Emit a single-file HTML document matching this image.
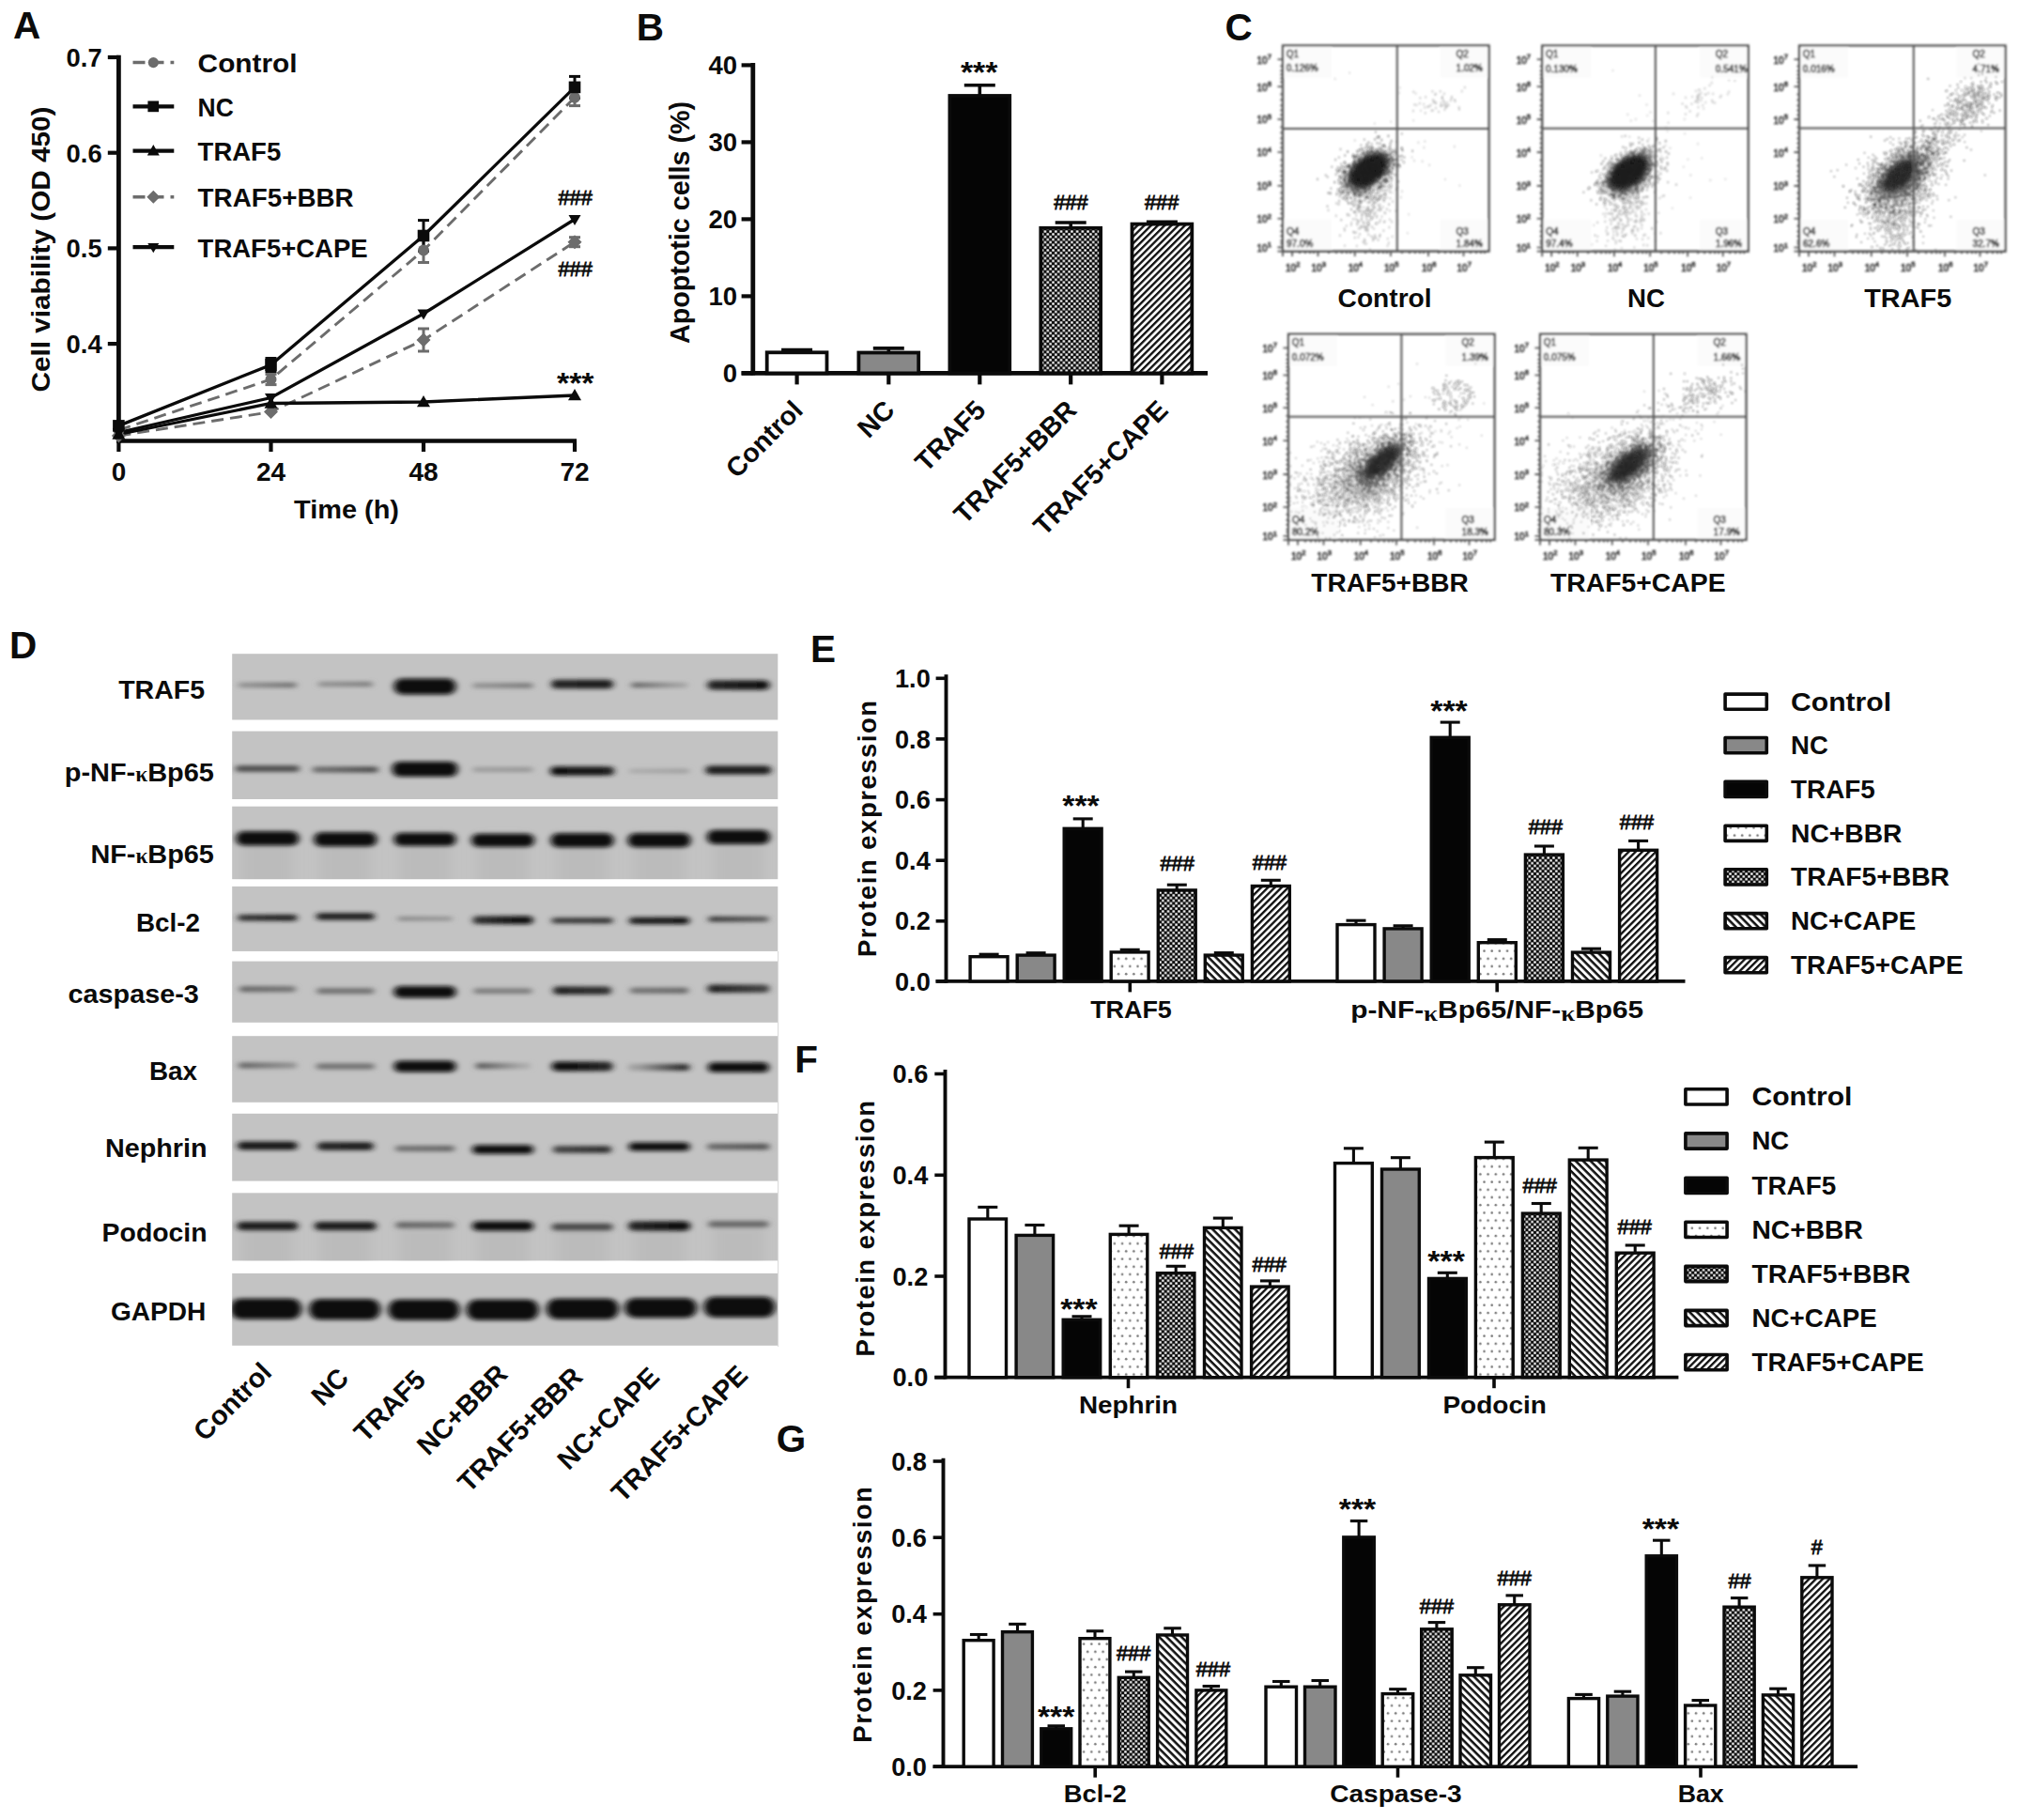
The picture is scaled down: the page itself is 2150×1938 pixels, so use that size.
<!DOCTYPE html>
<html lang="en"><head><meta charset="utf-8"><title>Figure</title>
<style>
html,body{margin:0;padding:0;background:#fff;}
body{width:2150px;height:1938px;overflow:hidden;}
svg{display:block;font-family:"Liberation Sans", sans-serif;font-weight:bold;fill:#0b0b0b;filter:blur(0.55px);}
</style></head><body>
<svg width="2150" height="1938" viewBox="0 0 2150 1938">
<defs>
<pattern id="pDots" width="8.2" height="16.4" patternUnits="userSpaceOnUse"><rect width="8.2" height="16.4" fill="#fff"/><circle cx="2" cy="4" r="1.3" fill="#808080"/><circle cx="6.1" cy="12.2" r="1.3" fill="#808080"/></pattern>
<pattern id="pChk" width="5.7" height="5.7" patternUnits="userSpaceOnUse"><rect width="5.7" height="5.7" fill="#0b0b0b"/><rect x="0.2" y="0.2" width="2.5" height="2.5" rx="0.6" fill="#fff"/><rect x="3.05" y="3.05" width="2.5" height="2.5" rx="0.6" fill="#fff"/></pattern>
<pattern id="pBs" width="5.6" height="5.6" patternUnits="userSpaceOnUse" patternTransform="rotate(45)"><rect width="5.6" height="5.6" fill="#fff"/><rect x="0" y="0" width="5.6" height="2.55" fill="#111"/></pattern>
<pattern id="pFs" width="5.1" height="5.1" patternUnits="userSpaceOnUse" patternTransform="rotate(-45)"><rect width="5.1" height="5.1" fill="#fff"/><rect x="0" y="0" width="5.1" height="2.35" fill="#111"/></pattern>
<filter id="b1" x="-20%" y="-80%" width="140%" height="260%"><feGaussianBlur stdDeviation="3.6 1.9"/></filter>
<filter id="b2" x="-20%" y="-60%" width="140%" height="220%"><feGaussianBlur stdDeviation="3 2.2"/></filter>
<filter id="b0" x="-5%" y="-5%" width="110%" height="110%"><feGaussianBlur stdDeviation="0.7"/></filter>
<filter id="bp" x="-5%" y="-5%" width="110%" height="110%"><feGaussianBlur stdDeviation="0.7"/></filter>
<filter id="bq" x="-20%" y="-10%" width="130%" height="125%"><feGaussianBlur stdDeviation="0.8"/></filter>
<filter id="b3" x="-20%" y="-30%" width="140%" height="160%"><feGaussianBlur stdDeviation="6 5"/></filter>
</defs>
<rect width="2150" height="1938" fill="#fff"/>
<text x="14.0" y="41.1" font-size="40.5">A</text>
<line x1="126.4" y1="58.8" x2="126.4" y2="471.7" stroke="#0b0b0b" stroke-width="4.8"/>
<line x1="124.4" y1="469.5" x2="614.0" y2="469.5" stroke="#0b0b0b" stroke-width="4.6"/>
<line x1="114.8" y1="61.0" x2="126.4" y2="61.0" stroke="#0b0b0b" stroke-width="4.2"/>
<text x="108.6" y="70.8" font-size="27.5" text-anchor="end" textLength="38.0" lengthAdjust="spacingAndGlyphs">0.7</text>
<line x1="114.8" y1="162.7" x2="126.4" y2="162.7" stroke="#0b0b0b" stroke-width="4.2"/>
<text x="108.6" y="172.5" font-size="27.5" text-anchor="end" textLength="38.0" lengthAdjust="spacingAndGlyphs">0.6</text>
<line x1="114.8" y1="264.4" x2="126.4" y2="264.4" stroke="#0b0b0b" stroke-width="4.2"/>
<text x="108.6" y="274.2" font-size="27.5" text-anchor="end" textLength="38.0" lengthAdjust="spacingAndGlyphs">0.5</text>
<line x1="114.8" y1="366.1" x2="126.4" y2="366.1" stroke="#0b0b0b" stroke-width="4.2"/>
<text x="108.6" y="375.9" font-size="27.5" text-anchor="end" textLength="38.0" lengthAdjust="spacingAndGlyphs">0.4</text>
<line x1="126.4" y1="469.5" x2="126.4" y2="481.0" stroke="#0b0b0b" stroke-width="4.2"/>
<text x="126.4" y="511.6" font-size="27.5" text-anchor="middle" textLength="15.5" lengthAdjust="spacingAndGlyphs">0</text>
<line x1="288.5" y1="469.5" x2="288.5" y2="481.0" stroke="#0b0b0b" stroke-width="4.2"/>
<text x="288.5" y="511.6" font-size="27.5" text-anchor="middle" textLength="31.2" lengthAdjust="spacingAndGlyphs">24</text>
<line x1="451.0" y1="469.5" x2="451.0" y2="481.0" stroke="#0b0b0b" stroke-width="4.2"/>
<text x="451.0" y="511.6" font-size="27.5" text-anchor="middle" textLength="31.2" lengthAdjust="spacingAndGlyphs">48</text>
<line x1="612.0" y1="469.5" x2="612.0" y2="481.0" stroke="#0b0b0b" stroke-width="4.2"/>
<text x="612.0" y="511.6" font-size="27.5" text-anchor="middle" textLength="31.2" lengthAdjust="spacingAndGlyphs">72</text>
<text x="369.0" y="551.5" font-size="27" text-anchor="middle" textLength="112.0" lengthAdjust="spacingAndGlyphs">Time (h)</text>
<text x="53.2" y="265.5" font-size="28" text-anchor="middle" transform="rotate(-90 53.2 265.5)" textLength="304.0" lengthAdjust="spacingAndGlyphs">Cell viability (OD 450)</text>
<polyline points="126.4,464.0 288.5,438.6 451.0,362.0 612.0,257.7" fill="none" stroke="#6c6c6c" stroke-width="2.9" stroke-dasharray="13 7"/>
<polyline points="126.4,458.0 288.5,404.0 451.0,266.5 612.0,103.8" fill="none" stroke="#6c6c6c" stroke-width="2.9" stroke-dasharray="13 7"/>
<polyline points="126.4,462.5 288.5,429.5 451.0,428.0 612.0,421.0" fill="none" stroke="#0b0b0b" stroke-width="3.3"/>
<polyline points="126.4,460.5 288.5,423.5 451.0,334.0 612.0,233.5" fill="none" stroke="#0b0b0b" stroke-width="3.3"/>
<polyline points="126.4,453.4 288.5,388.5 451.0,251.0 612.0,92.9" fill="none" stroke="#0b0b0b" stroke-width="3.3"/>
<line x1="288.5" y1="398.4" x2="288.5" y2="409.6" stroke="#6c6c6c" stroke-width="3"/>
<line x1="282.5" y1="398.4" x2="294.5" y2="398.4" stroke="#6c6c6c" stroke-width="3"/>
<line x1="282.5" y1="409.6" x2="294.5" y2="409.6" stroke="#6c6c6c" stroke-width="3"/>
<line x1="451.0" y1="253.5" x2="451.0" y2="279.5" stroke="#6c6c6c" stroke-width="3"/>
<line x1="445.0" y1="253.5" x2="457.0" y2="253.5" stroke="#6c6c6c" stroke-width="3"/>
<line x1="445.0" y1="279.5" x2="457.0" y2="279.5" stroke="#6c6c6c" stroke-width="3"/>
<line x1="612.0" y1="95.0" x2="612.0" y2="112.6" stroke="#6c6c6c" stroke-width="3"/>
<line x1="606.0" y1="95.0" x2="618.0" y2="95.0" stroke="#6c6c6c" stroke-width="3"/>
<line x1="606.0" y1="112.6" x2="618.0" y2="112.6" stroke="#6c6c6c" stroke-width="3"/>
<line x1="451.0" y1="350.0" x2="451.0" y2="374.0" stroke="#6c6c6c" stroke-width="3"/>
<line x1="445.0" y1="350.0" x2="457.0" y2="350.0" stroke="#6c6c6c" stroke-width="3"/>
<line x1="445.0" y1="374.0" x2="457.0" y2="374.0" stroke="#6c6c6c" stroke-width="3"/>
<line x1="612.0" y1="252.7" x2="612.0" y2="262.7" stroke="#6c6c6c" stroke-width="3"/>
<line x1="606.0" y1="252.7" x2="618.0" y2="252.7" stroke="#6c6c6c" stroke-width="3"/>
<line x1="606.0" y1="262.7" x2="618.0" y2="262.7" stroke="#6c6c6c" stroke-width="3"/>
<line x1="288.5" y1="381.5" x2="288.5" y2="395.5" stroke="#0b0b0b" stroke-width="3"/>
<line x1="282.5" y1="381.5" x2="294.5" y2="381.5" stroke="#0b0b0b" stroke-width="3"/>
<line x1="282.5" y1="395.5" x2="294.5" y2="395.5" stroke="#0b0b0b" stroke-width="3"/>
<line x1="451.0" y1="234.6" x2="451.0" y2="267.4" stroke="#0b0b0b" stroke-width="3"/>
<line x1="445.0" y1="234.6" x2="457.0" y2="234.6" stroke="#0b0b0b" stroke-width="3"/>
<line x1="445.0" y1="267.4" x2="457.0" y2="267.4" stroke="#0b0b0b" stroke-width="3"/>
<line x1="612.0" y1="81.4" x2="612.0" y2="104.4" stroke="#0b0b0b" stroke-width="3"/>
<line x1="606.0" y1="81.4" x2="618.0" y2="81.4" stroke="#0b0b0b" stroke-width="3"/>
<line x1="606.0" y1="104.4" x2="618.0" y2="104.4" stroke="#0b0b0b" stroke-width="3"/>
<path d="M126.4 456.5L133.9 464.0L126.4 471.5L118.9 464.0Z" fill="#6c6c6c"/>
<path d="M288.5 431.1L296.0 438.6L288.5 446.1L281.0 438.6Z" fill="#6c6c6c"/>
<path d="M451.0 354.5L458.5 362.0L451.0 369.5L443.5 362.0Z" fill="#6c6c6c"/>
<path d="M612.0 250.2L619.5 257.7L612.0 265.2L604.5 257.7Z" fill="#6c6c6c"/>
<circle cx="126.4" cy="458.0" r="6.0" fill="#6c6c6c"/>
<circle cx="288.5" cy="404.0" r="6.0" fill="#6c6c6c"/>
<circle cx="451.0" cy="266.5" r="6.0" fill="#6c6c6c"/>
<circle cx="612.0" cy="103.8" r="6.0" fill="#6c6c6c"/>
<path d="M126.4 455.5L133.4 467.8L119.4 467.8Z" fill="#0b0b0b"/>
<path d="M288.5 422.5L295.5 434.8L281.5 434.8Z" fill="#0b0b0b"/>
<path d="M451.0 421.0L458.0 433.2L444.0 433.2Z" fill="#0b0b0b"/>
<path d="M612.0 414.0L619.0 426.2L605.0 426.2Z" fill="#0b0b0b"/>
<path d="M126.4 467.0L132.9 455.9L119.9 455.9Z" fill="#0b0b0b"/>
<path d="M288.5 430.0L295.0 418.9L282.0 418.9Z" fill="#0b0b0b"/>
<path d="M451.0 340.5L457.5 329.4L444.5 329.4Z" fill="#0b0b0b"/>
<path d="M612.0 240.0L618.5 228.9L605.5 228.9Z" fill="#0b0b0b"/>
<rect x="120.1" y="447.1" width="12.6" height="12.6" fill="#0b0b0b"/>
<rect x="282.2" y="382.2" width="12.6" height="12.6" fill="#0b0b0b"/>
<rect x="444.7" y="244.7" width="12.6" height="12.6" fill="#0b0b0b"/>
<rect x="605.7" y="86.6" width="12.6" height="12.6" fill="#0b0b0b"/>
<line x1="141.5" y1="66.6" x2="185.3" y2="66.6" stroke="#6c6c6c" stroke-width="3.5" stroke-dasharray="13 7"/>
<circle cx="163.3" cy="66.6" r="5.6" fill="#6c6c6c"/>
<text x="210.6" y="76.9" font-size="28" textLength="106.0" lengthAdjust="spacingAndGlyphs">Control</text>
<line x1="141.5" y1="113.4" x2="185.3" y2="113.4" stroke="#0b0b0b" stroke-width="4.2"/>
<rect x="157.4" y="107.5" width="11.7" height="11.7" fill="#0b0b0b"/>
<text x="210.6" y="123.7" font-size="28" textLength="38.3" lengthAdjust="spacingAndGlyphs">NC</text>
<line x1="141.5" y1="160.6" x2="185.3" y2="160.6" stroke="#0b0b0b" stroke-width="4.2"/>
<path d="M163.3 154.1L169.8 165.5L156.8 165.5Z" fill="#0b0b0b"/>
<text x="210.6" y="170.9" font-size="28" textLength="88.6" lengthAdjust="spacingAndGlyphs">TRAF5</text>
<line x1="141.5" y1="209.7" x2="185.3" y2="209.7" stroke="#6c6c6c" stroke-width="3.5" stroke-dasharray="13 7"/>
<path d="M163.3 202.7L170.3 209.7L163.3 216.7L156.3 209.7Z" fill="#6c6c6c"/>
<text x="210.6" y="220.0" font-size="28" textLength="166.0" lengthAdjust="spacingAndGlyphs">TRAF5+BBR</text>
<line x1="141.5" y1="263.2" x2="185.3" y2="263.2" stroke="#0b0b0b" stroke-width="4.2"/>
<path d="M163.3 269.2L169.3 259.0L157.3 259.0Z" fill="#0b0b0b"/>
<text x="210.6" y="273.5" font-size="28" textLength="181.0" lengthAdjust="spacingAndGlyphs">TRAF5+CAPE</text>
<text x="612.6" y="217.8" font-size="21.5" text-anchor="middle" font-weight="normal" textLength="36.3" lengthAdjust="spacingAndGlyphs" stroke="#0b0b0b" stroke-width="0.8">###</text>
<text x="612.6" y="293.6" font-size="21.5" text-anchor="middle" font-weight="normal" textLength="36.3" lengthAdjust="spacingAndGlyphs" stroke="#0b0b0b" stroke-width="0.8">###</text>
<text x="612.8" y="419.0" font-size="31" text-anchor="middle" textLength="39.5" lengthAdjust="spacingAndGlyphs">***</text>
<text x="677.8" y="42.6" font-size="40.5">B</text>
<line x1="801.8" y1="67.0" x2="801.8" y2="399.6" stroke="#0b0b0b" stroke-width="4.8"/>
<line x1="789.6" y1="397.4" x2="1286.0" y2="397.4" stroke="#0b0b0b" stroke-width="4.6"/>
<line x1="789.6" y1="397.4" x2="801.8" y2="397.4" stroke="#0b0b0b" stroke-width="4.2"/>
<text x="785.0" y="407.2" font-size="27.5" text-anchor="end">0</text>
<line x1="789.6" y1="315.4" x2="801.8" y2="315.4" stroke="#0b0b0b" stroke-width="4.2"/>
<text x="785.0" y="325.2" font-size="27.5" text-anchor="end">10</text>
<line x1="789.6" y1="233.4" x2="801.8" y2="233.4" stroke="#0b0b0b" stroke-width="4.2"/>
<text x="785.0" y="243.2" font-size="27.5" text-anchor="end">20</text>
<line x1="789.6" y1="151.4" x2="801.8" y2="151.4" stroke="#0b0b0b" stroke-width="4.2"/>
<text x="785.0" y="161.2" font-size="27.5" text-anchor="end">30</text>
<line x1="789.6" y1="69.4" x2="801.8" y2="69.4" stroke="#0b0b0b" stroke-width="4.2"/>
<text x="785.0" y="79.2" font-size="27.5" text-anchor="end">40</text>
<text x="733.7" y="237.0" font-size="29" text-anchor="middle" transform="rotate(-90 733.7 237.0)" textLength="258.0" lengthAdjust="spacingAndGlyphs">Apoptotic cells (%)</text>
<line x1="848.6" y1="375.4" x2="848.6" y2="372.5" stroke="#0b0b0b" stroke-width="3.6"/>
<line x1="832.1" y1="372.5" x2="865.1" y2="372.5" stroke="#0b0b0b" stroke-width="3.6"/>
<rect x="816.7" y="375.3" width="63.8" height="22.1" fill="#fff" stroke="#0b0b0b" stroke-width="3.8"/>
<line x1="848.6" y1="397.4" x2="848.6" y2="409.4" stroke="#0b0b0b" stroke-width="4.2"/>
<text x="856.6" y="438.5" font-size="28.6" text-anchor="end" transform="rotate(-45 856.6 438.5)">Control</text>
<line x1="946.3" y1="375.6" x2="946.3" y2="370.9" stroke="#0b0b0b" stroke-width="3.6"/>
<line x1="929.8" y1="370.9" x2="962.8" y2="370.9" stroke="#0b0b0b" stroke-width="3.6"/>
<rect x="914.4" y="375.5" width="63.8" height="21.9" fill="#888" stroke="#0b0b0b" stroke-width="3.8"/>
<line x1="946.3" y1="397.4" x2="946.3" y2="409.4" stroke="#0b0b0b" stroke-width="4.2"/>
<text x="954.3" y="438.5" font-size="28.6" text-anchor="end" transform="rotate(-45 954.3 438.5)">NC</text>
<line x1="1043.3" y1="102.1" x2="1043.3" y2="90.7" stroke="#0b0b0b" stroke-width="3.6"/>
<line x1="1026.8" y1="90.7" x2="1059.8" y2="90.7" stroke="#0b0b0b" stroke-width="3.6"/>
<rect x="1011.4" y="102.0" width="63.8" height="295.4" fill="#050505" stroke="#0b0b0b" stroke-width="3.8"/>
<line x1="1043.3" y1="397.4" x2="1043.3" y2="409.4" stroke="#0b0b0b" stroke-width="4.2"/>
<text x="1051.3" y="438.5" font-size="28.6" text-anchor="end" transform="rotate(-45 1051.3 438.5)">TRAF5</text>
<line x1="1140.2" y1="242.9" x2="1140.2" y2="237.0" stroke="#0b0b0b" stroke-width="3.6"/>
<line x1="1123.7" y1="237.0" x2="1156.7" y2="237.0" stroke="#0b0b0b" stroke-width="3.6"/>
<rect x="1108.3" y="242.8" width="63.8" height="154.6" fill="url(#pChk)" stroke="#0b0b0b" stroke-width="3.8"/>
<line x1="1140.2" y1="397.4" x2="1140.2" y2="409.4" stroke="#0b0b0b" stroke-width="4.2"/>
<text x="1148.2" y="438.5" font-size="28.6" text-anchor="end" transform="rotate(-45 1148.2 438.5)">TRAF5+BBR</text>
<line x1="1237.4" y1="238.7" x2="1237.4" y2="236.2" stroke="#0b0b0b" stroke-width="3.6"/>
<line x1="1220.9" y1="236.2" x2="1253.9" y2="236.2" stroke="#0b0b0b" stroke-width="3.6"/>
<rect x="1205.5" y="238.6" width="63.8" height="158.8" fill="url(#pFs)" stroke="#0b0b0b" stroke-width="3.8"/>
<line x1="1237.4" y1="397.4" x2="1237.4" y2="409.4" stroke="#0b0b0b" stroke-width="4.2"/>
<text x="1245.4" y="438.5" font-size="28.6" text-anchor="end" transform="rotate(-45 1245.4 438.5)">TRAF5+CAPE</text>
<text x="1042.7" y="88.4" font-size="31" text-anchor="middle" textLength="39.5" lengthAdjust="spacingAndGlyphs">***</text>
<text x="1140.4" y="223.3" font-size="21.5" text-anchor="middle" font-weight="normal" textLength="36.3" lengthAdjust="spacingAndGlyphs" stroke="#0b0b0b" stroke-width="0.8">###</text>
<text x="1237.1" y="223.3" font-size="21.5" text-anchor="middle" font-weight="normal" textLength="36.3" lengthAdjust="spacingAndGlyphs" stroke="#0b0b0b" stroke-width="0.8">###</text>
<text x="1304.4" y="43.1" font-size="40.5">C</text>
<g transform="translate(1366.0 48.4)" filter="url(#bq)">
<rect x="2" y="2" width="50" height="32" fill="#fbfbfb"/>
<rect x="167.6" y="2" width="50" height="32" fill="#fbfbfb"/>
<rect x="2" y="185.2" width="50" height="32" fill="#fbfbfb"/>
<rect x="167.6" y="185.2" width="50" height="32" fill="#fbfbfb"/>
<ellipse cx="91" cy="133" rx="24" ry="14" transform="rotate(-38 91 133)" fill="#111" opacity="0.9" filter="url(#b2)"/>
<g filter="url(#bp)">
<path d="M90.4 138.6h1.7M86.4 132.8h1.7M79.1 139.6h1.7M105.0 126.3h1.7M103.2 125.7h1.7M95.8 130.8h1.7M76.6 153.1h1.7M98.7 132.0h1.7M62.7 135.9h1.7M78.2 137.5h1.7M93.6 130.1h1.7M92.9 124.2h1.7M96.0 133.0h1.7M92.2 150.2h1.7M102.9 136.2h1.7M79.8 133.4h1.7M86.1 135.3h1.7M98.8 129.2h1.7M80.6 130.4h1.7M91.1 145.7h1.7M82.9 141.6h1.7M87.4 119.3h1.7M97.9 141.3h1.7M66.6 148.2h1.7M85.1 128.4h1.7M95.7 128.3h1.7M78.7 151.2h1.7M102.8 133.6h1.7M108.3 123.0h1.7M85.0 123.3h1.7M94.1 123.6h1.7M78.9 128.4h1.7M77.0 137.8h1.7M94.1 108.3h1.7M75.7 147.2h1.7M109.5 124.4h1.7M56.4 132.5h1.7M90.6 125.0h1.7M83.3 149.2h1.7M103.5 124.6h1.7M95.5 133.8h1.7M111.3 123.4h1.7M99.1 132.2h1.7M79.9 155.1h1.7M103.8 128.3h1.7M65.4 145.8h1.7M90.3 113.6h1.7M93.8 141.4h1.7M84.5 155.1h1.7M95.8 127.2h1.7M97.5 134.6h1.7M97.8 139.6h1.7M81.0 135.9h1.7M102.1 124.2h1.7M85.7 146.9h1.7M104.3 117.4h1.7M74.6 144.0h1.7M87.3 132.3h1.7M100.6 114.0h1.7M97.8 113.6h1.7M85.1 144.0h1.7M107.4 129.0h1.7M95.1 131.0h1.7M95.2 135.5h1.7M90.0 136.4h1.7M96.8 128.1h1.7M101.9 130.2h1.7M114.4 117.8h1.7M83.8 134.2h1.7M95.2 139.3h1.7M88.8 138.5h1.7M97.3 100.0h1.7M79.4 144.3h1.7M96.1 131.2h1.7M89.2 141.1h1.7M90.9 127.1h1.7M119.2 114.4h1.7M83.9 137.1h1.7M87.7 134.5h1.7M57.9 153.3h1.7M95.5 116.5h1.7M94.8 140.0h1.7M107.7 135.6h1.7M69.9 145.3h1.7M90.0 140.1h1.7M88.5 105.6h1.7M94.9 113.9h1.7M90.2 117.1h1.7M98.7 139.5h1.7M89.9 135.6h1.7M100.0 127.1h1.7M97.5 144.0h1.7M100.5 122.0h1.7M114.8 101.7h1.7M99.2 123.3h1.7M95.6 136.6h1.7M96.3 135.4h1.7M65.8 136.1h1.7M92.2 121.2h1.7M71.5 132.0h1.7M108.4 127.1h1.7M101.8 114.0h1.7M84.5 125.4h1.7M107.3 137.0h1.7M88.8 151.1h1.7M100.5 123.3h1.7M76.1 159.4h1.7M86.3 129.8h1.7M97.1 132.3h1.7M101.7 113.3h1.7M110.8 133.2h1.7M105.6 119.3h1.7M87.6 146.2h1.7M92.4 132.8h1.7M104.8 119.0h1.7M63.1 150.2h1.7M74.3 154.5h1.7M90.8 126.2h1.7M94.8 138.7h1.7M98.3 141.2h1.7M95.3 140.5h1.7M115.4 130.9h1.7M87.7 144.7h1.7M64.1 141.9h1.7M74.4 157.1h1.7M76.8 143.5h1.7M88.2 134.5h1.7M85.2 139.7h1.7M110.5 117.9h1.7M101.6 135.1h1.7M81.7 126.3h1.7M90.0 145.0h1.7M69.2 143.2h1.7M105.8 129.6h1.7M94.8 138.3h1.7M86.2 123.7h1.7M69.9 142.2h1.7M97.7 121.3h1.7M76.5 135.6h1.7M73.0 145.4h1.7M79.4 145.6h1.7M66.2 155.5h1.7M73.3 125.5h1.7M97.1 124.9h1.7M61.3 146.4h1.7M91.3 127.4h1.7M103.0 131.3h1.7M99.6 129.4h1.7M108.7 125.9h1.7M84.6 115.2h1.7M107.2 134.0h1.7M84.8 132.4h1.7M102.7 104.5h1.7M108.4 145.2h1.7M83.9 145.6h1.7M110.7 115.9h1.7M101.4 134.2h1.7M80.0 140.2h1.7M98.0 136.0h1.7M89.1 132.0h1.7M77.4 139.4h1.7M100.9 126.0h1.7M76.7 134.7h1.7M125.9 117.7h1.7M84.0 110.1h1.7M99.9 130.9h1.7M111.3 121.3h1.7M92.5 137.1h1.7M74.5 156.7h1.7M90.4 125.5h1.7M114.6 133.7h1.7M71.5 140.6h1.7M94.7 131.7h1.7M81.0 129.9h1.7M119.3 121.7h1.7M70.3 134.3h1.7M114.5 124.9h1.7M114.8 122.7h1.7M82.2 142.3h1.7M62.8 146.6h1.7M92.6 137.0h1.7M81.8 138.4h1.7M97.5 131.6h1.7M98.6 128.9h1.7M91.1 141.1h1.7M86.7 127.0h1.7M83.6 138.4h1.7M90.1 135.0h1.7M91.4 134.2h1.7M82.4 125.7h1.7M100.7 136.4h1.7M94.3 128.0h1.7M90.4 122.7h1.7M69.9 149.7h1.7M84.1 146.0h1.7M64.8 124.7h1.7M87.3 152.5h1.7M79.1 127.1h1.7M84.8 143.1h1.7M96.9 129.9h1.7M110.6 124.9h1.7M93.4 137.2h1.7M113.8 125.2h1.7M96.1 116.9h1.7M92.7 139.2h1.7M92.8 142.7h1.7M101.8 133.9h1.7M101.5 151.9h1.7M103.1 120.9h1.7M105.1 149.6h1.7M91.3 141.8h1.7M101.4 124.6h1.7M78.6 144.3h1.7M100.4 137.5h1.7M99.3 126.4h1.7M102.7 129.3h1.7M93.1 131.6h1.7M91.4 139.7h1.7M75.6 137.9h1.7M82.9 123.2h1.7M75.2 123.3h1.7M85.9 142.7h1.7M96.5 127.8h1.7M80.5 125.5h1.7M113.4 120.7h1.7M97.9 117.7h1.7M78.9 122.4h1.7M104.0 132.5h1.7M69.3 149.0h1.7M88.2 115.8h1.7M64.8 141.6h1.7M76.2 129.0h1.7M92.2 134.4h1.7M101.2 132.2h1.7M113.2 127.8h1.7M73.4 140.9h1.7M73.2 134.9h1.7M89.6 133.7h1.7M87.6 118.1h1.7M76.7 143.5h1.7M86.7 132.6h1.7M85.8 128.5h1.7M100.1 129.3h1.7M86.0 129.3h1.7M74.3 116.3h1.7M79.9 141.7h1.7M75.0 147.3h1.7M84.9 122.5h1.7M86.1 133.1h1.7M98.8 133.1h1.7M85.6 127.6h1.7M88.6 133.8h1.7M100.1 128.6h1.7M75.4 130.2h1.7M82.5 131.3h1.7M77.6 141.8h1.7M85.6 137.9h1.7M94.1 125.7h1.7M114.5 110.8h1.7M103.3 124.3h1.7M90.4 107.5h1.7M83.5 141.1h1.7M109.4 143.5h1.7M100.8 138.8h1.7M103.9 132.7h1.7M95.3 127.6h1.7M90.5 121.4h1.7M98.2 116.0h1.7M104.3 145.1h1.7M88.1 135.1h1.7M103.5 123.2h1.7M82.9 141.7h1.7M100.6 132.7h1.7M91.1 151.4h1.7M109.0 118.8h1.7M91.2 127.8h1.7M102.4 116.1h1.7M95.4 124.0h1.7M86.6 143.8h1.7M105.2 121.4h1.7M87.3 144.3h1.7M91.6 135.5h1.7M113.2 127.5h1.7M96.7 152.8h1.7M94.6 138.2h1.7M83.1 138.3h1.7M80.5 160.1h1.7M99.2 113.1h1.7M65.4 135.1h1.7M101.1 119.8h1.7M88.2 131.4h1.7M83.5 126.8h1.7M83.2 123.2h1.7M91.3 135.7h1.7M94.4 127.4h1.7M81.4 141.9h1.7M93.3 147.7h1.7M98.4 125.6h1.7M81.6 132.4h1.7M78.3 138.7h1.7M96.4 133.9h1.7M107.8 142.2h1.7M82.8 139.2h1.7M111.6 96.4h1.7M85.6 138.6h1.7M94.3 134.4h1.7M89.8 137.5h1.7M95.1 137.7h1.7M65.0 143.4h1.7M85.1 126.1h1.7M82.3 146.2h1.7M86.7 142.9h1.7M100.3 128.6h1.7M95.6 127.9h1.7M74.8 144.9h1.7M92.7 125.5h1.7M93.3 138.9h1.7M84.2 144.9h1.7M108.1 113.2h1.7M91.3 130.7h1.7M109.1 121.8h1.7M96.8 120.6h1.7M90.3 133.1h1.7M78.4 158.0h1.7M91.3 113.5h1.7M98.0 125.7h1.7M97.4 131.6h1.7M72.9 144.5h1.7M104.0 116.3h1.7M72.1 132.7h1.7M78.8 145.8h1.7M111.4 121.3h1.7M104.9 145.8h1.7M81.2 133.0h1.7M99.2 132.1h1.7M73.2 133.9h1.7M95.0 132.1h1.7M75.0 142.9h1.7M86.9 140.8h1.7M88.8 133.4h1.7M92.1 143.1h1.7M103.9 118.6h1.7M95.9 120.6h1.7M95.2 137.4h1.7M105.2 117.4h1.7M90.7 135.0h1.7M74.1 146.0h1.7M85.0 141.3h1.7M67.7 129.5h1.7M92.3 134.4h1.7M89.1 143.7h1.7M84.3 131.3h1.7M87.6 118.4h1.7M82.9 138.7h1.7M99.0 124.6h1.7M90.5 126.0h1.7M102.5 141.5h1.7M95.3 154.8h1.7M83.5 138.7h1.7M97.8 138.4h1.7M65.9 129.6h1.7M101.3 133.1h1.7M111.1 145.2h1.7M94.1 132.9h1.7M102.7 127.5h1.7M102.4 110.4h1.7M68.3 113.2h1.7M97.5 123.5h1.7M112.0 139.5h1.7M89.1 131.3h1.7M80.6 131.7h1.7M86.9 142.7h1.7M91.3 133.1h1.7M93.4 140.6h1.7M95.2 127.8h1.7M97.0 126.3h1.7M85.4 152.7h1.7M90.6 122.6h1.7M104.2 126.0h1.7M81.7 157.3h1.7M98.8 136.1h1.7M91.9 130.3h1.7M78.5 152.9h1.7M89.3 130.8h1.7M94.8 130.5h1.7M96.0 124.7h1.7M78.9 119.0h1.7M89.4 141.2h1.7M103.3 119.0h1.7M97.4 144.7h1.7M90.7 140.7h1.7M109.2 118.8h1.7M100.3 117.7h1.7M92.4 130.7h1.7M97.7 139.6h1.7M113.4 107.9h1.7M86.8 141.3h1.7M81.5 145.4h1.7M95.4 126.2h1.7M88.3 118.0h1.7M90.8 116.1h1.7M79.9 135.3h1.7M90.6 142.2h1.7M89.3 129.6h1.7M104.8 138.9h1.7M92.5 135.4h1.7M105.6 124.1h1.7M89.4 160.7h1.7M104.5 100.7h1.7M92.3 136.1h1.7M104.7 129.2h1.7M82.0 128.3h1.7M97.0 139.0h1.7M73.1 135.5h1.7M80.1 120.2h1.7M85.3 132.3h1.7M91.8 124.4h1.7M78.7 138.0h1.7M86.5 129.0h1.7M94.6 137.9h1.7M112.5 134.2h1.7M79.7 136.9h1.7M73.0 167.1h1.7M82.3 139.0h1.7M89.2 119.4h1.7M95.5 128.8h1.7M71.9 150.7h1.7M93.9 110.2h1.7M100.5 127.4h1.7M98.0 131.9h1.7M103.7 120.3h1.7M98.0 122.7h1.7M94.3 121.3h1.7M98.4 145.5h1.7M94.6 128.1h1.7M73.7 137.6h1.7M97.6 137.6h1.7M97.9 132.8h1.7M97.1 142.4h1.7M83.3 132.7h1.7M100.6 125.8h1.7M84.4 131.5h1.7M90.9 139.4h1.7M88.1 121.8h1.7M96.1 130.5h1.7M83.5 146.8h1.7M85.7 133.2h1.7M106.2 135.0h1.7M85.2 141.9h1.7M92.9 156.1h1.7M91.3 145.3h1.7M87.6 144.0h1.7M101.7 96.9h1.7M88.3 140.1h1.7M86.0 129.3h1.7M114.7 115.0h1.7M76.8 152.9h1.7M77.5 155.5h1.7M84.9 138.9h1.7M105.0 122.9h1.7M66.3 133.6h1.7M107.4 127.8h1.7M86.0 145.8h1.7M99.4 133.1h1.7M64.0 150.4h1.7M104.3 130.2h1.7M87.4 108.9h1.7M94.9 134.8h1.7M113.7 104.6h1.7M87.1 136.1h1.7M98.0 122.4h1.7M99.0 117.8h1.7M90.7 127.2h1.7M88.6 127.0h1.7M78.6 154.1h1.7M90.9 126.6h1.7M97.9 137.9h1.7M79.1 140.7h1.7M99.2 131.9h1.7M75.8 121.8h1.7M105.9 124.5h1.7M89.2 131.0h1.7M91.2 127.9h1.7M75.3 136.9h1.7M80.7 134.0h1.7M81.0 147.2h1.7M79.5 148.7h1.7M81.2 144.1h1.7M106.7 122.5h1.7M82.7 139.6h1.7M83.1 120.1h1.7M84.6 139.3h1.7M85.7 137.6h1.7M102.6 131.8h1.7M103.6 129.1h1.7M87.2 135.4h1.7M85.9 133.2h1.7M79.5 123.0h1.7M86.7 135.7h1.7M79.6 141.2h1.7M95.3 127.5h1.7M99.8 97.6h1.7M78.7 122.6h1.7M115.2 142.3h1.7M63.6 155.4h1.7M94.6 126.5h1.7M84.8 113.2h1.7M101.8 128.1h1.7M87.7 128.9h1.7M95.0 124.2h1.7M90.3 127.7h1.7M65.5 152.2h1.7M96.7 136.3h1.7M80.7 140.3h1.7M98.1 128.7h1.7M114.6 135.6h1.7M70.4 128.0h1.7M108.0 135.9h1.7M104.9 130.5h1.7M79.9 133.6h1.7M95.5 119.2h1.7M65.3 141.9h1.7M128.1 124.4h1.7M79.1 134.0h1.7M89.1 126.0h1.7M104.5 121.2h1.7M85.4 151.1h1.7M85.2 139.5h1.7M88.7 131.0h1.7M90.5 125.6h1.7M58.6 134.1h1.7M72.6 138.8h1.7M90.5 133.6h1.7M97.3 129.0h1.7M78.0 135.1h1.7M66.2 150.1h1.7M98.6 132.4h1.7M88.2 132.9h1.7M100.9 125.0h1.7M101.7 130.5h1.7M99.7 139.9h1.7M82.3 135.5h1.7M77.4 134.6h1.7M116.9 131.4h1.7M93.7 136.6h1.7M107.7 128.3h1.7M97.2 114.2h1.7M85.8 141.5h1.7M106.9 121.3h1.7M79.2 138.0h1.7M78.7 132.9h1.7M103.8 115.9h1.7M102.0 147.3h1.7M105.3 125.0h1.7M85.9 141.0h1.7M111.7 123.2h1.7M104.9 122.8h1.7M95.1 127.2h1.7M102.0 138.0h1.7M74.4 144.9h1.7M90.2 127.1h1.7M91.2 140.9h1.7M115.9 120.0h1.7M86.0 119.8h1.7M112.2 116.9h1.7M84.3 125.8h1.7M84.1 126.1h1.7M93.7 135.5h1.7M92.3 134.6h1.7M88.6 149.9h1.7M73.8 126.5h1.7M84.4 129.5h1.7M77.5 139.3h1.7M87.5 122.6h1.7M96.4 143.7h1.7M97.2 126.1h1.7M91.3 131.1h1.7M93.8 138.3h1.7M76.9 117.7h1.7M85.6 127.2h1.7M94.5 123.3h1.7M103.5 146.3h1.7M73.1 134.5h1.7M62.4 129.1h1.7M71.7 151.6h1.7M73.7 126.0h1.7M77.4 149.9h1.7M80.0 137.2h1.7M101.2 139.2h1.7M117.3 123.2h1.7M93.0 133.0h1.7M117.9 127.0h1.7M89.5 138.7h1.7M93.9 130.9h1.7M78.0 128.4h1.7M76.5 127.3h1.7M106.8 126.0h1.7M84.5 152.7h1.7M90.3 112.5h1.7M115.1 122.6h1.7M106.8 107.0h1.7M98.6 131.3h1.7M93.6 132.4h1.7M94.3 113.9h1.7M69.5 134.4h1.7M81.2 133.8h1.7M95.9 131.6h1.7M87.3 128.2h1.7M90.6 143.2h1.7M99.5 127.1h1.7M95.1 146.2h1.7M87.3 142.5h1.7M101.8 121.3h1.7M93.8 118.4h1.7M102.7 125.6h1.7M76.5 151.2h1.7M87.4 149.3h1.7M82.1 137.7h1.7M91.9 128.3h1.7M90.5 127.1h1.7M97.9 127.2h1.7M78.4 112.7h1.7M103.5 123.2h1.7M71.3 149.0h1.7M101.3 136.1h1.7M86.7 152.7h1.7M101.3 150.4h1.7M92.4 138.8h1.7M80.6 128.7h1.7M107.3 129.6h1.7M112.0 125.5h1.7M75.5 126.8h1.7M79.8 134.1h1.7M84.6 143.9h1.7M92.7 128.4h1.7M91.6 130.5h1.7M96.8 136.2h1.7M97.5 120.1h1.7M81.3 155.5h1.7M97.5 139.4h1.7M70.6 145.0h1.7M83.3 123.1h1.7M88.6 142.3h1.7M110.7 134.4h1.7M73.6 131.1h1.7M101.2 134.8h1.7M85.8 122.6h1.7M103.3 131.6h1.7M94.1 125.0h1.7M98.0 135.7h1.7M74.7 125.5h1.7M96.6 133.4h1.7M95.3 138.8h1.7M83.6 137.5h1.7M90.1 139.5h1.7M106.8 117.6h1.7M121.2 125.5h1.7M102.3 130.1h1.7M109.1 116.5h1.7M83.7 126.8h1.7M102.8 137.9h1.7M98.6 131.2h1.7M89.2 135.9h1.7M80.3 152.3h1.7M80.2 129.1h1.7M77.9 134.0h1.7M105.5 132.7h1.7M80.4 150.9h1.7M97.3 121.5h1.7M70.2 140.8h1.7M85.3 140.8h1.7M75.9 122.5h1.7M85.0 120.7h1.7M94.2 117.1h1.7M78.4 133.3h1.7M91.3 146.4h1.7M103.0 129.7h1.7M85.9 119.9h1.7M81.9 133.8h1.7M82.4 144.8h1.7M78.6 134.6h1.7M68.2 128.2h1.7M104.0 136.8h1.7M87.3 125.0h1.7M61.6 157.5h1.7M105.5 124.5h1.7M108.5 134.9h1.7M100.6 120.3h1.7M106.2 129.1h1.7M71.4 143.5h1.7M74.2 144.5h1.7M91.3 120.9h1.7M74.6 159.4h1.7M102.4 139.6h1.7M81.4 151.5h1.7M123.9 128.6h1.7M89.6 136.6h1.7M94.0 141.0h1.7M102.4 124.6h1.7M79.4 149.7h1.7M88.6 141.3h1.7M101.9 141.6h1.7M100.7 120.2h1.7M103.6 141.8h1.7M86.8 140.5h1.7M110.2 131.2h1.7M89.3 119.7h1.7M77.9 145.5h1.7M108.1 146.7h1.7M87.0 148.0h1.7M90.3 115.2h1.7M82.3 141.2h1.7M84.2 136.2h1.7M91.5 123.5h1.7M92.3 124.7h1.7M87.3 141.3h1.7M85.7 139.9h1.7M108.3 119.4h1.7M92.7 139.2h1.7M92.1 143.4h1.7M79.6 148.2h1.7M80.7 132.1h1.7M105.6 112.1h1.7M113.3 122.3h1.7M101.4 113.9h1.7M111.4 132.4h1.7M88.5 133.1h1.7M118.5 113.0h1.7M82.5 132.4h1.7M97.1 131.4h1.7M101.5 143.0h1.7M89.4 139.0h1.7M101.3 113.7h1.7M111.5 136.3h1.7M69.8 137.3h1.7M69.4 129.6h1.7M85.8 116.7h1.7M103.6 138.4h1.7M71.0 144.8h1.7M73.4 154.8h1.7M81.0 137.6h1.7M94.0 136.2h1.7M86.8 136.1h1.7M85.1 138.5h1.7M77.9 143.5h1.7M66.6 146.4h1.7M112.0 117.0h1.7M77.9 145.6h1.7M71.1 130.3h1.7M86.2 144.3h1.7M94.2 129.0h1.7M74.6 133.8h1.7M106.7 123.0h1.7M69.0 127.1h1.7M88.3 161.4h1.7M77.4 142.4h1.7M92.0 130.1h1.7M80.2 126.2h1.7M87.7 153.4h1.7M86.6 145.2h1.7M70.4 145.8h1.7M98.8 137.7h1.7M81.2 146.7h1.7M90.9 124.7h1.7M91.1 122.9h1.7M81.6 139.7h1.7M60.0 155.7h1.7M71.8 131.8h1.7M89.8 141.8h1.7M92.7 145.0h1.7M70.8 134.2h1.7M109.7 122.3h1.7M96.6 119.3h1.7M100.7 127.8h1.7M97.8 127.6h1.7M100.4 118.3h1.7M72.1 131.4h1.7M99.4 118.1h1.7M74.1 135.7h1.7M78.9 128.3h1.7M84.0 131.3h1.7M79.4 131.3h1.7M88.5 129.6h1.7M93.1 133.7h1.7M82.8 115.4h1.7M80.4 132.3h1.7M90.8 115.8h1.7M81.1 137.2h1.7M92.0 142.5h1.7M90.7 143.3h1.7M64.8 133.5h1.7M106.2 125.4h1.7M96.5 129.6h1.7M89.5 120.7h1.7M98.2 121.3h1.7M101.8 125.1h1.7M62.0 141.4h1.7M102.2 122.4h1.7M87.4 138.0h1.7M83.0 133.0h1.7M92.4 133.1h1.7M107.5 120.2h1.7M120.7 128.9h1.7M115.0 125.3h1.7M92.7 132.8h1.7M85.1 129.3h1.7M86.4 129.3h1.7M111.4 122.4h1.7M75.5 124.0h1.7M87.7 130.7h1.7M72.6 134.7h1.7M68.7 156.2h1.7M103.3 150.9h1.7M89.4 132.3h1.7M107.1 121.5h1.7M90.4 129.1h1.7M91.7 148.3h1.7M110.5 135.9h1.7M86.8 136.2h1.7M85.8 147.1h1.7M78.1 148.8h1.7M110.0 133.0h1.7M85.8 148.4h1.7M78.7 134.1h1.7M82.0 152.1h1.7M105.6 114.8h1.7M80.3 137.3h1.7M123.4 118.1h1.7M75.1 125.7h1.7M89.3 146.7h1.7M109.7 115.1h1.7M80.2 135.5h1.7M74.4 155.3h1.7M84.1 149.5h1.7M65.0 139.2h1.7M89.7 125.4h1.7M99.2 126.3h1.7M80.8 147.3h1.7M89.8 112.9h1.7M113.2 120.6h1.7M89.2 114.0h1.7M80.7 136.9h1.7M94.7 113.9h1.7M70.1 127.0h1.7M89.7 137.4h1.7M68.8 143.6h1.7M104.4 139.2h1.7M96.2 125.2h1.7M72.6 136.9h1.7M83.9 139.7h1.7M98.7 144.6h1.7M88.1 123.3h1.7M112.5 126.0h1.7M87.8 127.3h1.7M64.5 142.3h1.7M96.4 119.8h1.7M77.0 145.7h1.7M96.4 135.0h1.7M105.1 136.8h1.7M86.4 146.8h1.7M83.2 146.2h1.7M93.7 133.1h1.7M101.1 124.5h1.7M107.4 129.3h1.7M89.0 128.0h1.7M79.4 136.0h1.7M88.1 134.6h1.7M126.7 111.6h1.7M94.5 120.6h1.7M81.0 137.0h1.7M87.2 124.4h1.7M105.3 115.3h1.7M90.2 108.1h1.7M91.9 134.9h1.7M95.8 135.4h1.7M94.4 131.7h1.7M65.9 144.5h1.7M67.9 157.4h1.7M92.9 129.0h1.7M78.4 136.2h1.7M119.9 128.7h1.7M96.6 142.1h1.7M62.9 133.7h1.7M80.6 131.3h1.7M85.3 139.1h1.7M120.4 102.5h1.7M92.5 134.4h1.7M95.0 139.5h1.7M103.6 109.4h1.7M90.9 129.8h1.7M86.4 119.7h1.7M59.0 132.6h1.7M97.3 129.8h1.7M78.9 116.5h1.7M82.4 131.2h1.7M70.1 139.1h1.7M101.0 130.6h1.7M92.9 136.6h1.7M84.2 138.7h1.7M93.8 136.4h1.7M89.0 132.6h1.7M85.6 129.8h1.7M117.8 117.2h1.7M107.2 144.7h1.7M97.8 110.5h1.7M102.6 132.6h1.7M118.2 125.6h1.7M92.8 118.5h1.7M82.3 142.3h1.7M90.7 121.8h1.7M84.2 133.6h1.7M92.9 134.7h1.7M80.9 127.2h1.7M112.6 133.0h1.7M94.7 140.8h1.7M98.9 133.6h1.7M91.8 123.7h1.7M102.1 134.8h1.7M90.9 153.9h1.7M123.1 127.2h1.7M116.3 120.8h1.7M83.6 131.9h1.7M82.1 140.8h1.7M93.6 137.8h1.7M80.3 165.9h1.7M115.5 113.2h1.7M100.4 130.4h1.7M92.4 129.2h1.7M84.8 128.5h1.7M92.3 131.3h1.7M89.6 124.5h1.7M91.2 133.0h1.7M91.6 120.7h1.7M100.3 136.0h1.7M95.2 125.4h1.7M83.8 135.7h1.7M106.7 137.1h1.7M85.4 130.1h1.7M95.7 131.1h1.7M76.6 135.9h1.7M92.9 138.4h1.7M72.0 136.5h1.7M89.6 120.5h1.7M93.5 134.4h1.7M83.9 127.1h1.7M88.1 131.3h1.7M89.8 124.5h1.7M93.8 112.4h1.7M88.6 134.6h1.7M97.9 120.6h1.7M93.6 124.5h1.7M107.7 138.3h1.7M88.4 139.4h1.7M85.4 147.5h1.7M104.0 122.8h1.7M80.1 145.5h1.7M108.9 130.4h1.7M89.9 113.7h1.7M90.4 148.4h1.7M82.9 151.1h1.7M115.3 121.9h1.7M101.1 121.1h1.7M76.4 142.9h1.7M88.1 134.4h1.7M97.4 126.0h1.7M94.8 134.2h1.7M100.1 145.4h1.7M95.8 129.8h1.7M84.9 130.6h1.7M106.1 122.4h1.7M75.7 138.5h1.7M86.7 131.2h1.7M96.4 115.9h1.7M96.7 129.7h1.7M77.8 143.5h1.7M92.1 137.2h1.7M87.1 138.9h1.7M66.5 140.1h1.7M104.6 133.2h1.7M87.2 129.1h1.7M91.5 109.7h1.7M85.2 144.4h1.7M92.3 120.5h1.7M77.3 159.0h1.7M87.5 125.7h1.7M95.8 138.6h1.7M67.7 162.8h1.7M87.8 112.7h1.7M89.7 114.4h1.7M105.2 125.8h1.7M112.2 109.5h1.7M96.0 140.0h1.7M79.8 133.8h1.7M86.0 135.7h1.7M81.1 145.6h1.7M96.9 128.8h1.7M107.5 116.2h1.7M102.1 118.1h1.7M88.7 113.5h1.7M91.8 130.1h1.7M81.8 133.2h1.7M82.9 131.2h1.7M63.2 147.9h1.7M81.7 134.2h1.7M78.1 141.2h1.7M97.8 124.6h1.7M92.2 146.3h1.7M106.1 130.8h1.7M101.5 120.8h1.7M94.9 141.6h1.7M83.8 137.0h1.7M96.6 132.2h1.7M92.6 142.0h1.7M92.3 139.4h1.7M105.8 128.2h1.7M92.5 118.9h1.7M72.8 140.2h1.7M103.6 139.0h1.7M78.6 145.6h1.7M77.2 135.5h1.7M91.1 140.0h1.7M99.0 139.1h1.7M84.3 147.5h1.7M101.1 125.4h1.7M92.8 125.1h1.7M76.4 139.7h1.7M98.5 157.9h1.7M93.8 148.2h1.7M94.4 133.3h1.7M94.6 121.4h1.7M102.6 127.6h1.7M76.9 150.1h1.7M99.0 131.3h1.7M105.8 116.6h1.7M100.1 133.6h1.7M86.8 148.8h1.7M67.7 136.8h1.7M90.6 121.2h1.7M80.6 123.0h1.7M85.3 124.8h1.7M86.3 119.8h1.7M94.1 127.3h1.7M90.9 132.0h1.7M85.0 123.0h1.7M62.4 155.3h1.7M77.8 138.0h1.7M84.8 116.0h1.7M78.9 135.5h1.7M80.5 144.3h1.7M84.7 128.7h1.7M83.9 146.9h1.7M86.3 142.6h1.7M85.5 116.4h1.7M78.6 142.4h1.7M98.4 135.3h1.7M104.8 133.0h1.7M85.3 134.8h1.7M96.8 123.5h1.7M93.8 113.2h1.7M96.8 126.2h1.7M73.9 156.5h1.7M94.0 130.5h1.7M76.2 139.2h1.7M102.8 114.4h1.7M47.7 157.2h1.7M76.6 142.5h1.7M81.4 130.3h1.7M86.7 147.3h1.7M84.8 158.5h1.7M78.8 130.4h1.7M102.1 130.0h1.7M82.9 147.0h1.7M65.4 142.7h1.7M101.6 121.6h1.7M78.8 147.7h1.7M100.5 124.9h1.7M68.8 146.3h1.7M99.1 134.5h1.7M109.6 115.3h1.7M85.0 136.9h1.7M98.9 116.3h1.7M90.5 103.3h1.7M95.8 121.6h1.7M99.2 133.7h1.7M77.0 142.6h1.7M96.2 134.9h1.7M75.1 134.4h1.7M82.6 166.6h1.7M87.2 133.2h1.7M78.9 152.1h1.7M92.1 147.2h1.7M100.0 125.8h1.7M92.7 119.3h1.7M83.9 131.9h1.7M76.6 144.1h1.7M96.4 143.9h1.7M50.0 157.4h1.7M77.9 137.8h1.7M97.3 132.1h1.7M88.3 129.6h1.7M97.8 131.1h1.7M68.8 147.1h1.7M69.2 136.9h1.7M92.4 132.1h1.7M87.2 126.2h1.7M83.5 128.6h1.7M98.3 134.3h1.7M116.5 126.4h1.7M79.2 136.9h1.7M81.7 143.1h1.7M116.1 120.7h1.7M59.7 143.5h1.7M78.9 147.6h1.7M92.1 135.0h1.7M105.8 112.1h1.7M91.4 153.5h1.7M90.2 124.8h1.7M60.1 140.3h1.7M63.9 154.5h1.7M96.2 139.3h1.7M85.3 129.6h1.7M92.3 152.1h1.7M71.9 149.4h1.7M94.0 136.9h1.7M88.6 139.8h1.7M98.7 125.0h1.7M84.5 135.7h1.7M78.8 139.9h1.7M88.3 137.0h1.7M112.1 130.2h1.7M88.7 140.9h1.7M97.7 135.6h1.7M92.1 134.6h1.7M81.2 131.8h1.7M106.9 134.2h1.7M100.1 130.2h1.7M91.1 127.7h1.7M74.3 152.8h1.7M89.8 127.6h1.7M86.5 149.9h1.7M79.8 160.4h1.7M110.0 143.4h1.7M82.5 139.0h1.7M85.7 138.4h1.7M84.3 129.8h1.7M98.3 118.5h1.7M87.8 141.1h1.7M82.3 134.7h1.7M92.5 127.5h1.7M76.2 143.1h1.7M97.0 146.3h1.7M83.5 148.9h1.7M80.0 137.4h1.7M88.3 137.6h1.7M109.2 137.3h1.7M90.4 147.4h1.7M105.7 129.9h1.7M86.8 145.6h1.7M91.2 136.3h1.7M91.0 139.8h1.7M108.7 131.0h1.7M93.4 141.4h1.7M101.6 114.2h1.7M99.8 111.4h1.7M99.6 132.3h1.7M108.3 122.1h1.7M81.0 131.8h1.7M80.7 148.9h1.7M84.1 130.2h1.7M92.4 123.3h1.7M83.3 133.7h1.7M116.4 128.5h1.7M80.5 123.8h1.7M93.9 131.1h1.7M97.3 133.8h1.7M91.8 142.0h1.7M100.8 127.2h1.7M83.5 133.3h1.7M92.4 119.7h1.7M84.8 129.4h1.7M78.3 149.1h1.7M90.4 133.5h1.7M92.3 115.5h1.7M91.3 135.5h1.7M94.0 118.6h1.7M99.5 128.3h1.7M111.4 128.9h1.7M107.8 142.7h1.7M88.3 130.2h1.7M81.8 129.6h1.7M80.4 120.7h1.7M91.8 136.6h1.7M99.6 122.1h1.7M102.4 116.7h1.7M79.2 121.6h1.7M78.0 134.3h1.7M109.3 123.9h1.7M81.3 145.8h1.7M94.5 127.4h1.7M89.2 130.8h1.7M75.6 126.0h1.7M96.1 142.2h1.7M104.5 119.1h1.7M81.4 137.9h1.7M102.0 127.7h1.7M86.1 140.3h1.7M90.9 138.1h1.7M78.6 126.8h1.7M95.0 137.5h1.7M78.0 141.6h1.7M98.0 123.2h1.7M93.9 151.7h1.7M104.7 132.7h1.7M88.7 151.6h1.7M70.1 143.5h1.7M105.2 135.5h1.7M77.1 136.5h1.7M82.8 118.8h1.7M100.2 131.3h1.7M88.4 140.3h1.7M100.4 128.5h1.7M103.8 138.5h1.7M86.2 138.0h1.7M90.2 144.1h1.7M88.5 139.5h1.7M92.3 132.3h1.7M108.4 118.1h1.7M109.8 126.5h1.7M103.8 120.9h1.7M104.2 130.2h1.7M85.3 139.9h1.7M88.9 133.8h1.7M100.7 117.5h1.7M63.8 135.7h1.7M82.4 132.6h1.7M93.5 136.5h1.7M110.8 120.3h1.7M91.7 124.4h1.7M103.5 137.0h1.7M94.9 109.2h1.7M108.0 135.8h1.7M91.8 116.5h1.7M90.2 139.3h1.7M90.8 124.3h1.7M85.9 146.6h1.7M83.5 153.3h1.7M92.2 134.8h1.7M73.3 140.2h1.7M90.4 117.8h1.7M105.4 106.8h1.7M77.7 143.4h1.7M99.3 133.7h1.7M85.5 134.7h1.7M85.1 131.3h1.7M68.0 160.6h1.7M94.0 131.9h1.7M85.1 139.8h1.7M90.0 132.6h1.7M93.6 112.8h1.7M87.8 124.1h1.7M94.7 145.3h1.7M78.5 141.3h1.7M89.0 144.0h1.7M71.7 130.3h1.7M94.2 126.5h1.7M92.5 142.6h1.7M79.2 137.9h1.7M94.1 134.4h1.7M90.2 143.9h1.7M112.2 111.8h1.7M99.7 104.0h1.7M103.7 119.1h1.7M90.2 129.7h1.7M77.3 130.0h1.7M92.8 144.6h1.7M100.8 121.3h1.7M81.4 132.9h1.7M86.9 154.5h1.7M98.1 128.3h1.7M80.2 130.5h1.7M108.4 127.1h1.7M85.4 147.2h1.7M82.0 146.3h1.7M78.2 138.3h1.7M97.9 131.7h1.7M97.0 119.2h1.7M114.0 128.6h1.7M92.7 136.1h1.7M81.5 138.5h1.7M77.0 144.5h1.7M99.4 140.0h1.7M104.6 130.4h1.7M85.5 134.5h1.7M88.0 137.2h1.7M73.9 153.9h1.7M71.3 142.7h1.7M88.2 129.5h1.7M107.6 118.6h1.7M113.0 127.5h1.7M87.3 139.7h1.7M102.6 120.1h1.7M88.6 128.7h1.7M89.3 130.2h1.7M96.4 138.8h1.7M105.9 122.3h1.7M96.9 136.8h1.7M82.1 128.6h1.7M97.6 117.8h1.7M95.5 119.1h1.7M104.6 111.1h1.7M107.0 135.6h1.7M87.8 150.5h1.7M72.9 128.5h1.7M101.7 131.5h1.7M75.7 118.4h1.7M88.4 131.5h1.7M85.0 134.3h1.7M68.7 144.2h1.7M117.3 128.1h1.7M83.1 131.4h1.7M100.0 136.5h1.7M92.3 119.5h1.7M92.9 132.6h1.7M111.7 128.8h1.7M102.2 136.5h1.7M94.0 146.2h1.7M88.0 139.1h1.7M95.6 119.5h1.7M74.2 127.5h1.7M92.0 131.3h1.7M89.5 138.9h1.7M68.0 150.4h1.7M90.1 130.6h1.7M107.7 137.7h1.7M81.1 130.6h1.7M84.6 138.6h1.7M92.4 122.6h1.7M95.9 118.1h1.7M101.4 128.9h1.7M106.2 143.0h1.7M86.9 134.1h1.7M99.9 134.6h1.7M77.7 145.8h1.7M85.8 143.2h1.7M105.3 122.0h1.7M90.3 135.1h1.7M63.1 162.4h1.7M97.3 129.4h1.7M82.6 131.6h1.7M94.7 142.3h1.7M96.2 142.5h1.7M61.0 151.3h1.7M93.3 130.6h1.7M69.6 142.5h1.7M97.2 114.4h1.7M74.5 134.1h1.7M87.9 141.7h1.7M86.6 115.0h1.7M103.0 117.1h1.7M92.6 148.6h1.7M83.4 125.7h1.7M80.1 133.6h1.7M78.1 139.2h1.7M101.6 128.0h1.7M89.9 162.3h1.7M80.6 141.9h1.7M94.7 137.6h1.7M89.3 138.7h1.7M113.3 116.2h1.7M80.7 144.1h1.7M80.1 137.3h1.7M94.2 133.6h1.7M91.7 140.8h1.7M81.9 126.2h1.7M98.0 123.4h1.7M100.1 118.8h1.7M98.1 130.3h1.7M54.4 145.7h1.7M85.7 151.3h1.7M75.1 154.5h1.7M104.6 127.1h1.7M95.2 124.2h1.7M91.5 134.5h1.7M98.5 134.1h1.7M84.8 130.2h1.7M86.6 140.3h1.7M66.6 138.7h1.7M83.4 132.9h1.7M74.3 118.1h1.7M85.6 134.2h1.7M88.8 113.8h1.7M89.6 138.6h1.7M101.7 136.6h1.7M96.4 117.5h1.7M95.6 125.6h1.7M89.7 149.5h1.7M79.5 132.7h1.7M81.9 130.9h1.7M103.1 127.1h1.7M107.4 124.0h1.7M89.2 144.8h1.7M81.2 135.4h1.7M88.9 134.6h1.7M100.1 119.2h1.7M94.1 129.9h1.7M71.6 136.4h1.7M90.2 137.4h1.7M96.3 133.4h1.7M88.8 129.7h1.7M90.0 123.0h1.7M74.6 142.0h1.7M72.7 141.5h1.7M79.8 135.6h1.7M86.0 128.2h1.7M77.4 125.5h1.7M87.6 126.1h1.7M80.5 111.4h1.7M83.2 141.2h1.7M62.7 151.0h1.7M92.0 132.9h1.7M75.7 146.9h1.7M87.2 125.5h1.7M98.2 126.5h1.7M88.4 129.9h1.7M96.8 129.1h1.7M104.9 126.5h1.7M82.8 136.7h1.7M98.4 123.0h1.7M97.2 133.2h1.7M76.8 119.4h1.7M93.0 133.3h1.7M88.1 127.0h1.7M102.7 122.1h1.7M80.2 133.5h1.7M88.8 122.9h1.7M89.9 154.3h1.7M109.8 128.9h1.7M108.1 125.5h1.7M78.6 154.8h1.7M106.2 125.8h1.7M75.9 157.4h1.7M102.6 118.4h1.7M95.8 137.0h1.7M95.2 140.8h1.7M94.9 136.8h1.7M83.9 122.7h1.7M95.9 161.9h1.7M100.1 139.2h1.7M111.4 134.6h1.7M93.4 124.5h1.7M81.0 120.4h1.7M93.1 140.5h1.7M68.4 152.3h1.7M106.1 134.7h1.7M77.3 136.5h1.7M65.3 142.1h1.7M106.7 142.0h1.7M85.2 151.5h1.7M92.6 126.2h1.7M101.2 98.2h1.7M90.9 135.0h1.7M122.5 126.9h1.7M115.4 114.9h1.7M107.9 133.7h1.7M97.8 131.1h1.7M86.5 131.9h1.7M87.2 156.0h1.7M75.1 123.2h1.7M93.2 130.6h1.7M101.6 143.3h1.7M88.0 132.2h1.7M82.4 139.1h1.7M86.8 138.0h1.7M126.0 109.4h1.7M91.1 152.8h1.7M103.9 131.1h1.7M102.3 132.3h1.7M104.9 136.5h1.7M108.2 133.3h1.7M85.1 137.2h1.7M87.5 145.4h1.7M97.1 123.0h1.7M110.1 145.2h1.7M98.1 115.3h1.7M92.7 137.9h1.7M92.1 135.8h1.7M104.8 125.2h1.7M82.4 146.9h1.7M90.0 134.6h1.7M77.4 128.7h1.7M75.3 141.2h1.7M65.2 124.3h1.7M96.9 115.8h1.7M85.4 142.6h1.7M71.4 162.0h1.7M85.6 143.8h1.7M86.9 139.0h1.7M91.6 132.1h1.7M63.4 138.7h1.7M97.2 142.5h1.7" stroke="#1a1a1a" stroke-width="1.7" opacity="0.6" fill="none"/>
<path d="M85.1 148.6h1.6M95.5 141.9h1.6M95.6 112.9h1.6M93.0 133.6h1.6M79.9 131.4h1.6M71.5 133.6h1.6M89.2 175.2h1.6M115.9 123.2h1.6M95.1 120.8h1.6M36.2 142.4h1.6M101.3 152.6h1.6M83.0 127.4h1.6M80.0 129.2h1.6M67.3 147.7h1.6M78.8 132.6h1.6M70.7 135.6h1.6M102.4 151.2h1.6M101.0 164.4h1.6M67.2 155.2h1.6M71.4 146.4h1.6M95.1 143.2h1.6M103.6 122.0h1.6M69.9 146.8h1.6M90.0 127.8h1.6M114.2 148.6h1.6M70.7 154.5h1.6M93.3 108.0h1.6M91.7 133.7h1.6M76.7 164.9h1.6M90.3 130.8h1.6M100.8 141.2h1.6M105.4 137.6h1.6M88.8 121.5h1.6M84.4 143.1h1.6M61.5 185.7h1.6M77.6 129.8h1.6M63.9 156.7h1.6M86.8 131.3h1.6M78.0 131.9h1.6M78.0 143.5h1.6M84.5 151.1h1.6M88.7 140.7h1.6M104.2 148.4h1.6M100.6 135.2h1.6M82.4 130.6h1.6M89.1 148.5h1.6M91.0 131.8h1.6M60.1 132.9h1.6M101.4 146.4h1.6M87.0 119.7h1.6M88.2 142.3h1.6M78.2 149.9h1.6M81.7 130.6h1.6M76.3 157.8h1.6M89.8 125.1h1.6M80.2 156.7h1.6M97.1 129.4h1.6M112.4 120.9h1.6M80.9 159.2h1.6M89.3 143.4h1.6M84.2 126.7h1.6M70.7 146.3h1.6M105.0 114.7h1.6M112.0 128.5h1.6M74.8 150.7h1.6M92.9 123.2h1.6M59.9 160.6h1.6M75.9 152.6h1.6M60.1 153.2h1.6M68.4 128.9h1.6M87.4 142.0h1.6M74.1 129.9h1.6M82.2 117.0h1.6M101.2 138.7h1.6M121.0 133.0h1.6M97.0 137.8h1.6M82.0 123.2h1.6M115.5 131.0h1.6M78.4 128.0h1.6M115.9 130.8h1.6M76.3 155.7h1.6M118.6 121.2h1.6M93.4 130.0h1.6M87.3 155.2h1.6M137.4 112.4h1.6M93.1 147.8h1.6M90.0 148.6h1.6M96.1 119.6h1.6M73.3 146.6h1.6M104.4 133.8h1.6M100.1 112.1h1.6M93.5 126.9h1.6M93.5 140.6h1.6M73.9 144.0h1.6M74.1 151.1h1.6M74.0 140.0h1.6M89.2 129.0h1.6M103.4 121.0h1.6M104.6 133.7h1.6M73.0 144.6h1.6M75.1 141.4h1.6M97.4 160.2h1.6M93.6 158.8h1.6M88.5 119.8h1.6M59.3 165.6h1.6M64.4 163.2h1.6M108.0 133.3h1.6M85.3 137.1h1.6M92.0 132.4h1.6M79.6 138.6h1.6M103.8 121.0h1.6M88.5 122.1h1.6M70.6 129.2h1.6M91.3 147.2h1.6M91.5 130.0h1.6M97.0 128.9h1.6M97.3 137.7h1.6M82.6 106.3h1.6M75.2 157.8h1.6M102.5 163.4h1.6M83.0 134.0h1.6M116.0 131.0h1.6M121.8 127.0h1.6M91.5 147.7h1.6M75.3 140.0h1.6M80.2 140.4h1.6M98.7 126.0h1.6M91.7 129.8h1.6M86.0 100.3h1.6M87.9 141.6h1.6M80.1 158.4h1.6M101.3 150.1h1.6M108.5 136.6h1.6M80.9 127.5h1.6M83.8 134.9h1.6M90.8 130.8h1.6M126.0 94.0h1.6M104.7 122.7h1.6M92.2 150.2h1.6M82.4 124.8h1.6M95.0 132.3h1.6M60.2 158.0h1.6M69.4 139.1h1.6M99.1 137.1h1.6M99.3 164.1h1.6M92.5 127.7h1.6M92.8 134.6h1.6M46.9 140.0h1.6M82.0 172.5h1.6M85.5 136.6h1.6M87.7 153.6h1.6M101.1 156.3h1.6M112.2 149.0h1.6M90.6 143.1h1.6M82.4 139.9h1.6M60.3 146.7h1.6M71.6 139.2h1.6M109.9 130.3h1.6M113.8 136.7h1.6M110.1 140.9h1.6M85.9 152.0h1.6M81.8 135.0h1.6M121.5 151.1h1.6M86.2 165.3h1.6M97.2 121.6h1.6M96.4 139.7h1.6M93.4 130.9h1.6M70.9 149.5h1.6M107.9 139.0h1.6M106.8 144.2h1.6M74.8 146.1h1.6M101.4 145.9h1.6M95.6 142.3h1.6M105.1 159.6h1.6M57.1 156.7h1.6M128.7 119.1h1.6M63.3 155.3h1.6M64.2 143.1h1.6M104.1 154.6h1.6M101.1 141.2h1.6M106.5 131.3h1.6M76.5 144.4h1.6M93.3 132.1h1.6M77.7 139.9h1.6M61.0 139.9h1.6M86.4 134.9h1.6M99.3 152.9h1.6M94.3 135.1h1.6M65.6 136.5h1.6M90.2 125.3h1.6M89.7 122.6h1.6M91.6 136.0h1.6M102.5 125.1h1.6M86.0 143.9h1.6M101.4 155.8h1.6M82.8 134.4h1.6M88.2 145.9h1.6M97.8 143.5h1.6M84.7 176.8h1.6M117.4 121.7h1.6M72.8 150.1h1.6M82.3 110.2h1.6M81.0 121.9h1.6M105.5 149.0h1.6M96.1 112.7h1.6M116.4 135.9h1.6M87.7 146.6h1.6M110.7 121.3h1.6M86.3 132.1h1.6M93.9 104.7h1.6M105.2 115.2h1.6M93.7 112.4h1.6M72.2 139.6h1.6M92.3 113.3h1.6M95.1 125.9h1.6M106.7 123.9h1.6M96.2 131.9h1.6M114.6 118.6h1.6M102.0 159.7h1.6M95.5 144.8h1.6M80.2 146.5h1.6M56.6 158.8h1.6M70.9 127.3h1.6M75.9 162.6h1.6M86.9 117.9h1.6M112.9 114.8h1.6M86.0 143.9h1.6M62.8 130.3h1.6M86.2 157.3h1.6M94.4 112.6h1.6M108.3 127.9h1.6M97.8 134.2h1.6M89.9 123.6h1.6M72.0 138.3h1.6M88.3 147.9h1.6M81.7 165.8h1.6M76.8 137.1h1.6M103.3 136.6h1.6M78.2 129.3h1.6M65.0 129.3h1.6M113.9 139.8h1.6M121.1 127.2h1.6M99.7 143.3h1.6M102.7 127.0h1.6M108.8 158.3h1.6M55.8 137.4h1.6M80.3 154.5h1.6M105.7 124.0h1.6M99.8 131.7h1.6M91.1 129.5h1.6M89.6 138.2h1.6M120.9 152.4h1.6M66.1 159.5h1.6M96.0 148.5h1.6M110.8 137.3h1.6M96.2 120.7h1.6M74.9 170.9h1.6M102.2 117.2h1.6M113.5 134.0h1.6M58.8 169.0h1.6M82.5 159.2h1.6M75.1 135.8h1.6M65.4 149.0h1.6M101.1 121.9h1.6M75.5 177.4h1.6M122.0 129.5h1.6M74.3 129.5h1.6M68.9 158.3h1.6M102.9 115.2h1.6M88.3 135.0h1.6M89.3 145.7h1.6M117.4 112.9h1.6M109.6 142.4h1.6M84.8 138.9h1.6M76.6 161.3h1.6M77.9 135.5h1.6M85.6 128.1h1.6M72.5 143.8h1.6M111.1 122.9h1.6M88.7 117.5h1.6M72.1 174.6h1.6M74.4 124.8h1.6M92.2 145.5h1.6M58.5 143.4h1.6M88.1 125.7h1.6M108.0 141.5h1.6M94.0 129.5h1.6M85.3 131.5h1.6M90.0 142.6h1.6M91.6 151.2h1.6M125.6 109.5h1.6M100.3 144.0h1.6M98.2 129.8h1.6M89.1 153.1h1.6M102.6 138.1h1.6M81.9 151.8h1.6M100.8 129.1h1.6M113.4 156.0h1.6M65.6 160.9h1.6M63.8 133.3h1.6M89.9 146.0h1.6M83.5 124.9h1.6M64.8 144.5h1.6M85.0 128.8h1.6M78.4 170.2h1.6M76.4 143.6h1.6M78.1 136.4h1.6M88.7 134.4h1.6M91.9 119.7h1.6M79.8 172.2h1.6M93.7 147.0h1.6M111.3 133.8h1.6M80.8 120.7h1.6M72.0 162.6h1.6M103.8 138.3h1.6M51.5 129.2h1.6M66.6 134.3h1.6M86.0 125.5h1.6M110.0 117.4h1.6M87.0 152.3h1.6M89.3 125.3h1.6M114.5 151.8h1.6M69.9 146.0h1.6M61.5 126.2h1.6M103.9 140.2h1.6M107.4 134.2h1.6M59.4 155.3h1.6M72.5 131.0h1.6M78.1 156.0h1.6M97.9 162.1h1.6M85.1 113.0h1.6M111.4 143.8h1.6M82.8 124.5h1.6M108.5 108.2h1.6M76.7 117.9h1.6M60.2 130.4h1.6M114.0 141.4h1.6M75.3 126.7h1.6M91.5 142.7h1.6M59.5 138.7h1.6M92.9 146.6h1.6M94.0 142.3h1.6M55.3 121.6h1.6M88.9 125.2h1.6M85.7 134.9h1.6M92.4 125.3h1.6M112.2 125.7h1.6M102.0 140.3h1.6M108.3 133.3h1.6M59.4 146.5h1.6M121.3 126.8h1.6M101.5 138.2h1.6M75.9 136.2h1.6M87.5 156.4h1.6M106.9 154.4h1.6M109.6 154.4h1.6M89.5 120.9h1.6M118.7 126.4h1.6M109.6 129.9h1.6M86.1 142.8h1.6M65.3 134.7h1.6M73.1 140.0h1.6M68.6 148.8h1.6M107.6 157.7h1.6M117.8 121.2h1.6M102.1 127.8h1.6M95.8 134.2h1.6M82.2 143.6h1.6M70.2 155.9h1.6M78.7 128.6h1.6M88.0 147.3h1.6M82.6 149.3h1.6M108.7 150.2h1.6M72.6 146.4h1.6M107.4 150.1h1.6M98.8 144.0h1.6M63.8 144.5h1.6M113.7 120.1h1.6M118.5 110.8h1.6M75.5 122.8h1.6M101.5 135.3h1.6M122.1 121.9h1.6M77.1 124.6h1.6M94.8 149.2h1.6M109.3 145.1h1.6M103.0 129.8h1.6M100.4 134.5h1.6M80.5 168.9h1.6M89.0 123.0h1.6M97.8 137.8h1.6M114.6 145.2h1.6M46.7 171.2h1.6M107.5 113.8h1.6M63.2 157.6h1.6M97.4 138.9h1.6M69.9 142.7h1.6M97.8 144.6h1.6M125.7 121.8h1.6M65.5 117.1h1.6M105.7 127.0h1.6M81.9 128.0h1.6M89.8 111.5h1.6M92.5 138.4h1.6M103.0 149.9h1.6M89.1 139.9h1.6M93.2 113.1h1.6M85.9 141.4h1.6M99.6 120.5h1.6M104.9 135.1h1.6M57.5 134.8h1.6M68.7 152.4h1.6M97.9 144.2h1.6M99.1 124.5h1.6M111.8 137.6h1.6M100.4 139.1h1.6M72.4 153.5h1.6M66.3 133.9h1.6M85.5 142.7h1.6M87.0 134.8h1.6M75.7 149.0h1.6M69.4 128.9h1.6M100.8 153.4h1.6M76.9 129.7h1.6M122.5 144.8h1.6M84.1 138.3h1.6M112.4 169.2h1.6M98.5 147.9h1.6M85.1 113.6h1.6M64.9 134.1h1.6M97.4 135.3h1.6M116.0 118.9h1.6M95.3 136.1h1.6M107.2 162.7h1.6M103.9 151.9h1.6M106.2 119.6h1.6M98.2 127.6h1.6M92.7 138.8h1.6M87.3 132.5h1.6M112.5 121.1h1.6M111.8 150.5h1.6M106.4 143.9h1.6M118.6 137.8h1.6M107.5 106.6h1.6M120.6 120.7h1.6M58.7 146.5h1.6M68.2 150.3h1.6M60.3 140.1h1.6M95.6 137.1h1.6M76.1 142.5h1.6M88.9 139.7h1.6M88.5 135.6h1.6M93.2 112.1h1.6M83.2 143.9h1.6M80.2 135.4h1.6M84.6 144.3h1.6M108.2 124.7h1.6M88.1 144.4h1.6M73.7 118.4h1.6M91.7 131.3h1.6M85.2 150.2h1.6M87.0 131.3h1.6M44.9 138.2h1.6M89.5 136.6h1.6M98.3 136.6h1.6M74.3 128.1h1.6M72.0 146.3h1.6M77.0 156.8h1.6M57.7 129.8h1.6M75.4 119.8h1.6M108.9 112.2h1.6M87.6 135.7h1.6M65.7 125.5h1.6M66.6 164.5h1.6M120.0 153.2h1.6M70.9 157.5h1.6M95.3 147.6h1.6M86.7 150.7h1.6M107.9 136.8h1.6M111.4 123.0h1.6M109.5 116.2h1.6M98.1 92.1h1.6M85.0 128.9h1.6M96.7 149.6h1.6M101.8 132.6h1.6M106.9 106.1h1.6M87.1 162.3h1.6M81.6 111.7h1.6M87.6 121.6h1.6M120.5 137.6h1.6M89.9 157.5h1.6M83.0 155.9h1.6M98.2 131.4h1.6M66.0 147.6h1.6M50.6 152.3h1.6M69.1 168.3h1.6M59.1 119.3h1.6M101.5 136.9h1.6M95.9 166.4h1.6M102.5 131.8h1.6M60.7 110.5h1.6" stroke="#1a1a1a" stroke-width="1.6" opacity="0.5" fill="none"/>
<path d="M94.2 193.1h1.6M80.3 140.9h1.6M87.5 135.2h1.6M88.1 189.0h1.6M107.6 177.8h1.6M90.6 188.5h1.6M106.2 165.0h1.6M72.0 154.6h1.6M71.6 152.4h1.6M86.4 179.5h1.6M90.0 173.5h1.6M83.4 181.3h1.6M99.5 188.7h1.6M107.5 165.6h1.6M84.7 209.3h1.6M90.6 181.1h1.6M83.6 193.3h1.6M82.8 149.8h1.6M87.2 162.3h1.6M98.8 163.7h1.6M89.6 167.2h1.6M92.4 158.1h1.6M102.4 140.7h1.6M83.0 156.4h1.6M96.4 172.9h1.6M94.3 164.7h1.6M78.7 147.4h1.6M83.7 160.2h1.6M91.6 179.8h1.6M100.7 169.7h1.6M78.3 148.7h1.6M88.8 179.9h1.6M113.3 176.0h1.6M110.8 213.2h1.6M74.4 198.6h1.6M102.8 201.6h1.6M87.9 193.0h1.6M81.7 170.5h1.6M88.2 211.2h1.6M85.2 193.0h1.6M88.9 156.4h1.6M91.2 186.5h1.6M78.7 186.0h1.6M78.7 152.7h1.6M90.9 166.8h1.6M75.2 136.2h1.6M88.3 177.3h1.6M82.0 176.1h1.6M68.1 180.6h1.6M93.4 178.1h1.6M80.0 173.7h1.6M89.7 195.5h1.6M91.6 177.6h1.6M78.6 191.0h1.6M103.2 161.1h1.6M96.3 178.8h1.6M87.4 143.7h1.6M110.8 131.0h1.6M91.9 163.7h1.6M102.9 162.7h1.6M88.5 185.4h1.6M93.9 160.6h1.6M96.8 180.6h1.6M100.8 160.8h1.6M87.4 163.4h1.6M77.1 177.6h1.6M93.3 203.2h1.6M83.8 180.5h1.6M102.8 169.5h1.6M88.8 174.9h1.6M79.0 150.3h1.6M102.5 175.8h1.6M87.0 144.7h1.6M89.5 197.7h1.6M73.1 152.4h1.6M102.4 203.4h1.6M108.1 159.9h1.6M95.8 155.5h1.6M94.7 164.0h1.6M90.5 201.4h1.6M92.4 166.7h1.6M88.7 177.8h1.6M81.4 176.5h1.6M95.8 206.1h1.6M61.3 146.0h1.6M72.0 191.2h1.6M119.6 176.2h1.6M89.6 196.9h1.6M56.4 168.1h1.6M47.7 175.4h1.6M81.4 161.4h1.6M92.4 159.2h1.6M102.4 171.9h1.6M82.2 192.2h1.6M77.3 199.3h1.6M100.5 175.1h1.6M100.8 207.1h1.6M105.8 172.0h1.6M87.3 196.2h1.6M69.0 158.8h1.6M94.3 184.4h1.6M112.0 210.4h1.6M92.2 181.6h1.6M71.0 168.0h1.6M91.4 167.1h1.6M88.8 185.3h1.6M75.7 159.6h1.6M65.1 196.9h1.6M74.4 134.9h1.6M97.9 167.3h1.6M100.4 164.0h1.6M115.3 187.6h1.6M89.9 174.5h1.6M85.4 189.6h1.6M113.7 162.8h1.6M74.0 185.0h1.6M101.7 139.5h1.6M79.1 150.3h1.6M95.2 183.0h1.6M78.6 147.5h1.6M96.8 127.3h1.6M96.3 168.6h1.6M112.6 193.6h1.6M80.6 166.0h1.6M84.4 156.2h1.6M89.0 192.9h1.6M68.7 167.1h1.6M107.1 188.1h1.6M77.6 154.5h1.6M77.0 137.2h1.6M102.7 173.5h1.6M79.1 140.9h1.6M83.1 160.9h1.6M110.0 162.0h1.6M89.5 195.2h1.6M96.5 168.1h1.6M60.1 202.4h1.6M95.7 162.6h1.6M86.9 151.3h1.6M76.5 139.9h1.6M94.4 183.2h1.6M90.2 188.9h1.6M94.9 174.6h1.6M76.7 184.8h1.6M103.2 185.7h1.6M103.9 161.8h1.6M75.5 199.1h1.6M80.5 177.3h1.6M85.6 172.5h1.6M84.5 160.4h1.6M65.2 213.2h1.6M90.6 130.4h1.6M76.4 147.7h1.6M78.5 117.0h1.6M95.3 207.4h1.6M84.9 188.1h1.6M95.7 145.1h1.6M103.5 135.6h1.6M80.7 164.3h1.6M104.0 174.6h1.6M86.4 154.7h1.6M89.1 172.9h1.6M97.3 202.1h1.6M97.4 172.4h1.6M86.1 206.5h1.6M90.6 171.7h1.6M110.9 205.8h1.6M95.2 169.7h1.6M79.9 195.0h1.6M82.2 192.7h1.6M78.0 174.3h1.6M93.1 175.1h1.6M91.0 180.2h1.6M73.7 148.1h1.6M86.1 210.8h1.6M86.4 152.1h1.6M79.6 172.7h1.6M103.0 159.8h1.6M95.1 176.0h1.6M83.5 151.7h1.6M86.1 156.5h1.6M94.8 134.1h1.6M102.3 188.3h1.6M95.4 204.2h1.6M95.7 135.3h1.6M88.7 181.7h1.6M79.3 147.7h1.6M93.5 183.0h1.6M82.6 166.8h1.6M81.6 159.8h1.6M87.3 195.1h1.6M67.6 164.7h1.6M108.5 178.8h1.6M90.0 189.9h1.6M75.3 146.0h1.6M67.0 140.7h1.6M91.2 190.2h1.6M82.7 157.4h1.6M93.1 185.2h1.6M91.3 131.2h1.6M81.1 117.7h1.6M91.1 153.8h1.6M79.7 204.2h1.6M104.7 182.3h1.6M91.5 175.7h1.6M80.6 170.9h1.6M112.2 153.2h1.6M79.6 175.5h1.6M99.3 189.9h1.6M75.8 169.2h1.6M84.6 145.6h1.6M89.0 161.7h1.6M99.6 181.3h1.6M78.1 173.7h1.6M83.5 158.4h1.6M81.8 194.8h1.6M82.8 135.3h1.6M78.2 189.3h1.6M115.2 149.5h1.6M83.5 165.0h1.6M70.2 180.6h1.6M87.4 178.0h1.6M116.3 166.3h1.6M98.0 189.8h1.6M80.0 159.3h1.6M107.7 187.3h1.6M89.8 148.6h1.6M99.2 183.3h1.6M115.8 203.5h1.6M98.2 177.7h1.6M88.8 160.2h1.6M91.9 177.2h1.6M96.2 195.2h1.6M91.9 160.4h1.6M98.2 205.2h1.6M77.5 181.0h1.6M94.9 183.5h1.6M94.4 170.1h1.6M86.7 208.1h1.6M109.9 142.0h1.6M55.9 181.4h1.6M79.5 161.0h1.6M67.9 179.6h1.6M87.3 160.5h1.6M106.6 197.1h1.6M82.8 186.1h1.6M87.5 196.7h1.6M95.4 171.3h1.6M95.0 156.7h1.6M98.0 204.2h1.6M83.4 183.9h1.6M67.0 192.0h1.6M99.1 150.2h1.6M110.0 174.4h1.6M66.2 142.7h1.6M99.0 166.2h1.6M101.9 138.9h1.6M86.8 192.9h1.6M79.4 186.5h1.6M83.5 179.4h1.6M92.1 217.2h1.6M72.4 188.7h1.6M104.6 148.0h1.6M101.3 108.6h1.6M85.0 135.5h1.6M91.8 156.5h1.6M80.9 154.1h1.6M91.7 162.0h1.6M76.6 167.2h1.6M93.1 153.7h1.6M102.0 136.5h1.6M93.2 163.7h1.6M107.9 158.3h1.6M79.6 143.3h1.6M113.1 185.2h1.6M74.3 164.8h1.6M75.9 204.6h1.6M93.3 128.5h1.6M90.7 191.6h1.6M88.0 182.1h1.6M86.6 176.5h1.6M90.7 156.9h1.6M92.4 175.5h1.6M87.5 157.4h1.6M75.2 177.3h1.6M98.4 120.3h1.6M81.2 200.9h1.6M99.6 156.8h1.6M105.1 150.9h1.6M78.0 213.5h1.6M82.5 167.4h1.6M67.2 150.4h1.6M73.1 169.1h1.6M64.8 194.7h1.6M83.5 159.0h1.6M80.0 187.9h1.6M107.4 163.3h1.6" stroke="#1a1a1a" stroke-width="1.6" opacity="0.36" fill="none"/>
<path d="M186.8 65.9h1.7M182.7 59.4h1.7M150.3 66.0h1.7M162.4 61.7h1.7M145.0 61.6h1.7M169.0 54.7h1.7M171.6 68.4h1.7M169.2 56.0h1.7M193.0 44.7h1.7M156.7 63.7h1.7M158.5 48.8h1.7M170.6 64.0h1.7M158.9 69.1h1.7M173.7 65.5h1.7M149.3 62.5h1.7M187.0 68.1h1.7M182.2 57.9h1.7M168.7 56.4h1.7M179.2 54.5h1.7M166.9 48.8h1.7M150.9 71.9h1.7M167.8 61.0h1.7M141.6 63.4h1.7M189.9 48.7h1.7M139.3 63.0h1.7M160.7 59.7h1.7M151.4 54.8h1.7M153.2 65.4h1.7M167.1 64.4h1.7M154.9 64.9h1.7M161.9 61.2h1.7M177.9 58.7h1.7M161.7 51.7h1.7M168.3 64.1h1.7M159.6 60.7h1.7M145.5 55.8h1.7M172.7 66.2h1.7M162.1 51.6h1.7M161.4 52.3h1.7M165.2 70.7h1.7M170.4 58.7h1.7M178.8 56.3h1.7M171.0 60.5h1.7M171.1 51.4h1.7M175.9 63.5h1.7M138.4 49.3h1.7M157.7 69.4h1.7M167.8 63.6h1.7M174.1 63.8h1.7M159.1 57.9h1.7M171.8 62.6h1.7M174.0 60.9h1.7M162.2 66.7h1.7M173.3 64.9h1.7M138.1 69.6h1.7" stroke="#1a1a1a" stroke-width="1.7" opacity="0.3" fill="none"/>
<path d="M66.8 153.2h1.6M110.4 123.9h1.6M106.7 106.4h1.6M136.7 119.0h1.6M54.8 35.5h1.6M115.7 140.0h1.6M111.9 137.1h1.6M97.0 83.3h1.6M187.6 149.3h1.6M121.4 109.8h1.6M123.4 50.5h1.6M125.0 161.6h1.6M138.4 79.8h1.6M112.0 133.5h1.6M79.0 113.8h1.6M70.4 29.2h1.6M155.3 127.4h1.6M124.0 45.0h1.6M75.9 101.1h1.6M132.1 199.8h1.6M93.7 113.8h1.6M139.3 122.6h1.6M140.8 51.1h1.6M150.6 102.1h1.6M97.8 132.6h1.6M121.0 186.5h1.6M126.2 155.4h1.6M146.2 69.4h1.6M104.5 127.9h1.6M115.8 156.5h1.6M114.4 81.2h1.6M121.7 145.1h1.6M121.2 189.7h1.6M100.9 115.0h1.6M133.4 179.7h1.6M172.1 142.5h1.6M143.6 103.4h1.6M182.0 107.6h1.6M147.8 123.4h1.6M149.6 108.6h1.6" stroke="#1a1a1a" stroke-width="1.6" opacity="0.25" fill="none"/>
</g>
<rect x="0" y="0" width="219.6" height="219.2" fill="none" stroke="#555" stroke-width="2.3"/>
<path d="M121.8 0V219.2M0 88.6H219.6" stroke="#555" stroke-width="2" fill="none"/>
<path d="M-5.5 14.8H0M-5.5 43.8H0M-5.5 78.6H0M-5.5 113.6H0M-5.5 149.4H0M-5.5 184.3H0M-5.5 215H0M-2.5 22H0M-2.5 27H0M-2.5 31H0M-2.5 35H0M-2.5 39H0M-2.5 52H0M-2.5 58H0M-2.5 64H0M-2.5 69H0M-2.5 74H0M-2.5 87H0M-2.5 93H0M-2.5 99H0M-2.5 104H0M-2.5 109H0M-2.5 122H0M-2.5 128H0M-2.5 134H0M-2.5 139H0M-2.5 144H0M-2.5 157H0M-2.5 163H0M-2.5 169H0M-2.5 174H0M-2.5 179H0M-2.5 192H0M-2.5 198H0M-2.5 203H0M-2.5 208H0M-2.5 211H0M10 219.2V224.7M37.5 219.2V224.7M76.7 219.2V224.7M115 219.2V224.7M155 219.2V224.7M192.5 219.2V224.7M18 219.2V221.7M24 219.2V221.7M29 219.2V221.7M33 219.2V221.7M49 219.2V221.7M57 219.2V221.7M63 219.2V221.7M68 219.2V221.7M72 219.2V221.7M88 219.2V221.7M96 219.2V221.7M102 219.2V221.7M107 219.2V221.7M111 219.2V221.7M127 219.2V221.7M135 219.2V221.7M141 219.2V221.7M146 219.2V221.7M150 219.2V221.7M166 219.2V221.7M173 219.2V221.7M179 219.2V221.7M184 219.2V221.7M188 219.2V221.7M200 219.2V221.7M206 219.2V221.7M211 219.2V221.7M215 219.2V221.7" stroke="#444" stroke-width="1.6" fill="none"/>
<path d="M-5.5 219.2H219.6M0 0V224.7" stroke="#555" stroke-width="1.8" fill="none"/>
<g font-size="10" font-weight="normal" fill="#222" stroke="#222" stroke-width="0.55"><text x="-27.5" y="19.3">10<tspan dy="-4.5" font-size="7.5">7</tspan></text><text x="-27.5" y="48.3">10<tspan dy="-4.5" font-size="7.5">6</tspan></text><text x="-27.5" y="83.1">10<tspan dy="-4.5" font-size="7.5">5</tspan></text><text x="-27.5" y="118.1">10<tspan dy="-4.5" font-size="7.5">4</tspan></text><text x="-27.5" y="153.9">10<tspan dy="-4.5" font-size="7.5">3</tspan></text><text x="-27.5" y="188.8">10<tspan dy="-4.5" font-size="7.5">2</tspan></text><text x="-27.5" y="219.5">10<tspan dy="-4.5" font-size="7.5">1</tspan></text><text x="3" y="240.2">10<tspan dy="-4.5" font-size="7.5">2</tspan></text><text x="30.5" y="240.2">10<tspan dy="-4.5" font-size="7.5">3</tspan></text><text x="69.7" y="240.2">10<tspan dy="-4.5" font-size="7.5">4</tspan></text><text x="108" y="240.2">10<tspan dy="-4.5" font-size="7.5">5</tspan></text><text x="148" y="240.2">10<tspan dy="-4.5" font-size="7.5">6</tspan></text><text x="185.5" y="240.2">10<tspan dy="-4.5" font-size="7.5">7</tspan></text><text x="3.8" y="12.3">Q1</text><text x="3.8" y="28">0.126%</text><text x="184.6" y="12.3">Q2</text><text x="184.6" y="28">1.02%</text><text x="4" y="201.6">Q4</text><text x="4" y="214.6">97.0%</text><text x="184.6" y="201.6">Q3</text><text x="184.6" y="214.6">1.84%</text></g>
</g>
<text x="1474.6" y="327.0" font-size="27" text-anchor="middle" textLength="100.0" lengthAdjust="spacingAndGlyphs">Control</text>
<g transform="translate(1642.2 48.5)" filter="url(#bq)">
<rect x="2" y="2" width="50" height="32" fill="#fbfbfb"/>
<rect x="167.6" y="2" width="50" height="32" fill="#fbfbfb"/>
<rect x="2" y="185.2" width="50" height="32" fill="#fbfbfb"/>
<rect x="167.6" y="185.2" width="50" height="32" fill="#fbfbfb"/>
<ellipse cx="92" cy="135" rx="24" ry="14" transform="rotate(-38 92 135)" fill="#111" opacity="0.9" filter="url(#b2)"/>
<g filter="url(#bp)">
<path d="M81.2 125.8h1.7M107.1 108.7h1.7M63.9 148.7h1.7M118.9 126.5h1.7M86.1 141.9h1.7M80.7 122.0h1.7M89.1 139.8h1.7M97.9 116.9h1.7M58.3 143.9h1.7M95.4 132.7h1.7M93.7 134.7h1.7M80.1 129.0h1.7M98.3 133.7h1.7M104.2 138.4h1.7M65.4 130.0h1.7M82.8 164.6h1.7M83.3 145.5h1.7M94.9 140.0h1.7M124.0 103.9h1.7M86.3 132.5h1.7M96.7 136.4h1.7M87.5 152.2h1.7M106.3 128.1h1.7M88.8 134.4h1.7M76.6 153.6h1.7M77.9 140.0h1.7M97.5 120.3h1.7M90.0 145.2h1.7M108.2 114.4h1.7M100.1 121.1h1.7M98.1 134.9h1.7M84.1 151.7h1.7M111.4 119.8h1.7M88.1 124.8h1.7M111.4 120.0h1.7M81.2 151.1h1.7M71.6 143.0h1.7M75.0 162.6h1.7M112.4 111.7h1.7M81.1 136.8h1.7M88.0 143.6h1.7M102.1 115.7h1.7M86.7 119.1h1.7M107.6 121.3h1.7M91.6 151.3h1.7M97.3 145.1h1.7M111.8 136.8h1.7M82.8 142.3h1.7M94.3 130.5h1.7M104.4 117.1h1.7M109.5 135.5h1.7M64.7 145.3h1.7M78.5 139.1h1.7M94.7 130.5h1.7M89.8 131.2h1.7M92.9 139.0h1.7M95.4 123.3h1.7M86.1 130.9h1.7M81.8 126.9h1.7M105.3 131.3h1.7M86.4 131.5h1.7M82.8 134.5h1.7M82.8 159.2h1.7M121.2 98.4h1.7M81.5 148.9h1.7M89.7 119.2h1.7M72.9 155.2h1.7M76.8 161.7h1.7M86.3 139.8h1.7M88.3 131.3h1.7M88.2 134.2h1.7M104.5 123.7h1.7M88.2 131.7h1.7M80.4 135.5h1.7M101.0 147.2h1.7M104.8 127.0h1.7M115.0 127.4h1.7M92.7 132.1h1.7M80.5 146.1h1.7M79.5 127.1h1.7M87.3 159.0h1.7M96.3 136.5h1.7M91.1 130.2h1.7M102.1 138.3h1.7M90.6 141.1h1.7M100.1 122.9h1.7M89.3 128.6h1.7M96.0 127.3h1.7M99.9 120.0h1.7M108.3 118.4h1.7M77.3 136.2h1.7M94.1 123.6h1.7M117.9 128.0h1.7M89.6 121.0h1.7M87.2 130.3h1.7M73.5 153.5h1.7M112.8 112.4h1.7M106.9 136.6h1.7M78.9 141.0h1.7M96.7 135.8h1.7M79.8 146.3h1.7M95.1 142.3h1.7M70.7 145.0h1.7M84.1 137.2h1.7M96.0 124.6h1.7M117.8 106.7h1.7M105.9 134.6h1.7M100.9 125.3h1.7M80.8 140.4h1.7M99.3 130.1h1.7M100.7 133.8h1.7M76.7 136.4h1.7M104.7 119.3h1.7M83.6 161.1h1.7M77.2 135.9h1.7M96.0 119.1h1.7M87.2 149.5h1.7M95.4 158.9h1.7M106.4 152.1h1.7M93.0 134.3h1.7M83.1 139.0h1.7M85.7 139.2h1.7M93.2 119.8h1.7M70.2 128.9h1.7M107.5 121.5h1.7M90.8 134.7h1.7M104.1 128.5h1.7M99.8 126.6h1.7M89.7 135.7h1.7M76.5 158.4h1.7M68.7 141.9h1.7M99.0 129.6h1.7M109.2 139.4h1.7M119.1 128.2h1.7M99.5 150.7h1.7M81.1 142.0h1.7M101.2 125.0h1.7M88.1 133.7h1.7M93.4 106.7h1.7M110.9 131.1h1.7M93.4 139.4h1.7M86.4 150.8h1.7M120.3 102.5h1.7M106.4 122.6h1.7M85.0 134.7h1.7M82.7 128.3h1.7M85.0 157.8h1.7M94.0 138.9h1.7M97.2 135.5h1.7M69.5 141.8h1.7M103.5 136.2h1.7M75.6 141.0h1.7M82.9 148.6h1.7M95.3 132.3h1.7M85.9 142.9h1.7M87.8 129.7h1.7M91.5 127.7h1.7M105.1 131.0h1.7M86.8 144.9h1.7M88.3 129.7h1.7M72.5 131.7h1.7M80.6 147.1h1.7M101.3 120.4h1.7M94.9 135.9h1.7M102.2 131.2h1.7M108.8 129.6h1.7M85.0 144.2h1.7M64.5 154.0h1.7M94.6 138.7h1.7M92.3 143.2h1.7M101.5 118.0h1.7M86.7 141.4h1.7M97.5 131.7h1.7M94.3 119.9h1.7M106.0 136.1h1.7M105.8 128.3h1.7M90.8 139.7h1.7M82.2 125.0h1.7M84.4 139.9h1.7M80.7 133.2h1.7M86.8 134.5h1.7M91.8 134.1h1.7M98.4 140.2h1.7M94.9 136.5h1.7M62.4 125.8h1.7M90.4 143.0h1.7M84.3 133.7h1.7M82.3 151.7h1.7M86.8 141.2h1.7M106.6 128.8h1.7M115.4 114.8h1.7M105.5 131.4h1.7M84.3 141.0h1.7M79.7 133.0h1.7M90.6 127.2h1.7M106.0 115.6h1.7M85.8 140.3h1.7M85.9 139.8h1.7M77.2 130.7h1.7M57.9 147.2h1.7M110.4 124.9h1.7M90.6 130.6h1.7M91.3 138.3h1.7M71.8 141.6h1.7M88.1 151.1h1.7M85.8 152.0h1.7M100.4 157.3h1.7M90.6 135.9h1.7M110.8 129.2h1.7M96.1 119.7h1.7M112.6 136.5h1.7M87.6 132.6h1.7M84.6 151.2h1.7M94.6 132.5h1.7M86.2 156.5h1.7M100.9 127.3h1.7M102.6 115.9h1.7M95.8 120.7h1.7M105.4 121.0h1.7M102.6 121.7h1.7M101.7 139.2h1.7M81.9 143.4h1.7M86.5 147.9h1.7M82.7 137.7h1.7M95.2 144.5h1.7M79.7 143.8h1.7M84.8 134.2h1.7M81.8 140.7h1.7M85.4 122.9h1.7M87.7 125.1h1.7M103.4 150.1h1.7M80.3 142.9h1.7M93.6 143.8h1.7M76.7 127.1h1.7M74.5 150.1h1.7M99.7 140.0h1.7M88.9 144.1h1.7M86.3 152.8h1.7M87.0 131.1h1.7M102.4 145.1h1.7M75.5 134.0h1.7M74.1 136.0h1.7M92.6 137.8h1.7M90.5 137.7h1.7M102.9 122.9h1.7M65.5 130.5h1.7M90.4 128.4h1.7M90.7 139.9h1.7M88.2 120.5h1.7M81.1 143.7h1.7M95.7 143.9h1.7M75.0 125.5h1.7M95.7 114.0h1.7M82.6 146.0h1.7M92.6 160.8h1.7M96.7 136.5h1.7M98.1 153.6h1.7M93.5 125.5h1.7M96.3 112.9h1.7M86.3 142.0h1.7M87.8 127.4h1.7M116.4 131.2h1.7M82.9 145.6h1.7M82.0 137.6h1.7M102.8 127.3h1.7M90.6 136.6h1.7M84.8 153.3h1.7M89.9 150.2h1.7M83.9 135.9h1.7M108.7 123.5h1.7M81.4 136.9h1.7M107.8 142.3h1.7M96.0 127.1h1.7M75.4 140.2h1.7M91.3 137.7h1.7M90.8 149.2h1.7M77.0 138.5h1.7M99.3 133.9h1.7M92.0 144.8h1.7M84.3 158.1h1.7M125.6 129.2h1.7M102.9 147.2h1.7M98.8 143.4h1.7M90.1 138.0h1.7M87.9 118.8h1.7M98.0 148.3h1.7M61.1 162.8h1.7M103.2 129.3h1.7M100.7 142.6h1.7M85.1 119.4h1.7M79.3 141.2h1.7M90.6 130.8h1.7M98.9 147.1h1.7M65.0 168.0h1.7M104.8 131.0h1.7M91.8 135.3h1.7M96.6 133.5h1.7M87.4 146.5h1.7M82.0 141.8h1.7M81.3 130.4h1.7M97.6 129.3h1.7M78.1 144.5h1.7M83.6 156.5h1.7M107.4 143.8h1.7M88.7 144.6h1.7M76.2 137.6h1.7M92.5 138.5h1.7M100.1 125.3h1.7M108.5 132.0h1.7M80.7 141.3h1.7M90.1 154.3h1.7M89.9 145.6h1.7M100.0 125.4h1.7M87.7 141.5h1.7M76.2 133.2h1.7M82.4 145.6h1.7M102.6 145.1h1.7M73.8 154.1h1.7M84.6 152.6h1.7M99.6 129.9h1.7M105.6 119.9h1.7M80.0 132.5h1.7M84.7 141.4h1.7M105.4 137.8h1.7M84.6 132.4h1.7M85.4 135.0h1.7M84.1 136.3h1.7M81.5 142.1h1.7M84.8 138.3h1.7M76.9 147.8h1.7M100.9 134.4h1.7M79.4 132.1h1.7M70.9 138.3h1.7M82.6 138.4h1.7M75.3 154.6h1.7M70.9 143.6h1.7M87.7 146.7h1.7M109.6 116.9h1.7M86.3 134.7h1.7M88.2 135.6h1.7M112.7 106.7h1.7M86.0 130.7h1.7M92.5 128.5h1.7M92.0 122.9h1.7M115.5 118.4h1.7M75.6 154.7h1.7M80.2 131.4h1.7M93.4 127.8h1.7M96.5 125.1h1.7M101.9 128.3h1.7M96.0 133.0h1.7M85.5 135.7h1.7M99.9 135.8h1.7M98.4 153.3h1.7M103.8 113.0h1.7M102.8 125.3h1.7M89.8 127.8h1.7M105.1 115.5h1.7M86.7 130.9h1.7M118.9 126.8h1.7M74.6 143.3h1.7M93.1 129.1h1.7M81.9 130.9h1.7M88.4 125.7h1.7M112.7 143.7h1.7M96.2 148.6h1.7M91.9 127.4h1.7M82.6 131.6h1.7M96.2 138.6h1.7M100.0 125.3h1.7M77.9 144.7h1.7M111.0 122.6h1.7M79.9 121.9h1.7M89.4 142.3h1.7M88.0 151.9h1.7M80.7 134.1h1.7M84.5 139.3h1.7M99.3 122.8h1.7M71.5 149.6h1.7M104.9 140.7h1.7M86.7 154.3h1.7M101.0 132.3h1.7M78.4 135.7h1.7M85.7 149.3h1.7M99.2 140.2h1.7M111.2 119.7h1.7M100.6 148.0h1.7M74.8 143.1h1.7M85.4 135.7h1.7M88.6 128.3h1.7M96.9 116.2h1.7M73.8 130.8h1.7M79.1 150.8h1.7M97.1 128.4h1.7M103.7 131.9h1.7M84.9 139.7h1.7M105.6 145.1h1.7M88.4 141.2h1.7M103.5 138.4h1.7M101.4 138.5h1.7M78.4 142.3h1.7M70.1 151.1h1.7M117.9 116.9h1.7M93.7 136.0h1.7M86.1 125.1h1.7M82.9 139.8h1.7M88.7 127.9h1.7M86.4 131.1h1.7M73.7 141.9h1.7M86.9 147.3h1.7M108.8 127.5h1.7M86.2 133.2h1.7M71.6 144.9h1.7M114.2 129.3h1.7M92.5 131.5h1.7M93.5 137.8h1.7M93.4 137.9h1.7M83.2 141.9h1.7M93.0 145.1h1.7M84.5 154.0h1.7M87.8 132.5h1.7M92.2 135.7h1.7M91.0 139.8h1.7M76.4 128.9h1.7M98.8 129.0h1.7M111.4 123.5h1.7M76.0 160.1h1.7M86.7 144.4h1.7M121.0 123.4h1.7M79.0 143.7h1.7M77.3 153.0h1.7M92.2 123.6h1.7M101.0 137.3h1.7M96.7 123.8h1.7M78.1 133.6h1.7M78.9 148.0h1.7M98.4 143.2h1.7M92.7 130.6h1.7M83.8 157.2h1.7M93.0 133.5h1.7M75.1 136.7h1.7M93.2 123.3h1.7M100.9 134.2h1.7M78.9 127.7h1.7M103.0 140.7h1.7M76.0 133.8h1.7M103.9 126.8h1.7M90.8 148.3h1.7M90.6 140.3h1.7M83.2 133.6h1.7M89.4 127.6h1.7M69.4 146.6h1.7M110.3 131.8h1.7M119.9 123.1h1.7M110.1 123.0h1.7M89.0 141.8h1.7M84.8 147.9h1.7M87.8 140.5h1.7M81.4 141.4h1.7M100.9 125.4h1.7M85.5 142.6h1.7M99.9 126.4h1.7M70.8 134.8h1.7M82.3 153.3h1.7M92.8 138.9h1.7M104.4 127.8h1.7M94.0 127.7h1.7M77.1 152.8h1.7M93.2 139.6h1.7M79.1 143.2h1.7M108.9 112.6h1.7M99.1 142.7h1.7M89.5 137.8h1.7M72.2 158.1h1.7M93.1 147.1h1.7M88.5 133.4h1.7M94.9 129.8h1.7M93.6 149.4h1.7M102.5 127.5h1.7M104.3 133.6h1.7M97.9 130.5h1.7M94.2 137.1h1.7M99.3 132.6h1.7M85.0 139.2h1.7M91.4 124.9h1.7M95.1 140.0h1.7M91.8 131.8h1.7M88.7 132.2h1.7M100.1 124.4h1.7M67.3 141.4h1.7M95.7 133.9h1.7M79.7 130.6h1.7M85.5 130.9h1.7M84.3 140.6h1.7M84.7 143.6h1.7M81.1 138.3h1.7M96.3 146.4h1.7M113.1 127.9h1.7M83.4 141.3h1.7M105.3 132.6h1.7M73.5 148.5h1.7M87.2 146.2h1.7M95.6 126.3h1.7M113.1 115.2h1.7M116.9 113.4h1.7M100.0 148.0h1.7M83.3 136.5h1.7M107.1 122.4h1.7M90.2 123.0h1.7M115.6 126.3h1.7M98.8 136.6h1.7M83.6 136.3h1.7M76.3 150.7h1.7M109.0 130.1h1.7M104.9 131.9h1.7M74.9 134.5h1.7M99.1 130.8h1.7M100.7 125.0h1.7M84.1 145.4h1.7M77.2 129.3h1.7M80.4 134.6h1.7M76.6 141.0h1.7M113.4 142.1h1.7M108.0 117.9h1.7M103.4 125.0h1.7M92.4 127.4h1.7M82.2 125.0h1.7M106.9 115.1h1.7M94.8 126.4h1.7M88.4 125.3h1.7M91.9 144.1h1.7M88.1 117.7h1.7M94.0 119.6h1.7M97.1 136.0h1.7M82.9 138.5h1.7M90.7 139.7h1.7M108.0 136.1h1.7M104.8 145.1h1.7M90.0 154.4h1.7M92.4 142.2h1.7M90.4 136.7h1.7M83.4 145.3h1.7M114.0 119.0h1.7M91.2 135.3h1.7M98.1 127.8h1.7M92.4 136.5h1.7M110.2 130.2h1.7M76.9 140.0h1.7M95.8 140.3h1.7M100.8 125.6h1.7M113.5 116.1h1.7M113.7 132.3h1.7M109.6 122.9h1.7M90.0 120.5h1.7M69.1 146.2h1.7M104.4 135.8h1.7M95.4 142.6h1.7M105.2 139.9h1.7M70.1 143.3h1.7M75.9 136.5h1.7M104.6 115.3h1.7M80.5 139.6h1.7M98.6 124.7h1.7M102.1 132.4h1.7M72.7 125.5h1.7M75.3 134.9h1.7M105.5 116.7h1.7M81.7 146.5h1.7M87.3 128.7h1.7M107.8 131.7h1.7M90.6 127.9h1.7M71.8 129.4h1.7M97.5 134.4h1.7M81.6 143.0h1.7M121.2 100.2h1.7M76.0 153.4h1.7M84.3 135.6h1.7M97.5 129.0h1.7M104.7 130.0h1.7M104.5 126.1h1.7M74.8 162.0h1.7M78.2 156.1h1.7M87.2 124.1h1.7M96.5 140.1h1.7M80.5 144.0h1.7M78.4 134.9h1.7M91.0 148.4h1.7M98.6 129.1h1.7M91.1 136.6h1.7M95.4 133.8h1.7M77.4 155.5h1.7M69.2 125.7h1.7M93.0 121.5h1.7M89.4 135.7h1.7M87.6 143.5h1.7M87.0 135.6h1.7M79.6 141.4h1.7M80.4 144.1h1.7M110.7 130.3h1.7M89.2 122.8h1.7M107.1 132.3h1.7M102.5 103.3h1.7M89.9 132.8h1.7M97.7 118.9h1.7M98.8 153.1h1.7M92.2 113.9h1.7M98.4 143.6h1.7M87.6 144.1h1.7M85.2 124.9h1.7M90.2 147.6h1.7M101.2 121.2h1.7M100.0 121.0h1.7M93.9 132.8h1.7M79.4 147.7h1.7M73.5 120.8h1.7M78.1 136.7h1.7M77.4 135.9h1.7M71.7 125.2h1.7M101.4 128.0h1.7M92.8 131.2h1.7M90.7 132.8h1.7M71.9 134.6h1.7M97.2 140.9h1.7M101.9 143.4h1.7M75.2 144.9h1.7M90.8 148.2h1.7M107.1 117.3h1.7M98.1 127.3h1.7M79.9 142.8h1.7M87.8 153.8h1.7M103.7 137.6h1.7M83.1 116.5h1.7M100.5 128.8h1.7M66.0 155.9h1.7M110.9 137.4h1.7M84.2 148.8h1.7M94.1 131.1h1.7M90.9 140.8h1.7M100.9 134.4h1.7M80.3 130.1h1.7M112.1 132.2h1.7M85.0 139.6h1.7M91.3 116.9h1.7M108.8 146.3h1.7M90.7 128.2h1.7M113.5 117.8h1.7M91.5 130.5h1.7M84.3 122.0h1.7M70.0 136.4h1.7M100.6 126.8h1.7M93.6 112.2h1.7M92.1 149.4h1.7M73.4 129.8h1.7M81.5 139.1h1.7M97.7 143.5h1.7M113.5 133.7h1.7M95.1 126.9h1.7M78.5 129.7h1.7M111.4 132.3h1.7M87.8 128.5h1.7M101.1 132.4h1.7M87.2 126.2h1.7M91.1 129.3h1.7M102.3 132.6h1.7M93.9 128.5h1.7M111.7 127.1h1.7M109.3 129.7h1.7M100.5 131.9h1.7M70.6 132.4h1.7M84.2 146.9h1.7M102.1 128.5h1.7M101.5 146.0h1.7M78.1 126.9h1.7M72.9 146.0h1.7M102.6 133.8h1.7M93.0 142.1h1.7M87.2 130.8h1.7M91.0 143.1h1.7M96.0 119.7h1.7M81.2 144.2h1.7M108.5 109.5h1.7M79.8 148.3h1.7M93.8 126.8h1.7M93.5 138.3h1.7M72.3 149.6h1.7M102.4 135.9h1.7M103.6 124.7h1.7M82.4 155.8h1.7M96.5 124.4h1.7M107.7 132.9h1.7M78.0 121.0h1.7M82.4 134.1h1.7M81.8 141.6h1.7M81.6 146.6h1.7M105.8 111.4h1.7M99.9 122.8h1.7M96.5 129.6h1.7M101.6 119.6h1.7M95.3 123.8h1.7M93.7 133.0h1.7M95.2 115.7h1.7M83.7 155.3h1.7M104.0 142.6h1.7M81.2 145.1h1.7M106.7 141.3h1.7M88.5 132.6h1.7M98.5 128.3h1.7M87.0 146.2h1.7M65.6 144.6h1.7M103.5 120.3h1.7M89.7 140.1h1.7M106.1 128.9h1.7M78.0 139.5h1.7M102.0 125.4h1.7M88.9 145.9h1.7M114.5 139.3h1.7M76.2 139.5h1.7M85.6 143.1h1.7M91.8 146.2h1.7M67.1 163.8h1.7M83.0 138.7h1.7M98.4 131.5h1.7M87.9 153.2h1.7M95.1 127.0h1.7M88.0 126.1h1.7M76.6 143.4h1.7M95.7 132.6h1.7M76.0 132.6h1.7M81.2 159.4h1.7M91.3 126.8h1.7M106.8 128.5h1.7M83.8 134.5h1.7M105.2 127.5h1.7M110.7 123.6h1.7M82.0 136.1h1.7M85.0 142.5h1.7M97.1 136.8h1.7M90.9 124.5h1.7M84.4 130.7h1.7M89.9 122.5h1.7M80.7 134.4h1.7M83.4 138.5h1.7M106.3 120.7h1.7M74.4 145.1h1.7M102.1 132.3h1.7M103.9 145.8h1.7M103.7 126.3h1.7M97.6 116.2h1.7M85.1 130.9h1.7M101.3 143.9h1.7M94.0 149.4h1.7M87.5 152.7h1.7M68.9 143.8h1.7M101.6 126.0h1.7M92.8 133.7h1.7M92.3 132.3h1.7M79.3 141.3h1.7M88.0 128.3h1.7M105.2 142.4h1.7M71.0 145.3h1.7M88.4 137.5h1.7M88.7 129.5h1.7M91.0 135.3h1.7M98.1 145.6h1.7M85.3 124.4h1.7M77.5 151.9h1.7M84.5 133.9h1.7M75.2 144.4h1.7M86.9 131.4h1.7M92.0 143.6h1.7M102.5 131.9h1.7M82.6 127.7h1.7M107.1 138.1h1.7M110.8 131.8h1.7M96.2 135.1h1.7M97.5 143.2h1.7M99.2 151.0h1.7M98.0 126.4h1.7M83.2 124.7h1.7M81.9 139.2h1.7M113.5 109.3h1.7M101.5 127.8h1.7M91.3 141.5h1.7M74.7 157.8h1.7M113.5 120.7h1.7M91.4 136.5h1.7M95.9 126.3h1.7M95.1 137.2h1.7M89.5 140.4h1.7M98.5 136.8h1.7M78.0 139.8h1.7M92.7 146.3h1.7M85.7 122.3h1.7M87.4 158.2h1.7M88.4 123.8h1.7M82.3 143.5h1.7M114.7 133.5h1.7M85.9 136.1h1.7M106.9 112.6h1.7M109.8 124.1h1.7M98.8 142.5h1.7M92.3 125.6h1.7M75.1 147.9h1.7M103.7 139.5h1.7M70.1 165.5h1.7M105.6 139.6h1.7M100.9 129.7h1.7M97.9 133.9h1.7M84.0 139.5h1.7M90.4 131.0h1.7M68.4 138.0h1.7M99.3 134.1h1.7M86.6 126.6h1.7M98.5 125.4h1.7M76.9 162.4h1.7M86.6 162.0h1.7M94.8 127.7h1.7M62.6 150.2h1.7M114.0 131.4h1.7M85.5 121.8h1.7M85.8 136.4h1.7M95.6 130.3h1.7M86.8 121.6h1.7M91.7 149.7h1.7M80.4 153.1h1.7M119.3 119.9h1.7M82.7 154.6h1.7M73.1 152.7h1.7M93.2 146.4h1.7M104.9 126.4h1.7M115.4 126.3h1.7M81.2 132.7h1.7M115.6 111.8h1.7M95.1 130.8h1.7M78.2 128.6h1.7M89.2 135.5h1.7M99.2 123.5h1.7M69.1 141.2h1.7M92.1 136.9h1.7M97.1 126.5h1.7M97.8 131.4h1.7M109.1 120.5h1.7M95.7 137.4h1.7M99.7 118.9h1.7M84.8 137.2h1.7M75.0 161.2h1.7M102.9 126.2h1.7M133.8 115.0h1.7M120.9 128.2h1.7M93.9 118.3h1.7M109.8 124.9h1.7M78.8 145.4h1.7M104.3 135.0h1.7M90.5 130.2h1.7M95.7 123.7h1.7M94.3 140.6h1.7M77.8 149.5h1.7M65.6 145.4h1.7M77.7 144.7h1.7M98.7 128.7h1.7M101.6 128.0h1.7M91.6 139.9h1.7M89.4 137.9h1.7M99.6 122.6h1.7M98.1 118.2h1.7M80.2 125.6h1.7M93.6 149.7h1.7M101.5 140.2h1.7M70.4 140.8h1.7M100.5 136.4h1.7M91.8 117.2h1.7M96.4 130.3h1.7M95.0 137.1h1.7M79.8 126.4h1.7M72.5 134.6h1.7M76.5 145.2h1.7M101.7 119.4h1.7M77.3 134.0h1.7M73.1 149.9h1.7M84.9 137.5h1.7M83.4 146.2h1.7M81.2 148.6h1.7M88.2 145.6h1.7M84.0 145.3h1.7M95.6 130.8h1.7M109.7 122.4h1.7M85.3 146.9h1.7M79.7 138.4h1.7M92.4 136.1h1.7M100.8 109.4h1.7M94.2 144.5h1.7M91.2 138.4h1.7M101.5 114.2h1.7M95.8 139.8h1.7M76.2 128.6h1.7M81.6 144.6h1.7M102.7 145.3h1.7M97.7 113.8h1.7M107.1 132.2h1.7M107.9 120.4h1.7M86.1 140.6h1.7M111.1 126.0h1.7M113.5 125.8h1.7M79.9 133.4h1.7M103.5 109.7h1.7M85.9 135.9h1.7M78.6 139.0h1.7M103.4 150.3h1.7M88.0 132.2h1.7M97.4 140.0h1.7M80.5 139.2h1.7M76.1 154.2h1.7M106.2 139.0h1.7M89.4 159.1h1.7M99.3 125.9h1.7M85.5 136.3h1.7M82.2 150.2h1.7M81.1 135.4h1.7M97.4 131.4h1.7M83.8 138.4h1.7M92.8 147.9h1.7M98.4 121.9h1.7M97.8 144.2h1.7M97.2 149.0h1.7M99.5 135.6h1.7M73.3 158.0h1.7M97.9 135.9h1.7M99.1 134.4h1.7M90.4 145.1h1.7M86.7 127.7h1.7M81.2 144.6h1.7M83.7 117.9h1.7M74.4 159.2h1.7M105.6 153.6h1.7M73.6 146.3h1.7M87.7 143.7h1.7M114.6 133.6h1.7M86.7 151.5h1.7M79.8 147.2h1.7M96.3 137.6h1.7M89.5 150.4h1.7M90.5 135.4h1.7M83.0 130.3h1.7M100.8 131.1h1.7M105.7 143.3h1.7M80.5 140.5h1.7M95.7 140.5h1.7M94.1 142.6h1.7M87.3 119.7h1.7M73.6 127.5h1.7M86.1 134.7h1.7M98.5 131.1h1.7M97.0 143.7h1.7M91.5 122.0h1.7M85.5 142.9h1.7M108.6 119.4h1.7M90.8 138.2h1.7M99.3 127.8h1.7M92.3 129.8h1.7M81.3 134.5h1.7M95.6 125.8h1.7M99.3 133.0h1.7M88.2 109.4h1.7M74.7 135.2h1.7M93.6 141.6h1.7M126.4 123.7h1.7M107.9 126.1h1.7M89.9 141.7h1.7M72.6 159.4h1.7M94.5 138.9h1.7M74.6 136.5h1.7M84.2 140.1h1.7M93.3 129.8h1.7M98.5 136.5h1.7M78.3 144.1h1.7M71.7 144.5h1.7M97.4 122.7h1.7M113.9 122.6h1.7M101.4 128.2h1.7M106.2 134.8h1.7M89.8 130.7h1.7M95.2 152.2h1.7M87.0 133.6h1.7M75.1 130.0h1.7M87.6 141.3h1.7M82.2 134.2h1.7M98.1 134.5h1.7M88.2 140.7h1.7M85.2 148.8h1.7M79.0 141.1h1.7M90.6 131.1h1.7M89.6 158.3h1.7M98.8 110.9h1.7M86.2 125.7h1.7M88.0 123.9h1.7M100.3 133.6h1.7M115.9 128.5h1.7M91.2 145.0h1.7M85.8 138.1h1.7M76.9 127.7h1.7M87.5 116.7h1.7M91.4 140.4h1.7M84.5 123.8h1.7M87.8 144.9h1.7M111.3 136.1h1.7M74.1 153.3h1.7M90.0 144.0h1.7M72.4 148.3h1.7M95.6 124.8h1.7M82.4 131.7h1.7M96.6 117.0h1.7M79.8 140.5h1.7M98.7 151.4h1.7M90.0 127.3h1.7M99.3 132.3h1.7M94.0 132.2h1.7M90.3 123.5h1.7M76.2 142.3h1.7M83.0 148.9h1.7M118.5 126.7h1.7M97.8 133.4h1.7M77.3 132.3h1.7M89.7 120.7h1.7M93.8 131.5h1.7M99.7 129.0h1.7M89.5 130.3h1.7M71.0 147.3h1.7M104.1 136.0h1.7M101.1 116.9h1.7M84.8 147.5h1.7M99.5 155.6h1.7M87.0 122.4h1.7M93.3 149.9h1.7M72.4 151.4h1.7M84.5 157.1h1.7M81.2 132.0h1.7M69.3 144.7h1.7M61.3 153.4h1.7M115.3 117.3h1.7M82.5 129.7h1.7M92.6 129.0h1.7M89.2 151.2h1.7M91.5 125.5h1.7M107.0 122.2h1.7M97.5 131.7h1.7M107.2 129.1h1.7M91.2 142.6h1.7M87.8 139.2h1.7M103.6 114.2h1.7M78.1 141.1h1.7M92.6 147.7h1.7M85.8 163.4h1.7M106.1 118.7h1.7M91.5 131.1h1.7M101.9 133.7h1.7M103.3 133.7h1.7M111.3 117.6h1.7M97.9 127.9h1.7M92.8 136.1h1.7M92.5 137.7h1.7M81.3 141.2h1.7M78.8 132.5h1.7M81.1 137.7h1.7M81.7 126.1h1.7M82.8 129.8h1.7M83.4 143.1h1.7M104.7 127.5h1.7M83.8 136.3h1.7M97.5 113.1h1.7M95.9 115.6h1.7M84.7 140.6h1.7M97.4 147.7h1.7M96.4 130.5h1.7M101.8 127.2h1.7M88.3 149.1h1.7M114.0 130.7h1.7M88.4 157.4h1.7M90.7 143.5h1.7M116.3 140.5h1.7M68.6 142.0h1.7M106.6 128.3h1.7M73.0 118.5h1.7M95.1 130.1h1.7M76.8 174.5h1.7M61.4 152.4h1.7M92.4 136.6h1.7M98.1 126.9h1.7M79.8 140.2h1.7M62.9 145.4h1.7M109.1 113.8h1.7M100.1 148.1h1.7M103.3 126.9h1.7M97.9 127.0h1.7M86.6 149.2h1.7M100.9 144.3h1.7M86.6 134.8h1.7M94.1 130.8h1.7M83.4 131.8h1.7M95.7 135.0h1.7M110.9 119.4h1.7M74.7 152.9h1.7M113.8 112.8h1.7M81.8 140.7h1.7M58.7 157.0h1.7M81.5 126.7h1.7M93.1 124.4h1.7M67.6 145.9h1.7M108.0 142.2h1.7M105.8 125.7h1.7M84.4 137.6h1.7M99.1 123.4h1.7M100.8 137.8h1.7M78.5 138.8h1.7M96.2 131.3h1.7M87.2 132.6h1.7M100.1 147.7h1.7M97.7 112.9h1.7M92.3 135.2h1.7M84.6 125.6h1.7M90.7 137.1h1.7M85.5 142.8h1.7M57.2 145.7h1.7M94.4 136.7h1.7M87.2 133.4h1.7M98.9 140.5h1.7M100.6 126.9h1.7M91.7 145.9h1.7M101.7 136.2h1.7M83.9 131.7h1.7M90.1 129.3h1.7M108.1 130.9h1.7M71.1 157.8h1.7M111.0 130.5h1.7M81.8 133.4h1.7M107.0 133.4h1.7M86.0 126.9h1.7M76.1 149.7h1.7M78.9 137.5h1.7M101.5 138.1h1.7M65.5 148.1h1.7M105.1 123.7h1.7M90.9 142.1h1.7M72.7 136.6h1.7M99.5 145.1h1.7M102.3 126.4h1.7M100.2 123.7h1.7M70.0 134.0h1.7M98.8 138.6h1.7M95.1 131.6h1.7M92.5 145.5h1.7M83.4 125.9h1.7M102.8 119.1h1.7M95.6 131.7h1.7M104.0 127.7h1.7M105.7 126.0h1.7M83.7 135.6h1.7M94.1 124.1h1.7M100.1 125.6h1.7M76.8 137.1h1.7M98.8 147.8h1.7M99.8 128.6h1.7M91.3 155.2h1.7M88.3 137.3h1.7M93.6 147.3h1.7M90.9 130.5h1.7M88.2 126.9h1.7M79.1 142.9h1.7M66.1 167.1h1.7M107.1 110.9h1.7M81.7 125.8h1.7M94.3 134.9h1.7M92.5 120.0h1.7M81.5 135.8h1.7M100.4 152.1h1.7M88.9 136.4h1.7M89.9 144.5h1.7M125.0 120.9h1.7M102.4 115.0h1.7M102.9 126.2h1.7M110.3 131.4h1.7M89.8 118.4h1.7M90.2 130.6h1.7M96.3 131.5h1.7M94.4 115.6h1.7M82.9 140.8h1.7M92.7 129.6h1.7M91.3 135.6h1.7M102.1 125.4h1.7M84.6 121.0h1.7M55.4 147.6h1.7M83.3 116.8h1.7M95.3 130.9h1.7M87.6 130.2h1.7M91.0 144.0h1.7M95.0 131.8h1.7M87.1 140.5h1.7M104.1 124.8h1.7M81.3 130.4h1.7M87.7 128.1h1.7M80.2 152.9h1.7M74.1 126.9h1.7M93.0 153.2h1.7M83.3 127.2h1.7M83.0 149.1h1.7M96.8 133.0h1.7M91.7 139.8h1.7M110.5 125.2h1.7M82.3 127.2h1.7M104.2 141.5h1.7M91.9 121.2h1.7M100.0 142.0h1.7M87.0 143.6h1.7M112.8 135.5h1.7M65.0 137.0h1.7M99.0 136.5h1.7M87.3 137.9h1.7M93.0 146.4h1.7M68.6 155.5h1.7M73.9 141.4h1.7M70.0 142.0h1.7M91.2 135.4h1.7M109.6 118.4h1.7M96.9 134.4h1.7M101.7 142.5h1.7M93.6 134.8h1.7M90.1 136.0h1.7M95.8 142.0h1.7M91.9 135.3h1.7M94.7 140.4h1.7M91.0 145.2h1.7M88.7 144.4h1.7M113.4 120.2h1.7M84.3 128.0h1.7M99.4 128.8h1.7M97.8 122.9h1.7M106.3 142.5h1.7M94.0 129.4h1.7M77.1 146.0h1.7M101.6 133.4h1.7M73.8 137.7h1.7M75.4 136.6h1.7M89.7 139.1h1.7M113.2 119.9h1.7M98.6 111.7h1.7M112.2 127.2h1.7M100.4 136.7h1.7M107.9 142.4h1.7M91.1 116.7h1.7M80.6 160.5h1.7M97.2 144.4h1.7M84.2 133.6h1.7M89.2 140.0h1.7M90.1 129.3h1.7M100.3 134.5h1.7M75.6 135.5h1.7M68.4 149.7h1.7M87.8 130.3h1.7M84.0 139.2h1.7M94.6 138.5h1.7M102.6 130.8h1.7M98.5 119.1h1.7M99.8 132.3h1.7M76.4 139.4h1.7M96.5 131.7h1.7M74.8 142.0h1.7M112.3 127.6h1.7M99.2 143.2h1.7M80.5 141.6h1.7M100.0 124.6h1.7M82.1 148.4h1.7M95.6 104.6h1.7M86.5 125.4h1.7M80.7 128.2h1.7M116.1 108.3h1.7M88.1 130.0h1.7M78.2 140.4h1.7M102.6 144.8h1.7M102.5 142.9h1.7M80.1 144.5h1.7M78.4 128.4h1.7M130.7 101.6h1.7M90.1 127.9h1.7M79.7 133.1h1.7M100.4 123.6h1.7M90.7 137.4h1.7M79.1 147.0h1.7M91.7 139.4h1.7M87.3 138.5h1.7M101.9 137.0h1.7M88.8 147.3h1.7M79.6 142.1h1.7M93.5 134.9h1.7M59.0 149.8h1.7M94.1 142.7h1.7M91.4 151.0h1.7M72.0 150.9h1.7M97.3 130.5h1.7M99.0 138.9h1.7M85.6 145.8h1.7M101.7 124.4h1.7M59.9 146.8h1.7M76.5 135.3h1.7M91.8 126.0h1.7M121.3 117.7h1.7M75.6 144.2h1.7M111.5 126.5h1.7M85.5 150.5h1.7M97.6 153.7h1.7M88.4 143.6h1.7M95.2 127.3h1.7M95.6 144.0h1.7M96.4 130.4h1.7M105.2 142.8h1.7M103.9 130.2h1.7M86.8 121.8h1.7M90.3 130.6h1.7M96.1 124.7h1.7M90.8 124.2h1.7M97.3 122.6h1.7M94.0 139.1h1.7M87.8 137.8h1.7M112.0 137.7h1.7M67.0 144.4h1.7M103.5 135.5h1.7M86.6 139.7h1.7M101.0 151.7h1.7M83.0 128.8h1.7M67.8 139.8h1.7M103.5 121.3h1.7M115.9 122.6h1.7M98.8 136.0h1.7M104.7 134.4h1.7M77.8 139.6h1.7M85.9 140.4h1.7M82.2 129.0h1.7M93.0 152.7h1.7M110.0 111.3h1.7M95.3 131.5h1.7M85.8 146.9h1.7M99.2 146.6h1.7M94.7 129.0h1.7M61.9 156.9h1.7M96.9 123.1h1.7M104.5 132.0h1.7M71.0 148.7h1.7M98.7 137.3h1.7M92.9 133.6h1.7M86.0 136.0h1.7M85.8 127.9h1.7M96.6 127.4h1.7M94.4 127.2h1.7M96.4 132.3h1.7M103.4 130.5h1.7M100.6 126.0h1.7M89.3 133.7h1.7M77.0 144.9h1.7M107.1 130.8h1.7M83.6 144.2h1.7M92.5 119.6h1.7M96.8 134.2h1.7M100.8 130.3h1.7M61.9 136.5h1.7M110.9 115.5h1.7M111.7 132.5h1.7M86.4 126.7h1.7M106.0 123.1h1.7M99.4 133.7h1.7M106.9 133.6h1.7M68.5 137.8h1.7M92.9 133.9h1.7M99.1 127.5h1.7M99.8 149.9h1.7M112.3 131.0h1.7M98.5 121.0h1.7M90.0 135.3h1.7M74.9 138.6h1.7M86.8 125.6h1.7M99.6 133.5h1.7M87.0 134.8h1.7M100.3 133.0h1.7M89.0 123.8h1.7M84.2 162.3h1.7M82.3 138.1h1.7M67.3 145.3h1.7M87.4 146.5h1.7M55.3 148.3h1.7M84.3 135.3h1.7M80.6 138.7h1.7M75.5 150.2h1.7M105.1 125.8h1.7M92.0 147.9h1.7M91.3 124.1h1.7M81.9 135.9h1.7M97.1 143.4h1.7M82.9 140.0h1.7M86.4 126.2h1.7M89.3 143.1h1.7M94.0 113.0h1.7M97.5 127.1h1.7M108.6 128.1h1.7M114.4 120.3h1.7M82.7 132.9h1.7M78.6 150.8h1.7M101.1 136.0h1.7M87.4 122.2h1.7M85.6 136.9h1.7M97.0 138.7h1.7M108.2 124.8h1.7M63.6 145.9h1.7M64.1 148.2h1.7M79.5 146.8h1.7M94.6 144.2h1.7M100.7 122.8h1.7M101.7 127.0h1.7M103.2 140.0h1.7M78.4 144.3h1.7M104.2 116.9h1.7M94.3 134.0h1.7M80.1 129.9h1.7M78.8 134.4h1.7M104.4 127.4h1.7M92.9 121.2h1.7M97.5 131.7h1.7M99.0 121.3h1.7M107.2 137.1h1.7M106.2 113.5h1.7M71.5 134.9h1.7M104.8 130.7h1.7M90.6 126.4h1.7M113.2 134.9h1.7M90.3 134.5h1.7M106.9 128.2h1.7M103.9 120.9h1.7M93.3 129.9h1.7M83.6 137.9h1.7M90.8 140.7h1.7M88.4 138.0h1.7M76.2 133.8h1.7M101.8 116.4h1.7M115.9 125.7h1.7M63.1 150.3h1.7M86.9 138.7h1.7M86.3 132.6h1.7M104.3 123.5h1.7M98.3 122.3h1.7M90.6 149.6h1.7M82.6 130.2h1.7M94.9 143.3h1.7M85.9 131.7h1.7M103.3 136.0h1.7M87.4 134.7h1.7M101.2 155.8h1.7M98.2 148.0h1.7M91.8 138.9h1.7M70.0 153.5h1.7M90.3 132.5h1.7M79.9 129.5h1.7M75.9 148.8h1.7M83.9 139.8h1.7M86.8 133.2h1.7M92.9 153.4h1.7M76.7 141.0h1.7M82.2 129.9h1.7M85.3 148.8h1.7M102.1 127.9h1.7M130.9 112.8h1.7M100.6 119.2h1.7M111.7 136.8h1.7M96.5 150.1h1.7M76.7 134.4h1.7M86.7 130.1h1.7M92.6 122.3h1.7M82.2 121.5h1.7M96.4 142.1h1.7M90.1 139.3h1.7M97.6 118.5h1.7M77.9 146.3h1.7M93.0 130.9h1.7M87.0 151.2h1.7M77.3 143.2h1.7M94.6 140.1h1.7M82.3 133.4h1.7M108.9 112.3h1.7M99.2 127.2h1.7M85.9 138.7h1.7M90.1 139.2h1.7M63.5 156.5h1.7M87.2 128.0h1.7M99.1 153.6h1.7M114.7 123.5h1.7M92.3 131.0h1.7M104.2 120.2h1.7M85.9 146.5h1.7M76.8 138.0h1.7M98.9 112.1h1.7M91.2 136.3h1.7M86.7 123.3h1.7M87.2 134.7h1.7M117.4 125.2h1.7M87.6 147.1h1.7" stroke="#1a1a1a" stroke-width="1.7" opacity="0.6" fill="none"/>
<path d="M100.4 132.9h1.6M85.6 139.1h1.6M63.3 146.8h1.6M114.6 147.5h1.6M117.2 119.4h1.6M85.3 108.1h1.6M78.9 128.5h1.6M93.2 114.4h1.6M68.0 137.1h1.6M102.5 145.7h1.6M88.4 168.0h1.6M88.3 129.4h1.6M96.4 136.7h1.6M106.1 136.4h1.6M132.2 133.4h1.6M86.2 154.3h1.6M96.4 122.2h1.6M74.4 137.8h1.6M57.1 168.9h1.6M95.6 155.4h1.6M83.0 145.8h1.6M108.4 144.2h1.6M89.4 125.7h1.6M130.5 129.9h1.6M122.3 145.6h1.6M115.3 132.1h1.6M102.4 142.7h1.6M73.1 162.2h1.6M78.8 153.2h1.6M80.1 156.8h1.6M99.4 171.6h1.6M97.3 143.8h1.6M75.3 144.8h1.6M88.4 137.3h1.6M78.9 134.2h1.6M100.4 129.0h1.6M80.9 151.2h1.6M77.5 145.2h1.6M77.4 134.3h1.6M82.4 132.9h1.6M74.1 154.9h1.6M77.3 126.5h1.6M86.2 145.5h1.6M100.1 140.3h1.6M98.8 144.2h1.6M78.5 135.6h1.6M97.9 130.0h1.6M95.4 147.0h1.6M113.3 145.0h1.6M78.2 142.0h1.6M90.6 119.3h1.6M75.6 157.8h1.6M75.9 135.3h1.6M106.8 138.7h1.6M103.1 128.2h1.6M84.5 138.8h1.6M82.8 115.1h1.6M85.0 153.8h1.6M78.7 146.1h1.6M96.3 144.5h1.6M76.7 131.7h1.6M124.9 110.0h1.6M106.3 105.5h1.6M91.6 136.8h1.6M133.1 145.5h1.6M99.7 120.2h1.6M74.1 138.8h1.6M84.9 147.4h1.6M77.5 144.2h1.6M122.8 142.7h1.6M56.6 146.0h1.6M93.6 157.4h1.6M98.1 163.8h1.6M105.8 152.4h1.6M76.0 144.1h1.6M110.4 137.2h1.6M60.8 153.4h1.6M97.9 145.2h1.6M92.4 164.6h1.6M102.6 154.4h1.6M97.9 137.3h1.6M78.9 130.0h1.6M109.2 140.6h1.6M103.1 127.6h1.6M73.4 144.7h1.6M86.3 142.6h1.6M100.5 121.3h1.6M88.1 151.8h1.6M119.0 156.1h1.6M93.9 126.0h1.6M70.3 140.5h1.6M93.9 142.1h1.6M86.3 133.8h1.6M87.9 140.7h1.6M100.8 135.6h1.6M71.4 134.3h1.6M113.3 125.9h1.6M88.3 141.2h1.6M106.5 126.5h1.6M92.4 135.8h1.6M93.7 123.8h1.6M100.8 149.3h1.6M113.2 136.2h1.6M105.6 154.5h1.6M110.8 148.9h1.6M65.9 138.5h1.6M101.8 129.9h1.6M78.6 133.4h1.6M106.4 113.8h1.6M84.0 123.8h1.6M102.7 165.9h1.6M125.3 113.0h1.6M86.0 166.6h1.6M66.9 128.0h1.6M89.7 125.1h1.6M76.1 165.0h1.6M73.4 134.7h1.6M92.6 136.4h1.6M109.0 131.0h1.6M122.7 138.3h1.6M125.5 136.4h1.6M95.8 145.2h1.6M81.8 122.7h1.6M77.9 158.3h1.6M49.9 151.7h1.6M71.2 150.5h1.6M77.0 151.8h1.6M85.3 136.5h1.6M64.3 123.1h1.6M84.2 125.2h1.6M89.1 146.5h1.6M111.7 138.3h1.6M104.9 111.4h1.6M111.4 151.0h1.6M90.3 124.3h1.6M94.1 130.7h1.6M88.1 157.2h1.6M81.5 129.3h1.6M93.3 167.2h1.6M82.6 154.7h1.6M101.3 151.0h1.6M81.1 132.1h1.6M75.0 134.3h1.6M132.0 119.2h1.6M94.3 156.4h1.6M100.1 132.1h1.6M102.5 137.4h1.6M118.8 148.0h1.6M86.3 142.3h1.6M96.2 154.8h1.6M102.0 145.0h1.6M101.0 125.1h1.6M101.9 153.8h1.6M110.5 140.6h1.6M84.7 138.4h1.6M76.5 144.5h1.6M81.3 124.8h1.6M104.2 121.3h1.6M98.9 144.2h1.6M71.5 125.0h1.6M108.5 135.8h1.6M94.6 154.4h1.6M98.9 121.6h1.6M79.0 121.4h1.6M96.1 157.6h1.6M83.7 156.2h1.6M66.5 149.9h1.6M116.4 150.3h1.6M102.9 144.1h1.6M102.1 98.2h1.6M77.2 175.5h1.6M132.6 124.7h1.6M93.9 142.1h1.6M87.9 132.9h1.6M90.3 138.6h1.6M105.7 141.4h1.6M109.9 137.7h1.6M85.3 163.6h1.6M51.4 164.6h1.6M93.0 131.2h1.6M112.9 111.6h1.6M70.3 144.6h1.6M102.6 144.9h1.6M97.1 146.2h1.6M76.8 139.5h1.6M84.8 124.1h1.6M91.7 133.9h1.6M95.3 122.9h1.6M79.7 138.3h1.6M79.5 132.2h1.6M78.8 127.4h1.6M103.6 142.5h1.6M89.9 138.0h1.6M71.8 137.2h1.6M82.3 132.0h1.6M74.5 152.0h1.6M88.4 135.6h1.6M78.6 146.4h1.6M78.1 141.3h1.6M98.6 146.1h1.6M98.9 126.7h1.6M102.3 116.7h1.6M96.9 155.6h1.6M128.0 120.5h1.6M83.5 139.0h1.6M72.0 148.9h1.6M80.1 135.4h1.6M104.5 121.0h1.6M122.2 134.2h1.6M97.3 127.9h1.6M71.1 122.6h1.6M93.7 134.6h1.6M92.9 129.2h1.6M89.2 119.4h1.6M61.2 164.1h1.6M87.7 96.3h1.6M108.5 124.9h1.6M79.2 124.6h1.6M80.6 156.3h1.6M79.9 145.9h1.6M101.4 162.9h1.6M96.4 117.8h1.6M76.8 131.6h1.6M66.0 144.6h1.6M108.2 130.8h1.6M100.6 132.6h1.6M85.4 144.5h1.6M102.2 161.5h1.6M120.7 128.3h1.6M87.8 113.0h1.6M104.4 167.0h1.6M84.3 155.7h1.6M107.1 124.9h1.6M85.0 136.9h1.6M103.4 133.2h1.6M121.3 139.7h1.6M107.4 168.3h1.6M82.8 135.9h1.6M82.2 132.4h1.6M84.5 142.8h1.6M94.7 114.9h1.6M65.3 143.7h1.6M89.5 147.5h1.6M88.9 163.2h1.6M81.9 142.1h1.6M99.4 152.2h1.6M95.9 137.6h1.6M84.1 146.5h1.6M95.1 132.6h1.6M79.3 120.0h1.6M90.7 157.4h1.6M112.1 126.8h1.6M70.3 178.7h1.6M104.8 169.4h1.6M91.3 154.4h1.6M90.6 160.2h1.6M101.9 118.2h1.6M128.7 159.8h1.6M80.2 128.6h1.6M92.8 133.1h1.6M62.1 141.5h1.6M85.3 121.2h1.6M110.3 135.4h1.6M97.3 156.7h1.6M81.6 155.4h1.6M68.8 148.1h1.6M97.4 128.5h1.6M93.6 148.0h1.6M122.3 140.9h1.6M96.4 133.1h1.6M80.3 171.2h1.6M105.8 100.1h1.6M104.0 131.9h1.6M103.8 137.2h1.6M88.2 141.5h1.6M98.0 153.0h1.6M83.8 136.2h1.6M105.1 141.3h1.6M99.5 139.2h1.6M120.3 139.3h1.6M93.0 135.8h1.6M89.3 113.8h1.6M78.9 136.7h1.6M91.3 134.2h1.6M132.8 126.6h1.6M111.4 161.0h1.6M89.1 136.4h1.6M114.9 138.3h1.6M112.7 145.1h1.6M81.5 135.8h1.6M81.0 147.3h1.6M99.6 119.7h1.6M74.7 129.9h1.6M126.2 131.4h1.6M86.8 124.7h1.6M71.6 141.8h1.6M83.6 125.7h1.6M95.5 155.2h1.6M92.0 140.9h1.6M58.0 155.1h1.6M84.6 133.6h1.6M70.0 151.1h1.6M72.4 142.8h1.6M66.7 152.7h1.6M99.5 122.8h1.6M86.4 120.5h1.6M103.3 140.9h1.6M90.9 153.0h1.6M78.3 148.0h1.6M116.2 125.1h1.6M81.6 162.3h1.6M97.4 132.2h1.6M52.0 135.0h1.6M77.8 169.3h1.6M90.1 128.1h1.6M117.7 146.0h1.6M81.6 152.5h1.6M68.9 158.3h1.6M109.4 108.7h1.6M88.0 132.5h1.6M90.3 141.7h1.6M101.0 147.3h1.6M105.5 147.0h1.6M113.3 143.2h1.6M83.6 150.2h1.6M80.2 133.9h1.6M122.3 126.2h1.6M78.5 116.4h1.6M92.6 150.4h1.6M84.7 135.7h1.6M111.2 123.8h1.6M85.5 141.7h1.6M94.3 153.5h1.6M99.2 134.2h1.6M84.3 140.6h1.6M114.5 122.0h1.6M90.9 117.0h1.6M100.3 144.7h1.6M112.2 132.4h1.6M101.8 138.5h1.6M120.1 153.2h1.6M89.0 129.2h1.6M99.3 133.6h1.6M105.6 142.9h1.6M90.6 133.8h1.6M87.8 123.6h1.6M89.6 127.8h1.6M98.6 137.4h1.6M80.3 128.6h1.6M87.6 132.0h1.6M93.4 148.8h1.6M97.2 117.6h1.6M113.8 146.8h1.6M109.7 133.3h1.6M100.9 159.8h1.6M76.7 125.9h1.6M94.3 142.3h1.6M68.0 135.5h1.6M121.4 124.1h1.6M99.1 126.8h1.6M67.4 151.0h1.6M106.9 121.0h1.6M63.4 153.4h1.6M87.1 142.5h1.6M73.6 145.5h1.6M88.6 154.3h1.6M99.0 148.2h1.6M76.9 116.9h1.6M65.4 162.6h1.6M109.8 142.0h1.6M78.7 120.9h1.6M86.4 148.6h1.6M109.5 124.3h1.6M77.9 136.2h1.6M111.9 140.7h1.6M71.6 169.0h1.6M68.1 131.7h1.6M62.8 145.6h1.6M141.9 148.0h1.6M68.4 143.2h1.6M96.2 143.1h1.6M74.0 126.6h1.6M80.7 136.0h1.6M65.4 156.9h1.6M58.3 133.4h1.6M119.8 137.2h1.6M113.5 128.7h1.6M84.5 142.5h1.6M75.5 159.8h1.6M93.3 134.2h1.6M62.6 154.8h1.6M124.6 141.8h1.6M102.0 128.5h1.6M96.8 144.8h1.6M100.7 149.7h1.6M66.5 120.1h1.6M49.2 150.8h1.6M74.8 159.1h1.6M107.2 130.6h1.6M99.7 136.1h1.6M90.8 133.2h1.6M92.7 156.5h1.6M86.9 141.8h1.6M115.3 140.4h1.6M86.9 146.1h1.6M76.9 150.1h1.6M95.9 137.2h1.6M95.9 142.5h1.6M48.2 152.6h1.6M89.2 133.8h1.6M75.3 145.6h1.6M113.7 123.5h1.6M78.4 140.2h1.6M76.5 155.5h1.6M82.3 158.4h1.6M108.4 138.4h1.6M106.1 130.0h1.6M64.5 154.3h1.6M90.9 117.4h1.6M79.9 162.5h1.6M106.3 150.9h1.6M101.6 134.9h1.6M103.0 145.5h1.6M89.4 137.8h1.6M93.9 133.7h1.6M122.3 110.7h1.6M60.3 138.8h1.6M104.3 126.4h1.6M92.2 136.2h1.6M86.1 121.5h1.6M88.8 132.8h1.6M111.4 137.4h1.6M66.2 140.1h1.6M107.3 148.1h1.6M101.7 131.6h1.6M92.9 104.3h1.6M77.0 133.8h1.6M79.3 155.0h1.6M97.2 140.6h1.6M93.2 147.9h1.6M99.3 126.8h1.6M99.3 121.6h1.6M109.3 110.3h1.6M80.0 130.4h1.6M100.2 154.0h1.6M91.2 166.0h1.6M114.8 131.9h1.6M88.1 154.9h1.6M43.4 156.3h1.6M105.4 131.1h1.6M124.2 110.9h1.6M69.8 149.1h1.6M110.8 153.7h1.6M65.7 156.9h1.6M105.9 121.5h1.6M76.6 130.5h1.6M108.0 142.4h1.6M101.7 137.5h1.6M105.4 129.9h1.6M107.2 142.7h1.6M114.1 134.2h1.6M97.0 147.0h1.6M56.6 133.9h1.6M116.5 127.3h1.6M71.6 142.6h1.6M89.4 142.0h1.6M86.0 157.5h1.6M83.4 185.7h1.6M85.4 167.7h1.6M90.6 115.5h1.6M73.1 151.2h1.6M92.6 132.8h1.6M92.4 141.6h1.6M74.3 150.5h1.6M121.5 112.9h1.6M80.1 156.1h1.6M118.3 139.6h1.6M81.1 144.6h1.6M92.9 135.8h1.6M104.2 148.4h1.6M99.4 135.0h1.6M99.6 161.5h1.6M85.3 172.9h1.6M103.0 134.4h1.6M91.6 166.7h1.6M115.5 139.3h1.6M111.5 101.7h1.6M90.8 135.6h1.6M80.6 147.1h1.6M102.7 141.0h1.6M80.6 126.4h1.6M103.6 141.7h1.6M129.5 131.6h1.6M84.1 127.0h1.6M128.5 108.4h1.6M99.0 146.5h1.6M107.4 150.2h1.6M71.0 141.4h1.6M86.0 124.7h1.6M90.7 160.7h1.6" stroke="#1a1a1a" stroke-width="1.6" opacity="0.5" fill="none"/>
<path d="M92.9 172.8h1.6M81.9 176.0h1.6M88.8 151.6h1.6M99.2 147.2h1.6M105.6 167.7h1.6M60.0 141.3h1.6M92.9 156.1h1.6M112.3 205.0h1.6M116.1 194.4h1.6M106.5 161.8h1.6M105.9 165.5h1.6M88.5 145.4h1.6M89.9 183.8h1.6M88.4 150.9h1.6M100.8 194.9h1.6M88.0 192.1h1.6M101.9 153.6h1.6M88.7 134.5h1.6M75.9 184.3h1.6M77.9 183.6h1.6M93.8 130.0h1.6M82.9 208.1h1.6M89.4 177.7h1.6M80.1 140.0h1.6M86.8 156.0h1.6M90.6 132.7h1.6M107.2 212.4h1.6M79.5 182.1h1.6M77.5 193.7h1.6M78.3 171.9h1.6M106.1 186.5h1.6M84.9 141.8h1.6M68.6 201.3h1.6M95.8 176.3h1.6M105.4 178.2h1.6M79.8 172.7h1.6M87.9 174.7h1.6M121.4 187.7h1.6M92.7 169.5h1.6M80.4 153.3h1.6M64.8 164.9h1.6M69.5 134.4h1.6M77.0 130.6h1.6M107.0 202.3h1.6M76.6 217.2h1.6M97.7 119.6h1.6M89.4 153.1h1.6M66.5 169.3h1.6M104.1 184.8h1.6M70.2 160.5h1.6M79.3 200.1h1.6M87.9 153.5h1.6M77.3 131.7h1.6M78.2 194.7h1.6M64.3 179.2h1.6M87.7 192.9h1.6M74.3 195.0h1.6M68.0 174.3h1.6M86.4 177.7h1.6M76.3 193.9h1.6M119.7 208.1h1.6M76.7 162.3h1.6M98.6 178.0h1.6M79.2 202.2h1.6M95.9 197.5h1.6M86.8 203.1h1.6M83.0 150.4h1.6M89.0 144.3h1.6M105.4 191.1h1.6M67.2 178.8h1.6M100.2 167.1h1.6M94.5 162.1h1.6M88.2 173.1h1.6M95.4 153.7h1.6M74.4 182.3h1.6M82.5 186.4h1.6M82.5 146.1h1.6M98.7 180.9h1.6M98.6 167.5h1.6M84.4 202.8h1.6M67.0 213.3h1.6M95.8 173.7h1.6M90.2 188.3h1.6M79.0 181.1h1.6M76.6 134.3h1.6M91.7 177.2h1.6M97.5 187.3h1.6M98.2 192.4h1.6M75.3 201.8h1.6M124.1 162.5h1.6M72.6 190.1h1.6M101.0 197.3h1.6M109.1 144.4h1.6M94.0 185.2h1.6M105.4 155.3h1.6M89.4 166.8h1.6M86.9 171.8h1.6M87.1 136.0h1.6M88.6 176.5h1.6M84.0 96.7h1.6M80.0 160.6h1.6M77.7 210.4h1.6M101.2 170.9h1.6M76.4 185.5h1.6M81.2 207.8h1.6M103.5 172.3h1.6M97.1 157.4h1.6M68.3 193.6h1.6M110.4 168.3h1.6M82.2 135.4h1.6M117.1 148.5h1.6M76.4 170.7h1.6M104.9 176.2h1.6M88.8 175.5h1.6M100.1 174.2h1.6M91.1 173.4h1.6M74.5 204.7h1.6M80.0 145.9h1.6M83.3 175.7h1.6M99.8 142.5h1.6M72.5 178.9h1.6M94.0 150.8h1.6M74.2 178.9h1.6M87.2 139.3h1.6M77.6 207.8h1.6M75.2 198.2h1.6M69.0 207.8h1.6M110.0 161.0h1.6M80.1 188.9h1.6M72.8 187.2h1.6M105.0 180.8h1.6M93.3 171.5h1.6M102.1 156.9h1.6M109.8 174.5h1.6M84.8 138.9h1.6M83.3 180.2h1.6M105.3 139.3h1.6M87.4 159.8h1.6M73.4 175.1h1.6M79.1 194.2h1.6M53.8 191.3h1.6M64.2 131.9h1.6M95.8 167.5h1.6M90.7 153.6h1.6M75.3 158.7h1.6M88.3 156.4h1.6M83.5 156.0h1.6M92.1 149.9h1.6M61.8 117.0h1.6M88.8 177.1h1.6M101.6 158.6h1.6M74.1 142.1h1.6M98.9 161.2h1.6M101.9 173.3h1.6M85.4 133.9h1.6M80.2 192.4h1.6M81.0 190.0h1.6M67.5 197.4h1.6M125.4 199.6h1.6M93.2 147.7h1.6M82.1 160.5h1.6M91.4 130.4h1.6M77.7 192.5h1.6M90.9 191.4h1.6M100.1 149.7h1.6M71.4 185.3h1.6M89.4 176.7h1.6M78.4 197.5h1.6M95.5 200.2h1.6M84.4 190.3h1.6M88.2 154.2h1.6M88.0 138.4h1.6M86.7 178.9h1.6M98.1 151.7h1.6M71.7 158.9h1.6M62.0 160.6h1.6M123.1 178.2h1.6M79.1 160.0h1.6M112.1 149.3h1.6M87.5 173.3h1.6M79.4 159.1h1.6M67.1 156.5h1.6M106.0 206.3h1.6M85.3 190.5h1.6M95.0 177.4h1.6M87.2 201.8h1.6M96.4 170.0h1.6M86.0 195.6h1.6M81.3 159.2h1.6M85.4 164.0h1.6M105.5 182.9h1.6M87.9 163.4h1.6M107.5 184.7h1.6M116.2 195.1h1.6M86.2 162.9h1.6M85.3 179.0h1.6M99.3 185.7h1.6M109.5 141.4h1.6M89.4 143.7h1.6M75.6 161.7h1.6M80.5 153.6h1.6M69.2 200.1h1.6M84.8 196.3h1.6M74.6 123.8h1.6M81.2 194.4h1.6M81.7 183.7h1.6M75.0 205.7h1.6M94.6 198.2h1.6M85.4 203.2h1.6M89.9 164.2h1.6M80.7 176.2h1.6M77.2 148.7h1.6M90.7 190.7h1.6M85.2 193.5h1.6M109.7 147.0h1.6M92.3 153.7h1.6M80.6 178.9h1.6M58.1 188.4h1.6M99.9 187.0h1.6M97.4 215.0h1.6M84.2 199.1h1.6M107.9 185.8h1.6M65.7 171.5h1.6M85.2 139.3h1.6M88.2 191.7h1.6M85.6 171.0h1.6M108.1 161.4h1.6M76.7 175.9h1.6M103.6 188.1h1.6M89.9 164.1h1.6M105.1 194.5h1.6M66.4 182.3h1.6M57.6 208.0h1.6M97.0 161.1h1.6M72.2 168.3h1.6M66.2 187.4h1.6M82.3 136.0h1.6M88.7 201.1h1.6M72.4 167.1h1.6M112.7 179.1h1.6M81.8 179.2h1.6M99.2 152.8h1.6M87.7 139.0h1.6M68.3 141.0h1.6M100.0 181.8h1.6M98.5 201.8h1.6M89.6 180.2h1.6M94.3 185.3h1.6M75.1 168.9h1.6M87.0 175.8h1.6M79.2 172.0h1.6M92.7 179.1h1.6M96.7 193.1h1.6M96.2 196.3h1.6M99.9 205.7h1.6M97.2 161.3h1.6M119.3 199.9h1.6M105.3 191.1h1.6M89.6 149.8h1.6M94.7 167.1h1.6M83.8 127.9h1.6M109.2 149.2h1.6M74.7 185.2h1.6M96.4 157.5h1.6M88.9 180.6h1.6M91.0 186.6h1.6M99.1 166.9h1.6M84.0 153.1h1.6M98.8 187.9h1.6M58.3 203.2h1.6M88.5 181.8h1.6M93.1 169.9h1.6M93.1 146.2h1.6M83.8 215.8h1.6M55.4 202.1h1.6M59.9 156.2h1.6M100.4 166.0h1.6M81.4 141.9h1.6M87.4 171.1h1.6M80.6 140.5h1.6M91.0 184.2h1.6M103.9 186.3h1.6M108.8 201.4h1.6M52.2 211.7h1.6M87.6 151.9h1.6M94.6 196.2h1.6M68.8 147.7h1.6M98.0 162.8h1.6M108.0 179.8h1.6M81.8 145.7h1.6M96.8 137.0h1.6M72.0 146.0h1.6M111.2 212.6h1.6M86.1 166.5h1.6M98.1 202.5h1.6" stroke="#1a1a1a" stroke-width="1.6" opacity="0.36" fill="none"/>
<path d="M164.0 74.8h1.7M170.1 63.7h1.7M133.3 71.7h1.7M165.1 72.7h1.7M162.9 48.4h1.7M198.1 36.6h1.7M166.2 47.1h1.7M181.0 51.3h1.7M164.3 54.5h1.7M159.0 54.5h1.7M151.8 72.8h1.7M179.7 39.7h1.7M153.2 66.0h1.7M204.4 37.4h1.7M164.4 55.7h1.7M173.3 52.1h1.7M189.7 53.4h1.7M183.2 61.0h1.7M164.8 53.2h1.7M210.3 21.2h1.7M138.9 51.3h1.7M172.3 45.6h1.7M180.2 34.0h1.7M166.7 53.5h1.7M156.6 69.9h1.7M165.1 60.7h1.7M162.3 59.8h1.7M163.3 58.7h1.7M166.4 51.4h1.7M176.2 50.7h1.7M151.9 55.3h1.7M180.8 60.3h1.7M148.5 61.8h1.7M180.0 58.4h1.7M177.5 42.3h1.7M173.2 60.5h1.7M173.0 51.8h1.7M152.2 64.6h1.7M169.1 55.7h1.7M196.8 51.7h1.7M158.4 62.2h1.7M165.5 57.9h1.7M198.0 49.0h1.7M168.7 50.5h1.7M168.5 58.5h1.7M165.5 65.6h1.7M166.8 47.3h1.7M193.0 21.8h1.7M165.5 56.2h1.7M188.6 55.0h1.7" stroke="#1a1a1a" stroke-width="1.7" opacity="0.3" fill="none"/>
<path d="M194.3 142.3h1.6M135.5 109.1h1.6M151.0 93.7h1.6M82.9 113.2h1.6M154.5 121.2h1.6M120.1 168.3h1.6M102.9 53.1h1.6M157.4 137.9h1.6M132.6 91.2h1.6M126.6 161.0h1.6M130.7 106.4h1.6M93.8 80.1h1.6M69.1 126.3h1.6M169.2 119.8h1.6M137.8 173.3h1.6M98.8 78.4h1.6M178.3 143.4h1.6M90.3 73.4h1.6M74.5 26.5h1.6M157.0 162.2h1.6M117.4 80.4h1.6M133.6 82.1h1.6M150.8 78.4h1.6M171.1 67.1h1.6M111.1 74.5h1.6M98.5 141.2h1.6M114.6 70.9h1.6M131.3 87.2h1.6M109.1 115.8h1.6M149.8 129.3h1.6M164.9 104.6h1.6M92.3 97.1h1.6M110.6 62.9h1.6M112.8 99.2h1.6M126.0 117.8h1.6" stroke="#1a1a1a" stroke-width="1.6" opacity="0.25" fill="none"/>
</g>
<rect x="0" y="0" width="219.6" height="219.2" fill="none" stroke="#555" stroke-width="2.3"/>
<path d="M120.7 0V219.2M0 88.3H219.6" stroke="#555" stroke-width="2" fill="none"/>
<path d="M-5.5 14.8H0M-5.5 43.8H0M-5.5 78.6H0M-5.5 113.6H0M-5.5 149.4H0M-5.5 184.3H0M-5.5 215H0M-2.5 22H0M-2.5 27H0M-2.5 31H0M-2.5 35H0M-2.5 39H0M-2.5 52H0M-2.5 58H0M-2.5 64H0M-2.5 69H0M-2.5 74H0M-2.5 87H0M-2.5 93H0M-2.5 99H0M-2.5 104H0M-2.5 109H0M-2.5 122H0M-2.5 128H0M-2.5 134H0M-2.5 139H0M-2.5 144H0M-2.5 157H0M-2.5 163H0M-2.5 169H0M-2.5 174H0M-2.5 179H0M-2.5 192H0M-2.5 198H0M-2.5 203H0M-2.5 208H0M-2.5 211H0M10 219.2V224.7M37.5 219.2V224.7M76.7 219.2V224.7M115 219.2V224.7M155 219.2V224.7M192.5 219.2V224.7M18 219.2V221.7M24 219.2V221.7M29 219.2V221.7M33 219.2V221.7M49 219.2V221.7M57 219.2V221.7M63 219.2V221.7M68 219.2V221.7M72 219.2V221.7M88 219.2V221.7M96 219.2V221.7M102 219.2V221.7M107 219.2V221.7M111 219.2V221.7M127 219.2V221.7M135 219.2V221.7M141 219.2V221.7M146 219.2V221.7M150 219.2V221.7M166 219.2V221.7M173 219.2V221.7M179 219.2V221.7M184 219.2V221.7M188 219.2V221.7M200 219.2V221.7M206 219.2V221.7M211 219.2V221.7M215 219.2V221.7" stroke="#444" stroke-width="1.6" fill="none"/>
<path d="M-5.5 219.2H219.6M0 0V224.7" stroke="#555" stroke-width="1.8" fill="none"/>
<g font-size="10" font-weight="normal" fill="#222" stroke="#222" stroke-width="0.55"><text x="-27.5" y="19.3">10<tspan dy="-4.5" font-size="7.5">7</tspan></text><text x="-27.5" y="48.3">10<tspan dy="-4.5" font-size="7.5">6</tspan></text><text x="-27.5" y="83.1">10<tspan dy="-4.5" font-size="7.5">5</tspan></text><text x="-27.5" y="118.1">10<tspan dy="-4.5" font-size="7.5">4</tspan></text><text x="-27.5" y="153.9">10<tspan dy="-4.5" font-size="7.5">3</tspan></text><text x="-27.5" y="188.8">10<tspan dy="-4.5" font-size="7.5">2</tspan></text><text x="-27.5" y="219.5">10<tspan dy="-4.5" font-size="7.5">1</tspan></text><text x="3" y="240.2">10<tspan dy="-4.5" font-size="7.5">2</tspan></text><text x="30.5" y="240.2">10<tspan dy="-4.5" font-size="7.5">3</tspan></text><text x="69.7" y="240.2">10<tspan dy="-4.5" font-size="7.5">4</tspan></text><text x="108" y="240.2">10<tspan dy="-4.5" font-size="7.5">5</tspan></text><text x="148" y="240.2">10<tspan dy="-4.5" font-size="7.5">6</tspan></text><text x="185.5" y="240.2">10<tspan dy="-4.5" font-size="7.5">7</tspan></text><text x="3.8" y="12.3">Q1</text><text x="3.8" y="28">0.130%</text><text x="184.6" y="12.3">Q2</text><text x="184.6" y="28">0.541%</text><text x="4" y="201.6">Q4</text><text x="4" y="214.6">97.4%</text><text x="184.6" y="201.6">Q3</text><text x="184.6" y="214.6">1.96%</text></g>
</g>
<text x="1753.0" y="327.0" font-size="27" text-anchor="middle" textLength="40.0" lengthAdjust="spacingAndGlyphs">NC</text>
<g transform="translate(1916.0 48.5)" filter="url(#bq)">
<rect x="2" y="2" width="50" height="32" fill="#fbfbfb"/>
<rect x="167.6" y="2" width="50" height="32" fill="#fbfbfb"/>
<rect x="2" y="185.2" width="50" height="32" fill="#fbfbfb"/>
<rect x="167.6" y="185.2" width="50" height="32" fill="#fbfbfb"/>
<ellipse cx="107" cy="138" rx="22" ry="11" transform="rotate(-40 107 138)" fill="#111" opacity="0.72" filter="url(#b2)"/>
<g filter="url(#bp)">
<path d="M132.0 138.5h1.7M125.7 135.5h1.7M98.9 158.4h1.7M116.2 112.5h1.7M138.3 104.3h1.7M85.4 179.2h1.7M102.7 131.1h1.7M106.0 152.9h1.7M108.1 132.1h1.7M116.9 117.4h1.7M91.6 143.5h1.7M101.1 152.0h1.7M97.0 132.6h1.7M87.8 128.1h1.7M109.9 136.8h1.7M113.9 129.1h1.7M106.5 126.2h1.7M108.3 138.9h1.7M94.0 156.6h1.7M109.3 136.7h1.7M113.3 158.9h1.7M102.1 132.1h1.7M99.0 152.4h1.7M99.0 134.4h1.7M103.0 153.6h1.7M115.0 145.1h1.7M99.2 129.1h1.7M121.0 130.4h1.7M96.0 143.2h1.7M98.9 155.6h1.7M104.3 146.5h1.7M108.9 133.0h1.7M110.5 131.8h1.7M88.0 148.5h1.7M95.6 157.5h1.7M112.2 126.0h1.7M117.1 132.7h1.7M114.4 119.5h1.7M101.0 130.1h1.7M106.4 156.4h1.7M73.4 154.3h1.7M118.7 138.3h1.7M83.1 131.5h1.7M85.6 160.7h1.7M128.0 132.2h1.7M105.6 156.8h1.7M108.4 144.9h1.7M114.6 152.4h1.7M86.1 127.5h1.7M103.9 143.1h1.7M106.2 129.3h1.7M96.5 132.0h1.7M104.3 141.4h1.7M120.9 147.8h1.7M82.7 165.1h1.7M105.5 124.1h1.7M107.9 137.1h1.7M97.8 155.1h1.7M137.6 121.1h1.7M124.5 137.2h1.7M111.5 146.9h1.7M97.0 148.7h1.7M125.1 139.9h1.7M101.2 139.1h1.7M112.9 132.0h1.7M114.0 142.6h1.7M102.1 153.5h1.7M110.5 131.6h1.7M85.7 147.6h1.7M112.4 145.7h1.7M84.5 166.2h1.7M102.4 127.1h1.7M121.3 131.1h1.7M106.7 125.5h1.7M97.6 157.7h1.7M128.6 124.6h1.7M101.5 136.8h1.7M89.7 165.3h1.7M113.6 148.5h1.7M103.8 154.3h1.7M100.9 150.7h1.7M121.4 116.8h1.7M119.4 127.5h1.7M95.4 150.3h1.7M111.3 125.1h1.7M99.7 136.7h1.7M95.1 145.3h1.7M115.1 124.8h1.7M121.6 120.8h1.7M104.4 154.1h1.7M122.1 116.9h1.7M107.6 122.4h1.7M99.0 139.8h1.7M108.7 120.3h1.7M95.6 138.6h1.7M100.5 127.5h1.7M106.7 174.8h1.7M100.3 124.1h1.7M110.0 118.5h1.7M91.9 172.3h1.7M118.7 117.3h1.7M95.1 154.1h1.7M138.6 119.3h1.7M108.5 121.4h1.7M85.1 161.3h1.7M121.7 127.4h1.7M115.7 148.5h1.7M102.5 155.9h1.7M114.4 123.8h1.7M109.4 137.4h1.7M108.7 123.9h1.7M104.4 141.3h1.7M107.5 137.8h1.7M109.2 133.7h1.7M106.7 151.5h1.7M96.2 142.9h1.7M87.7 139.4h1.7M112.8 132.6h1.7M108.0 143.0h1.7M109.0 145.1h1.7M133.8 120.0h1.7M113.9 153.5h1.7M106.0 117.4h1.7M126.4 124.4h1.7M111.3 119.6h1.7M91.4 142.8h1.7M107.4 123.2h1.7M103.4 153.3h1.7M99.0 146.2h1.7M84.0 135.4h1.7M105.1 138.0h1.7M93.7 161.7h1.7M123.7 135.3h1.7M92.8 135.2h1.7M106.8 140.3h1.7M100.9 135.6h1.7M88.8 143.8h1.7M102.8 135.3h1.7M127.8 117.0h1.7M110.2 129.3h1.7M98.3 132.8h1.7M91.0 132.2h1.7M87.3 171.7h1.7M95.4 153.3h1.7M101.7 135.2h1.7M113.3 125.6h1.7M110.5 130.3h1.7M126.2 134.2h1.7M114.8 145.5h1.7M123.6 144.0h1.7M95.6 127.8h1.7M111.3 137.4h1.7M100.8 140.6h1.7M95.4 131.7h1.7M125.3 112.7h1.7M82.5 138.3h1.7M95.3 147.3h1.7M130.7 125.8h1.7M89.3 136.9h1.7M91.3 150.1h1.7M115.7 124.6h1.7M140.8 134.4h1.7M95.5 120.0h1.7M121.1 124.9h1.7M122.2 137.8h1.7M93.8 149.9h1.7M104.6 130.4h1.7M115.5 129.2h1.7M113.3 156.7h1.7M119.5 148.4h1.7M111.4 147.5h1.7M97.7 147.6h1.7M107.9 109.5h1.7M112.5 129.9h1.7M122.8 127.0h1.7M97.9 129.3h1.7M142.0 99.2h1.7M98.0 136.3h1.7M104.2 143.1h1.7M95.6 161.1h1.7M107.2 145.5h1.7M75.2 158.0h1.7M100.5 138.5h1.7M99.9 147.9h1.7M106.3 126.1h1.7M85.1 165.7h1.7M109.3 149.7h1.7M118.0 127.4h1.7M85.4 151.5h1.7M104.9 155.6h1.7M89.8 164.1h1.7M82.6 151.2h1.7M83.5 148.8h1.7M103.3 145.8h1.7M103.3 149.9h1.7M131.5 119.5h1.7M90.3 149.7h1.7M103.3 136.5h1.7M129.7 133.7h1.7M137.2 119.3h1.7M70.2 167.2h1.7M110.8 124.4h1.7M104.5 151.7h1.7M101.8 128.0h1.7M79.7 121.5h1.7M99.2 128.9h1.7M98.7 129.7h1.7M91.2 144.7h1.7M136.9 97.7h1.7M87.5 147.4h1.7M126.2 132.1h1.7M114.2 127.8h1.7M103.8 130.8h1.7M99.4 134.1h1.7M81.1 147.0h1.7M135.3 119.3h1.7M96.1 145.7h1.7M108.5 152.3h1.7M102.5 133.6h1.7M118.0 132.8h1.7M92.8 140.0h1.7M98.5 124.2h1.7M100.9 156.0h1.7M125.5 136.7h1.7M97.1 138.6h1.7M100.2 137.5h1.7M122.7 122.0h1.7M120.6 117.5h1.7M122.1 146.0h1.7M92.8 141.6h1.7M88.6 132.7h1.7M98.8 136.6h1.7M133.5 109.6h1.7M84.1 169.3h1.7M119.4 127.1h1.7M115.2 140.2h1.7M99.5 144.7h1.7M119.2 148.9h1.7M126.9 123.4h1.7M94.4 159.8h1.7M113.5 147.5h1.7M108.7 138.9h1.7M111.0 125.2h1.7M112.4 162.7h1.7M101.1 154.9h1.7M121.1 136.5h1.7M116.8 112.6h1.7M106.7 111.9h1.7M109.6 140.0h1.7M127.5 134.6h1.7M92.6 146.6h1.7M100.3 134.7h1.7M91.7 142.4h1.7M130.8 135.4h1.7M127.5 142.3h1.7M101.2 128.9h1.7M99.3 147.0h1.7M128.3 135.6h1.7M100.8 155.4h1.7M103.4 148.6h1.7M128.5 138.9h1.7M101.3 145.9h1.7M109.9 130.2h1.7M111.8 141.6h1.7M80.7 151.8h1.7M140.6 115.5h1.7M87.8 130.6h1.7M97.2 152.8h1.7M118.7 133.8h1.7M111.0 126.9h1.7M121.1 111.7h1.7M112.0 130.4h1.7M89.6 164.1h1.7M107.6 146.6h1.7M124.9 125.0h1.7M96.6 144.0h1.7M115.0 149.8h1.7M128.3 140.4h1.7M112.2 123.9h1.7M125.4 135.0h1.7M108.1 143.0h1.7M94.6 132.3h1.7M110.4 144.9h1.7M87.8 125.4h1.7M102.9 155.3h1.7M116.9 144.1h1.7M94.0 143.5h1.7M88.5 143.6h1.7M114.5 133.4h1.7M102.2 145.8h1.7M86.8 149.9h1.7M77.3 143.7h1.7M81.6 145.2h1.7M136.6 130.7h1.7M120.0 119.6h1.7M108.0 122.6h1.7M101.0 146.1h1.7M86.6 157.6h1.7M101.9 115.7h1.7M72.2 163.6h1.7M106.0 140.6h1.7M95.2 155.2h1.7M103.8 131.3h1.7M130.4 121.6h1.7M128.4 143.8h1.7M98.8 142.1h1.7M82.0 156.0h1.7M128.5 152.1h1.7M115.6 133.4h1.7M84.4 146.0h1.7M73.2 148.6h1.7M110.2 139.2h1.7M93.1 146.8h1.7M99.9 151.9h1.7M111.8 126.8h1.7M92.9 134.1h1.7M114.4 159.9h1.7M112.0 144.8h1.7M123.9 142.8h1.7M96.7 135.0h1.7M126.5 133.4h1.7M104.8 153.9h1.7M106.3 138.0h1.7M134.8 121.5h1.7M109.0 132.2h1.7M116.1 143.9h1.7M108.1 127.3h1.7M112.0 132.2h1.7M109.7 133.2h1.7M67.2 150.6h1.7M87.6 125.8h1.7M99.4 170.5h1.7M113.2 126.9h1.7M96.9 117.5h1.7M116.3 142.8h1.7M101.0 126.1h1.7M116.4 123.2h1.7M100.3 146.1h1.7M115.7 157.0h1.7M118.6 156.0h1.7M105.0 123.7h1.7M107.1 138.6h1.7M134.2 131.7h1.7M136.9 104.3h1.7M115.7 160.8h1.7M97.0 151.0h1.7M122.0 112.3h1.7M97.3 136.5h1.7M116.4 135.3h1.7M110.4 143.6h1.7M93.8 144.2h1.7M125.9 148.2h1.7M106.6 139.1h1.7M124.9 123.9h1.7M125.8 125.3h1.7M123.5 126.5h1.7M88.9 142.1h1.7M124.6 147.6h1.7M129.9 114.7h1.7M133.4 101.4h1.7M101.3 154.9h1.7M92.1 162.4h1.7M115.9 138.7h1.7M93.0 154.7h1.7M119.1 127.2h1.7M120.8 126.7h1.7M109.4 131.9h1.7M87.5 152.3h1.7M108.7 126.8h1.7M70.5 148.5h1.7M123.1 121.6h1.7M104.4 156.3h1.7M94.8 128.7h1.7M95.2 136.4h1.7M98.4 133.3h1.7M110.6 140.9h1.7M97.8 143.1h1.7M110.0 146.3h1.7M101.9 152.1h1.7M122.4 122.6h1.7M91.7 146.8h1.7M79.4 154.1h1.7M89.5 150.4h1.7M105.1 146.3h1.7M111.1 140.1h1.7M108.0 140.9h1.7M95.7 156.1h1.7M131.5 131.9h1.7M91.3 156.6h1.7M89.6 162.4h1.7M101.1 137.0h1.7M95.2 144.8h1.7M100.5 130.9h1.7M109.2 139.5h1.7M113.6 131.9h1.7M121.6 155.9h1.7M122.5 129.2h1.7M92.0 158.7h1.7M97.5 111.3h1.7M107.0 143.0h1.7M107.9 138.5h1.7M113.6 150.5h1.7M110.2 131.7h1.7M117.1 156.7h1.7M91.7 144.0h1.7M112.2 135.6h1.7M119.6 145.1h1.7M124.9 128.4h1.7M107.0 137.2h1.7M110.1 148.5h1.7M83.0 144.6h1.7M94.4 136.0h1.7M104.5 155.7h1.7M80.0 168.2h1.7M87.5 151.2h1.7M92.7 137.1h1.7M87.1 155.6h1.7M53.0 155.7h1.7M108.6 151.0h1.7M130.1 114.8h1.7M94.1 145.1h1.7M119.2 140.0h1.7M96.9 152.7h1.7M113.8 147.3h1.7M99.9 141.2h1.7M86.7 137.7h1.7M115.1 140.5h1.7M123.9 127.4h1.7M94.7 136.4h1.7M86.4 145.8h1.7M112.0 135.0h1.7M75.0 163.5h1.7M96.2 133.4h1.7M110.0 142.4h1.7M84.1 139.6h1.7M104.1 143.8h1.7M113.3 152.9h1.7M102.4 128.8h1.7M113.2 124.3h1.7M116.9 131.0h1.7M117.2 116.4h1.7M119.4 133.1h1.7M99.1 153.9h1.7M140.0 114.9h1.7M95.4 145.7h1.7M126.2 125.2h1.7M122.8 116.2h1.7M114.6 111.1h1.7M102.7 137.8h1.7M108.1 153.1h1.7M100.9 147.7h1.7M137.5 123.2h1.7M96.5 137.3h1.7M81.9 164.0h1.7M126.1 136.4h1.7M124.0 151.9h1.7M102.6 111.5h1.7M100.0 154.3h1.7M106.8 149.1h1.7M137.0 102.9h1.7M136.6 112.1h1.7M87.4 155.7h1.7M115.5 123.3h1.7M122.9 113.3h1.7M110.2 147.4h1.7M100.4 136.3h1.7M110.9 143.3h1.7M139.3 128.6h1.7M132.4 116.3h1.7M83.9 156.8h1.7M94.9 135.2h1.7M99.4 143.5h1.7M113.5 144.5h1.7M101.8 157.4h1.7M112.3 143.2h1.7M116.0 114.3h1.7M124.2 114.2h1.7M119.4 141.8h1.7M109.5 115.5h1.7M116.5 144.9h1.7M104.7 138.9h1.7M118.5 149.8h1.7M93.4 137.1h1.7M88.4 146.7h1.7M105.9 143.4h1.7M94.8 125.8h1.7M89.7 161.4h1.7M108.2 119.3h1.7M104.2 108.6h1.7M142.7 115.8h1.7M87.4 161.1h1.7M103.6 135.0h1.7M100.5 140.6h1.7M99.8 132.3h1.7M102.7 148.9h1.7M105.7 121.7h1.7M110.3 155.7h1.7M127.4 142.4h1.7M81.7 145.7h1.7M64.6 148.2h1.7M95.0 134.3h1.7M87.5 145.3h1.7M109.8 146.6h1.7M103.4 118.1h1.7M125.4 118.3h1.7M93.0 149.4h1.7M92.5 132.0h1.7M124.7 115.6h1.7M102.2 149.1h1.7M133.2 122.4h1.7M97.4 151.8h1.7M124.7 128.1h1.7M112.8 126.8h1.7M95.2 125.9h1.7M89.8 137.6h1.7M116.7 149.4h1.7M67.5 153.9h1.7M93.6 148.1h1.7M118.0 118.6h1.7M104.0 156.4h1.7M115.5 137.8h1.7M113.7 122.7h1.7M105.8 130.4h1.7M97.9 147.4h1.7M104.8 123.2h1.7M100.3 151.6h1.7M113.6 141.2h1.7M97.5 135.5h1.7M121.7 133.6h1.7M73.3 177.6h1.7M100.8 152.0h1.7M126.9 117.7h1.7M95.2 151.2h1.7M111.9 141.3h1.7M89.2 156.2h1.7M123.9 133.0h1.7M123.4 139.9h1.7M103.5 157.0h1.7M103.5 128.0h1.7M104.6 143.6h1.7M120.3 144.5h1.7M106.3 131.9h1.7M135.1 110.1h1.7M101.6 154.7h1.7M96.2 136.8h1.7M99.9 159.5h1.7M93.0 151.1h1.7M99.4 141.8h1.7M96.7 148.7h1.7M122.2 139.1h1.7M94.5 133.2h1.7M86.5 155.3h1.7M81.2 177.1h1.7M108.2 138.6h1.7M83.5 149.3h1.7M101.1 151.8h1.7M105.3 147.5h1.7M101.7 117.3h1.7M111.9 150.4h1.7M100.8 145.0h1.7M97.4 130.1h1.7M136.4 111.7h1.7M113.0 127.2h1.7M133.8 130.6h1.7M129.5 131.6h1.7M125.7 140.5h1.7M113.5 134.4h1.7M112.5 121.8h1.7M77.1 173.7h1.7M104.6 130.9h1.7M97.2 133.8h1.7M96.6 149.3h1.7M114.1 143.0h1.7M109.8 144.0h1.7M112.0 124.7h1.7M79.3 152.4h1.7M100.1 136.9h1.7M133.2 107.2h1.7M108.7 126.7h1.7M108.5 120.4h1.7M121.4 128.4h1.7M93.8 133.6h1.7M126.4 114.3h1.7M111.5 102.9h1.7M102.1 165.9h1.7M131.9 117.5h1.7M124.8 131.1h1.7M102.9 143.2h1.7M82.6 141.1h1.7M113.5 142.2h1.7M101.4 126.8h1.7M119.4 128.9h1.7M115.6 127.1h1.7M110.1 149.2h1.7M118.3 112.9h1.7M98.0 158.4h1.7M112.4 134.3h1.7M100.0 157.2h1.7M111.1 137.6h1.7M109.1 129.6h1.7M113.4 134.5h1.7M119.5 132.6h1.7M84.8 147.6h1.7M110.8 150.1h1.7M105.4 154.3h1.7M127.6 132.3h1.7M138.2 111.8h1.7M119.3 143.7h1.7M119.1 141.0h1.7M114.4 150.4h1.7M99.7 119.4h1.7M120.9 124.0h1.7M93.0 146.1h1.7M110.5 150.1h1.7M111.2 133.7h1.7M101.1 131.4h1.7M95.2 142.0h1.7M96.5 131.8h1.7M108.0 150.4h1.7M113.3 132.8h1.7M110.3 132.2h1.7M96.3 158.6h1.7M141.4 115.9h1.7M132.4 148.9h1.7M93.7 156.2h1.7M100.6 140.0h1.7M83.7 156.7h1.7M102.4 121.3h1.7M100.9 136.9h1.7M97.3 154.6h1.7M132.5 122.2h1.7M126.2 132.0h1.7M109.9 143.3h1.7M122.7 119.5h1.7M96.2 129.3h1.7M76.1 153.5h1.7M121.8 130.5h1.7M119.1 145.1h1.7M91.5 169.1h1.7M113.2 143.1h1.7M121.0 115.9h1.7M97.6 151.3h1.7M102.6 134.3h1.7M100.7 134.1h1.7M106.5 133.6h1.7M124.0 110.4h1.7M115.6 131.9h1.7M122.8 112.4h1.7M111.7 156.7h1.7M95.6 142.9h1.7M95.4 135.2h1.7M133.7 135.5h1.7M100.2 134.1h1.7M92.6 158.9h1.7M103.2 148.4h1.7M71.0 162.9h1.7M118.4 134.0h1.7M69.3 173.6h1.7M108.7 136.5h1.7M99.5 138.7h1.7M112.3 140.3h1.7M63.2 174.8h1.7M118.6 125.6h1.7M118.1 116.8h1.7M139.7 123.2h1.7M119.0 163.7h1.7M137.1 133.4h1.7M89.8 151.1h1.7M120.3 140.6h1.7M99.9 127.4h1.7M122.9 122.6h1.7M111.1 130.6h1.7M96.8 129.0h1.7M112.3 125.6h1.7M85.1 161.8h1.7M112.7 145.8h1.7M110.7 119.4h1.7M104.6 140.1h1.7M101.6 129.1h1.7M114.4 144.7h1.7M133.5 134.7h1.7M101.5 110.2h1.7M99.9 137.1h1.7M76.7 183.5h1.7M119.7 127.5h1.7M115.2 137.6h1.7M112.8 151.0h1.7M137.6 123.1h1.7M101.0 146.5h1.7M125.2 132.2h1.7M103.7 153.3h1.7M120.8 134.1h1.7M101.1 142.7h1.7M80.5 160.0h1.7M99.1 141.0h1.7M101.1 138.9h1.7M108.9 137.8h1.7M97.8 144.2h1.7M109.0 142.9h1.7M110.9 130.2h1.7M85.2 135.2h1.7M92.3 155.7h1.7M104.6 160.9h1.7M102.4 137.0h1.7M101.4 135.8h1.7M98.8 145.9h1.7M87.9 155.9h1.7M100.1 132.3h1.7M123.6 128.9h1.7M117.8 120.4h1.7M82.4 143.5h1.7M73.3 142.0h1.7M125.7 116.3h1.7M106.4 131.8h1.7M115.1 151.7h1.7M76.8 150.8h1.7M103.2 129.6h1.7M124.9 139.8h1.7M124.2 133.4h1.7M111.2 147.5h1.7M88.4 138.4h1.7M101.9 139.2h1.7M117.7 116.4h1.7M118.0 118.9h1.7M78.8 139.9h1.7M97.4 127.5h1.7M110.3 135.9h1.7M89.3 128.1h1.7M102.7 147.5h1.7M86.8 164.0h1.7M103.9 133.7h1.7M114.0 140.6h1.7M101.8 132.4h1.7M113.6 123.8h1.7M118.2 141.2h1.7M135.3 134.9h1.7M122.1 127.3h1.7M105.5 141.8h1.7M133.3 154.6h1.7M110.9 124.2h1.7M118.0 108.4h1.7M112.8 116.7h1.7M88.8 146.9h1.7M94.5 131.1h1.7M114.9 130.0h1.7M119.2 114.8h1.7M86.4 164.3h1.7M110.1 148.0h1.7M66.8 155.7h1.7M120.7 151.8h1.7M77.9 137.9h1.7M109.7 154.0h1.7M120.3 109.4h1.7M86.9 131.2h1.7M89.3 140.5h1.7M120.2 141.7h1.7M137.7 107.7h1.7M119.8 130.2h1.7M121.1 151.2h1.7M126.7 141.7h1.7M116.7 141.1h1.7M113.5 131.4h1.7M94.8 143.1h1.7M104.8 135.0h1.7M97.8 136.6h1.7M117.4 126.2h1.7M104.0 137.7h1.7M121.8 118.7h1.7M121.1 115.1h1.7M132.1 124.9h1.7M103.2 147.2h1.7M116.7 117.6h1.7M105.9 143.0h1.7M102.3 138.2h1.7M109.3 140.2h1.7M127.2 140.2h1.7M121.3 164.0h1.7M113.8 155.3h1.7M96.1 128.5h1.7M98.9 140.4h1.7M109.0 110.3h1.7M97.5 144.4h1.7M118.6 133.4h1.7M117.9 126.9h1.7M111.5 149.9h1.7M133.2 121.0h1.7M103.8 129.7h1.7M138.6 116.7h1.7M105.4 118.7h1.7M130.9 149.4h1.7M103.5 138.4h1.7M127.0 118.8h1.7M131.0 143.0h1.7M85.7 145.2h1.7M117.2 131.0h1.7M106.6 136.3h1.7M111.1 139.2h1.7M98.7 141.4h1.7M103.4 127.1h1.7M99.2 116.2h1.7M115.1 129.7h1.7M99.5 161.8h1.7M104.1 167.2h1.7M104.8 155.6h1.7M116.5 151.0h1.7M110.6 148.4h1.7M90.7 127.5h1.7M115.5 137.1h1.7M123.2 146.0h1.7M87.9 135.6h1.7M106.2 129.8h1.7M105.6 139.2h1.7M102.8 155.7h1.7M116.8 152.9h1.7M117.2 143.1h1.7M98.9 136.3h1.7M94.2 137.4h1.7M114.1 133.9h1.7M82.5 138.8h1.7M83.7 134.0h1.7M85.3 136.7h1.7M109.4 121.1h1.7M98.2 143.8h1.7M110.2 140.8h1.7M121.7 134.1h1.7M110.3 151.4h1.7M107.7 128.3h1.7M120.1 111.8h1.7M121.6 142.1h1.7M110.9 139.3h1.7M113.0 141.6h1.7M110.2 135.5h1.7M104.7 115.5h1.7M108.6 132.8h1.7M135.8 117.6h1.7M102.2 150.5h1.7M94.3 133.4h1.7M106.5 145.0h1.7M130.0 132.3h1.7M109.2 134.1h1.7M117.5 144.9h1.7M112.8 148.2h1.7M96.2 147.0h1.7M122.1 134.4h1.7M106.6 131.8h1.7M79.8 155.2h1.7M93.0 144.6h1.7M123.8 114.0h1.7M118.5 128.1h1.7M92.7 151.4h1.7M109.8 120.4h1.7M88.8 148.4h1.7M113.2 125.1h1.7M115.8 136.6h1.7M110.1 141.2h1.7M123.2 122.0h1.7M104.7 126.2h1.7M96.6 145.5h1.7M113.9 123.6h1.7M94.1 160.9h1.7M123.0 91.4h1.7M93.4 151.0h1.7M107.7 125.2h1.7M118.6 142.5h1.7M108.0 146.6h1.7M102.9 129.5h1.7M94.9 140.3h1.7M132.5 131.6h1.7M100.4 123.4h1.7M97.9 140.5h1.7M80.8 159.8h1.7M102.5 124.7h1.7M98.4 139.4h1.7M136.3 122.0h1.7M118.0 129.9h1.7M95.6 159.5h1.7M85.7 131.1h1.7M114.7 127.1h1.7M110.3 141.9h1.7M106.5 143.7h1.7M122.5 120.9h1.7M102.4 142.1h1.7M113.3 127.6h1.7M103.8 131.9h1.7M109.5 142.9h1.7M94.8 145.9h1.7M82.9 149.2h1.7M111.5 141.1h1.7M92.5 148.9h1.7M96.5 150.9h1.7M113.4 138.4h1.7M95.2 129.6h1.7M91.0 134.2h1.7M97.6 145.2h1.7M117.5 120.9h1.7M97.9 148.2h1.7M91.9 176.4h1.7M92.8 163.1h1.7M126.4 134.2h1.7M110.3 144.7h1.7M108.5 149.1h1.7M93.1 139.2h1.7M109.3 130.3h1.7M110.6 123.9h1.7M104.4 127.5h1.7M119.3 155.3h1.7M84.8 140.8h1.7M84.1 154.3h1.7M126.0 116.3h1.7M118.4 126.1h1.7M111.3 160.3h1.7M109.9 111.9h1.7M96.5 152.1h1.7M114.4 129.0h1.7M114.7 138.5h1.7M108.7 149.4h1.7M100.4 153.2h1.7M120.6 129.2h1.7M102.3 141.7h1.7M78.9 164.9h1.7M75.2 138.8h1.7M111.5 122.5h1.7M112.1 134.3h1.7M77.8 151.0h1.7M106.4 144.6h1.7M100.0 127.7h1.7M100.6 144.7h1.7M87.2 148.9h1.7M86.3 128.1h1.7M135.7 125.2h1.7M106.8 150.4h1.7M102.8 161.2h1.7M102.9 143.2h1.7M99.9 145.2h1.7M111.6 134.5h1.7M100.8 153.0h1.7M114.5 131.7h1.7M116.4 120.6h1.7M123.1 122.5h1.7M124.5 117.7h1.7M105.0 142.4h1.7M130.8 136.6h1.7M96.3 137.6h1.7M125.1 138.8h1.7M114.3 127.6h1.7M123.9 123.5h1.7M113.2 140.8h1.7M85.1 127.3h1.7M114.5 140.9h1.7M116.3 137.2h1.7M115.8 144.0h1.7M118.0 148.0h1.7M112.7 143.4h1.7M101.6 146.4h1.7M113.6 134.3h1.7M127.9 121.0h1.7M124.2 128.1h1.7M115.9 119.0h1.7M108.3 149.3h1.7M98.6 150.1h1.7M115.8 133.1h1.7M116.3 137.2h1.7M106.5 143.7h1.7M97.3 140.4h1.7M85.2 155.0h1.7M84.5 157.2h1.7M102.9 127.4h1.7M109.8 139.4h1.7M96.6 135.0h1.7M108.1 142.3h1.7M131.6 142.2h1.7M82.9 162.7h1.7M108.8 128.3h1.7M124.6 150.2h1.7M117.2 147.0h1.7M118.4 122.7h1.7M83.5 172.7h1.7M116.4 107.5h1.7M100.0 134.9h1.7M110.2 136.2h1.7M118.5 120.7h1.7M121.9 103.5h1.7M126.9 155.8h1.7M109.7 143.8h1.7M121.7 168.2h1.7M116.7 125.3h1.7M82.8 161.0h1.7M103.9 114.4h1.7M104.1 147.7h1.7M73.7 163.5h1.7M77.3 145.6h1.7M119.7 142.0h1.7M118.4 120.0h1.7M102.6 118.9h1.7M90.7 158.7h1.7M95.2 134.7h1.7M80.6 157.2h1.7M124.0 97.7h1.7M100.2 158.2h1.7M77.5 154.8h1.7M115.1 145.8h1.7M117.6 152.6h1.7M105.9 137.5h1.7M115.2 135.7h1.7M81.0 147.6h1.7M106.1 143.2h1.7M86.1 146.3h1.7M99.2 148.9h1.7M105.1 147.4h1.7M106.4 126.7h1.7M95.1 131.9h1.7M113.6 142.9h1.7M82.6 135.7h1.7M112.1 130.0h1.7M109.6 141.8h1.7M118.0 140.8h1.7M86.9 126.4h1.7M98.5 141.1h1.7M104.0 145.6h1.7M111.9 150.6h1.7M98.5 145.1h1.7M115.7 158.1h1.7M87.9 141.1h1.7M106.8 148.1h1.7M106.1 136.5h1.7M74.2 138.7h1.7M102.6 138.6h1.7M133.0 121.0h1.7M118.9 140.6h1.7M87.2 138.7h1.7M111.5 153.4h1.7M116.5 122.4h1.7M96.3 159.1h1.7M114.7 117.3h1.7M123.6 114.0h1.7M115.8 128.0h1.7M98.7 137.0h1.7M120.3 134.9h1.7M116.1 126.8h1.7M109.3 163.9h1.7M128.8 117.2h1.7M101.1 162.3h1.7M109.2 136.9h1.7M120.7 131.0h1.7M121.2 151.9h1.7M85.7 164.2h1.7M94.2 149.7h1.7M106.4 141.9h1.7M78.9 170.6h1.7M135.8 108.5h1.7M123.2 132.6h1.7M107.8 130.8h1.7M117.3 132.9h1.7M131.9 127.9h1.7M78.7 123.8h1.7M130.5 124.6h1.7M105.5 131.4h1.7M149.4 119.8h1.7M106.0 134.1h1.7M123.5 141.8h1.7M120.1 139.3h1.7M112.8 137.7h1.7M90.6 153.3h1.7M107.2 136.9h1.7M105.7 143.1h1.7M97.9 143.1h1.7M104.1 170.5h1.7M87.2 139.0h1.7M97.1 140.9h1.7M76.8 131.6h1.7M135.8 127.1h1.7M105.4 146.6h1.7M81.5 138.3h1.7M115.2 138.6h1.7M97.6 145.8h1.7M64.3 172.1h1.7M122.5 127.2h1.7M113.2 140.3h1.7M70.3 152.0h1.7M91.2 154.4h1.7M86.4 130.8h1.7M117.9 126.4h1.7M133.4 141.9h1.7M76.3 147.2h1.7M130.7 136.4h1.7M114.7 136.2h1.7M120.7 135.1h1.7M94.4 158.3h1.7M117.9 123.6h1.7M91.4 144.8h1.7M102.4 148.8h1.7M117.8 129.3h1.7M91.5 128.0h1.7M94.8 135.3h1.7M101.6 147.0h1.7M131.7 162.9h1.7M91.6 144.0h1.7M89.7 149.2h1.7M109.5 148.9h1.7M86.1 167.4h1.7M112.5 126.6h1.7M98.9 147.4h1.7M113.1 130.8h1.7M105.0 139.9h1.7M93.9 152.5h1.7M115.2 131.8h1.7M91.4 151.1h1.7M107.5 141.7h1.7M106.6 149.1h1.7M127.1 131.8h1.7M118.0 144.6h1.7M105.4 137.2h1.7M87.5 154.6h1.7M117.5 116.8h1.7M109.6 119.4h1.7M122.7 148.4h1.7M100.2 128.7h1.7M110.0 133.6h1.7M114.5 125.0h1.7M80.2 154.3h1.7M121.6 139.0h1.7M110.9 135.1h1.7M115.1 128.7h1.7M102.2 145.0h1.7M118.8 121.7h1.7M109.7 127.5h1.7M98.0 147.8h1.7M83.3 146.9h1.7M86.8 147.2h1.7M109.2 166.1h1.7M115.7 131.6h1.7M73.6 135.5h1.7M109.0 128.3h1.7M118.8 123.1h1.7M85.0 148.3h1.7M77.1 145.0h1.7M113.3 125.9h1.7M112.8 126.0h1.7M100.3 136.6h1.7M95.3 139.4h1.7M127.1 120.5h1.7M90.9 173.2h1.7M131.2 132.1h1.7M104.5 138.1h1.7M101.2 144.5h1.7M113.3 132.7h1.7M89.6 140.3h1.7M140.3 131.6h1.7M85.9 147.6h1.7M110.0 143.0h1.7M106.8 141.2h1.7M119.0 142.5h1.7M95.9 161.3h1.7M116.3 137.1h1.7M84.8 153.8h1.7M107.3 145.9h1.7M120.6 135.4h1.7M97.0 162.4h1.7M113.6 144.3h1.7M102.3 133.0h1.7M147.0 112.9h1.7M114.5 125.9h1.7M110.8 149.0h1.7M123.9 146.0h1.7M116.6 116.3h1.7M93.0 164.5h1.7M113.5 129.3h1.7M99.4 137.4h1.7M130.5 116.3h1.7M93.6 160.8h1.7M107.9 141.8h1.7M101.3 142.3h1.7M84.4 163.8h1.7M95.1 143.2h1.7M119.1 144.0h1.7M76.4 162.0h1.7M120.7 139.4h1.7M96.3 151.1h1.7M118.1 140.5h1.7M97.1 144.0h1.7M106.9 152.5h1.7M119.0 122.4h1.7M106.3 141.4h1.7M93.8 147.8h1.7M123.5 134.0h1.7M93.5 141.3h1.7M96.1 128.7h1.7M111.8 135.5h1.7M87.0 151.9h1.7M96.1 143.9h1.7M103.2 158.4h1.7M98.3 155.0h1.7M118.6 146.5h1.7M106.0 138.9h1.7M96.1 123.6h1.7M138.6 109.0h1.7M95.5 133.6h1.7M114.9 151.7h1.7M99.1 150.2h1.7M126.8 133.3h1.7M90.5 130.1h1.7M115.9 137.7h1.7M99.7 138.9h1.7M121.2 106.5h1.7M96.0 139.8h1.7M81.1 151.2h1.7M103.5 156.6h1.7M74.4 148.4h1.7M100.9 123.9h1.7M75.4 156.9h1.7M84.2 145.1h1.7M107.4 143.4h1.7M96.2 143.7h1.7M115.7 128.9h1.7M113.3 125.5h1.7M121.4 141.9h1.7M106.1 176.1h1.7M100.3 139.6h1.7M107.4 143.5h1.7M90.4 152.5h1.7M107.5 155.4h1.7M87.0 163.0h1.7M97.9 136.5h1.7M107.2 135.0h1.7M108.8 139.6h1.7M120.9 121.5h1.7M113.3 99.4h1.7M139.3 126.1h1.7M129.5 121.7h1.7M104.5 127.7h1.7M118.2 114.5h1.7M95.9 147.5h1.7M112.1 138.1h1.7M88.7 149.2h1.7M120.8 141.3h1.7M119.9 132.5h1.7M99.9 137.4h1.7M99.2 143.5h1.7M111.0 128.6h1.7M129.0 107.3h1.7M116.8 127.4h1.7M102.6 137.2h1.7M126.1 118.5h1.7M115.1 132.8h1.7M120.7 133.9h1.7M125.1 114.0h1.7M105.8 160.1h1.7M124.8 124.2h1.7M104.4 143.5h1.7M120.1 117.7h1.7M126.5 121.2h1.7M99.5 139.6h1.7M80.0 164.8h1.7M85.4 149.5h1.7M95.9 150.4h1.7M117.0 130.3h1.7M111.9 139.1h1.7M132.4 124.0h1.7M128.0 119.8h1.7M107.7 129.6h1.7M109.8 125.3h1.7M109.5 128.3h1.7M109.4 151.2h1.7M113.7 142.4h1.7M92.2 127.6h1.7M126.0 120.0h1.7M103.7 152.6h1.7M86.7 146.0h1.7M118.4 120.1h1.7M120.5 123.1h1.7M104.4 141.3h1.7M106.5 151.8h1.7M122.3 126.2h1.7M118.5 135.2h1.7M120.4 107.5h1.7M126.5 133.1h1.7M102.6 142.0h1.7M109.6 151.3h1.7M94.8 155.9h1.7M128.0 127.7h1.7M97.5 140.5h1.7M71.5 155.3h1.7M116.2 118.9h1.7M82.9 155.4h1.7M89.2 158.8h1.7M100.6 155.3h1.7M96.7 129.5h1.7M92.3 142.5h1.7M102.7 157.0h1.7M95.3 152.5h1.7M102.4 149.3h1.7M77.7 143.5h1.7M122.5 142.8h1.7M86.0 152.0h1.7M94.2 137.4h1.7M120.5 127.5h1.7M86.5 152.7h1.7M120.9 117.8h1.7M94.8 138.3h1.7M105.7 132.4h1.7M114.1 122.1h1.7M89.6 158.4h1.7M57.5 168.1h1.7M112.2 136.9h1.7M96.2 141.8h1.7M136.6 159.2h1.7M94.7 146.3h1.7M103.9 147.6h1.7M110.4 142.2h1.7M127.7 117.5h1.7M105.2 144.4h1.7M133.6 111.5h1.7M137.3 127.4h1.7M63.2 162.7h1.7M95.8 152.5h1.7M125.5 123.4h1.7M122.2 152.1h1.7M124.8 149.7h1.7M104.6 160.5h1.7M85.2 126.7h1.7M92.6 144.5h1.7M110.9 144.3h1.7M119.5 134.1h1.7M107.4 159.8h1.7M123.6 124.7h1.7M98.7 144.6h1.7M99.6 135.8h1.7M102.7 133.6h1.7M111.8 126.2h1.7M115.6 135.0h1.7M112.4 140.2h1.7M108.4 168.8h1.7M101.8 151.6h1.7M104.6 134.9h1.7M137.5 126.2h1.7M106.5 145.5h1.7M125.9 141.8h1.7M119.9 125.4h1.7M96.4 132.8h1.7M115.8 141.5h1.7M105.6 147.6h1.7M105.9 133.4h1.7M96.9 160.4h1.7M145.1 112.9h1.7M85.8 143.3h1.7M114.3 140.1h1.7M113.2 103.2h1.7M133.4 118.1h1.7M111.2 139.5h1.7M100.3 140.3h1.7M110.9 113.5h1.7M108.8 143.6h1.7M83.3 156.1h1.7M130.3 123.3h1.7M121.0 135.2h1.7M112.2 138.3h1.7M94.5 146.1h1.7M124.9 108.0h1.7M96.9 131.0h1.7M94.9 138.8h1.7M91.5 154.2h1.7M97.2 153.0h1.7M116.3 98.8h1.7M91.9 124.9h1.7M107.5 142.4h1.7M117.2 144.6h1.7M98.7 123.9h1.7M121.9 113.9h1.7M107.7 141.6h1.7M95.4 149.1h1.7M117.3 108.7h1.7M81.3 154.2h1.7M96.9 130.8h1.7M80.8 171.5h1.7M104.3 124.0h1.7M114.5 131.1h1.7M101.0 126.6h1.7M106.9 144.2h1.7M76.4 150.8h1.7M132.5 141.5h1.7M115.7 130.0h1.7M89.6 147.8h1.7M106.2 144.3h1.7M118.6 159.2h1.7M111.8 106.8h1.7M90.9 151.7h1.7M123.0 129.7h1.7M58.9 158.0h1.7M129.2 126.9h1.7M147.2 114.3h1.7M122.8 144.0h1.7M97.5 139.3h1.7M94.6 151.7h1.7M118.8 139.9h1.7M130.8 125.9h1.7M122.5 122.1h1.7M98.2 154.7h1.7M129.2 136.2h1.7M101.9 136.6h1.7M104.2 145.0h1.7M105.2 137.3h1.7M108.8 133.1h1.7M108.0 129.8h1.7M83.8 153.8h1.7M128.2 110.3h1.7M127.9 137.4h1.7M101.1 146.3h1.7M79.0 168.8h1.7M129.4 121.6h1.7M76.0 156.9h1.7M97.4 147.6h1.7M108.4 131.8h1.7M97.7 135.7h1.7M116.2 132.9h1.7M108.7 130.4h1.7M112.0 130.2h1.7M110.2 133.5h1.7M91.1 137.7h1.7M72.9 149.7h1.7M133.5 156.7h1.7M79.3 151.1h1.7M128.9 164.4h1.7M97.0 131.9h1.7M125.7 148.6h1.7M61.2 161.9h1.7M117.0 115.2h1.7M101.7 134.7h1.7M108.6 118.5h1.7M112.7 136.1h1.7M117.5 134.7h1.7M98.2 123.2h1.7M96.7 134.9h1.7M112.9 130.2h1.7M115.9 144.4h1.7M116.0 151.7h1.7M109.4 117.4h1.7M106.5 153.8h1.7M107.5 152.7h1.7M98.5 143.7h1.7M111.5 114.5h1.7M105.3 133.8h1.7M120.0 148.7h1.7M105.4 122.4h1.7M117.5 123.6h1.7M116.5 144.7h1.7M108.7 148.7h1.7M103.9 129.3h1.7M94.3 131.6h1.7M124.4 125.5h1.7M113.5 118.6h1.7M111.3 119.4h1.7M110.8 134.7h1.7M100.8 147.1h1.7M102.1 131.2h1.7M88.7 137.0h1.7M126.9 123.3h1.7M106.3 147.4h1.7M87.9 139.4h1.7M121.8 145.6h1.7M112.1 135.7h1.7M121.5 106.4h1.7M142.4 94.4h1.7M97.7 128.9h1.7M88.8 150.3h1.7M134.9 102.7h1.7M100.2 147.2h1.7M91.4 147.9h1.7M104.8 112.4h1.7M101.0 139.3h1.7M99.2 143.1h1.7M79.5 155.6h1.7M93.4 136.4h1.7M136.9 138.2h1.7M112.7 122.3h1.7M129.7 125.3h1.7M99.5 152.0h1.7M102.6 148.9h1.7M126.9 135.9h1.7M91.7 149.3h1.7M99.4 128.9h1.7M117.0 138.3h1.7M84.5 149.9h1.7M83.8 141.4h1.7M100.8 160.5h1.7M95.4 142.8h1.7M127.0 134.2h1.7M113.5 106.3h1.7M106.5 116.2h1.7M95.7 142.3h1.7M111.4 159.2h1.7M112.0 148.7h1.7M104.1 139.6h1.7M116.8 135.4h1.7M103.1 119.3h1.7M116.0 134.5h1.7M114.9 130.7h1.7M104.5 123.6h1.7M115.1 115.9h1.7M132.7 129.3h1.7M104.3 136.5h1.7" stroke="#1a1a1a" stroke-width="1.7" opacity="0.55" fill="none"/>
<path d="M121.4 126.1h1.6M85.5 166.4h1.6M77.4 157.4h1.6M154.4 123.7h1.6M97.7 149.6h1.6M94.1 153.6h1.6M84.1 176.0h1.6M102.1 134.8h1.6M121.6 187.5h1.6M93.7 144.2h1.6M90.6 146.3h1.6M142.7 130.1h1.6M120.6 140.8h1.6M59.3 130.5h1.6M147.4 127.2h1.6M115.5 143.0h1.6M112.5 139.9h1.6M79.8 118.3h1.6M120.6 134.2h1.6M131.9 130.8h1.6M108.1 155.6h1.6M107.5 134.1h1.6M95.7 143.7h1.6M97.1 142.2h1.6M158.6 164.7h1.6M117.0 159.5h1.6M33.1 133.7h1.6M96.3 148.8h1.6M78.4 137.6h1.6M84.7 150.5h1.6M107.9 136.1h1.6M78.7 158.1h1.6M131.2 106.4h1.6M119.6 155.1h1.6M85.1 149.0h1.6M182.2 111.0h1.6M98.4 153.8h1.6M111.6 143.2h1.6M114.8 131.4h1.6M51.0 167.3h1.6M97.3 122.7h1.6M116.4 167.9h1.6M106.4 130.5h1.6M121.6 154.4h1.6M58.8 155.2h1.6M89.4 148.3h1.6M100.2 136.9h1.6M111.2 142.4h1.6M76.8 154.2h1.6M84.6 167.3h1.6M120.2 147.2h1.6M84.0 150.6h1.6M60.9 180.0h1.6M77.1 174.4h1.6M135.5 130.9h1.6M123.7 135.5h1.6M125.4 149.1h1.6M155.4 148.3h1.6M110.8 158.3h1.6M130.8 134.2h1.6M100.8 122.1h1.6M122.2 113.4h1.6M85.4 142.7h1.6M110.0 121.1h1.6M123.4 142.7h1.6M106.7 136.9h1.6M134.0 150.2h1.6M87.5 137.0h1.6M86.3 141.6h1.6M101.4 144.9h1.6M73.9 200.2h1.6M86.4 150.9h1.6M46.4 149.9h1.6M88.8 162.8h1.6M107.7 105.4h1.6M128.1 159.0h1.6M111.3 159.6h1.6M105.2 125.8h1.6M122.9 118.6h1.6M111.4 131.9h1.6M104.9 148.6h1.6M119.0 99.2h1.6M85.3 162.8h1.6M126.8 124.4h1.6M109.4 153.0h1.6M132.3 105.1h1.6M71.2 165.8h1.6M110.9 113.2h1.6M141.4 136.5h1.6M116.2 118.9h1.6M87.2 173.0h1.6M120.5 147.6h1.6M49.4 127.0h1.6M141.9 137.4h1.6M102.0 147.5h1.6M125.2 145.2h1.6M98.8 139.5h1.6M97.7 172.5h1.6M75.5 97.1h1.6M109.5 129.9h1.6M75.8 157.5h1.6M76.3 158.4h1.6M101.6 158.7h1.6M68.0 136.2h1.6M81.2 135.2h1.6M121.6 128.0h1.6M63.6 159.4h1.6M107.0 142.9h1.6M67.6 171.9h1.6M124.3 150.9h1.6M130.0 123.2h1.6M76.6 159.7h1.6M112.4 120.3h1.6M125.0 109.7h1.6M92.5 172.4h1.6M109.1 148.8h1.6M101.8 148.4h1.6M114.8 177.3h1.6M120.6 130.5h1.6M126.5 146.0h1.6M98.6 154.0h1.6M106.6 132.3h1.6M89.5 153.2h1.6M97.5 142.7h1.6M67.5 176.2h1.6M122.6 133.1h1.6M153.1 125.8h1.6M93.6 140.2h1.6M114.8 129.9h1.6M74.9 171.4h1.6M99.4 145.0h1.6M122.9 135.4h1.6M143.4 99.9h1.6M109.0 148.6h1.6M93.4 143.6h1.6M130.4 95.2h1.6M97.6 114.5h1.6M95.7 112.5h1.6M94.7 177.1h1.6M142.0 119.1h1.6M60.6 201.2h1.6M102.0 124.6h1.6M87.1 131.8h1.6M105.1 143.4h1.6M118.6 151.2h1.6M72.0 125.1h1.6M70.5 146.1h1.6M95.7 143.4h1.6M120.9 161.4h1.6M97.6 128.6h1.6M92.6 136.7h1.6M108.7 154.5h1.6M91.1 170.8h1.6M161.2 133.1h1.6M143.3 117.2h1.6M99.6 191.3h1.6M109.2 146.8h1.6M90.9 136.8h1.6M107.0 114.7h1.6M84.4 172.9h1.6M91.6 138.4h1.6M132.8 153.1h1.6M100.6 146.0h1.6M129.3 145.8h1.6M136.7 134.6h1.6M99.3 160.9h1.6M91.0 121.0h1.6M139.9 129.9h1.6M136.4 119.5h1.6M122.7 130.0h1.6M120.6 152.0h1.6M115.4 149.9h1.6M119.6 159.4h1.6M105.1 110.9h1.6M147.6 121.2h1.6M90.9 143.4h1.6M151.0 111.2h1.6M124.8 142.2h1.6M112.9 175.4h1.6M144.7 98.2h1.6M115.6 103.2h1.6M101.5 149.4h1.6M114.8 149.5h1.6M120.3 141.1h1.6M108.2 149.1h1.6M116.0 177.5h1.6M121.8 157.9h1.6M108.7 139.3h1.6M91.2 129.4h1.6M156.1 114.0h1.6M106.1 134.9h1.6M131.8 117.6h1.6M92.9 143.6h1.6M143.8 121.5h1.6M98.5 137.2h1.6M138.1 125.5h1.6M110.0 159.9h1.6M116.6 115.7h1.6M143.3 138.0h1.6M89.6 129.9h1.6M127.7 120.5h1.6M100.9 142.6h1.6M110.7 158.2h1.6M90.3 167.8h1.6M143.1 137.4h1.6M126.0 134.5h1.6M102.8 144.7h1.6M106.4 178.8h1.6M95.5 132.0h1.6M140.8 148.6h1.6M110.8 134.3h1.6M91.1 169.5h1.6M96.4 138.5h1.6M107.9 116.5h1.6M99.3 99.7h1.6M80.9 134.8h1.6M111.0 157.1h1.6M94.4 181.7h1.6M89.0 147.9h1.6M121.7 117.3h1.6M136.7 116.4h1.6M96.6 132.2h1.6M131.7 123.2h1.6M88.6 138.7h1.6M93.9 152.1h1.6M101.1 164.8h1.6M101.3 135.6h1.6M132.1 153.5h1.6M68.2 181.5h1.6M132.2 126.9h1.6M110.2 109.8h1.6M102.6 168.0h1.6M106.9 145.1h1.6M125.0 137.3h1.6M112.7 129.2h1.6M115.0 164.4h1.6M83.7 132.5h1.6M109.8 159.9h1.6M147.2 115.5h1.6M101.4 160.7h1.6M126.4 152.9h1.6M126.6 143.9h1.6M123.1 139.8h1.6M87.7 155.6h1.6M154.9 133.6h1.6M132.4 132.1h1.6M109.5 149.0h1.6M112.3 161.9h1.6M94.3 138.2h1.6M90.3 188.7h1.6M84.2 144.1h1.6M134.6 159.0h1.6M119.0 127.7h1.6M112.0 123.0h1.6M103.5 147.2h1.6M116.5 152.4h1.6M138.4 157.9h1.6M123.0 125.6h1.6M105.4 127.7h1.6M92.4 148.3h1.6M122.7 117.5h1.6M66.1 155.1h1.6M81.8 159.8h1.6M90.7 132.7h1.6M88.0 150.2h1.6M122.8 144.0h1.6M133.4 117.9h1.6M122.4 133.3h1.6M79.7 152.2h1.6M152.3 105.2h1.6M150.9 126.4h1.6M141.2 113.3h1.6M125.0 123.6h1.6M74.2 145.6h1.6M101.9 115.0h1.6M107.7 125.6h1.6M102.5 119.4h1.6M124.0 125.9h1.6M62.9 148.9h1.6M93.9 120.7h1.6M120.4 143.3h1.6M109.0 170.7h1.6M141.7 123.1h1.6M122.9 141.1h1.6M116.4 163.3h1.6M72.9 119.2h1.6M113.6 147.7h1.6M114.9 115.2h1.6M129.4 109.6h1.6M129.0 141.5h1.6M123.7 153.9h1.6M118.9 176.3h1.6M114.8 129.2h1.6M162.4 100.4h1.6M89.5 186.4h1.6M135.0 110.2h1.6M99.6 172.6h1.6M100.6 129.3h1.6M99.6 151.0h1.6M144.6 146.4h1.6M111.3 171.8h1.6M84.8 175.7h1.6M110.3 150.1h1.6M92.9 140.4h1.6M125.9 152.1h1.6M63.8 178.6h1.6M90.0 135.3h1.6M86.3 170.5h1.6M126.7 141.6h1.6M52.9 155.0h1.6M92.0 146.7h1.6M141.4 109.1h1.6M121.4 152.9h1.6M147.0 120.2h1.6M135.1 161.4h1.6M82.8 126.1h1.6M90.3 150.4h1.6M139.0 125.3h1.6M134.7 124.3h1.6M104.1 134.3h1.6M88.6 168.6h1.6M122.0 143.8h1.6M93.8 145.6h1.6M122.7 144.0h1.6M141.3 99.2h1.6M138.0 137.7h1.6M104.9 148.3h1.6M122.9 162.6h1.6M164.5 105.5h1.6M113.1 158.5h1.6M117.3 132.0h1.6M133.1 141.3h1.6M109.2 159.5h1.6M50.1 162.1h1.6M104.1 149.3h1.6M93.6 184.5h1.6M102.6 150.3h1.6M115.5 152.6h1.6M104.4 161.1h1.6M77.2 136.9h1.6M121.1 136.1h1.6M107.8 103.5h1.6M104.8 132.4h1.6M101.2 140.3h1.6M94.6 139.9h1.6M112.9 104.1h1.6M77.9 173.6h1.6M142.8 100.3h1.6M78.7 142.0h1.6M100.3 174.6h1.6M131.9 142.8h1.6M118.4 139.7h1.6M87.3 139.4h1.6M146.3 163.8h1.6M113.9 164.4h1.6M94.8 154.1h1.6M143.1 114.1h1.6M116.4 125.0h1.6M135.4 96.5h1.6M118.1 130.3h1.6M116.6 143.8h1.6M144.7 132.3h1.6M134.3 130.0h1.6M100.3 176.5h1.6M145.4 123.7h1.6M123.0 126.6h1.6M89.1 178.0h1.6M113.0 178.3h1.6M122.9 131.0h1.6M97.3 153.6h1.6M84.4 153.8h1.6M138.9 112.9h1.6M145.8 111.5h1.6M108.3 123.9h1.6M98.3 141.5h1.6M99.5 189.3h1.6M120.2 131.8h1.6M86.7 160.4h1.6M77.6 146.9h1.6M126.5 172.9h1.6M78.6 177.5h1.6M68.7 114.2h1.6M78.4 163.4h1.6M102.6 131.8h1.6M150.8 120.6h1.6M79.5 131.6h1.6M105.8 131.0h1.6M119.5 112.6h1.6M128.9 117.3h1.6M110.2 135.8h1.6M133.1 147.0h1.6M88.6 139.6h1.6M157.4 124.1h1.6M157.7 123.8h1.6M127.8 161.1h1.6M90.7 147.7h1.6M107.4 157.6h1.6M89.5 153.9h1.6M89.0 153.1h1.6M143.0 138.5h1.6M129.6 178.5h1.6M98.8 159.6h1.6M76.8 121.9h1.6M96.7 177.4h1.6M103.8 206.5h1.6M108.9 147.9h1.6M134.9 122.6h1.6M89.5 144.9h1.6M94.8 164.7h1.6M104.1 156.6h1.6M73.4 161.2h1.6M154.9 113.9h1.6M118.4 159.3h1.6M129.7 157.6h1.6M92.4 171.1h1.6M93.6 168.3h1.6M174.8 122.4h1.6M95.2 161.7h1.6M111.0 125.9h1.6M103.1 124.9h1.6M137.8 138.6h1.6M112.2 153.9h1.6M156.4 102.0h1.6M73.4 177.0h1.6M91.5 139.8h1.6M137.3 140.8h1.6M137.3 153.8h1.6M91.4 147.4h1.6M90.3 101.1h1.6M55.6 191.1h1.6M104.8 146.7h1.6M91.0 161.0h1.6M124.2 117.4h1.6M118.8 131.4h1.6M106.5 146.6h1.6M145.0 124.9h1.6M124.3 133.4h1.6M73.6 189.4h1.6M109.2 144.1h1.6M82.7 131.0h1.6M157.8 142.0h1.6M122.7 93.6h1.6M108.2 118.6h1.6M99.6 139.0h1.6M88.0 142.8h1.6M106.3 160.4h1.6M151.2 128.4h1.6M106.8 141.0h1.6M103.2 146.3h1.6M93.9 150.4h1.6M123.8 126.0h1.6M90.4 154.3h1.6M109.5 140.3h1.6M110.1 155.9h1.6M97.4 130.5h1.6M113.1 124.3h1.6M132.7 140.6h1.6M121.6 138.8h1.6M78.5 162.0h1.6M117.4 148.8h1.6M83.6 158.9h1.6M78.3 169.9h1.6M111.3 143.0h1.6M150.2 125.3h1.6M98.6 138.4h1.6M107.0 160.0h1.6M122.4 121.4h1.6M101.7 139.0h1.6M124.6 134.0h1.6M84.6 143.1h1.6M121.5 103.6h1.6M39.9 132.8h1.6M145.3 102.8h1.6M131.8 136.0h1.6M137.3 143.6h1.6M98.5 150.1h1.6M134.5 133.8h1.6M85.1 145.4h1.6M80.9 169.6h1.6M81.7 131.5h1.6M100.0 156.0h1.6M110.0 136.9h1.6M118.3 148.4h1.6M75.2 151.8h1.6M136.1 136.3h1.6M71.9 156.3h1.6M146.2 128.7h1.6M115.6 158.2h1.6M151.2 138.5h1.6M66.4 148.9h1.6M97.3 150.4h1.6M103.5 151.6h1.6M150.4 132.6h1.6M129.1 126.5h1.6M147.5 121.6h1.6M113.3 138.5h1.6M91.5 200.3h1.6M116.9 154.6h1.6M153.9 103.2h1.6M94.3 174.8h1.6M104.0 126.7h1.6M128.7 127.1h1.6M63.3 125.8h1.6M91.4 163.9h1.6M96.4 172.1h1.6M157.8 110.8h1.6M112.4 138.0h1.6M126.8 129.0h1.6M144.4 143.9h1.6M116.7 116.4h1.6M119.8 128.4h1.6M124.7 150.0h1.6M96.6 156.2h1.6M130.9 108.0h1.6M111.7 155.2h1.6M113.8 159.6h1.6M72.3 140.1h1.6M115.0 134.8h1.6M124.6 149.9h1.6M127.0 121.1h1.6M81.0 124.3h1.6M90.4 161.9h1.6M98.2 120.2h1.6M124.5 129.3h1.6M128.0 120.2h1.6M117.7 112.8h1.6M61.5 162.9h1.6M127.2 136.5h1.6M70.2 175.6h1.6M139.2 153.1h1.6M129.9 136.4h1.6M78.9 173.5h1.6M64.1 171.3h1.6M91.0 136.4h1.6M85.7 157.6h1.6M114.2 125.0h1.6M121.8 146.8h1.6M127.0 167.5h1.6M94.6 138.6h1.6M79.1 187.6h1.6M120.8 129.2h1.6M113.7 136.0h1.6M126.6 128.3h1.6M112.4 138.0h1.6M67.7 129.1h1.6M107.5 118.0h1.6M123.1 144.3h1.6M140.6 102.3h1.6M121.0 152.4h1.6M88.5 146.3h1.6M138.3 161.6h1.6M140.6 137.2h1.6M94.7 167.0h1.6M119.8 108.0h1.6M106.7 140.1h1.6M104.7 110.0h1.6M123.2 131.2h1.6M81.8 120.3h1.6M59.4 169.9h1.6M126.3 137.5h1.6M107.3 108.9h1.6M126.0 156.5h1.6M82.2 176.5h1.6M98.5 161.7h1.6M94.4 120.5h1.6M98.9 176.2h1.6M118.4 160.3h1.6M124.3 148.5h1.6M102.2 152.1h1.6M109.5 160.4h1.6M107.2 166.3h1.6M129.4 101.5h1.6M110.2 152.4h1.6M157.1 128.2h1.6M93.0 119.4h1.6M120.2 121.5h1.6M116.4 144.7h1.6M89.2 179.5h1.6M133.4 135.0h1.6M124.4 137.5h1.6M73.9 159.3h1.6M122.2 125.2h1.6M112.5 147.1h1.6M112.7 144.6h1.6M118.6 134.8h1.6M82.5 157.5h1.6M121.8 118.5h1.6M121.3 138.9h1.6M61.9 121.6h1.6M100.3 133.3h1.6M104.4 164.9h1.6M95.6 159.8h1.6M112.8 143.4h1.6M130.7 85.1h1.6M127.2 125.1h1.6M95.9 138.9h1.6M109.6 142.7h1.6M105.3 178.6h1.6M91.4 153.3h1.6M83.2 165.5h1.6M126.5 150.6h1.6M124.0 120.4h1.6M141.0 115.1h1.6M157.9 139.0h1.6M89.3 135.8h1.6M133.9 152.1h1.6M127.5 150.1h1.6M129.6 144.3h1.6M133.2 117.3h1.6M77.4 164.5h1.6M80.0 140.7h1.6M111.8 154.6h1.6M54.6 153.9h1.6M116.3 118.5h1.6M113.5 166.3h1.6M135.4 128.9h1.6M92.8 99.6h1.6M123.7 138.5h1.6M80.9 167.9h1.6M116.8 133.8h1.6M133.6 141.0h1.6M106.9 138.8h1.6M94.8 176.5h1.6M99.4 156.2h1.6M148.1 127.4h1.6M80.8 162.6h1.6M77.1 133.7h1.6M97.2 163.3h1.6M113.4 134.6h1.6M100.5 125.2h1.6M90.6 153.3h1.6M121.8 125.7h1.6M108.1 149.7h1.6M126.7 102.8h1.6M121.3 136.4h1.6M109.2 147.1h1.6M67.0 175.7h1.6M91.1 131.1h1.6M124.8 127.5h1.6M108.6 158.0h1.6M81.9 148.8h1.6M134.2 140.3h1.6M146.1 104.0h1.6M63.2 147.9h1.6M84.2 163.7h1.6M96.6 138.2h1.6M80.2 150.6h1.6M112.3 163.8h1.6M134.9 149.8h1.6M132.9 139.0h1.6M137.4 129.3h1.6M151.7 131.9h1.6M148.5 115.8h1.6M116.8 187.2h1.6M107.5 154.0h1.6M93.5 140.3h1.6M106.4 121.6h1.6M118.8 163.2h1.6M118.9 151.2h1.6M125.4 137.2h1.6M116.5 148.8h1.6M93.7 166.1h1.6M78.3 150.9h1.6M82.7 135.6h1.6M70.7 179.9h1.6M125.3 142.9h1.6M156.3 108.9h1.6M116.5 121.2h1.6M111.8 116.9h1.6M140.1 98.4h1.6M107.0 159.0h1.6M75.3 195.8h1.6M90.2 161.0h1.6M130.3 128.8h1.6M122.8 121.2h1.6M99.2 105.7h1.6M133.4 109.7h1.6M90.2 157.3h1.6M136.9 106.2h1.6M104.1 138.7h1.6M75.7 141.7h1.6M127.5 142.1h1.6M94.6 158.1h1.6M121.3 140.3h1.6M105.1 146.2h1.6M103.5 125.0h1.6M112.9 155.3h1.6M109.3 168.6h1.6M92.3 133.0h1.6M88.6 130.7h1.6M105.2 112.9h1.6M106.1 139.7h1.6M105.9 153.2h1.6M108.7 131.2h1.6M120.9 123.8h1.6M140.2 145.1h1.6M125.1 148.4h1.6M85.6 172.0h1.6M75.1 165.2h1.6M96.3 97.7h1.6M84.1 146.0h1.6M88.6 158.6h1.6M110.1 117.9h1.6M76.8 129.7h1.6M72.7 128.1h1.6M81.1 173.5h1.6M118.5 118.3h1.6M107.8 127.4h1.6M147.7 147.5h1.6M47.9 172.4h1.6M89.9 147.5h1.6M156.3 137.2h1.6M114.1 151.2h1.6M71.8 165.3h1.6M100.6 145.8h1.6M98.9 118.4h1.6M107.2 187.0h1.6M72.3 172.1h1.6M128.2 137.2h1.6M93.4 121.7h1.6M82.9 131.0h1.6M152.8 115.3h1.6M125.3 133.6h1.6M111.5 164.3h1.6M132.8 136.5h1.6M127.6 142.7h1.6M106.4 153.0h1.6M107.3 138.5h1.6M142.7 159.3h1.6M79.6 194.4h1.6M110.8 165.3h1.6M84.8 157.4h1.6M128.8 125.3h1.6M103.5 122.0h1.6M100.4 182.8h1.6M110.5 139.3h1.6M68.8 152.6h1.6M85.9 159.3h1.6M99.6 137.2h1.6M95.1 155.4h1.6M118.7 106.1h1.6M89.4 180.5h1.6M74.1 161.2h1.6M128.4 164.0h1.6M36.6 139.8h1.6M116.9 157.9h1.6M103.1 130.5h1.6M91.7 113.9h1.6M139.9 148.2h1.6M111.8 156.7h1.6M100.5 178.9h1.6M86.6 143.5h1.6M74.6 133.2h1.6M141.9 157.2h1.6M76.1 163.9h1.6M111.9 128.5h1.6M78.5 172.8h1.6M130.1 127.9h1.6M82.6 156.7h1.6M66.9 173.9h1.6M144.6 137.0h1.6M110.5 149.9h1.6M98.4 153.2h1.6M97.1 154.8h1.6M99.1 154.0h1.6M122.4 131.4h1.6M85.8 170.5h1.6M98.0 140.8h1.6M111.6 123.2h1.6M133.1 134.8h1.6M86.6 145.5h1.6M96.5 133.5h1.6M105.6 99.0h1.6M107.7 136.2h1.6M91.3 168.9h1.6M102.4 156.7h1.6M96.1 146.6h1.6M128.4 146.5h1.6M128.7 126.4h1.6M135.7 114.4h1.6M61.0 141.7h1.6M69.2 155.7h1.6M73.9 176.3h1.6M108.4 142.0h1.6M111.9 137.7h1.6M99.6 143.1h1.6M97.7 128.1h1.6M150.0 141.6h1.6M131.2 171.2h1.6M96.6 170.3h1.6M80.1 177.1h1.6M102.4 167.9h1.6M119.8 153.2h1.6M125.9 139.7h1.6M118.1 167.6h1.6M120.3 143.3h1.6M135.5 116.3h1.6M155.3 128.2h1.6M95.4 123.3h1.6M130.5 119.1h1.6M111.3 142.9h1.6M134.3 135.4h1.6M63.4 164.4h1.6M117.1 139.4h1.6M130.3 137.2h1.6M135.0 107.2h1.6M139.2 126.5h1.6M121.2 146.7h1.6M108.1 157.5h1.6M110.9 155.5h1.6M103.8 170.2h1.6M69.8 159.5h1.6M109.5 146.8h1.6M87.5 150.9h1.6M123.8 152.1h1.6M130.5 115.8h1.6M103.6 140.1h1.6M71.8 162.2h1.6M118.4 107.4h1.6M177.6 108.6h1.6M146.1 117.0h1.6M64.3 186.1h1.6M135.7 109.7h1.6M142.1 131.8h1.6M131.9 139.6h1.6M126.8 141.6h1.6M137.3 128.8h1.6M125.6 138.1h1.6M102.5 129.6h1.6M60.6 159.4h1.6M67.6 144.4h1.6M119.3 127.5h1.6M165.6 161.8h1.6M119.7 124.4h1.6M114.1 134.1h1.6M134.8 164.7h1.6M154.2 133.0h1.6M131.8 160.8h1.6M134.3 140.7h1.6M77.7 154.2h1.6M109.6 137.4h1.6M77.5 126.1h1.6M91.5 153.7h1.6M104.0 124.3h1.6M123.4 168.1h1.6M92.0 115.4h1.6M104.4 146.0h1.6M136.6 124.7h1.6M140.2 124.7h1.6M146.1 141.0h1.6M142.3 120.3h1.6M160.6 182.2h1.6M84.7 165.4h1.6M111.2 126.2h1.6M123.9 127.3h1.6M126.7 132.4h1.6M99.2 171.4h1.6M159.4 121.9h1.6M97.0 116.4h1.6M114.7 137.2h1.6M72.7 131.5h1.6M127.3 148.0h1.6M145.8 160.3h1.6M72.1 178.3h1.6M121.8 161.5h1.6M98.0 131.1h1.6M111.4 149.4h1.6M85.1 144.9h1.6M122.5 149.7h1.6M108.3 152.9h1.6M94.4 146.8h1.6M121.9 152.1h1.6M140.2 115.4h1.6M137.2 160.6h1.6M122.1 124.7h1.6M102.7 118.1h1.6M57.0 167.3h1.6M80.0 137.5h1.6M125.2 120.4h1.6M110.8 142.4h1.6M92.4 131.3h1.6M128.9 86.1h1.6M114.5 152.3h1.6M103.1 144.9h1.6M117.2 140.9h1.6M112.1 162.1h1.6M133.9 153.8h1.6M90.5 116.0h1.6M68.8 163.2h1.6M101.6 114.6h1.6M109.0 167.9h1.6M108.2 128.3h1.6M107.2 146.1h1.6M96.5 145.7h1.6M97.4 156.0h1.6M155.8 135.7h1.6M105.6 192.6h1.6M92.0 126.9h1.6M78.9 168.9h1.6M106.8 130.9h1.6M89.6 153.1h1.6M120.5 147.2h1.6M96.3 103.4h1.6M98.6 155.8h1.6M124.1 147.0h1.6M93.1 186.9h1.6M81.6 159.6h1.6M94.0 144.3h1.6M100.4 165.8h1.6M128.2 134.6h1.6M75.8 155.4h1.6M111.2 148.8h1.6M94.3 148.3h1.6M163.4 101.1h1.6M77.7 116.3h1.6M109.1 175.8h1.6M114.1 113.9h1.6M126.4 132.2h1.6M99.9 165.8h1.6M92.8 148.8h1.6M111.0 145.2h1.6M102.3 153.7h1.6M110.4 145.2h1.6M110.1 128.4h1.6M79.4 164.0h1.6M137.2 127.1h1.6M105.7 129.7h1.6M72.4 145.4h1.6M85.8 152.8h1.6M75.4 166.2h1.6M82.5 176.5h1.6M90.4 120.8h1.6M99.4 154.6h1.6M124.0 146.5h1.6M99.7 146.6h1.6M109.0 153.5h1.6M92.6 151.9h1.6M108.0 136.0h1.6M99.7 177.5h1.6M109.6 123.1h1.6M141.4 101.4h1.6M86.8 152.2h1.6M134.4 153.2h1.6M142.2 127.8h1.6M116.5 150.2h1.6M85.3 146.5h1.6M121.4 136.8h1.6M103.2 126.0h1.6M99.2 120.5h1.6M127.7 128.0h1.6M90.5 147.2h1.6M196.9 138.0h1.6M107.7 171.5h1.6M59.9 203.9h1.6M111.4 145.7h1.6M75.7 141.5h1.6M108.9 133.3h1.6M129.4 148.2h1.6M111.4 151.5h1.6M114.4 143.0h1.6M100.2 154.2h1.6M118.2 136.8h1.6M84.6 131.5h1.6M102.1 179.9h1.6M132.3 130.3h1.6M113.0 136.2h1.6M132.1 144.1h1.6M106.4 150.7h1.6M112.4 107.3h1.6M83.5 150.6h1.6M80.2 155.9h1.6M87.2 151.3h1.6M106.6 120.1h1.6M124.3 158.8h1.6M100.2 124.1h1.6M107.7 167.4h1.6M96.9 139.0h1.6M117.5 121.1h1.6M91.7 168.5h1.6M102.4 134.2h1.6M129.1 149.4h1.6M131.7 126.7h1.6M122.8 141.8h1.6M94.6 187.8h1.6M89.4 146.3h1.6M82.0 143.7h1.6M131.0 125.3h1.6M78.4 128.7h1.6M111.4 139.5h1.6M86.4 158.1h1.6M77.5 180.3h1.6M88.5 168.7h1.6M89.4 114.1h1.6M79.0 152.4h1.6M130.7 137.7h1.6M138.1 154.0h1.6M97.6 140.9h1.6M59.8 159.7h1.6M111.7 123.0h1.6M100.1 168.9h1.6" stroke="#1a1a1a" stroke-width="1.6" opacity="0.47" fill="none"/>
<path d="M65.3 209.4h1.6M123.2 142.6h1.6M110.6 180.0h1.6M117.3 173.1h1.6M101.5 209.7h1.6M94.2 189.0h1.6M113.0 177.8h1.6M116.8 191.1h1.6M116.1 144.5h1.6M87.4 186.4h1.6M121.3 210.2h1.6M103.5 164.6h1.6M86.5 139.4h1.6M95.6 192.3h1.6M102.2 149.3h1.6M101.8 181.3h1.6M91.8 210.7h1.6M110.1 203.3h1.6M104.9 159.8h1.6M120.0 203.4h1.6M94.3 152.3h1.6M115.9 168.4h1.6M85.5 178.5h1.6M111.8 164.5h1.6M103.9 201.1h1.6M114.8 147.6h1.6M114.3 217.2h1.6M117.5 178.4h1.6M109.0 147.2h1.6M94.3 169.3h1.6M135.2 180.3h1.6M88.4 215.7h1.6M122.2 145.6h1.6M100.3 144.8h1.6M119.3 132.5h1.6M131.8 158.1h1.6M111.6 187.6h1.6M116.5 159.5h1.6M116.8 174.4h1.6M111.3 185.1h1.6M124.6 153.2h1.6M82.0 193.9h1.6M139.6 191.7h1.6M100.8 194.3h1.6M84.8 182.1h1.6M77.6 182.7h1.6M114.4 215.9h1.6M95.6 199.8h1.6M123.9 158.3h1.6M99.1 141.3h1.6M89.9 189.4h1.6M72.3 174.0h1.6M114.4 210.4h1.6M65.0 188.3h1.6M93.9 131.9h1.6M87.8 192.7h1.6M103.0 195.0h1.6M98.7 194.1h1.6M88.4 159.7h1.6M100.9 143.5h1.6M122.3 175.0h1.6M88.3 162.1h1.6M88.5 182.8h1.6M97.7 198.4h1.6M85.7 178.7h1.6M80.2 170.4h1.6M124.1 177.7h1.6M116.9 178.9h1.6M86.6 161.7h1.6M86.1 187.4h1.6M128.8 198.1h1.6M88.4 182.6h1.6M92.3 204.9h1.6M82.7 196.3h1.6M84.6 170.4h1.6M105.9 183.1h1.6M102.4 178.9h1.6M90.1 177.9h1.6M102.2 160.5h1.6M112.0 183.9h1.6M91.7 207.7h1.6M94.5 140.1h1.6M122.6 172.3h1.6M125.7 189.4h1.6M89.7 203.8h1.6M110.3 199.7h1.6M103.9 213.1h1.6M117.5 173.1h1.6M80.3 179.3h1.6M104.3 159.4h1.6M100.3 211.9h1.6M96.0 204.0h1.6M89.0 159.7h1.6M117.6 176.6h1.6M106.6 201.9h1.6M128.2 154.0h1.6M112.2 185.0h1.6M105.5 217.2h1.6M99.6 167.6h1.6M111.0 137.4h1.6M108.9 161.3h1.6M108.2 164.5h1.6M111.0 175.0h1.6M92.3 191.6h1.6M114.7 146.2h1.6M83.5 174.6h1.6M97.4 208.2h1.6M127.5 190.3h1.6M120.0 173.3h1.6M82.3 186.6h1.6M76.3 214.7h1.6M107.1 204.8h1.6M93.4 146.0h1.6M100.1 190.5h1.6M99.9 169.4h1.6M104.4 176.1h1.6M124.5 152.5h1.6M69.4 178.2h1.6M107.3 147.7h1.6M102.6 189.5h1.6M108.3 186.6h1.6M91.7 149.5h1.6M117.8 172.7h1.6M82.2 213.1h1.6M114.5 120.7h1.6M142.7 183.3h1.6M78.5 200.4h1.6M108.2 206.5h1.6M103.4 144.9h1.6M100.7 171.1h1.6M107.6 176.2h1.6M111.8 154.3h1.6M94.8 169.2h1.6M109.5 143.9h1.6M75.6 202.1h1.6M104.7 201.1h1.6M104.0 185.6h1.6M108.8 189.9h1.6M84.7 177.3h1.6M131.1 210.2h1.6M90.2 160.1h1.6M100.5 202.6h1.6M117.2 167.7h1.6M66.8 179.1h1.6M77.7 205.5h1.6M125.9 194.3h1.6M112.3 192.1h1.6M131.4 203.2h1.6M125.3 155.7h1.6M95.2 180.1h1.6M69.0 174.0h1.6M102.8 178.7h1.6M141.9 175.8h1.6M100.1 177.6h1.6M97.9 150.0h1.6M120.3 180.6h1.6M108.7 180.9h1.6M91.2 146.2h1.6M98.8 191.4h1.6M101.3 195.7h1.6M91.0 173.9h1.6M105.4 178.0h1.6M105.8 210.5h1.6M96.7 183.0h1.6M93.1 191.6h1.6M106.6 164.5h1.6M87.7 154.7h1.6M98.8 183.3h1.6M95.5 177.7h1.6M105.2 184.7h1.6M133.0 188.2h1.6M113.1 169.4h1.6M94.8 196.6h1.6M93.9 166.1h1.6M80.2 186.3h1.6M101.7 191.7h1.6M89.8 153.7h1.6M120.0 180.6h1.6M115.2 155.7h1.6M83.2 126.4h1.6M107.7 201.1h1.6M123.5 217.2h1.6M75.1 156.9h1.6M95.0 163.3h1.6M99.8 163.1h1.6M80.5 179.2h1.6M105.0 163.7h1.6M103.5 152.5h1.6M98.0 172.9h1.6M96.0 178.4h1.6M83.6 151.6h1.6M90.3 195.7h1.6M88.5 160.2h1.6M133.5 174.6h1.6M97.2 161.3h1.6M125.6 191.2h1.6M107.1 213.9h1.6M84.7 144.3h1.6M120.1 189.2h1.6M95.1 197.0h1.6M83.6 187.7h1.6M118.1 198.9h1.6M97.5 171.6h1.6M96.3 194.7h1.6M96.8 177.1h1.6M118.8 177.7h1.6M106.8 177.4h1.6M103.2 132.8h1.6M88.6 187.9h1.6M93.2 166.9h1.6M91.3 159.7h1.6M75.4 189.8h1.6M102.1 162.2h1.6M96.7 200.9h1.6M118.7 187.8h1.6M120.8 201.5h1.6M95.9 197.0h1.6M105.4 196.4h1.6M83.7 187.7h1.6M95.0 172.2h1.6M102.7 179.1h1.6M129.3 178.9h1.6M106.8 202.7h1.6M126.2 159.6h1.6M107.7 151.7h1.6M110.6 210.2h1.6M94.9 174.0h1.6M121.3 189.4h1.6M115.4 170.3h1.6M98.1 172.1h1.6M127.1 148.2h1.6M95.0 213.3h1.6M101.9 156.7h1.6M106.6 175.4h1.6M101.1 190.7h1.6M115.1 148.1h1.6M106.1 212.0h1.6M82.3 178.0h1.6M85.1 194.2h1.6M90.0 172.9h1.6M96.6 189.7h1.6M82.8 150.1h1.6M105.9 209.1h1.6M95.2 188.9h1.6M107.1 182.3h1.6M102.7 168.2h1.6M99.2 205.8h1.6M109.8 207.4h1.6M91.8 182.5h1.6M93.1 151.7h1.6M116.8 174.0h1.6M106.7 149.7h1.6M99.1 177.4h1.6M97.0 201.8h1.6M110.0 182.9h1.6M106.5 170.5h1.6M92.0 174.0h1.6M87.3 176.4h1.6M101.2 204.2h1.6M94.9 182.8h1.6M102.5 166.8h1.6M102.0 142.0h1.6M120.1 167.6h1.6M102.5 141.0h1.6M111.7 152.5h1.6M123.8 157.6h1.6M91.7 194.2h1.6M122.6 137.5h1.6M77.0 214.7h1.6M109.7 147.3h1.6M96.2 195.0h1.6M96.9 212.4h1.6M91.9 183.6h1.6M120.7 211.9h1.6M106.6 192.5h1.6M97.7 178.6h1.6M94.1 188.4h1.6M115.9 158.3h1.6M85.0 181.0h1.6M133.6 184.9h1.6M104.9 179.0h1.6M77.2 164.7h1.6M126.1 134.7h1.6M130.5 154.1h1.6M125.9 177.0h1.6M112.0 168.1h1.6M96.0 184.4h1.6M54.6 192.1h1.6M98.1 156.5h1.6M98.6 193.9h1.6M91.1 187.7h1.6M82.2 182.0h1.6M85.2 196.5h1.6M86.9 193.3h1.6M72.3 183.8h1.6M119.7 162.1h1.6M103.7 161.4h1.6M110.2 196.3h1.6M120.5 208.7h1.6M122.8 164.2h1.6M104.7 191.4h1.6M105.8 151.5h1.6M103.8 123.6h1.6M130.9 176.0h1.6M137.6 157.3h1.6M110.9 197.1h1.6M80.8 172.7h1.6M110.4 194.3h1.6M108.8 123.2h1.6M66.3 187.9h1.6M127.3 146.6h1.6M108.9 200.1h1.6M87.9 145.5h1.6M107.0 170.3h1.6M101.4 175.5h1.6M101.1 186.7h1.6M94.7 179.2h1.6M94.2 161.0h1.6M108.2 161.9h1.6M111.0 179.3h1.6M119.4 192.7h1.6M72.1 179.3h1.6M113.0 182.3h1.6M103.5 203.5h1.6M113.2 150.7h1.6M104.3 201.7h1.6M105.2 152.1h1.6M114.8 193.0h1.6M120.4 183.7h1.6M104.6 198.5h1.6M86.0 217.2h1.6M109.0 184.8h1.6M114.5 197.1h1.6M69.1 200.2h1.6M101.2 162.8h1.6M116.7 200.4h1.6M108.7 166.4h1.6M104.4 159.2h1.6M141.5 165.5h1.6M116.3 215.4h1.6M89.7 168.2h1.6M68.5 174.6h1.6M82.5 183.3h1.6M99.4 180.2h1.6M103.4 169.7h1.6M104.6 178.4h1.6M91.8 173.0h1.6M94.1 151.7h1.6M102.4 139.3h1.6M110.9 179.2h1.6M105.3 205.1h1.6M117.5 170.3h1.6M108.1 205.9h1.6M100.4 188.2h1.6M109.2 157.3h1.6M107.1 171.4h1.6M98.8 189.4h1.6M112.8 160.3h1.6M98.9 175.6h1.6M88.2 188.0h1.6M99.7 164.5h1.6M117.2 178.1h1.6M85.0 177.9h1.6M100.0 186.3h1.6M137.4 191.9h1.6M124.9 176.1h1.6M110.0 190.7h1.6M101.2 185.2h1.6M95.9 195.0h1.6M88.9 217.2h1.6M45.8 149.7h1.6M100.9 187.9h1.6M105.0 144.6h1.6M109.3 160.6h1.6M105.9 170.7h1.6M98.6 146.7h1.6M82.8 167.8h1.6M86.5 185.2h1.6M81.4 184.7h1.6M111.2 163.6h1.6M88.1 172.3h1.6M114.9 210.2h1.6M135.8 181.8h1.6M112.3 184.1h1.6M102.5 156.5h1.6M97.4 204.3h1.6M123.9 166.7h1.6M103.3 189.8h1.6M100.1 140.6h1.6M107.6 158.8h1.6M98.4 166.3h1.6M125.9 137.3h1.6M79.1 168.9h1.6M92.6 196.9h1.6M126.7 164.0h1.6M111.5 175.3h1.6M72.4 205.5h1.6M129.5 162.0h1.6M112.4 168.7h1.6M101.3 169.9h1.6M100.6 180.9h1.6M93.4 185.9h1.6M82.9 197.7h1.6M88.1 139.4h1.6M115.5 172.4h1.6M94.6 199.8h1.6M109.3 148.7h1.6M95.1 165.3h1.6M98.3 216.6h1.6M144.4 217.2h1.6M109.7 191.9h1.6M105.3 131.7h1.6M94.8 179.3h1.6M91.9 175.4h1.6M89.5 155.2h1.6M121.3 137.4h1.6M118.6 154.9h1.6M98.9 136.0h1.6M112.8 158.0h1.6M141.0 159.6h1.6M106.6 194.3h1.6M87.9 161.8h1.6M86.4 192.1h1.6M107.3 202.1h1.6M80.7 159.6h1.6M101.0 170.1h1.6M107.6 204.5h1.6M104.8 162.5h1.6M102.1 164.2h1.6M113.2 217.2h1.6M99.5 178.4h1.6M83.4 185.1h1.6M113.9 195.0h1.6M85.0 182.3h1.6M116.9 169.7h1.6M113.6 168.9h1.6M102.7 167.2h1.6M80.1 161.7h1.6M105.4 173.7h1.6M102.7 167.3h1.6M116.3 176.0h1.6M108.8 169.5h1.6M122.8 177.7h1.6M109.4 145.8h1.6M92.6 187.0h1.6M82.6 147.7h1.6M101.0 145.5h1.6M119.5 189.4h1.6M98.0 206.3h1.6M92.4 154.0h1.6M116.7 180.3h1.6M99.3 202.5h1.6M100.7 194.0h1.6M106.2 205.2h1.6M111.3 169.6h1.6M125.9 172.1h1.6M129.4 152.2h1.6M103.7 131.1h1.6M110.8 209.2h1.6M96.8 190.2h1.6M99.4 211.3h1.6M108.0 187.7h1.6M119.7 146.7h1.6M113.5 182.8h1.6M122.7 180.6h1.6M112.1 178.7h1.6M87.8 168.9h1.6M100.1 150.9h1.6M102.2 169.6h1.6M130.8 174.6h1.6M104.8 182.0h1.6M113.5 144.8h1.6M76.1 214.5h1.6M90.1 160.5h1.6M120.8 186.5h1.6M90.6 196.2h1.6M85.5 215.4h1.6M98.1 187.3h1.6M88.2 177.8h1.6M135.7 135.5h1.6M95.4 186.0h1.6M99.6 189.7h1.6M120.7 155.2h1.6M92.9 208.7h1.6M132.8 121.7h1.6M111.2 201.6h1.6M92.6 161.0h1.6M85.6 175.6h1.6M85.4 195.4h1.6M92.4 191.3h1.6M78.9 199.3h1.6M113.2 200.6h1.6M117.8 181.0h1.6M127.6 172.2h1.6M105.3 215.7h1.6M95.9 179.9h1.6M106.8 184.0h1.6M99.4 202.0h1.6M136.0 171.6h1.6M80.4 169.8h1.6M81.8 152.3h1.6M87.1 203.1h1.6M105.3 195.5h1.6M101.3 202.3h1.6M96.8 208.4h1.6M116.5 184.8h1.6M80.5 156.0h1.6M107.0 157.3h1.6M100.4 176.5h1.6M124.1 165.1h1.6M105.0 169.9h1.6M91.4 189.6h1.6M117.8 148.9h1.6M105.4 191.3h1.6M87.1 171.2h1.6M107.7 178.1h1.6M124.1 160.8h1.6M99.2 191.5h1.6M101.9 174.7h1.6M101.2 188.8h1.6M114.4 157.1h1.6M89.2 155.4h1.6M109.7 139.6h1.6M140.6 168.1h1.6M103.0 190.8h1.6M100.1 174.4h1.6M134.5 137.2h1.6M107.0 163.9h1.6M97.8 178.7h1.6M74.9 193.5h1.6M106.1 192.2h1.6M93.9 196.2h1.6M95.9 196.8h1.6M123.7 193.6h1.6M81.0 181.6h1.6M106.1 152.3h1.6M79.7 208.8h1.6M87.7 189.0h1.6M98.0 176.9h1.6M96.3 180.2h1.6M127.7 161.0h1.6M111.0 190.5h1.6M92.8 156.3h1.6M89.4 192.6h1.6M105.5 202.3h1.6M108.6 182.6h1.6M103.3 185.1h1.6M103.8 194.6h1.6M89.9 203.3h1.6M127.9 178.1h1.6M111.7 154.5h1.6M104.6 149.0h1.6M118.3 181.1h1.6M119.6 204.5h1.6M91.8 197.7h1.6M101.5 191.9h1.6M93.3 193.9h1.6M112.3 211.5h1.6M100.8 181.4h1.6M110.7 176.5h1.6M134.8 132.1h1.6M76.9 169.2h1.6M113.7 180.5h1.6M109.5 147.3h1.6M112.2 191.9h1.6M128.2 197.9h1.6M93.6 164.2h1.6M85.7 169.6h1.6M101.6 207.2h1.6M128.4 181.7h1.6M112.3 176.5h1.6M83.3 191.6h1.6M91.9 145.3h1.6M90.3 212.3h1.6" stroke="#1a1a1a" stroke-width="1.6" opacity="0.42" fill="none"/>
<path d="M170.7 80.1h1.7M161.6 68.8h1.7M187.9 53.0h1.7M167.8 66.7h1.7M209.6 54.4h1.7M187.5 63.7h1.7M205.1 63.6h1.7M174.5 54.0h1.7M167.9 67.3h1.7M177.7 62.1h1.7M183.3 86.4h1.7M177.7 77.5h1.7M166.2 58.9h1.7M160.3 58.4h1.7M154.5 63.9h1.7M181.4 67.8h1.7M157.6 76.2h1.7M180.4 60.8h1.7M152.2 79.2h1.7M196.8 65.6h1.7M183.0 73.0h1.7M179.4 51.4h1.7M193.9 65.1h1.7M185.5 58.1h1.7M181.2 67.7h1.7M156.6 75.2h1.7M160.9 64.3h1.7M190.3 69.6h1.7M178.1 51.9h1.7M141.6 77.9h1.7M168.7 59.7h1.7M206.6 71.6h1.7M178.1 47.4h1.7M195.4 54.8h1.7M176.9 64.7h1.7M165.7 69.8h1.7M192.3 68.1h1.7M209.3 40.6h1.7M184.5 50.4h1.7M188.7 69.4h1.7M190.5 52.9h1.7M212.5 55.5h1.7M200.7 52.2h1.7M201.4 49.4h1.7M195.3 54.3h1.7M175.7 46.3h1.7M199.1 58.3h1.7M173.1 64.9h1.7M193.7 61.5h1.7M157.4 87.6h1.7M174.7 84.0h1.7M199.8 53.3h1.7M186.4 61.1h1.7M182.3 76.3h1.7M169.9 60.0h1.7M172.1 47.6h1.7M192.7 42.3h1.7M208.7 57.9h1.7M209.9 40.7h1.7M175.8 58.1h1.7M190.3 46.5h1.7M167.7 41.7h1.7M183.7 61.6h1.7M208.5 38.7h1.7M199.0 58.3h1.7M190.8 44.0h1.7M127.9 80.1h1.7M197.4 54.8h1.7M212.8 69.1h1.7M170.0 61.3h1.7M198.2 34.4h1.7M145.6 80.0h1.7M193.4 71.2h1.7M193.0 54.5h1.7M166.0 47.6h1.7M187.5 50.9h1.7M177.7 65.6h1.7M151.0 73.6h1.7M181.1 82.2h1.7M185.1 70.9h1.7M160.6 52.8h1.7M194.1 50.7h1.7M166.4 79.1h1.7M182.6 41.0h1.7M187.0 79.5h1.7M178.2 47.1h1.7M175.3 78.4h1.7M207.9 55.6h1.7M162.8 78.1h1.7M167.6 61.3h1.7M179.1 73.2h1.7M192.3 61.6h1.7M173.3 58.5h1.7M196.0 46.9h1.7M180.2 67.0h1.7M183.6 70.2h1.7M193.4 61.8h1.7M215.1 38.7h1.7M208.6 33.5h1.7M159.7 43.0h1.7M168.6 57.5h1.7M198.3 66.4h1.7M215.3 38.7h1.7M197.7 50.7h1.7M136.4 35.3h1.7M168.5 44.9h1.7M191.5 45.3h1.7M189.3 49.3h1.7M185.5 47.9h1.7M196.0 73.7h1.7M182.1 44.9h1.7M170.8 66.8h1.7M189.3 43.0h1.7M161.4 51.7h1.7M210.3 50.1h1.7M185.3 53.7h1.7M214.0 51.6h1.7M185.8 71.8h1.7M190.0 53.2h1.7M176.6 62.6h1.7M197.3 37.2h1.7M159.7 78.0h1.7M204.5 65.7h1.7M184.6 42.1h1.7M195.4 55.7h1.7M159.9 52.5h1.7M158.9 71.6h1.7M163.9 72.4h1.7M182.5 67.0h1.7M191.6 45.4h1.7M179.6 69.4h1.7M176.7 73.9h1.7M195.1 64.0h1.7M176.4 71.4h1.7M179.8 63.5h1.7M189.4 50.3h1.7M171.3 38.4h1.7M174.2 70.6h1.7M156.5 48.2h1.7M159.0 67.4h1.7M194.7 60.1h1.7M162.2 73.8h1.7M168.1 78.7h1.7M185.4 51.3h1.7M174.7 62.6h1.7M178.3 74.8h1.7M184.3 52.6h1.7M183.1 44.1h1.7M183.1 55.8h1.7M173.2 63.5h1.7M179.3 44.9h1.7M200.4 84.6h1.7M191.6 48.8h1.7M194.7 72.7h1.7M172.9 82.8h1.7M184.9 79.9h1.7M174.1 75.4h1.7M178.9 75.5h1.7M197.1 56.8h1.7M174.0 75.5h1.7M183.1 47.3h1.7M189.8 54.5h1.7M176.1 51.7h1.7M189.0 66.4h1.7M172.9 73.3h1.7M155.2 73.7h1.7M182.0 49.2h1.7M178.8 46.7h1.7M211.9 50.5h1.7M194.4 43.7h1.7M147.9 74.9h1.7M201.5 49.1h1.7M201.2 55.5h1.7M191.6 67.4h1.7M171.5 60.3h1.7M200.5 56.5h1.7M169.4 53.7h1.7M190.3 19.7h1.7M195.1 52.2h1.7M164.5 72.7h1.7M199.0 77.7h1.7M175.6 34.7h1.7M171.6 73.4h1.7M174.6 62.8h1.7M187.0 73.8h1.7M186.3 56.2h1.7M176.9 73.7h1.7M173.6 68.6h1.7M191.5 64.0h1.7M194.9 57.1h1.7M214.6 53.6h1.7M167.1 56.7h1.7M177.5 77.0h1.7M172.7 82.0h1.7M185.8 51.6h1.7M167.0 65.9h1.7M192.9 54.1h1.7M193.4 56.6h1.7M199.9 46.2h1.7M175.3 50.4h1.7M173.1 52.9h1.7M159.0 68.2h1.7M182.4 34.6h1.7M157.4 55.7h1.7M189.9 62.6h1.7M186.0 56.0h1.7M171.7 66.9h1.7M168.4 63.7h1.7M186.8 54.9h1.7M190.2 31.7h1.7M163.2 80.0h1.7M171.8 59.5h1.7M173.8 63.1h1.7M181.4 64.3h1.7M203.5 70.8h1.7M150.7 73.3h1.7M170.1 67.9h1.7M167.7 67.4h1.7M185.9 57.7h1.7M188.3 64.4h1.7M166.5 66.7h1.7M201.3 61.4h1.7M192.7 45.6h1.7M176.7 73.5h1.7M183.4 62.6h1.7M180.9 70.7h1.7M180.3 49.6h1.7M185.9 54.2h1.7M180.7 66.9h1.7M181.7 53.7h1.7M163.2 63.7h1.7M175.0 49.9h1.7M183.1 85.6h1.7M173.1 64.8h1.7M162.8 65.3h1.7M186.3 59.8h1.7M157.7 71.7h1.7M172.6 76.6h1.7M187.4 75.2h1.7M182.3 46.8h1.7M193.7 49.1h1.7M180.9 61.6h1.7M168.3 79.5h1.7M179.8 49.4h1.7M164.2 73.5h1.7M201.4 55.5h1.7M184.8 54.0h1.7M200.3 57.6h1.7M167.8 59.7h1.7M155.7 85.2h1.7M191.6 64.0h1.7M188.1 81.1h1.7M163.8 59.1h1.7M209.4 57.5h1.7M192.5 53.9h1.7M182.0 61.6h1.7M185.7 51.5h1.7M204.6 69.0h1.7M170.3 54.8h1.7M194.4 81.8h1.7M173.9 78.9h1.7M169.1 57.6h1.7M197.0 51.1h1.7M184.5 66.8h1.7M199.5 54.5h1.7M201.7 43.3h1.7M177.4 69.8h1.7M184.1 39.7h1.7M180.5 68.4h1.7M187.5 77.6h1.7M160.0 72.6h1.7M163.0 51.1h1.7M178.4 61.0h1.7M173.3 57.1h1.7M190.0 44.7h1.7M167.1 51.4h1.7M192.7 38.7h1.7M203.1 40.0h1.7M188.3 75.3h1.7M172.3 79.3h1.7M161.2 64.6h1.7M191.6 59.4h1.7M188.2 60.7h1.7M198.0 34.7h1.7M175.8 72.7h1.7M157.8 63.7h1.7M189.8 57.4h1.7M175.9 53.1h1.7M165.2 57.0h1.7M164.2 69.9h1.7M184.2 48.6h1.7M178.4 47.0h1.7M186.1 54.6h1.7M181.9 62.4h1.7M201.9 53.2h1.7M173.3 66.0h1.7M190.1 62.3h1.7M193.9 45.5h1.7M167.4 73.9h1.7M167.6 71.9h1.7M157.3 62.5h1.7M186.6 54.9h1.7M193.3 57.6h1.7M189.3 63.0h1.7M164.2 81.2h1.7M157.7 61.7h1.7M147.0 76.5h1.7M186.4 54.0h1.7M155.4 48.3h1.7M185.3 45.8h1.7M177.8 64.8h1.7M182.9 64.3h1.7M209.3 55.4h1.7M167.2 66.6h1.7M175.1 53.8h1.7M190.0 52.2h1.7M188.3 64.4h1.7M210.1 40.3h1.7M201.9 75.0h1.7M206.7 52.1h1.7M172.1 66.6h1.7M171.2 60.6h1.7M155.7 69.3h1.7M157.1 82.9h1.7M188.0 52.9h1.7M183.2 61.0h1.7M179.7 64.6h1.7M181.5 65.5h1.7M170.6 66.3h1.7M203.3 41.3h1.7M174.4 74.3h1.7M187.5 59.4h1.7M183.1 55.2h1.7M176.6 68.5h1.7M187.5 64.9h1.7M198.3 77.6h1.7M189.5 72.5h1.7M194.1 79.8h1.7M193.4 46.6h1.7M203.0 44.2h1.7M193.8 46.4h1.7M188.2 59.2h1.7M194.0 30.7h1.7M158.2 82.4h1.7M191.1 50.4h1.7M176.2 43.6h1.7M173.9 56.8h1.7M196.3 56.5h1.7M184.9 72.0h1.7M176.0 71.7h1.7M180.8 66.1h1.7M183.9 75.2h1.7M184.5 81.8h1.7M190.4 47.2h1.7M181.5 75.6h1.7M198.7 39.1h1.7" stroke="#1a1a1a" stroke-width="1.7" opacity="0.48" fill="none"/>
<path d="M152.2 101.8h1.6M194.6 66.9h1.6M147.0 109.8h1.6M141.9 92.9h1.6M143.3 99.3h1.6M141.9 104.2h1.6M147.7 89.0h1.6M149.1 78.4h1.6M161.0 92.9h1.6M144.8 83.0h1.6M137.2 109.6h1.6M158.7 98.0h1.6M116.5 124.8h1.6M159.3 74.8h1.6M119.6 116.4h1.6M138.8 102.7h1.6M171.0 82.2h1.6M113.8 136.2h1.6M152.3 104.6h1.6M153.1 110.3h1.6M145.4 94.5h1.6M128.1 125.9h1.6M132.7 90.3h1.6M169.2 95.8h1.6M109.1 137.6h1.6M168.1 101.8h1.6M164.5 75.5h1.6M158.6 98.1h1.6M125.9 133.9h1.6M159.9 98.2h1.6M133.5 120.2h1.6M142.9 98.9h1.6M148.3 102.1h1.6M116.7 124.6h1.6M143.1 83.2h1.6M193.0 91.0h1.6M158.4 89.5h1.6M119.3 109.2h1.6M127.3 126.1h1.6M130.0 115.6h1.6M142.4 113.6h1.6M175.3 86.3h1.6M164.5 97.2h1.6M173.1 67.0h1.6M146.9 91.6h1.6M145.2 98.1h1.6M152.0 103.4h1.6M105.6 103.1h1.6M157.0 103.4h1.6M146.7 116.9h1.6M189.1 64.7h1.6M144.6 107.4h1.6M151.5 77.7h1.6M143.2 78.1h1.6M126.5 119.1h1.6M144.6 87.1h1.6M154.0 108.6h1.6M117.5 130.7h1.6M162.0 70.7h1.6M171.0 84.4h1.6M139.8 105.5h1.6M145.1 101.3h1.6M137.4 98.6h1.6M172.9 97.7h1.6M150.2 113.4h1.6M123.4 103.9h1.6M159.2 91.9h1.6M148.7 86.5h1.6M144.0 113.9h1.6M177.6 76.7h1.6M137.5 75.9h1.6M140.9 119.9h1.6M177.2 64.1h1.6M100.2 144.6h1.6M118.3 118.4h1.6M131.9 107.5h1.6M131.0 120.5h1.6M143.6 86.5h1.6M127.6 140.3h1.6M157.7 92.9h1.6M125.9 142.7h1.6M126.5 118.0h1.6M147.6 90.1h1.6M145.3 95.3h1.6M98.1 123.8h1.6M130.5 106.8h1.6M163.5 105.2h1.6M153.7 119.6h1.6M137.9 108.3h1.6M131.3 92.4h1.6M142.9 100.3h1.6M134.0 119.1h1.6M151.3 92.0h1.6M130.5 116.8h1.6M125.1 107.5h1.6M141.5 115.2h1.6M139.0 104.1h1.6M142.5 110.2h1.6M147.2 109.1h1.6M147.4 109.1h1.6M135.3 100.3h1.6M152.0 92.7h1.6M145.1 118.1h1.6M131.3 103.3h1.6M147.3 116.2h1.6M126.7 130.3h1.6M152.7 89.8h1.6M134.6 101.2h1.6M101.3 126.7h1.6M109.2 112.0h1.6M140.3 112.1h1.6M125.4 113.6h1.6M129.3 111.8h1.6M159.8 103.2h1.6M158.7 94.0h1.6M175.5 84.1h1.6M157.6 97.3h1.6M154.5 80.8h1.6M128.7 115.9h1.6M109.6 127.5h1.6M140.5 108.7h1.6M165.7 99.3h1.6M101.3 140.4h1.6M159.8 105.9h1.6M135.5 114.1h1.6M136.5 97.1h1.6M155.1 104.1h1.6M138.6 107.6h1.6M164.5 82.6h1.6M140.5 108.4h1.6M155.6 97.1h1.6M170.8 84.8h1.6M112.5 109.1h1.6M152.8 114.6h1.6M142.9 97.7h1.6M153.0 100.7h1.6M160.8 72.6h1.6M160.3 90.5h1.6M166.6 95.9h1.6M107.9 143.3h1.6M149.5 88.0h1.6M148.5 110.8h1.6M121.3 131.5h1.6M170.0 101.1h1.6M125.0 110.5h1.6M162.0 83.6h1.6M137.0 76.7h1.6M179.0 50.4h1.6M116.3 131.2h1.6M149.3 87.9h1.6M105.9 140.5h1.6M143.5 91.4h1.6M143.6 95.4h1.6M129.3 122.7h1.6M144.8 101.8h1.6M116.9 116.3h1.6M135.7 101.7h1.6M151.2 96.3h1.6M139.3 103.9h1.6M158.2 102.2h1.6M129.6 125.4h1.6M166.2 92.8h1.6M135.2 111.9h1.6M176.6 58.7h1.6M158.8 86.4h1.6M176.8 76.1h1.6M156.9 83.7h1.6M144.5 120.8h1.6M117.3 118.1h1.6M132.3 96.8h1.6M149.1 83.0h1.6M143.9 99.2h1.6M103.6 137.7h1.6M115.3 126.4h1.6M97.1 134.9h1.6M161.6 90.5h1.6M175.3 95.1h1.6M157.2 88.5h1.6M145.9 107.9h1.6M114.7 114.0h1.6M154.5 114.0h1.6M124.7 121.1h1.6M135.2 117.9h1.6M150.9 95.8h1.6M160.1 85.3h1.6M125.2 142.9h1.6M144.1 105.5h1.6M154.5 83.4h1.6M131.1 103.7h1.6M157.7 95.2h1.6M140.5 89.3h1.6M120.3 104.5h1.6M114.1 118.1h1.6M152.9 100.4h1.6M114.0 134.7h1.6M160.6 107.1h1.6M151.8 77.4h1.6M155.0 95.5h1.6M146.2 91.2h1.6M172.2 79.4h1.6M122.7 98.1h1.6M131.4 96.0h1.6M126.1 136.5h1.6M148.9 109.5h1.6M169.8 89.1h1.6M129.3 100.1h1.6M142.0 105.1h1.6M139.8 101.8h1.6M138.5 89.2h1.6M157.5 76.4h1.6M141.5 93.4h1.6M166.8 76.0h1.6M124.6 113.7h1.6M153.8 78.8h1.6M116.5 118.6h1.6M141.3 68.7h1.6M175.4 102.8h1.6M146.6 111.0h1.6M130.9 90.4h1.6M139.8 112.8h1.6M121.4 117.3h1.6M134.1 114.9h1.6M192.1 62.5h1.6M129.5 134.1h1.6M136.3 103.3h1.6M158.4 99.0h1.6M150.6 100.5h1.6M140.6 90.1h1.6M164.5 95.2h1.6M119.0 101.6h1.6M134.0 112.5h1.6M172.7 80.5h1.6M78.4 149.3h1.6M147.0 102.2h1.6M113.2 123.3h1.6M151.2 104.2h1.6M169.8 100.2h1.6M128.7 109.4h1.6M138.7 112.2h1.6M183.8 70.7h1.6" stroke="#1a1a1a" stroke-width="1.6" opacity="0.42" fill="none"/>
</g>
<rect x="0" y="0" width="219.6" height="219.2" fill="none" stroke="#555" stroke-width="2.3"/>
<path d="M121.8 0V219.2M0 88.0H219.6" stroke="#555" stroke-width="2" fill="none"/>
<path d="M-5.5 14.8H0M-5.5 43.8H0M-5.5 78.6H0M-5.5 113.6H0M-5.5 149.4H0M-5.5 184.3H0M-5.5 215H0M-2.5 22H0M-2.5 27H0M-2.5 31H0M-2.5 35H0M-2.5 39H0M-2.5 52H0M-2.5 58H0M-2.5 64H0M-2.5 69H0M-2.5 74H0M-2.5 87H0M-2.5 93H0M-2.5 99H0M-2.5 104H0M-2.5 109H0M-2.5 122H0M-2.5 128H0M-2.5 134H0M-2.5 139H0M-2.5 144H0M-2.5 157H0M-2.5 163H0M-2.5 169H0M-2.5 174H0M-2.5 179H0M-2.5 192H0M-2.5 198H0M-2.5 203H0M-2.5 208H0M-2.5 211H0M10 219.2V224.7M37.5 219.2V224.7M76.7 219.2V224.7M115 219.2V224.7M155 219.2V224.7M192.5 219.2V224.7M18 219.2V221.7M24 219.2V221.7M29 219.2V221.7M33 219.2V221.7M49 219.2V221.7M57 219.2V221.7M63 219.2V221.7M68 219.2V221.7M72 219.2V221.7M88 219.2V221.7M96 219.2V221.7M102 219.2V221.7M107 219.2V221.7M111 219.2V221.7M127 219.2V221.7M135 219.2V221.7M141 219.2V221.7M146 219.2V221.7M150 219.2V221.7M166 219.2V221.7M173 219.2V221.7M179 219.2V221.7M184 219.2V221.7M188 219.2V221.7M200 219.2V221.7M206 219.2V221.7M211 219.2V221.7M215 219.2V221.7" stroke="#444" stroke-width="1.6" fill="none"/>
<path d="M-5.5 219.2H219.6M0 0V224.7" stroke="#555" stroke-width="1.8" fill="none"/>
<g font-size="10" font-weight="normal" fill="#222" stroke="#222" stroke-width="0.55"><text x="-27.5" y="19.3">10<tspan dy="-4.5" font-size="7.5">7</tspan></text><text x="-27.5" y="48.3">10<tspan dy="-4.5" font-size="7.5">6</tspan></text><text x="-27.5" y="83.1">10<tspan dy="-4.5" font-size="7.5">5</tspan></text><text x="-27.5" y="118.1">10<tspan dy="-4.5" font-size="7.5">4</tspan></text><text x="-27.5" y="153.9">10<tspan dy="-4.5" font-size="7.5">3</tspan></text><text x="-27.5" y="188.8">10<tspan dy="-4.5" font-size="7.5">2</tspan></text><text x="-27.5" y="219.5">10<tspan dy="-4.5" font-size="7.5">1</tspan></text><text x="3" y="240.2">10<tspan dy="-4.5" font-size="7.5">2</tspan></text><text x="30.5" y="240.2">10<tspan dy="-4.5" font-size="7.5">3</tspan></text><text x="69.7" y="240.2">10<tspan dy="-4.5" font-size="7.5">4</tspan></text><text x="108" y="240.2">10<tspan dy="-4.5" font-size="7.5">5</tspan></text><text x="148" y="240.2">10<tspan dy="-4.5" font-size="7.5">6</tspan></text><text x="185.5" y="240.2">10<tspan dy="-4.5" font-size="7.5">7</tspan></text><text x="3.8" y="12.3">Q1</text><text x="3.8" y="28">0.016%</text><text x="184.6" y="12.3">Q2</text><text x="184.6" y="28">4.71%</text><text x="4" y="201.6">Q4</text><text x="4" y="214.6">62.6%</text><text x="184.6" y="201.6">Q3</text><text x="184.6" y="214.6">32.7%</text></g>
</g>
<text x="2031.7" y="327.0" font-size="27" text-anchor="middle" textLength="93.0" lengthAdjust="spacingAndGlyphs">TRAF5</text>
<g transform="translate(1372.0 355.7)" filter="url(#bq)">
<rect x="2" y="2" width="50" height="32" fill="#fbfbfb"/>
<rect x="167.6" y="2" width="50" height="32" fill="#fbfbfb"/>
<rect x="2" y="185.2" width="50" height="32" fill="#fbfbfb"/>
<rect x="167.6" y="185.2" width="50" height="32" fill="#fbfbfb"/>
<ellipse cx="99.5" cy="136" rx="23" ry="9.5" transform="rotate(-42.6 99.5 136)" fill="#111" opacity="0.72" filter="url(#b2)"/>
<g filter="url(#bp)">
<path d="M96.5 130.5h1.7M94.4 158.9h1.7M105.3 145.4h1.7M105.6 126.3h1.7M97.5 129.7h1.7M105.3 130.0h1.7M113.8 135.9h1.7M97.0 147.0h1.7M101.4 129.9h1.7M108.3 140.9h1.7M105.8 140.6h1.7M109.2 140.3h1.7M96.3 136.5h1.7M94.8 118.5h1.7M101.4 150.2h1.7M100.5 154.1h1.7M114.1 118.5h1.7M93.2 146.4h1.7M117.6 137.4h1.7M112.2 118.2h1.7M106.1 125.7h1.7M113.1 128.8h1.7M114.3 122.3h1.7M102.0 122.0h1.7M91.5 149.1h1.7M104.8 140.6h1.7M120.9 110.9h1.7M81.5 142.8h1.7M98.5 149.2h1.7M102.0 131.5h1.7M105.8 129.3h1.7M102.1 134.2h1.7M88.9 154.5h1.7M112.3 147.0h1.7M97.5 132.6h1.7M97.7 131.2h1.7M97.2 135.2h1.7M98.5 128.6h1.7M96.2 135.6h1.7M88.6 146.0h1.7M110.5 133.8h1.7M102.2 133.1h1.7M108.3 125.9h1.7M98.1 120.8h1.7M83.0 144.7h1.7M110.3 124.1h1.7M99.0 126.3h1.7M97.1 166.6h1.7M125.9 129.9h1.7M96.3 133.1h1.7M101.0 132.8h1.7M82.2 128.0h1.7M91.0 122.6h1.7M86.4 133.5h1.7M114.6 110.0h1.7M97.1 142.6h1.7M97.3 141.1h1.7M106.3 124.0h1.7M104.4 130.8h1.7M86.7 151.2h1.7M93.0 152.8h1.7M100.4 137.5h1.7M106.1 122.2h1.7M98.0 152.2h1.7M109.4 131.8h1.7M78.1 156.5h1.7M86.3 142.7h1.7M73.7 144.0h1.7M96.7 143.0h1.7M93.1 140.6h1.7M107.0 143.0h1.7M93.9 143.0h1.7M129.2 108.9h1.7M102.5 121.9h1.7M85.8 144.7h1.7M129.8 102.5h1.7M112.4 119.7h1.7M76.6 138.9h1.7M106.5 140.6h1.7M88.9 142.3h1.7M83.8 143.7h1.7M108.0 123.3h1.7M91.1 150.3h1.7M102.2 133.6h1.7M123.5 117.4h1.7M106.1 118.1h1.7M105.1 144.0h1.7M112.3 133.8h1.7M82.0 149.8h1.7M125.2 127.4h1.7M56.3 157.4h1.7M118.6 126.9h1.7M100.3 107.8h1.7M104.5 139.8h1.7M108.3 118.7h1.7M115.2 129.9h1.7M101.7 150.2h1.7M118.1 128.2h1.7M95.9 142.6h1.7M107.6 145.6h1.7M122.6 106.7h1.7M124.1 118.3h1.7M88.5 139.4h1.7M118.3 122.3h1.7M91.3 142.1h1.7M94.7 139.6h1.7M116.4 114.1h1.7M81.0 123.2h1.7M109.9 136.2h1.7M119.6 111.8h1.7M94.3 137.2h1.7M85.7 149.1h1.7M89.8 143.1h1.7M105.1 138.8h1.7M112.2 148.7h1.7M106.0 135.7h1.7M105.0 130.4h1.7M111.3 127.1h1.7M81.9 147.3h1.7M108.3 112.3h1.7M120.0 118.7h1.7M108.8 140.3h1.7M99.9 131.3h1.7M72.0 155.5h1.7M89.9 152.2h1.7M96.1 130.1h1.7M117.3 128.8h1.7M126.1 114.6h1.7M86.3 149.6h1.7M112.6 133.1h1.7M87.1 152.5h1.7M109.2 131.4h1.7M79.0 150.6h1.7M97.2 136.2h1.7M108.1 124.6h1.7M68.3 143.9h1.7M101.1 126.9h1.7M104.7 142.6h1.7M93.6 141.4h1.7M77.3 144.7h1.7M112.1 136.3h1.7M91.3 142.0h1.7M101.2 130.4h1.7M98.5 133.3h1.7M103.9 127.1h1.7M87.5 133.8h1.7M83.5 136.2h1.7M103.0 143.0h1.7M80.8 145.0h1.7M93.2 146.6h1.7M94.6 137.6h1.7M87.5 144.6h1.7M91.7 135.5h1.7M118.0 124.0h1.7M99.3 139.4h1.7M128.6 115.5h1.7M93.4 141.5h1.7M114.9 126.6h1.7M97.0 139.5h1.7M85.3 146.0h1.7M93.8 139.1h1.7M115.2 122.1h1.7M112.7 124.0h1.7M88.6 158.3h1.7M92.9 141.1h1.7M119.0 132.1h1.7M107.6 141.2h1.7M97.2 144.7h1.7M94.1 150.8h1.7M96.4 145.4h1.7M93.1 156.3h1.7M116.8 117.7h1.7M95.6 130.3h1.7M90.3 130.4h1.7M107.4 128.2h1.7M112.8 123.9h1.7M92.9 134.0h1.7M106.2 128.8h1.7M78.8 140.6h1.7M109.9 125.5h1.7M96.1 133.9h1.7M93.5 141.5h1.7M96.0 127.6h1.7M132.1 115.1h1.7M78.3 156.3h1.7M109.2 120.9h1.7M86.7 153.1h1.7M92.5 142.5h1.7M118.3 118.8h1.7M110.9 118.0h1.7M77.0 153.0h1.7M98.5 143.7h1.7M94.9 120.9h1.7M84.8 145.4h1.7M88.2 140.2h1.7M96.6 140.3h1.7M78.0 146.8h1.7M95.1 151.9h1.7M90.4 130.0h1.7M109.6 135.9h1.7M75.4 146.4h1.7M104.9 131.6h1.7M114.3 138.2h1.7M111.9 134.4h1.7M100.9 148.5h1.7M93.3 145.1h1.7M74.7 154.9h1.7M104.0 123.0h1.7M83.7 129.5h1.7M89.2 132.7h1.7M97.9 132.9h1.7M90.1 141.4h1.7M94.8 140.3h1.7M102.1 144.8h1.7M99.3 111.7h1.7M113.7 120.9h1.7M99.1 127.5h1.7M109.2 132.7h1.7M87.7 135.9h1.7M107.5 133.0h1.7M78.9 134.1h1.7M88.9 149.7h1.7M109.1 117.6h1.7M87.9 136.2h1.7M99.7 128.1h1.7M121.4 121.6h1.7M95.4 135.9h1.7M109.0 123.4h1.7M95.7 140.5h1.7M118.3 132.5h1.7M89.7 133.1h1.7M88.5 144.5h1.7M94.1 115.5h1.7M108.8 131.3h1.7M94.7 126.0h1.7M98.2 132.2h1.7M91.9 148.8h1.7M114.5 124.0h1.7M110.9 135.1h1.7M98.0 133.3h1.7M113.4 117.2h1.7M97.9 140.7h1.7M90.4 135.1h1.7M111.8 124.4h1.7M89.1 139.9h1.7M110.2 134.0h1.7M107.5 139.7h1.7M107.2 144.2h1.7M104.3 120.4h1.7M100.2 138.4h1.7M94.8 130.7h1.7M104.7 130.5h1.7M77.0 144.3h1.7M99.9 144.5h1.7M100.2 137.0h1.7M109.2 124.8h1.7M99.6 135.1h1.7M106.7 123.0h1.7M100.6 127.9h1.7M106.0 140.5h1.7M93.4 146.2h1.7M101.7 136.0h1.7M106.0 130.7h1.7M114.0 140.0h1.7M87.0 137.0h1.7M109.9 130.1h1.7M118.8 112.2h1.7M105.2 125.4h1.7M91.7 137.4h1.7M86.4 138.9h1.7M95.6 138.0h1.7M104.4 139.2h1.7M89.6 144.2h1.7M94.3 148.7h1.7M88.2 142.9h1.7M96.4 149.0h1.7M81.2 141.8h1.7M93.9 137.6h1.7M95.2 150.7h1.7M83.9 130.2h1.7M91.4 130.7h1.7M90.4 139.6h1.7M88.1 142.4h1.7M98.5 142.7h1.7M124.0 106.7h1.7M100.3 146.0h1.7M122.1 122.7h1.7M106.3 148.2h1.7M106.5 140.9h1.7M88.1 134.6h1.7M110.2 117.6h1.7M89.2 146.7h1.7M93.0 148.3h1.7M99.7 133.7h1.7M100.8 148.7h1.7M120.2 127.7h1.7M93.5 157.2h1.7M109.2 143.4h1.7M102.4 126.8h1.7M78.7 148.6h1.7M110.8 121.2h1.7M111.6 112.5h1.7M106.3 128.6h1.7M86.6 151.4h1.7M94.2 138.1h1.7M72.5 151.1h1.7M92.0 141.4h1.7M100.6 154.4h1.7M96.4 140.7h1.7M102.4 145.4h1.7M110.8 135.1h1.7M84.0 151.7h1.7M101.3 140.4h1.7M93.3 143.0h1.7M87.5 143.6h1.7M101.2 129.5h1.7M90.0 143.3h1.7M105.3 134.6h1.7M85.0 145.2h1.7M82.4 142.0h1.7M131.3 118.3h1.7M106.0 127.2h1.7M116.4 135.2h1.7M116.6 127.2h1.7M100.5 158.0h1.7M112.1 132.6h1.7M105.3 134.2h1.7M87.3 130.9h1.7M131.4 131.5h1.7M108.1 134.5h1.7M103.2 139.9h1.7M97.7 136.8h1.7M98.3 120.7h1.7M113.0 119.8h1.7M108.5 133.5h1.7M125.0 128.7h1.7M81.1 143.7h1.7M93.6 125.6h1.7M105.8 129.0h1.7M95.2 148.0h1.7M85.9 141.3h1.7M103.6 140.5h1.7M95.8 136.0h1.7M99.9 132.0h1.7M83.9 159.2h1.7M110.1 136.8h1.7M103.1 137.2h1.7M74.9 145.5h1.7M84.3 161.3h1.7M98.3 149.9h1.7M102.0 129.3h1.7M94.6 132.9h1.7M96.2 142.2h1.7M104.4 126.7h1.7M87.7 157.7h1.7M90.8 150.8h1.7M78.5 146.5h1.7M80.9 159.4h1.7M119.0 147.9h1.7M120.3 118.1h1.7M76.0 155.4h1.7M103.8 135.5h1.7M96.1 129.4h1.7M105.0 149.1h1.7M91.5 139.6h1.7M83.3 144.9h1.7M114.0 126.1h1.7M91.9 139.4h1.7M105.3 125.1h1.7M89.0 142.6h1.7M76.8 167.8h1.7M94.0 148.3h1.7M103.9 141.7h1.7M105.2 154.4h1.7M104.1 129.7h1.7M92.6 122.4h1.7M77.0 137.0h1.7M106.6 150.3h1.7M95.8 125.3h1.7M84.1 153.8h1.7M105.0 128.9h1.7M116.1 123.0h1.7M125.2 120.4h1.7M109.0 101.8h1.7M111.1 132.8h1.7M118.2 124.5h1.7M105.0 134.0h1.7M104.0 137.2h1.7M108.9 111.8h1.7M87.3 133.2h1.7M94.0 143.7h1.7M103.0 136.5h1.7M109.2 131.3h1.7M94.9 139.0h1.7M85.4 144.7h1.7M99.8 139.3h1.7M87.1 158.0h1.7M90.8 129.0h1.7M100.1 141.0h1.7M98.1 133.3h1.7M90.4 146.5h1.7M102.2 136.4h1.7M100.7 146.6h1.7M79.2 154.6h1.7M71.9 142.7h1.7M104.9 139.0h1.7M97.9 141.7h1.7M102.5 144.2h1.7M95.0 145.2h1.7M95.0 125.0h1.7M108.9 121.7h1.7M83.4 144.5h1.7M106.3 125.8h1.7M102.9 123.8h1.7M93.5 125.0h1.7M101.9 146.1h1.7M94.0 142.7h1.7M87.1 163.3h1.7M98.6 141.1h1.7M89.7 135.1h1.7M93.5 138.4h1.7M86.8 146.1h1.7M85.9 143.8h1.7M63.4 159.8h1.7M103.3 134.6h1.7M98.2 141.1h1.7M119.1 121.3h1.7M99.7 135.0h1.7M105.5 136.6h1.7M84.7 169.6h1.7M111.4 129.5h1.7M91.7 142.1h1.7M96.8 151.1h1.7M83.7 135.1h1.7M92.3 134.5h1.7M101.5 135.5h1.7M82.3 137.2h1.7M88.9 133.4h1.7M97.4 139.5h1.7M95.1 141.5h1.7M102.0 149.2h1.7M74.3 148.8h1.7M105.0 119.3h1.7M104.3 129.5h1.7M91.9 129.5h1.7M93.4 140.1h1.7M75.6 158.1h1.7M83.1 129.7h1.7M98.5 133.4h1.7M87.6 157.7h1.7M91.8 132.3h1.7M90.2 147.2h1.7M95.8 146.0h1.7M86.1 150.6h1.7M105.7 135.1h1.7M85.2 140.1h1.7M86.5 148.7h1.7M89.2 171.7h1.7M101.0 145.8h1.7M101.1 146.8h1.7M100.2 144.7h1.7M110.4 128.6h1.7M86.8 151.5h1.7M98.5 133.9h1.7M99.1 142.8h1.7M78.7 160.2h1.7M112.3 117.7h1.7M109.2 122.6h1.7M93.4 138.2h1.7M94.4 133.3h1.7M90.8 141.7h1.7M88.1 145.8h1.7M105.2 122.7h1.7M96.8 131.2h1.7M85.8 148.3h1.7M99.8 144.9h1.7M106.1 130.6h1.7M97.6 150.3h1.7M80.6 146.0h1.7M107.8 132.0h1.7M103.8 129.8h1.7M111.3 135.9h1.7M80.1 158.5h1.7M103.7 122.3h1.7M89.7 148.2h1.7M104.7 130.9h1.7M81.7 154.1h1.7M95.3 136.1h1.7M99.1 116.2h1.7M96.4 133.0h1.7M102.8 129.8h1.7M117.3 121.1h1.7M84.9 134.0h1.7M95.0 139.4h1.7M116.6 123.5h1.7M95.8 130.6h1.7M95.9 130.1h1.7M85.2 153.0h1.7M87.2 134.6h1.7M115.9 132.0h1.7M95.3 124.3h1.7M84.7 140.3h1.7M116.6 151.7h1.7M107.3 127.6h1.7M82.7 138.2h1.7M91.2 145.0h1.7M97.9 141.9h1.7M98.4 126.1h1.7M107.1 129.0h1.7M114.6 120.6h1.7M93.8 139.8h1.7M113.6 127.6h1.7M115.4 130.7h1.7M112.5 145.4h1.7M96.2 136.6h1.7M104.7 120.2h1.7M106.2 138.8h1.7M80.0 136.0h1.7M88.4 156.4h1.7M120.6 108.0h1.7M78.5 143.3h1.7M118.4 125.4h1.7M102.1 126.6h1.7M101.9 126.6h1.7M100.8 127.4h1.7M82.8 146.9h1.7M104.2 134.4h1.7M96.8 146.7h1.7M72.2 142.5h1.7M104.0 130.1h1.7M95.8 134.8h1.7M105.0 132.7h1.7M108.7 118.4h1.7M84.3 148.4h1.7M94.3 137.7h1.7M77.1 159.6h1.7M118.0 122.0h1.7M114.3 127.6h1.7M103.1 136.1h1.7M112.2 128.2h1.7M105.1 129.9h1.7M92.2 145.7h1.7M96.9 143.4h1.7M82.9 167.3h1.7M119.7 131.3h1.7M97.8 127.4h1.7M88.9 134.5h1.7M103.0 132.6h1.7M91.7 125.5h1.7M72.4 140.1h1.7M116.0 125.1h1.7M97.6 134.1h1.7M77.7 152.2h1.7M90.3 136.3h1.7M100.0 116.3h1.7M104.2 138.8h1.7M100.4 120.8h1.7M75.1 171.0h1.7M113.3 121.5h1.7M97.4 140.7h1.7M110.9 126.3h1.7M96.1 140.8h1.7M112.4 142.9h1.7M94.8 131.4h1.7M126.4 124.9h1.7M110.4 116.8h1.7M86.1 135.2h1.7M103.7 144.2h1.7M109.3 127.1h1.7M103.7 136.3h1.7M92.6 132.2h1.7M99.2 151.5h1.7M83.5 139.7h1.7M103.6 128.8h1.7M96.0 140.3h1.7M89.9 129.1h1.7M110.3 127.8h1.7M121.6 123.3h1.7M90.8 139.6h1.7M81.1 132.0h1.7M103.9 125.3h1.7M110.6 127.1h1.7M105.4 145.4h1.7M97.1 154.3h1.7M105.1 150.6h1.7M109.4 121.8h1.7M120.3 120.5h1.7M101.2 130.5h1.7M96.8 134.4h1.7M99.3 143.4h1.7M113.9 134.1h1.7M112.0 123.5h1.7M106.3 127.1h1.7M108.5 133.3h1.7M99.8 128.1h1.7M94.5 156.4h1.7M87.9 140.7h1.7M101.8 130.0h1.7M110.4 138.5h1.7M83.1 151.7h1.7M99.4 122.8h1.7M114.3 136.0h1.7M102.1 137.9h1.7M100.8 143.8h1.7M93.9 141.0h1.7M88.8 138.9h1.7M111.7 124.0h1.7M101.8 118.8h1.7M82.3 143.1h1.7M125.6 122.7h1.7M121.7 111.3h1.7M107.8 131.6h1.7M99.5 141.4h1.7M101.5 138.5h1.7M75.3 148.3h1.7M96.5 154.3h1.7M104.6 122.1h1.7M102.3 127.9h1.7M83.0 142.4h1.7M132.3 106.5h1.7M104.3 143.0h1.7M97.4 127.4h1.7M133.2 125.5h1.7M104.2 123.5h1.7M99.4 137.0h1.7M99.8 160.2h1.7M97.1 132.9h1.7M95.1 136.8h1.7M72.8 161.7h1.7M113.3 125.2h1.7M104.0 131.0h1.7M83.3 156.2h1.7M102.2 123.7h1.7M84.6 144.1h1.7M73.6 136.4h1.7M92.4 136.8h1.7M106.4 140.6h1.7M82.5 137.0h1.7M101.5 140.3h1.7M119.6 126.2h1.7M101.2 134.7h1.7M84.0 156.5h1.7M107.7 127.6h1.7M98.2 140.9h1.7M106.7 134.0h1.7M97.0 123.9h1.7M85.8 133.0h1.7M120.1 140.9h1.7M90.3 143.0h1.7M99.0 129.7h1.7M118.9 119.9h1.7M133.5 125.8h1.7M101.3 127.1h1.7M112.6 121.3h1.7M89.8 142.8h1.7M108.0 120.5h1.7M101.1 142.5h1.7M100.6 143.1h1.7M110.5 121.1h1.7M81.2 141.6h1.7M115.8 125.9h1.7M98.5 133.1h1.7M108.8 122.8h1.7M130.5 110.3h1.7M87.0 157.2h1.7M102.2 133.2h1.7M103.0 143.7h1.7M101.4 148.6h1.7M95.4 148.0h1.7M87.6 155.7h1.7M87.8 144.4h1.7M104.0 124.4h1.7M105.2 130.5h1.7M117.8 127.3h1.7M101.2 132.4h1.7M96.2 151.9h1.7M91.0 131.9h1.7M82.0 134.4h1.7M87.8 142.3h1.7M106.3 138.0h1.7M99.9 118.5h1.7M96.9 143.7h1.7M102.9 132.4h1.7M94.0 147.3h1.7M97.2 135.5h1.7M97.0 135.9h1.7M107.6 138.4h1.7M97.1 132.0h1.7M97.3 136.3h1.7M108.1 134.8h1.7M121.2 124.0h1.7M77.0 148.6h1.7M86.9 150.0h1.7M126.8 114.8h1.7M99.5 148.5h1.7M102.2 125.6h1.7M95.6 152.9h1.7M97.8 117.9h1.7M93.7 146.3h1.7M84.5 149.4h1.7M81.9 136.3h1.7M91.1 138.5h1.7M94.3 124.6h1.7M100.3 131.6h1.7M87.4 158.0h1.7M96.2 142.6h1.7M118.0 122.5h1.7M110.3 127.7h1.7M93.7 142.8h1.7M84.2 154.2h1.7M110.1 129.9h1.7M86.2 136.7h1.7M89.7 142.0h1.7M92.4 160.0h1.7M90.9 144.8h1.7M94.5 141.4h1.7M70.9 152.5h1.7M98.6 136.2h1.7M100.9 129.4h1.7M109.0 128.9h1.7M98.6 136.7h1.7M110.5 125.3h1.7M116.6 121.1h1.7M101.7 133.7h1.7M104.4 135.4h1.7M95.9 146.3h1.7M129.6 113.0h1.7M96.6 130.9h1.7M86.9 139.7h1.7M98.7 130.0h1.7M114.6 117.9h1.7M85.1 140.5h1.7M97.3 136.4h1.7M105.9 123.2h1.7M107.1 137.5h1.7M87.9 130.3h1.7M106.3 138.9h1.7M103.4 132.2h1.7M85.3 163.7h1.7M91.5 132.1h1.7M96.1 140.3h1.7M95.3 131.2h1.7M131.0 118.2h1.7M112.9 129.3h1.7M89.2 134.3h1.7M90.0 154.3h1.7M107.4 143.5h1.7M80.4 165.5h1.7M101.6 128.7h1.7M105.6 123.9h1.7M98.4 141.6h1.7M102.0 136.0h1.7M106.1 139.2h1.7M80.4 134.6h1.7M77.8 133.3h1.7M117.2 113.3h1.7M100.1 138.2h1.7M88.2 141.5h1.7M101.8 133.6h1.7M106.7 126.8h1.7M84.9 135.6h1.7M81.7 154.5h1.7M100.5 131.0h1.7M99.8 110.4h1.7M100.5 123.7h1.7M94.2 138.4h1.7M89.4 142.3h1.7M113.1 145.4h1.7M102.3 139.8h1.7M103.6 123.1h1.7M102.3 129.3h1.7M106.0 124.3h1.7M106.6 120.9h1.7M97.7 145.2h1.7M114.1 130.3h1.7M125.5 121.2h1.7M103.2 140.9h1.7M93.6 148.6h1.7M102.6 131.4h1.7M95.9 148.8h1.7M76.2 155.5h1.7M81.9 148.7h1.7M90.3 136.5h1.7M93.6 143.8h1.7M128.6 125.1h1.7M94.9 136.0h1.7M101.8 125.8h1.7M87.1 156.1h1.7M101.5 148.0h1.7M95.9 125.5h1.7M104.4 135.7h1.7M93.3 128.7h1.7M91.0 160.7h1.7M63.8 159.6h1.7M116.1 137.1h1.7M105.9 129.5h1.7M108.4 138.1h1.7M99.0 147.9h1.7M102.6 134.7h1.7M105.2 133.3h1.7M96.0 153.3h1.7M92.4 139.8h1.7M65.5 151.7h1.7M104.7 130.0h1.7M96.1 135.3h1.7M102.7 126.7h1.7M75.2 142.9h1.7M91.6 145.9h1.7M117.3 124.5h1.7M85.3 136.4h1.7M110.3 130.4h1.7M101.2 139.9h1.7M107.8 132.8h1.7M106.4 115.0h1.7M89.3 140.1h1.7M97.2 156.1h1.7M104.8 134.7h1.7M106.6 127.0h1.7M107.2 126.7h1.7M109.8 131.4h1.7M106.2 115.4h1.7M85.3 141.6h1.7M91.7 146.4h1.7M107.9 124.7h1.7M114.8 129.8h1.7M95.6 145.4h1.7M112.5 119.3h1.7M77.5 161.1h1.7M105.0 136.4h1.7M104.4 130.7h1.7M95.1 132.2h1.7M127.6 124.3h1.7M93.5 133.2h1.7M111.2 139.9h1.7M95.7 131.5h1.7M110.6 127.9h1.7M89.3 143.0h1.7M95.7 128.9h1.7M108.1 139.7h1.7M116.4 131.8h1.7M106.9 128.1h1.7M111.6 136.1h1.7M102.0 138.3h1.7M92.4 142.4h1.7M88.9 135.6h1.7M113.8 143.3h1.7M78.4 150.7h1.7M97.9 130.4h1.7M104.9 138.7h1.7M80.9 151.9h1.7M108.3 133.1h1.7M120.1 118.8h1.7M110.2 120.8h1.7M86.9 142.4h1.7M98.6 145.0h1.7M107.6 128.6h1.7M90.2 145.8h1.7M93.0 138.4h1.7M87.6 161.4h1.7M119.5 145.3h1.7M128.8 109.4h1.7M121.6 111.7h1.7M129.5 107.8h1.7M79.2 154.5h1.7M116.1 136.7h1.7M118.2 135.2h1.7M94.3 126.5h1.7M97.0 130.0h1.7M98.6 116.8h1.7M83.2 140.0h1.7M105.4 140.2h1.7M90.0 132.5h1.7M93.1 140.4h1.7M112.6 125.0h1.7M101.2 107.7h1.7M129.2 129.4h1.7M106.4 155.1h1.7M86.8 156.4h1.7M82.3 146.0h1.7M105.9 132.1h1.7M101.7 132.1h1.7M71.5 146.4h1.7M85.4 139.5h1.7M86.3 132.0h1.7M100.4 139.7h1.7M100.2 147.9h1.7M106.0 138.7h1.7M90.6 146.1h1.7M74.9 140.7h1.7M78.2 151.7h1.7M112.0 144.5h1.7M101.1 131.0h1.7M111.4 126.0h1.7M100.1 136.6h1.7M117.6 134.4h1.7M84.2 150.9h1.7M94.3 140.9h1.7M124.3 110.9h1.7M76.4 165.3h1.7M89.8 136.1h1.7M133.2 123.9h1.7M111.8 127.0h1.7M98.3 150.9h1.7M97.8 139.7h1.7M98.2 138.6h1.7M71.8 149.9h1.7M75.0 137.8h1.7M84.2 145.3h1.7M96.9 137.5h1.7M99.5 145.8h1.7M74.0 154.3h1.7M92.6 134.0h1.7M114.0 121.5h1.7M114.1 127.7h1.7M101.0 143.9h1.7M77.5 144.6h1.7M83.6 127.8h1.7M93.7 139.4h1.7M75.2 148.4h1.7M96.1 161.5h1.7M116.0 126.4h1.7M108.0 140.7h1.7M106.3 141.3h1.7M119.1 138.0h1.7M108.4 122.4h1.7M111.4 135.6h1.7M117.1 140.6h1.7M100.6 130.9h1.7M114.5 132.9h1.7M101.7 138.8h1.7M102.1 136.0h1.7M101.5 130.3h1.7M109.2 130.4h1.7M119.9 120.0h1.7M94.9 128.6h1.7M123.2 111.9h1.7M92.5 139.8h1.7M99.0 135.4h1.7M115.8 116.3h1.7M94.7 136.0h1.7M98.4 121.4h1.7M108.7 124.0h1.7M90.6 158.0h1.7M88.1 153.0h1.7M96.4 132.4h1.7M77.7 149.2h1.7M107.4 127.9h1.7M97.6 146.8h1.7M100.1 136.0h1.7M83.3 137.7h1.7M95.6 142.2h1.7M96.2 141.8h1.7M95.4 137.3h1.7M100.5 138.2h1.7M74.6 158.6h1.7M95.0 135.7h1.7M115.5 132.0h1.7M115.4 128.0h1.7M104.9 132.0h1.7M104.5 124.9h1.7M99.3 138.9h1.7M91.8 131.1h1.7M96.3 134.7h1.7M95.1 145.6h1.7M111.5 125.5h1.7M85.8 146.7h1.7M92.2 132.5h1.7M93.2 142.9h1.7M94.8 144.2h1.7M87.9 152.6h1.7M92.1 143.7h1.7M97.0 133.1h1.7M102.4 116.3h1.7M104.4 137.2h1.7M96.2 138.1h1.7M86.3 147.3h1.7M98.2 131.2h1.7M97.6 133.9h1.7M87.5 145.9h1.7M94.6 148.4h1.7M97.0 151.1h1.7M98.8 136.0h1.7M93.0 145.6h1.7M80.5 138.5h1.7M94.1 121.0h1.7M109.2 121.7h1.7M117.6 121.1h1.7M110.4 111.8h1.7M95.4 141.8h1.7M93.2 142.0h1.7M100.4 140.9h1.7M104.8 110.4h1.7M100.6 123.7h1.7M110.3 111.8h1.7M92.2 147.1h1.7M100.3 141.2h1.7M99.6 128.2h1.7M86.3 158.5h1.7M96.1 137.6h1.7M94.4 137.8h1.7M91.2 143.6h1.7M96.0 127.1h1.7M84.1 154.9h1.7M106.2 124.3h1.7M94.9 135.1h1.7M103.2 131.5h1.7M89.3 137.7h1.7M105.7 133.3h1.7M96.1 142.4h1.7M62.5 165.4h1.7M91.5 123.9h1.7M93.6 143.1h1.7M114.9 125.0h1.7M89.4 153.1h1.7M99.8 143.0h1.7M75.9 142.0h1.7M84.0 155.3h1.7M113.4 125.0h1.7M100.5 133.6h1.7M96.5 128.7h1.7M116.5 127.3h1.7M109.4 125.6h1.7M113.0 132.2h1.7M132.1 115.6h1.7M87.0 139.6h1.7M111.1 129.5h1.7M105.5 130.5h1.7M90.7 145.0h1.7M84.1 152.3h1.7M127.9 116.2h1.7M85.5 140.3h1.7M129.0 114.4h1.7M96.0 144.1h1.7M90.5 133.9h1.7M103.0 137.0h1.7M107.8 116.2h1.7M114.5 119.5h1.7M81.4 161.4h1.7M112.7 128.3h1.7M104.2 122.8h1.7M97.3 122.3h1.7M103.4 155.4h1.7M119.5 120.8h1.7M105.1 131.2h1.7M107.1 130.4h1.7M87.0 143.7h1.7M73.6 151.3h1.7M99.0 139.5h1.7M116.7 104.6h1.7M120.8 111.9h1.7M93.9 139.9h1.7M118.8 107.8h1.7M97.4 142.5h1.7M111.7 128.0h1.7M105.0 139.6h1.7M95.4 153.9h1.7M95.4 142.9h1.7M85.9 142.3h1.7M113.0 128.4h1.7M100.8 141.8h1.7M124.2 90.1h1.7M76.9 158.1h1.7M84.6 158.7h1.7M89.8 144.4h1.7M99.3 154.9h1.7M108.6 111.5h1.7M105.2 127.4h1.7M117.3 122.3h1.7M88.8 141.4h1.7M107.6 143.9h1.7M97.8 132.2h1.7M98.6 144.2h1.7M103.8 147.9h1.7M109.9 127.4h1.7M98.9 133.1h1.7M77.9 166.3h1.7M115.4 119.1h1.7M96.1 126.1h1.7M97.8 138.8h1.7M98.6 136.9h1.7M113.8 129.1h1.7M105.5 124.7h1.7M93.5 141.2h1.7M74.5 145.2h1.7M103.0 132.4h1.7M105.7 141.0h1.7M76.9 160.1h1.7M90.5 131.7h1.7M113.3 136.0h1.7M82.7 151.4h1.7M110.4 126.0h1.7M98.7 145.4h1.7M79.7 153.5h1.7M91.6 142.2h1.7M85.8 149.8h1.7M115.3 125.2h1.7M82.3 146.7h1.7M83.8 136.3h1.7M109.9 130.7h1.7M104.1 145.1h1.7M104.7 125.4h1.7M99.1 134.7h1.7M105.3 142.6h1.7M109.1 117.8h1.7M114.1 107.4h1.7M107.5 150.9h1.7M112.5 134.6h1.7M103.2 137.0h1.7M98.7 150.1h1.7M94.6 135.3h1.7M92.6 162.4h1.7M77.7 146.2h1.7M105.0 130.9h1.7M121.8 121.0h1.7M99.5 128.4h1.7M98.9 123.0h1.7M97.2 150.7h1.7M97.1 127.2h1.7M91.5 141.8h1.7M103.8 133.6h1.7M94.8 112.4h1.7M98.9 118.9h1.7M94.8 141.2h1.7M108.4 121.8h1.7M80.5 145.5h1.7M113.4 145.3h1.7M83.0 146.1h1.7M96.6 148.9h1.7M105.0 129.2h1.7M110.2 140.6h1.7M91.0 133.1h1.7M94.0 129.4h1.7M106.0 137.9h1.7M99.6 144.3h1.7M121.6 132.6h1.7M98.1 142.5h1.7M112.4 131.5h1.7M112.5 128.4h1.7M111.6 133.2h1.7M107.7 133.7h1.7M102.4 132.5h1.7M78.6 154.4h1.7M97.4 132.7h1.7M100.3 146.8h1.7M86.1 127.2h1.7M93.0 140.7h1.7M114.9 124.5h1.7M102.9 127.7h1.7M85.8 133.7h1.7M106.8 129.4h1.7M91.8 143.5h1.7M116.4 129.0h1.7M113.9 133.4h1.7M102.3 133.3h1.7M101.8 138.3h1.7M81.7 154.9h1.7M95.9 131.0h1.7M98.6 147.5h1.7M94.7 139.4h1.7M111.9 115.6h1.7M97.2 134.2h1.7M92.9 140.3h1.7M104.5 128.8h1.7M113.6 129.8h1.7M87.8 147.2h1.7M91.6 131.2h1.7M84.2 159.3h1.7M108.5 138.9h1.7M120.7 123.5h1.7M109.6 138.4h1.7M96.3 135.2h1.7M113.6 129.0h1.7M91.9 139.1h1.7M95.0 159.4h1.7M93.1 137.2h1.7M90.5 139.4h1.7M101.1 134.8h1.7M96.9 115.2h1.7M108.8 142.8h1.7M97.4 132.4h1.7M119.5 112.7h1.7M108.3 130.0h1.7M93.3 132.3h1.7M102.3 135.2h1.7M112.9 109.5h1.7M84.8 154.5h1.7M69.7 137.1h1.7M101.1 145.0h1.7M72.2 147.1h1.7M112.1 116.2h1.7M88.8 144.1h1.7M116.6 118.4h1.7M107.5 127.0h1.7M88.7 148.2h1.7M84.0 159.6h1.7M82.1 153.1h1.7M75.0 157.4h1.7M100.6 128.0h1.7M121.2 115.9h1.7M97.6 124.0h1.7M94.9 142.2h1.7M110.5 131.1h1.7M77.0 142.8h1.7M92.1 153.0h1.7M74.1 147.7h1.7M100.5 134.4h1.7M94.8 132.4h1.7M102.7 131.8h1.7M98.3 139.0h1.7M95.9 137.3h1.7M115.2 127.9h1.7M100.9 135.8h1.7M108.4 115.2h1.7M78.0 155.8h1.7M75.3 148.2h1.7M102.8 134.6h1.7M92.0 135.7h1.7M79.7 147.4h1.7M90.0 144.2h1.7M108.3 124.9h1.7M88.7 149.6h1.7M114.3 125.1h1.7M92.5 138.6h1.7M90.9 134.0h1.7M108.1 125.0h1.7M126.3 122.2h1.7M105.7 153.8h1.7M90.4 136.9h1.7M79.6 154.1h1.7M102.0 130.1h1.7M100.2 139.4h1.7M90.3 143.7h1.7M103.3 146.2h1.7M106.3 128.6h1.7M87.2 145.7h1.7M88.8 142.3h1.7M106.9 136.4h1.7M107.9 122.7h1.7M101.2 133.9h1.7M118.7 138.3h1.7M114.7 130.1h1.7M104.4 136.0h1.7M78.8 157.9h1.7M97.5 137.3h1.7M121.7 144.2h1.7M96.8 127.2h1.7M98.9 144.0h1.7M108.0 129.7h1.7M101.8 126.4h1.7M106.6 110.4h1.7M92.1 135.7h1.7M95.3 141.7h1.7M105.1 139.6h1.7M122.8 119.1h1.7M89.2 145.5h1.7M87.2 139.9h1.7M99.2 144.8h1.7M92.1 145.7h1.7M95.1 147.9h1.7M105.6 117.1h1.7M103.6 124.1h1.7M102.7 132.1h1.7M103.0 121.1h1.7M122.0 118.3h1.7M98.1 148.8h1.7M116.8 124.7h1.7M90.2 137.1h1.7M96.9 153.0h1.7M100.0 135.2h1.7M101.0 145.7h1.7M99.4 143.8h1.7M76.2 150.2h1.7M98.8 127.8h1.7M111.3 106.3h1.7M106.2 134.7h1.7M104.1 131.1h1.7M114.4 154.6h1.7M99.6 130.1h1.7M78.1 172.6h1.7M107.4 145.1h1.7M104.3 141.6h1.7M111.9 119.3h1.7M79.4 165.2h1.7M113.9 109.0h1.7M93.5 140.7h1.7M99.4 141.6h1.7M100.9 140.1h1.7M83.3 136.4h1.7M120.8 118.8h1.7M98.6 126.2h1.7M104.3 131.1h1.7M105.4 131.6h1.7M117.4 132.3h1.7M93.9 137.7h1.7M100.9 121.4h1.7M90.0 141.3h1.7M85.1 166.8h1.7M95.6 137.6h1.7M88.9 150.6h1.7M89.0 134.7h1.7" stroke="#1a1a1a" stroke-width="1.7" opacity="0.58" fill="none"/>
<path d="M108.7 165.0h1.6M47.9 171.1h1.6M139.4 110.5h1.6M82.7 182.8h1.6M100.4 158.0h1.6M133.8 131.3h1.6M112.0 171.1h1.6M37.4 155.1h1.6M74.7 142.4h1.6M64.4 122.9h1.6M51.5 184.1h1.6M84.9 157.2h1.6M76.0 153.8h1.6M63.8 198.0h1.6M100.3 111.6h1.6M77.8 160.4h1.6M74.8 153.9h1.6M74.3 117.4h1.6M109.4 143.1h1.6M59.6 160.7h1.6M81.2 145.5h1.6M73.1 124.7h1.6M91.4 153.1h1.6M100.0 148.4h1.6M72.9 159.0h1.6M111.2 133.8h1.6M92.2 145.4h1.6M87.7 120.6h1.6M92.4 161.4h1.6M68.4 170.6h1.6M70.4 149.0h1.6M49.2 152.4h1.6M102.4 107.9h1.6M77.0 125.6h1.6M143.8 126.3h1.6M55.3 143.8h1.6M82.1 157.4h1.6M141.7 143.1h1.6M63.3 167.1h1.6M102.9 122.8h1.6M82.5 169.2h1.6M51.2 170.5h1.6M81.5 144.9h1.6M71.5 123.6h1.6M102.7 128.2h1.6M154.1 146.2h1.6M92.2 184.0h1.6M114.5 113.6h1.6M90.6 169.9h1.6M64.3 154.4h1.6M9.1 167.0h1.6M49.7 156.0h1.6M69.9 163.4h1.6M89.1 138.5h1.6M53.6 173.2h1.6M101.1 137.5h1.6M116.7 119.5h1.6M109.9 138.7h1.6M134.5 151.1h1.6M39.7 139.7h1.6M115.1 136.4h1.6M90.7 136.0h1.6M78.1 177.7h1.6M93.0 132.6h1.6M89.9 151.6h1.6M47.0 159.4h1.6M100.2 142.1h1.6M53.9 174.5h1.6M142.2 125.6h1.6M48.3 162.1h1.6M63.1 146.3h1.6M59.7 152.5h1.6M72.3 131.1h1.6M112.4 138.2h1.6M143.2 129.5h1.6M115.1 140.5h1.6M73.4 133.9h1.6M103.9 138.9h1.6M73.3 164.4h1.6M88.4 133.3h1.6M118.3 118.0h1.6M99.1 161.8h1.6M70.0 151.7h1.6M94.6 136.0h1.6M63.0 139.4h1.6M88.4 138.8h1.6M116.4 149.9h1.6M92.7 159.8h1.6M83.1 182.9h1.6M70.9 155.0h1.6M72.2 146.7h1.6M106.3 135.5h1.6M70.8 173.5h1.6M92.4 156.0h1.6M87.3 138.0h1.6M37.8 172.2h1.6M74.9 180.0h1.6M94.2 173.3h1.6M155.0 128.9h1.6M138.0 96.8h1.6M64.0 140.7h1.6M40.5 150.4h1.6M101.4 122.4h1.6M83.2 161.8h1.6M90.1 177.4h1.6M122.9 139.9h1.6M133.3 129.6h1.6M101.1 161.4h1.6M100.2 111.8h1.6M123.6 145.7h1.6M48.0 213.8h1.6M103.3 166.3h1.6M58.6 169.8h1.6M61.1 146.8h1.6M80.0 122.7h1.6M92.1 158.7h1.6M57.4 144.0h1.6M108.9 152.8h1.6M104.5 125.9h1.6M88.7 174.7h1.6M111.5 139.2h1.6M90.7 142.2h1.6M108.2 148.9h1.6M90.0 151.5h1.6M50.1 168.1h1.6M128.5 126.4h1.6M47.7 163.1h1.6M101.9 168.0h1.6M140.0 114.0h1.6M83.8 152.6h1.6M70.6 185.0h1.6M62.9 177.8h1.6M65.4 140.3h1.6M110.0 167.6h1.6M57.9 170.5h1.6M78.8 174.9h1.6M37.7 152.8h1.6M64.9 135.4h1.6M97.5 111.1h1.6M83.4 140.1h1.6M106.4 125.0h1.6M97.0 176.1h1.6M114.2 156.6h1.6M126.7 133.3h1.6M78.9 118.9h1.6M39.2 169.5h1.6M103.9 160.1h1.6M64.0 155.7h1.6M128.6 99.3h1.6M80.7 149.7h1.6M82.5 181.2h1.6M43.6 169.2h1.6M37.7 164.5h1.6M107.2 94.6h1.6M44.3 174.9h1.6M88.7 132.0h1.6M95.6 138.6h1.6M77.4 155.9h1.6M106.5 111.9h1.6M110.6 139.0h1.6M74.4 141.0h1.6M102.2 154.8h1.6M69.5 173.9h1.6M94.8 160.0h1.6M91.3 141.3h1.6M97.6 154.5h1.6M49.9 171.4h1.6M27.1 189.6h1.6M74.5 156.3h1.6M119.9 146.3h1.6M130.9 139.6h1.6M73.7 140.1h1.6M145.2 97.8h1.6M81.2 160.3h1.6M67.1 163.5h1.6M86.7 137.3h1.6M60.5 165.1h1.6M88.1 127.2h1.6M90.7 147.8h1.6M67.8 168.5h1.6M60.2 183.2h1.6M77.8 174.5h1.6M89.4 147.6h1.6M59.5 180.5h1.6M78.9 198.3h1.6M99.1 144.5h1.6M93.3 158.0h1.6M101.5 147.0h1.6M106.9 132.4h1.6M113.2 100.8h1.6M50.1 182.8h1.6M71.9 126.6h1.6M49.4 156.9h1.6M124.2 137.9h1.6M32.3 154.8h1.6M78.5 128.2h1.6M65.5 149.5h1.6M92.9 156.1h1.6M63.8 151.8h1.6M108.0 167.9h1.6M93.4 136.6h1.6M108.7 131.7h1.6M57.8 179.6h1.6M117.4 106.2h1.6M94.4 118.4h1.6M83.1 148.0h1.6M76.5 152.2h1.6M98.8 130.3h1.6M77.8 147.5h1.6M87.3 134.6h1.6M108.9 140.4h1.6M59.7 138.9h1.6M88.9 167.4h1.6M102.5 138.4h1.6M151.6 139.2h1.6M112.2 160.5h1.6M76.7 147.0h1.6M74.8 117.1h1.6M82.5 140.5h1.6M125.6 135.3h1.6M121.5 117.1h1.6M125.0 127.2h1.6M103.4 145.9h1.6M62.8 181.6h1.6M80.8 164.8h1.6M76.2 134.6h1.6M81.2 157.4h1.6M94.4 177.8h1.6M117.8 130.5h1.6M90.5 175.1h1.6M98.0 164.7h1.6M33.8 140.4h1.6M114.1 149.6h1.6M80.8 148.3h1.6M102.8 148.6h1.6M84.7 149.7h1.6M102.2 160.3h1.6M80.7 99.0h1.6M92.6 138.1h1.6M120.2 141.8h1.6M72.3 155.2h1.6M26.5 183.1h1.6M59.9 167.2h1.6M79.6 177.6h1.6M115.7 122.6h1.6M76.0 181.2h1.6M49.2 164.3h1.6M79.0 157.8h1.6M79.3 133.9h1.6M111.9 139.9h1.6M109.1 166.2h1.6M136.2 122.3h1.6M73.6 150.6h1.6M73.6 134.2h1.6M63.9 151.7h1.6M106.4 150.8h1.6M9.5 163.4h1.6M60.9 142.1h1.6M69.5 122.8h1.6M82.3 154.8h1.6M92.3 135.6h1.6M103.9 152.6h1.6M67.9 138.2h1.6M76.1 160.6h1.6M77.8 118.9h1.6M33.7 148.1h1.6M135.8 125.9h1.6M79.9 127.9h1.6M51.5 211.4h1.6M79.2 102.2h1.6M130.5 128.4h1.6M87.5 152.7h1.6M90.7 104.7h1.6M81.6 124.9h1.6M74.0 151.5h1.6M68.7 143.9h1.6M86.9 139.5h1.6M99.9 155.0h1.6M62.8 158.8h1.6M72.1 173.7h1.6M114.1 151.7h1.6M114.2 133.2h1.6M54.1 152.7h1.6M118.0 130.9h1.6M101.2 127.0h1.6M98.2 180.0h1.6M96.5 109.3h1.6M70.0 161.1h1.6M121.7 145.8h1.6M119.1 152.7h1.6M111.7 149.6h1.6M53.0 144.2h1.6M85.0 174.8h1.6M110.5 110.9h1.6M79.9 153.7h1.6M103.9 143.9h1.6M126.2 128.5h1.6M78.5 147.9h1.6M111.4 127.2h1.6M95.8 133.7h1.6M37.1 135.1h1.6M71.5 141.0h1.6M103.3 129.8h1.6M69.4 173.5h1.6M94.7 185.4h1.6M75.5 156.4h1.6M80.7 182.8h1.6M91.4 140.2h1.6M64.7 119.1h1.6M118.0 128.4h1.6M107.9 117.5h1.6M116.7 115.7h1.6M105.6 177.2h1.6M73.8 156.4h1.6M83.2 152.3h1.6M88.6 143.5h1.6M93.2 134.8h1.6M126.1 137.2h1.6M52.6 158.3h1.6M86.7 167.2h1.6M47.5 195.0h1.6M31.0 169.9h1.6M61.4 156.6h1.6M114.6 149.3h1.6M81.6 146.8h1.6M72.3 180.8h1.6M98.8 195.6h1.6M40.5 163.1h1.6M120.4 164.1h1.6M82.3 159.5h1.6M72.6 161.1h1.6M38.7 191.0h1.6M76.6 162.9h1.6M74.0 136.0h1.6M37.9 158.1h1.6M91.7 159.5h1.6M123.4 144.7h1.6M147.3 130.3h1.6M138.9 131.5h1.6M78.5 117.8h1.6M109.4 130.8h1.6M64.2 134.7h1.6M118.0 128.1h1.6M68.1 143.4h1.6M88.0 156.1h1.6M102.4 140.3h1.6M92.2 145.7h1.6M86.1 171.7h1.6M77.4 141.9h1.6M121.0 107.2h1.6M75.8 157.1h1.6M81.0 149.7h1.6M119.7 147.8h1.6M69.6 196.8h1.6M46.9 151.7h1.6M94.1 122.6h1.6M63.4 179.4h1.6M102.4 145.8h1.6M131.2 141.2h1.6M70.2 148.6h1.6M92.9 135.4h1.6M100.8 156.9h1.6M79.9 123.4h1.6M127.2 121.2h1.6M80.0 118.6h1.6M73.4 129.9h1.6M121.9 116.1h1.6M50.1 168.2h1.6M63.3 163.7h1.6M46.6 137.8h1.6M78.5 146.8h1.6M72.1 170.8h1.6M106.6 133.5h1.6M87.3 154.8h1.6M111.0 136.3h1.6M63.6 175.3h1.6M152.1 120.0h1.6M89.2 134.9h1.6M52.1 179.9h1.6M104.8 145.6h1.6M101.8 164.5h1.6M66.2 122.3h1.6M84.1 152.9h1.6M111.0 144.2h1.6M108.0 143.9h1.6M83.0 126.4h1.6M87.3 168.1h1.6M103.2 83.4h1.6M78.4 144.1h1.6M89.8 105.9h1.6M73.6 159.8h1.6M49.9 135.6h1.6M130.9 115.1h1.6M93.3 156.2h1.6M127.6 107.8h1.6M79.1 145.7h1.6M118.7 146.9h1.6M122.1 116.8h1.6M49.6 158.1h1.6M41.0 183.4h1.6M37.9 186.9h1.6M63.3 171.1h1.6M122.4 123.1h1.6M82.9 151.0h1.6M73.2 163.2h1.6M81.0 154.6h1.6M70.2 168.9h1.6M86.5 130.3h1.6M71.4 128.9h1.6M39.9 154.4h1.6M92.5 136.1h1.6M87.2 153.0h1.6M77.1 150.1h1.6M91.4 189.0h1.6M70.7 170.2h1.6M96.2 178.7h1.6M56.0 165.0h1.6M91.3 135.0h1.6M142.1 118.4h1.6M80.8 117.4h1.6M85.4 124.1h1.6M103.3 144.9h1.6M77.5 142.1h1.6M59.4 151.8h1.6M117.6 112.1h1.6M81.8 159.2h1.6M47.5 163.7h1.6M116.8 134.0h1.6M106.5 150.0h1.6M63.3 114.3h1.6M110.1 144.6h1.6M23.7 182.8h1.6M111.0 108.9h1.6M122.9 154.6h1.6M80.3 146.1h1.6M66.0 173.7h1.6M96.9 152.7h1.6M84.6 149.9h1.6M80.3 173.6h1.6M93.5 168.9h1.6M101.6 123.4h1.6M66.8 181.2h1.6M92.5 136.8h1.6M93.6 102.3h1.6M97.0 134.1h1.6M99.0 128.3h1.6M79.9 165.8h1.6M82.0 121.4h1.6M105.5 150.3h1.6M35.3 160.4h1.6M47.9 152.0h1.6M85.5 187.0h1.6M51.6 150.4h1.6M91.3 171.7h1.6M84.1 168.7h1.6M108.0 126.0h1.6M104.8 156.6h1.6M106.2 168.4h1.6M110.0 165.4h1.6M62.5 167.6h1.6M12.0 165.5h1.6M67.9 151.3h1.6M84.7 159.5h1.6M33.3 146.3h1.6M107.5 140.9h1.6M117.2 145.6h1.6M88.9 135.8h1.6M89.7 126.8h1.6M49.4 164.2h1.6M133.2 99.0h1.6M117.8 124.6h1.6M124.6 113.9h1.6M49.8 157.6h1.6M85.7 159.7h1.6M69.2 162.8h1.6M145.4 111.5h1.6M126.3 176.4h1.6M66.3 160.2h1.6M79.5 157.7h1.6M62.5 156.6h1.6M104.0 137.0h1.6M47.1 195.6h1.6M112.5 170.6h1.6M67.5 166.9h1.6M69.6 174.3h1.6M82.8 176.3h1.6M68.2 114.9h1.6M62.8 176.2h1.6M113.6 151.4h1.6M94.0 133.7h1.6M89.2 147.2h1.6M95.0 163.0h1.6M59.0 158.7h1.6M117.5 125.7h1.6M94.5 131.9h1.6M98.7 166.5h1.6M126.3 123.7h1.6M83.0 180.4h1.6M35.7 175.7h1.6M125.2 171.6h1.6M110.7 129.9h1.6M83.3 148.7h1.6M57.6 157.5h1.6M77.9 118.6h1.6M37.8 117.8h1.6M110.1 135.3h1.6M29.8 152.9h1.6M82.5 183.6h1.6M87.3 124.5h1.6M57.5 132.5h1.6M45.2 138.4h1.6M137.3 130.2h1.6M122.3 134.6h1.6M75.3 174.7h1.6M90.9 130.4h1.6M43.1 174.0h1.6M51.7 163.5h1.6M16.6 153.9h1.6M114.6 141.2h1.6M86.3 142.3h1.6M81.3 131.3h1.6M119.4 159.4h1.6M55.6 135.3h1.6M69.7 122.9h1.6M134.5 115.5h1.6M97.5 144.4h1.6M65.4 145.5h1.6M76.0 194.8h1.6M97.0 163.1h1.6M120.6 120.2h1.6M68.4 150.7h1.6M85.4 127.9h1.6M107.2 129.5h1.6M72.1 170.9h1.6M113.3 112.5h1.6M78.8 148.8h1.6M105.8 151.6h1.6M73.5 136.6h1.6M77.8 170.9h1.6M133.9 121.6h1.6M87.4 198.8h1.6M107.7 119.2h1.6M44.3 154.9h1.6M172.3 119.6h1.6M52.5 152.8h1.6M63.7 135.1h1.6M90.0 122.8h1.6M84.4 160.8h1.6M87.8 166.9h1.6M82.5 174.1h1.6M62.6 150.2h1.6M50.7 176.7h1.6M102.7 137.5h1.6M127.7 134.9h1.6M78.7 118.2h1.6M83.8 156.4h1.6M68.1 189.2h1.6M107.3 165.3h1.6M70.0 194.8h1.6M121.6 128.4h1.6M91.2 178.0h1.6M57.9 160.8h1.6M113.2 129.0h1.6M53.5 144.1h1.6M84.2 175.0h1.6M146.3 89.7h1.6M59.6 177.1h1.6M76.6 144.8h1.6M93.7 170.6h1.6M97.9 124.6h1.6M86.7 121.8h1.6M95.0 99.8h1.6M82.4 168.8h1.6M133.9 128.4h1.6M32.5 177.0h1.6M115.0 142.9h1.6M89.7 133.6h1.6M31.0 172.1h1.6M82.8 135.8h1.6M66.6 167.8h1.6M78.2 156.3h1.6M105.9 120.3h1.6M100.0 115.4h1.6M111.5 140.2h1.6M104.7 151.1h1.6M74.4 118.8h1.6M130.5 124.4h1.6M91.0 145.7h1.6M93.0 138.5h1.6M39.5 152.2h1.6M136.6 128.9h1.6M72.5 189.7h1.6M82.0 127.0h1.6M58.9 150.8h1.6M121.6 141.1h1.6M76.4 148.7h1.6M67.9 161.3h1.6M66.7 178.2h1.6M91.5 164.0h1.6M128.4 127.5h1.6M79.1 88.2h1.6M63.5 166.9h1.6M72.7 178.5h1.6M75.0 150.8h1.6M37.1 192.4h1.6M84.3 175.9h1.6M97.9 139.1h1.6M105.2 130.1h1.6M63.6 160.7h1.6M89.4 168.3h1.6M57.3 143.2h1.6M128.5 139.8h1.6M77.0 155.9h1.6M59.1 199.3h1.6M51.0 124.3h1.6M86.7 157.9h1.6M104.5 141.2h1.6M90.0 141.7h1.6M81.0 145.9h1.6M150.2 109.1h1.6M69.6 114.8h1.6M89.6 157.3h1.6M88.9 113.3h1.6M98.5 173.2h1.6M78.5 148.3h1.6M99.9 137.1h1.6M65.5 147.0h1.6M42.5 178.7h1.6M105.7 148.1h1.6M69.8 166.6h1.6M42.9 140.4h1.6M89.8 118.7h1.6M46.3 165.7h1.6M91.4 176.8h1.6M131.7 163.1h1.6M74.6 120.4h1.6M54.8 173.0h1.6M54.1 176.8h1.6M118.0 140.2h1.6M52.2 192.3h1.6M139.6 135.9h1.6M138.9 97.7h1.6M90.1 163.1h1.6M125.5 154.5h1.6M74.9 140.1h1.6M73.4 140.5h1.6M84.6 141.5h1.6M98.8 125.0h1.6M101.9 121.5h1.6M128.6 146.8h1.6M82.7 145.2h1.6M98.7 149.3h1.6M65.7 175.3h1.6M26.4 160.3h1.6M56.3 170.5h1.6M41.4 125.8h1.6M107.9 121.8h1.6M80.1 158.4h1.6M100.2 151.2h1.6M55.1 173.7h1.6M117.6 143.9h1.6M109.7 102.3h1.6M103.0 106.7h1.6M58.3 169.3h1.6M157.4 128.5h1.6M82.9 151.6h1.6M102.2 111.7h1.6M70.8 144.8h1.6M121.9 137.2h1.6M105.3 161.5h1.6M70.4 138.2h1.6M91.8 105.5h1.6M92.6 143.3h1.6M45.9 176.9h1.6M76.2 182.8h1.6M114.1 149.3h1.6M111.1 132.1h1.6M120.2 139.4h1.6M110.5 155.2h1.6M120.9 90.4h1.6M59.9 133.2h1.6M60.0 178.7h1.6M58.6 160.5h1.6M80.4 172.0h1.6M128.4 123.8h1.6M62.5 150.5h1.6M65.4 126.4h1.6M56.2 170.6h1.6M93.8 146.7h1.6M87.6 131.4h1.6M73.3 134.5h1.6M72.9 113.7h1.6M101.5 143.2h1.6M76.6 156.9h1.6M112.8 132.5h1.6M147.0 135.3h1.6M86.9 143.1h1.6M45.3 150.6h1.6M92.2 146.6h1.6M110.9 167.7h1.6M100.4 147.3h1.6M69.7 135.1h1.6M73.3 153.8h1.6M110.8 146.9h1.6M58.8 162.6h1.6M91.9 114.2h1.6M66.0 129.8h1.6M79.2 176.5h1.6M116.0 174.9h1.6M68.2 178.3h1.6M66.7 126.3h1.6M93.2 148.2h1.6M90.5 170.6h1.6M85.0 164.1h1.6M81.1 139.9h1.6M106.0 157.8h1.6M134.2 142.9h1.6M30.1 154.8h1.6M90.6 170.1h1.6M38.9 180.3h1.6M63.1 178.8h1.6M110.0 127.2h1.6M128.0 137.5h1.6M95.9 172.3h1.6M139.9 112.6h1.6M95.9 148.9h1.6M103.4 128.6h1.6M91.8 169.4h1.6M95.8 169.9h1.6M109.6 169.5h1.6M113.4 106.7h1.6M101.9 133.1h1.6M79.4 170.6h1.6M118.6 138.9h1.6M130.1 154.9h1.6M101.6 151.5h1.6M113.3 162.9h1.6M63.7 160.7h1.6M50.5 158.6h1.6M92.3 136.8h1.6M65.2 156.3h1.6M135.2 161.3h1.6M83.1 134.7h1.6M85.9 135.3h1.6M101.7 153.0h1.6M129.1 105.6h1.6M75.6 137.3h1.6M105.3 116.3h1.6M137.0 154.5h1.6M53.7 191.6h1.6M146.4 112.9h1.6M104.7 179.4h1.6M80.5 149.8h1.6M69.9 172.2h1.6M113.3 115.0h1.6M113.0 142.3h1.6M126.1 121.3h1.6M69.7 163.5h1.6M96.2 136.4h1.6M69.2 172.5h1.6M35.5 155.7h1.6M71.2 129.2h1.6M84.6 115.3h1.6M86.1 157.3h1.6M113.6 113.6h1.6M105.5 161.6h1.6M70.0 166.4h1.6M126.5 146.7h1.6M88.9 154.3h1.6M74.1 167.5h1.6M93.1 133.2h1.6M154.4 119.5h1.6M66.2 161.7h1.6M89.7 124.2h1.6M71.1 173.7h1.6M84.7 148.1h1.6M111.2 127.3h1.6M38.5 154.7h1.6M81.4 147.4h1.6M68.9 140.7h1.6M39.9 172.1h1.6M100.5 145.4h1.6M131.1 182.8h1.6M51.4 157.3h1.6M68.3 108.7h1.6M104.0 135.3h1.6M167.4 95.7h1.6M84.4 149.7h1.6M74.8 141.3h1.6M118.2 135.5h1.6M92.8 138.7h1.6M34.1 171.1h1.6M23.4 174.4h1.6M93.6 138.2h1.6M104.1 170.8h1.6M110.6 154.3h1.6M75.5 148.1h1.6M65.3 192.7h1.6M115.2 128.7h1.6M101.1 144.4h1.6M126.6 134.0h1.6M74.4 133.5h1.6M1.9 151.4h1.6M92.0 170.1h1.6M66.3 155.7h1.6M118.1 162.6h1.6M25.3 183.3h1.6M82.0 168.3h1.6M60.1 127.7h1.6M10.3 160.2h1.6M65.9 138.4h1.6M70.4 200.3h1.6M45.0 167.4h1.6M117.6 128.6h1.6M34.6 180.7h1.6M98.6 168.9h1.6M50.8 137.7h1.6M65.6 137.3h1.6M97.7 154.7h1.6M84.0 148.4h1.6M41.6 146.5h1.6M107.5 164.6h1.6M130.2 172.0h1.6M40.4 131.4h1.6M87.5 152.8h1.6M46.4 132.7h1.6M103.1 97.3h1.6M107.4 152.7h1.6M119.6 126.0h1.6M107.9 129.1h1.6M118.0 156.5h1.6M68.8 121.9h1.6M68.6 95.2h1.6M116.2 116.0h1.6M81.5 172.1h1.6M113.7 141.4h1.6M78.2 168.4h1.6M86.4 140.3h1.6M70.2 168.1h1.6M79.1 180.2h1.6M30.2 161.6h1.6M74.6 119.0h1.6M120.8 96.5h1.6M66.3 151.5h1.6M103.9 166.4h1.6M70.1 147.1h1.6M119.3 126.9h1.6M106.7 136.2h1.6M66.9 146.9h1.6M52.9 151.9h1.6M90.1 144.5h1.6M107.5 136.9h1.6M88.3 128.1h1.6M53.6 189.9h1.6M129.5 114.6h1.6M100.1 120.4h1.6M66.3 168.6h1.6M113.8 143.0h1.6M115.6 131.4h1.6M83.2 151.8h1.6M59.7 156.8h1.6M31.8 156.9h1.6M101.0 127.0h1.6M16.2 167.3h1.6M105.6 134.3h1.6M89.4 158.4h1.6M113.0 124.6h1.6M111.3 174.7h1.6M96.4 129.9h1.6M60.1 154.4h1.6M96.3 97.8h1.6M98.3 131.3h1.6M104.3 140.6h1.6M40.4 166.1h1.6M33.1 177.9h1.6M74.8 174.4h1.6M41.4 181.9h1.6M55.9 156.1h1.6M59.6 203.7h1.6M80.8 153.0h1.6M128.7 84.4h1.6M74.5 135.3h1.6M74.9 146.1h1.6M106.3 151.2h1.6M99.0 165.0h1.6M65.2 133.6h1.6M49.9 188.5h1.6M81.4 161.0h1.6M95.8 122.5h1.6M126.6 138.3h1.6M135.4 132.3h1.6M61.8 175.4h1.6M75.6 123.9h1.6M106.2 129.9h1.6M112.3 166.5h1.6M115.9 120.5h1.6M114.8 151.9h1.6M100.5 162.1h1.6M96.8 131.8h1.6M120.1 121.6h1.6M70.1 149.9h1.6M49.8 193.2h1.6M37.2 139.6h1.6M73.7 109.1h1.6M85.7 164.0h1.6M98.5 148.2h1.6M69.4 138.1h1.6M100.9 155.3h1.6M93.8 163.8h1.6M14.6 173.1h1.6M13.8 184.0h1.6M78.1 125.9h1.6M71.0 155.5h1.6M62.7 157.7h1.6M111.0 132.5h1.6M117.4 137.8h1.6M73.3 157.6h1.6M104.5 124.5h1.6M80.8 177.5h1.6M113.9 144.4h1.6M70.6 153.8h1.6M100.1 148.0h1.6M98.2 117.0h1.6M99.6 118.2h1.6M56.5 156.1h1.6M82.2 172.7h1.6M137.5 160.9h1.6M69.7 161.5h1.6M103.7 100.3h1.6M125.0 163.9h1.6M104.5 120.8h1.6M85.3 151.7h1.6M58.6 143.1h1.6M107.7 115.9h1.6M103.3 114.2h1.6M43.7 125.7h1.6M39.1 217.2h1.6M65.7 152.5h1.6M94.3 112.0h1.6M96.9 165.4h1.6M121.2 157.6h1.6M68.1 126.8h1.6M91.6 155.8h1.6M56.3 159.9h1.6M106.5 182.1h1.6M61.4 146.5h1.6M75.0 141.3h1.6M82.3 139.2h1.6M47.3 157.3h1.6M52.5 205.0h1.6M120.7 123.8h1.6M98.2 155.1h1.6M85.9 129.0h1.6M71.2 174.6h1.6M83.4 158.7h1.6M84.2 168.0h1.6M84.6 154.1h1.6M81.7 107.6h1.6M122.5 153.6h1.6M58.1 130.7h1.6M87.8 128.0h1.6M75.4 188.0h1.6M72.9 133.2h1.6M56.4 174.8h1.6M98.7 148.6h1.6M50.1 155.8h1.6M81.8 142.2h1.6M84.6 141.7h1.6M86.5 151.6h1.6M115.2 157.3h1.6M65.4 117.3h1.6M108.6 101.5h1.6M104.1 162.3h1.6M115.0 158.2h1.6M107.7 181.7h1.6M84.1 114.1h1.6M101.8 131.3h1.6M107.3 119.6h1.6M95.7 114.4h1.6M77.9 150.8h1.6M107.8 117.0h1.6M105.4 159.8h1.6M54.5 200.9h1.6M85.8 152.7h1.6M135.9 115.6h1.6M117.0 155.6h1.6M135.9 143.1h1.6M74.2 163.6h1.6M37.2 152.2h1.6M75.4 148.0h1.6M64.2 145.2h1.6M117.4 100.3h1.6M87.7 119.9h1.6M86.2 129.7h1.6M22.8 144.2h1.6M128.3 148.1h1.6M77.2 149.8h1.6M79.9 118.5h1.6M131.4 183.8h1.6M58.6 129.6h1.6M71.2 157.3h1.6M94.8 179.9h1.6M96.7 128.9h1.6M87.8 137.2h1.6M80.6 184.2h1.6M76.0 141.8h1.6M120.1 120.6h1.6M86.5 90.8h1.6M93.1 119.3h1.6M84.8 168.1h1.6M109.2 84.0h1.6M117.6 121.7h1.6M83.8 171.8h1.6M77.2 141.2h1.6M78.2 148.0h1.6M83.4 172.9h1.6M120.0 107.1h1.6M67.7 156.5h1.6M67.1 161.8h1.6M89.9 145.4h1.6M70.1 164.4h1.6M49.5 162.4h1.6M82.6 151.0h1.6M105.7 131.6h1.6M64.2 170.5h1.6M89.9 162.3h1.6M143.2 145.0h1.6M75.8 133.0h1.6M90.0 141.3h1.6M51.9 136.3h1.6M106.1 114.2h1.6M122.7 147.9h1.6M65.8 169.2h1.6M69.7 126.7h1.6M71.1 160.1h1.6M103.5 121.3h1.6M90.5 167.4h1.6M68.8 143.9h1.6M50.8 179.1h1.6M58.3 144.2h1.6M66.7 143.7h1.6M155.3 92.5h1.6M93.1 115.8h1.6M111.3 139.7h1.6M97.7 188.8h1.6M50.8 146.3h1.6M66.8 158.3h1.6M104.9 134.2h1.6M56.4 145.3h1.6M123.2 114.8h1.6M129.5 118.4h1.6M72.7 148.0h1.6M106.3 152.4h1.6M81.2 161.7h1.6M36.7 143.2h1.6M40.2 166.2h1.6M75.3 169.6h1.6M72.5 146.9h1.6M63.6 130.1h1.6M72.3 197.7h1.6M86.4 116.3h1.6M57.7 173.2h1.6M6.9 147.4h1.6M67.9 146.5h1.6M95.1 118.8h1.6M56.9 175.3h1.6M62.2 165.8h1.6M33.3 172.4h1.6M118.3 96.6h1.6M82.8 147.1h1.6M87.5 143.5h1.6M97.9 125.7h1.6M63.4 166.0h1.6M73.8 116.2h1.6M100.9 130.1h1.6M110.6 132.4h1.6M50.0 162.1h1.6M113.3 153.0h1.6M87.3 160.8h1.6M122.3 131.3h1.6M128.9 135.0h1.6M49.1 143.9h1.6M81.1 187.7h1.6M107.0 115.0h1.6M105.0 180.6h1.6M64.8 161.3h1.6M85.0 166.9h1.6M40.7 183.4h1.6M101.7 162.7h1.6M100.5 147.2h1.6M64.2 167.6h1.6M90.3 184.2h1.6M94.5 143.4h1.6M90.5 146.7h1.6M82.1 164.4h1.6M76.9 134.4h1.6M116.0 145.5h1.6M111.0 123.6h1.6M124.7 156.6h1.6M106.6 143.8h1.6M69.7 124.4h1.6M59.4 163.4h1.6M118.0 139.5h1.6M74.5 159.9h1.6M76.1 138.5h1.6M93.4 161.9h1.6M53.0 159.8h1.6M75.3 132.9h1.6M66.7 169.9h1.6M141.8 115.0h1.6M88.3 181.0h1.6M71.6 116.4h1.6M53.4 126.8h1.6M92.2 175.8h1.6M169.9 166.6h1.6M108.3 127.2h1.6M66.0 152.2h1.6M49.7 150.9h1.6M96.5 144.6h1.6M89.6 142.6h1.6M53.9 180.4h1.6M94.6 160.4h1.6M80.6 130.2h1.6M118.0 145.3h1.6M86.7 163.3h1.6M93.2 133.7h1.6M84.8 132.8h1.6M116.3 119.8h1.6M128.2 160.7h1.6M94.4 157.6h1.6M105.7 95.7h1.6M146.7 123.5h1.6M57.1 169.9h1.6M142.2 115.6h1.6M131.9 142.7h1.6M73.7 164.1h1.6M123.2 108.4h1.6M83.8 138.0h1.6M71.1 153.6h1.6M26.2 172.2h1.6M33.7 160.6h1.6M82.0 173.4h1.6M67.1 179.2h1.6M68.6 142.8h1.6M45.1 177.5h1.6M92.0 161.8h1.6M50.8 126.0h1.6M113.5 160.2h1.6M88.5 149.8h1.6M101.7 144.4h1.6M151.2 105.7h1.6M108.3 154.0h1.6M83.7 113.4h1.6M93.5 136.8h1.6M70.3 178.5h1.6M73.7 165.1h1.6M74.7 168.6h1.6M112.4 114.0h1.6M75.6 175.3h1.6M74.0 178.9h1.6M87.6 128.2h1.6M85.2 177.7h1.6M109.6 137.3h1.6M102.9 161.7h1.6M74.6 163.4h1.6M111.2 161.7h1.6M75.6 151.4h1.6M91.4 140.8h1.6M85.7 160.9h1.6M71.7 151.9h1.6M94.6 146.1h1.6M76.5 153.0h1.6M48.9 156.1h1.6M58.1 142.9h1.6M145.4 156.9h1.6M79.8 150.8h1.6M79.8 145.1h1.6M81.2 171.3h1.6M87.7 120.2h1.6M84.1 132.3h1.6M95.3 126.7h1.6M87.4 132.3h1.6M85.4 157.1h1.6M90.9 116.3h1.6M64.9 144.5h1.6M46.1 179.0h1.6M78.2 147.4h1.6M83.1 188.7h1.6M39.0 122.2h1.6M80.4 158.6h1.6M58.0 163.5h1.6M25.7 181.0h1.6M79.0 133.0h1.6M48.4 149.6h1.6M83.1 173.1h1.6M83.1 137.3h1.6M81.4 168.3h1.6M60.8 145.4h1.6M105.9 136.2h1.6M117.5 123.9h1.6M82.8 159.8h1.6M91.7 145.9h1.6M56.1 153.1h1.6M62.3 152.8h1.6M110.2 114.2h1.6M102.3 147.8h1.6M56.8 188.6h1.6M95.7 150.5h1.6M100.9 160.6h1.6M89.9 132.2h1.6M62.3 145.1h1.6M58.3 147.7h1.6M101.4 159.7h1.6M91.1 167.4h1.6M121.4 141.1h1.6M20.0 134.7h1.6M118.3 138.9h1.6M43.7 159.2h1.6M91.9 144.5h1.6M53.2 167.9h1.6M46.6 167.8h1.6M104.5 142.7h1.6M77.6 167.2h1.6M132.6 113.4h1.6M75.8 124.3h1.6M90.7 111.1h1.6M89.4 165.8h1.6M69.9 88.9h1.6M42.5 124.0h1.6M64.7 130.5h1.6M154.4 131.1h1.6M58.1 159.3h1.6M97.1 162.3h1.6M127.9 136.5h1.6M23.6 120.0h1.6M36.0 154.8h1.6M92.9 115.6h1.6M126.3 140.1h1.6M96.1 159.8h1.6M78.1 175.7h1.6M83.0 137.6h1.6M46.1 128.7h1.6M82.9 161.6h1.6M71.4 147.7h1.6M157.4 165.2h1.6M63.7 188.8h1.6M85.3 148.4h1.6M62.7 157.3h1.6M98.0 149.9h1.6M66.4 149.1h1.6M117.1 161.1h1.6M80.2 163.0h1.6M108.4 142.0h1.6M63.0 163.2h1.6M77.5 129.6h1.6M87.4 147.2h1.6M84.2 184.8h1.6M85.7 130.2h1.6M113.7 124.7h1.6M49.1 145.7h1.6M102.0 112.9h1.6M99.1 150.1h1.6M78.9 168.7h1.6M112.0 130.6h1.6M92.7 158.4h1.6M100.9 167.3h1.6M106.5 137.4h1.6M88.2 138.4h1.6M96.1 126.3h1.6M73.2 129.3h1.6M149.9 114.8h1.6M92.2 154.4h1.6M57.9 197.1h1.6M50.6 183.9h1.6M83.6 165.9h1.6M105.2 141.9h1.6M108.9 127.3h1.6M89.5 139.4h1.6M58.4 142.2h1.6M112.4 168.7h1.6M60.1 153.9h1.6M72.5 165.2h1.6M37.0 182.4h1.6M57.8 144.2h1.6M94.4 147.2h1.6M105.5 162.3h1.6M61.2 187.7h1.6M123.6 177.2h1.6M126.5 134.0h1.6M39.3 183.0h1.6M133.4 136.5h1.6M72.5 130.2h1.6M73.4 124.5h1.6M62.2 154.3h1.6M90.7 131.6h1.6M84.4 148.6h1.6M99.1 153.3h1.6M95.7 136.0h1.6M84.4 135.7h1.6M49.7 158.4h1.6M66.2 116.8h1.6M109.6 141.3h1.6M36.2 157.0h1.6M41.3 126.8h1.6M45.9 182.4h1.6M56.5 214.2h1.6M137.3 149.9h1.6M110.3 158.2h1.6M110.6 111.7h1.6M118.9 110.5h1.6M51.6 112.7h1.6M61.1 126.5h1.6M147.9 117.5h1.6M104.3 126.1h1.6M115.6 141.5h1.6M81.7 162.6h1.6M62.9 134.6h1.6M18.3 155.0h1.6M120.5 169.1h1.6M68.1 146.0h1.6M118.4 124.5h1.6M95.1 142.9h1.6M10.1 165.9h1.6M95.2 144.5h1.6M65.8 131.6h1.6M86.8 141.3h1.6M58.1 160.4h1.6M113.6 177.7h1.6M105.6 116.0h1.6M91.2 110.6h1.6M17.5 173.7h1.6M143.1 128.5h1.6M72.0 165.7h1.6M30.2 178.6h1.6M48.5 144.0h1.6M68.0 141.7h1.6M82.0 122.9h1.6M100.5 148.9h1.6M113.5 145.0h1.6M114.5 153.3h1.6M129.4 144.3h1.6M103.7 108.0h1.6M93.9 175.2h1.6M77.8 169.5h1.6M127.1 151.9h1.6M72.8 161.7h1.6M89.2 160.4h1.6M35.7 177.9h1.6M116.5 128.7h1.6M126.6 154.1h1.6M86.0 138.9h1.6M59.8 138.0h1.6M73.0 152.0h1.6M104.5 121.5h1.6M67.6 158.3h1.6M93.1 171.6h1.6M100.9 170.1h1.6M62.6 105.1h1.6M70.5 133.2h1.6M77.4 133.1h1.6M107.1 128.7h1.6M97.5 186.8h1.6M73.2 145.8h1.6M84.6 165.2h1.6M93.1 144.4h1.6M110.7 119.4h1.6M113.6 149.1h1.6M89.4 135.0h1.6M93.7 167.9h1.6M30.8 215.9h1.6M71.3 178.1h1.6M104.3 146.1h1.6M95.2 131.7h1.6M129.1 122.5h1.6M105.8 131.3h1.6M88.6 170.4h1.6M60.8 163.2h1.6M48.9 136.0h1.6M112.3 132.2h1.6M37.8 176.7h1.6M157.7 126.7h1.6M84.3 157.2h1.6M81.5 156.1h1.6M85.0 153.0h1.6M82.9 169.0h1.6M38.5 139.9h1.6M35.9 164.4h1.6M95.0 155.0h1.6M91.6 110.8h1.6M51.8 183.2h1.6M138.8 129.0h1.6M93.2 166.5h1.6M139.1 137.0h1.6M88.8 139.7h1.6M67.8 149.9h1.6M58.6 173.1h1.6M110.3 126.6h1.6M113.3 145.9h1.6M82.7 149.1h1.6M117.7 111.7h1.6M64.4 152.6h1.6M72.4 169.2h1.6M99.4 133.7h1.6M85.3 109.1h1.6M112.8 183.9h1.6M101.5 115.9h1.6M102.9 123.2h1.6M109.1 149.0h1.6M67.9 200.2h1.6M46.2 163.3h1.6M110.5 146.5h1.6M89.1 139.3h1.6M111.1 140.8h1.6M89.3 171.0h1.6M121.5 113.1h1.6M65.9 137.7h1.6M57.3 170.3h1.6M97.5 109.5h1.6M83.9 156.9h1.6M80.2 171.2h1.6M101.9 137.3h1.6M120.8 134.5h1.6M121.6 139.8h1.6M95.3 176.0h1.6M73.0 165.0h1.6M70.2 140.1h1.6M65.0 187.4h1.6M132.9 143.5h1.6M42.5 190.2h1.6M95.9 155.7h1.6M99.9 153.1h1.6M109.8 157.6h1.6M85.7 136.9h1.6M33.0 188.4h1.6M26.4 172.9h1.6M85.1 146.3h1.6M84.9 188.0h1.6M62.2 190.1h1.6M78.1 150.7h1.6M93.4 154.3h1.6M46.8 184.1h1.6M82.4 150.1h1.6M86.3 145.7h1.6M106.4 116.2h1.6M72.1 168.3h1.6M90.9 165.7h1.6M10.5 190.3h1.6M106.4 174.9h1.6M104.1 116.7h1.6M106.2 117.3h1.6M91.3 137.1h1.6M58.9 183.4h1.6M98.4 133.8h1.6M57.3 149.4h1.6M94.0 167.9h1.6M74.6 154.2h1.6M64.2 135.0h1.6M70.7 144.1h1.6M119.2 131.4h1.6M119.1 126.1h1.6M104.9 167.4h1.6M99.4 141.8h1.6M102.7 145.5h1.6M110.2 120.0h1.6M66.0 141.4h1.6M124.4 138.6h1.6M84.5 161.9h1.6M144.0 129.6h1.6M75.3 134.3h1.6M127.3 179.8h1.6M114.4 124.1h1.6M56.3 188.4h1.6M61.1 155.2h1.6M138.7 106.5h1.6M106.8 193.4h1.6M107.6 83.3h1.6M104.8 131.3h1.6M85.3 135.5h1.6M101.0 153.3h1.6M86.9 165.4h1.6M94.8 117.4h1.6M134.8 121.4h1.6M123.3 156.5h1.6M110.0 186.3h1.6M53.4 145.7h1.6M95.9 182.6h1.6M136.5 134.9h1.6M58.2 157.4h1.6M82.6 152.8h1.6M57.7 167.0h1.6M78.8 162.7h1.6M56.6 154.9h1.6M96.7 156.3h1.6M90.5 149.3h1.6M76.7 140.7h1.6M67.1 141.1h1.6M104.2 145.6h1.6M73.9 137.0h1.6M74.5 151.8h1.6M109.5 126.1h1.6M85.4 134.1h1.6M100.7 133.2h1.6M45.8 131.5h1.6M74.4 147.7h1.6M104.0 109.5h1.6M58.9 138.2h1.6M109.0 139.6h1.6M82.9 163.4h1.6M85.6 137.8h1.6M90.8 158.1h1.6M127.3 160.4h1.6M94.3 144.4h1.6M80.7 133.5h1.6M87.6 159.3h1.6M73.4 149.5h1.6M59.3 177.8h1.6M113.4 131.0h1.6M92.7 148.2h1.6M85.5 143.8h1.6M133.2 167.2h1.6M115.1 136.4h1.6M65.1 134.6h1.6M110.5 128.4h1.6M95.8 130.9h1.6M43.4 217.2h1.6M61.1 176.6h1.6M99.9 103.7h1.6M89.8 143.4h1.6M63.8 199.7h1.6M78.9 163.9h1.6M105.2 176.8h1.6M59.3 156.3h1.6M100.5 154.6h1.6M97.2 165.7h1.6M119.7 136.0h1.6M42.3 155.0h1.6M40.1 166.4h1.6M125.0 158.6h1.6M99.9 158.3h1.6M73.7 149.6h1.6M89.0 110.7h1.6M73.0 137.6h1.6M98.4 152.9h1.6M104.7 165.9h1.6M101.0 165.9h1.6M72.7 112.6h1.6M77.1 134.7h1.6M53.8 116.8h1.6M76.7 146.6h1.6M55.6 162.1h1.6M107.7 136.1h1.6M95.0 123.4h1.6M121.1 106.4h1.6M56.9 170.6h1.6M113.9 158.7h1.6M114.6 151.0h1.6M48.9 175.4h1.6M50.0 124.1h1.6M112.7 106.0h1.6M110.9 150.7h1.6M68.8 137.5h1.6M120.0 126.9h1.6M91.7 147.4h1.6M100.9 152.1h1.6M100.2 160.4h1.6M72.2 127.7h1.6M71.4 169.3h1.6M65.6 165.7h1.6M99.1 125.9h1.6M73.2 129.0h1.6M59.3 175.3h1.6M81.0 127.5h1.6M68.5 144.1h1.6M71.5 143.4h1.6M95.1 190.6h1.6M60.6 135.5h1.6M87.6 173.3h1.6M87.1 161.5h1.6M73.5 146.9h1.6M125.4 129.1h1.6M78.4 167.9h1.6M36.3 147.0h1.6M74.5 146.1h1.6M76.4 127.4h1.6M95.0 138.1h1.6M82.8 157.0h1.6M87.0 169.7h1.6M66.7 166.5h1.6M60.0 115.2h1.6M56.1 155.9h1.6M84.5 121.1h1.6M66.5 149.5h1.6M44.2 162.5h1.6M119.0 147.4h1.6M52.1 152.6h1.6M46.7 126.4h1.6M135.1 101.1h1.6M88.5 135.6h1.6M63.2 129.1h1.6" stroke="#1a1a1a" stroke-width="1.6" opacity="0.45" fill="none"/>
<path d="M29.8 169.6h1.6M50.8 185.5h1.6M53.6 176.5h1.6M76.4 123.6h1.6M110.2 139.3h1.6M151.3 114.3h1.6M112.0 164.5h1.6M1.3 140.7h1.6M24.4 199.4h1.6M77.9 183.1h1.6M37.0 193.0h1.6M73.4 175.2h1.6M92.3 154.7h1.6M105.0 107.7h1.6M65.1 190.2h1.6M38.9 191.7h1.6M73.3 166.8h1.6M82.8 121.8h1.6M103.4 167.4h1.6M19.2 148.5h1.6M14.5 188.2h1.6M136.4 206.1h1.6M116.2 129.7h1.6M20.6 207.4h1.6M97.0 151.5h1.6M9.0 148.1h1.6M73.9 200.6h1.6M114.7 116.9h1.6M5.1 180.2h1.6M91.0 130.7h1.6M81.1 181.1h1.6M120.4 143.5h1.6M84.3 170.2h1.6M50.2 188.0h1.6M65.1 140.2h1.6M63.1 154.4h1.6M58.3 184.0h1.6M105.6 173.5h1.6M58.9 182.6h1.6M74.4 205.5h1.6M39.9 199.8h1.6M34.2 124.5h1.6M83.4 118.0h1.6M37.1 170.0h1.6M82.9 151.8h1.6M85.8 162.0h1.6M21.3 212.3h1.6M114.6 127.3h1.6M91.3 144.0h1.6M36.7 164.1h1.6M101.8 176.6h1.6M88.0 160.1h1.6M54.7 192.5h1.6M139.7 144.5h1.6M132.2 140.8h1.6M68.6 185.6h1.6M71.4 153.0h1.6M51.0 170.6h1.6M53.6 121.1h1.6M101.7 196.3h1.6M86.1 167.2h1.6M96.1 175.5h1.6M93.5 142.3h1.6M33.1 186.3h1.6M79.7 141.4h1.6M64.1 175.5h1.6M119.7 125.4h1.6M36.4 172.0h1.6M36.8 158.5h1.6M46.5 201.5h1.6M86.8 159.0h1.6M154.2 217.2h1.6M98.3 174.1h1.6M41.0 186.9h1.6M34.6 131.6h1.6M78.5 141.2h1.6M118.5 135.4h1.6M52.4 142.9h1.6M63.1 160.4h1.6M85.3 133.6h1.6M34.8 143.6h1.6M42.1 159.3h1.6M58.2 146.0h1.6M94.9 131.1h1.6M76.8 153.8h1.6M83.4 157.7h1.6M54.5 165.4h1.6M50.0 163.5h1.6M117.4 166.3h1.6M109.7 122.7h1.6M115.4 155.8h1.6M89.9 145.5h1.6M123.2 116.4h1.6M66.4 124.4h1.6M63.1 173.5h1.6M80.7 164.0h1.6M106.4 118.4h1.6M17.8 207.6h1.6M14.1 172.0h1.6M157.5 148.5h1.6M73.3 185.0h1.6M46.9 189.1h1.6M49.5 148.7h1.6M30.3 158.4h1.6M94.6 201.3h1.6M111.2 171.1h1.6M80.3 203.7h1.6M79.1 196.8h1.6M32.3 190.9h1.6M30.0 166.1h1.6M47.1 118.6h1.6M83.9 157.4h1.6M8.8 179.5h1.6M51.8 123.5h1.6M55.8 193.8h1.6M53.3 161.2h1.6M63.8 156.7h1.6M30.4 170.7h1.6M2.5 189.1h1.6M47.1 131.9h1.6M18.7 184.6h1.6M48.3 150.7h1.6M52.2 172.8h1.6M101.7 137.0h1.6M40.5 182.8h1.6M111.4 155.0h1.6M48.3 194.2h1.6M43.7 137.4h1.6M80.8 212.2h1.6M62.4 144.1h1.6M88.5 131.9h1.6M115.7 163.1h1.6M20.2 167.0h1.6M49.7 145.6h1.6M80.0 150.1h1.6M131.1 145.4h1.6M110.9 171.9h1.6M92.2 174.7h1.6M54.4 193.4h1.6M113.1 173.9h1.6M45.5 154.0h1.6M109.3 143.9h1.6M162.8 140.5h1.6M35.4 190.4h1.6M61.7 111.5h1.6M29.9 114.8h1.6M151.0 98.8h1.6M37.8 162.8h1.6M52.5 199.9h1.6M48.3 129.5h1.6M99.2 158.8h1.6M28.6 200.8h1.6M15.3 155.5h1.6M116.4 129.7h1.6M64.1 139.7h1.6M41.4 115.1h1.6M52.2 145.2h1.6M98.0 138.0h1.6M36.1 159.2h1.6M6.8 194.2h1.6M1.0 153.0h1.6M75.7 149.3h1.6M128.0 100.9h1.6M97.2 199.0h1.6M35.9 136.8h1.6M121.3 192.2h1.6M50.0 190.1h1.6M94.0 154.6h1.6M95.9 143.3h1.6M89.9 145.8h1.6M54.4 136.1h1.6M67.1 158.3h1.6M31.8 154.1h1.6M68.6 198.9h1.6M92.0 170.3h1.6M121.5 160.4h1.6M140.1 173.1h1.6M94.2 148.6h1.6M73.7 156.5h1.6M30.5 132.5h1.6M72.5 122.5h1.6M109.4 193.4h1.6M65.3 136.4h1.6M52.9 182.8h1.6M62.9 150.9h1.6M68.9 128.9h1.6M37.7 182.5h1.6M50.2 184.3h1.6M53.7 168.1h1.6M75.6 192.7h1.6M61.0 165.6h1.6M32.0 177.8h1.6M66.9 169.4h1.6M4.9 200.7h1.6M75.2 166.6h1.6M92.4 179.6h1.6M31.6 159.8h1.6M65.4 121.3h1.6M129.2 84.0h1.6M84.3 141.7h1.6M105.2 188.1h1.6M129.0 119.4h1.6M65.5 141.0h1.6M23.5 180.4h1.6M37.6 138.3h1.6M53.2 149.8h1.6M32.2 179.2h1.6M91.7 162.3h1.6M38.3 147.2h1.6M96.3 126.9h1.6M12.0 148.7h1.6M116.8 137.7h1.6M55.5 167.3h1.6M67.5 152.4h1.6M69.5 177.7h1.6M93.1 121.9h1.6M64.7 160.1h1.6M96.8 214.7h1.6M99.9 169.2h1.6M71.1 174.5h1.6M122.4 174.0h1.6M43.1 174.6h1.6M72.8 130.1h1.6M54.0 153.4h1.6M101.1 150.0h1.6M143.7 147.9h1.6M57.4 172.0h1.6M66.4 140.0h1.6M70.7 122.6h1.6M72.6 146.5h1.6M67.4 142.4h1.6M124.2 122.6h1.6M98.0 151.8h1.6M104.4 129.3h1.6M32.2 192.5h1.6M111.8 162.6h1.6M120.8 142.5h1.6M43.5 183.6h1.6M7.9 174.4h1.6M103.1 185.1h1.6M54.4 160.1h1.6M21.7 174.2h1.6M46.1 169.2h1.6M47.9 180.2h1.6M60.6 145.4h1.6M94.5 165.3h1.6M59.5 159.0h1.6M102.5 161.8h1.6M81.2 208.5h1.6M42.1 135.8h1.6M49.5 173.3h1.6M93.4 126.1h1.6M72.1 125.5h1.6M66.8 155.1h1.6M107.5 97.0h1.6M36.4 122.1h1.6M50.4 158.8h1.6M78.8 184.6h1.6M33.7 158.7h1.6M120.8 142.7h1.6M36.7 172.9h1.6M24.3 153.5h1.6M38.5 131.3h1.6M128.5 128.3h1.6M75.5 151.4h1.6M59.2 142.4h1.6M80.6 144.6h1.6M48.5 192.4h1.6M125.9 151.5h1.6M84.8 146.1h1.6M80.1 175.5h1.6M82.4 190.9h1.6M121.1 147.8h1.6M70.4 137.7h1.6M49.1 150.3h1.6M50.2 143.5h1.6M85.7 163.0h1.6M78.3 200.3h1.6M78.1 155.6h1.6M71.4 143.8h1.6M88.2 129.4h1.6M85.3 207.2h1.6M70.6 131.8h1.6M40.9 201.1h1.6M111.6 132.7h1.6M74.8 145.8h1.6M41.1 182.1h1.6M51.5 182.8h1.6M75.8 141.6h1.6M72.9 160.2h1.6M62.3 157.0h1.6M105.8 127.8h1.6M83.8 182.4h1.6M80.0 145.6h1.6M28.2 168.2h1.6M1.0 174.4h1.6M80.3 191.2h1.6M100.4 176.4h1.6M87.8 160.0h1.6M10.1 166.8h1.6M61.1 161.1h1.6M14.0 140.1h1.6M73.7 151.6h1.6M68.2 154.8h1.6M51.9 136.4h1.6M103.0 158.5h1.6M83.4 200.5h1.6M52.1 188.3h1.6M67.9 161.4h1.6M99.6 149.3h1.6M58.9 132.6h1.6M83.0 165.8h1.6M45.2 138.3h1.6M104.4 151.3h1.6M109.3 144.1h1.6M148.1 99.9h1.6M95.8 154.3h1.6M76.5 152.2h1.6M96.2 172.8h1.6M64.5 135.3h1.6M111.6 170.9h1.6M31.7 180.4h1.6M127.4 155.4h1.6M55.0 173.0h1.6M72.8 130.7h1.6M57.7 156.2h1.6M69.5 194.9h1.6M1.0 159.0h1.6M55.9 198.1h1.6M64.8 155.4h1.6M75.4 199.0h1.6M138.6 141.4h1.6M34.2 166.0h1.6M17.6 203.4h1.6M72.2 188.3h1.6M43.6 150.4h1.6M1.0 193.0h1.6M88.2 97.5h1.6M32.6 171.5h1.6M121.6 190.3h1.6M128.8 146.0h1.6M13.4 159.2h1.6M87.6 154.1h1.6M41.6 168.3h1.6M93.8 210.0h1.6M63.7 177.4h1.6M86.4 173.9h1.6M58.7 202.9h1.6M120.4 155.1h1.6M23.6 149.1h1.6M62.0 160.0h1.6M38.6 168.4h1.6M14.6 175.5h1.6M26.0 183.4h1.6M42.8 132.3h1.6M52.7 161.1h1.6M120.2 159.6h1.6M62.3 184.0h1.6M74.2 179.5h1.6M57.1 172.0h1.6M66.3 186.1h1.6M143.1 175.2h1.6M116.8 139.1h1.6M122.0 133.7h1.6M61.5 140.2h1.6M88.4 111.4h1.6M72.5 177.1h1.6M34.9 185.4h1.6M29.7 166.3h1.6M93.2 188.0h1.6M132.9 111.4h1.6M6.0 164.3h1.6M76.3 154.9h1.6M17.5 156.5h1.6M77.2 158.5h1.6M129.4 108.1h1.6M36.4 200.6h1.6M52.7 169.4h1.6M106.9 132.0h1.6M60.9 164.0h1.6M84.9 198.8h1.6M113.5 127.4h1.6M100.7 109.6h1.6M40.0 152.3h1.6M49.3 171.7h1.6M71.1 136.2h1.6M77.2 140.3h1.6M89.9 160.1h1.6M23.1 153.3h1.6M102.2 146.1h1.6M76.4 148.7h1.6M126.6 150.9h1.6M47.0 173.7h1.6M28.4 164.3h1.6M48.4 141.0h1.6M48.5 195.1h1.6M36.7 166.0h1.6M37.4 203.9h1.6M42.8 188.9h1.6M95.5 164.4h1.6M34.0 116.1h1.6M36.6 165.8h1.6M9.8 151.6h1.6M80.3 155.8h1.6M108.8 157.2h1.6M115.7 150.3h1.6M65.9 166.0h1.6M107.3 170.9h1.6M87.8 141.0h1.6M41.8 195.9h1.6M97.1 123.8h1.6M62.5 137.2h1.6M90.0 207.4h1.6M53.8 154.8h1.6M63.7 150.3h1.6M69.7 119.1h1.6M88.9 133.2h1.6M91.3 216.3h1.6M113.3 149.0h1.6M68.6 173.0h1.6M149.7 168.8h1.6M54.0 203.5h1.6M65.4 166.1h1.6M54.4 156.4h1.6M90.9 157.3h1.6M90.9 139.0h1.6M36.2 161.5h1.6M63.6 171.8h1.6M134.0 140.2h1.6M140.1 158.0h1.6M89.1 107.0h1.6M57.2 163.9h1.6M53.9 115.3h1.6M94.8 198.0h1.6M119.9 149.0h1.6M88.1 153.5h1.6M1.0 199.2h1.6M90.6 115.1h1.6M156.6 148.6h1.6M99.7 186.7h1.6M36.0 170.0h1.6M26.7 200.6h1.6M105.5 206.5h1.6M92.6 141.0h1.6M1.0 178.0h1.6M57.6 163.1h1.6M49.4 158.9h1.6M69.8 144.5h1.6M39.5 165.1h1.6M1.0 126.6h1.6M59.6 137.9h1.6M17.1 175.4h1.6M80.9 188.8h1.6M50.0 166.6h1.6M57.7 148.1h1.6M7.2 132.1h1.6M33.6 159.4h1.6M7.2 189.5h1.6M71.3 126.9h1.6M40.6 158.7h1.6M100.2 179.4h1.6M95.6 168.4h1.6M118.6 159.7h1.6M81.1 169.8h1.6M104.4 151.5h1.6M100.0 134.6h1.6M30.8 173.0h1.6M105.6 200.1h1.6M54.3 138.6h1.6M1.0 161.5h1.6M54.0 154.7h1.6M81.2 156.4h1.6M47.3 160.9h1.6M20.5 161.0h1.6M64.2 116.8h1.6M51.6 146.4h1.6M76.7 172.8h1.6M73.5 183.0h1.6M53.5 174.5h1.6M22.9 134.1h1.6M30.9 166.2h1.6M101.8 195.9h1.6M88.7 169.1h1.6M53.6 209.7h1.6M45.7 165.1h1.6M143.5 156.9h1.6M139.7 118.7h1.6M72.9 126.6h1.6M76.8 140.5h1.6M119.4 155.5h1.6M7.0 172.8h1.6M42.8 171.8h1.6M94.8 119.3h1.6M66.8 178.3h1.6M34.2 161.6h1.6M54.7 192.4h1.6M85.9 124.3h1.6M120.0 183.8h1.6M60.8 171.7h1.6M95.6 168.7h1.6M146.3 134.7h1.6M60.7 168.9h1.6M51.0 119.0h1.6M101.8 155.9h1.6M33.1 150.4h1.6M16.3 183.5h1.6M80.8 159.8h1.6M100.6 141.9h1.6M30.1 175.9h1.6M135.0 171.8h1.6M85.3 203.6h1.6M32.3 158.6h1.6M73.5 211.9h1.6M64.0 138.2h1.6M67.1 108.9h1.6M69.3 134.4h1.6M46.5 175.4h1.6M61.3 149.2h1.6M63.9 142.8h1.6M117.4 151.4h1.6M91.8 188.4h1.6M121.4 101.7h1.6M64.1 130.0h1.6M86.8 138.4h1.6M43.5 162.2h1.6M101.3 123.0h1.6M79.9 148.9h1.6M59.2 166.9h1.6M127.2 127.6h1.6M80.0 166.1h1.6M14.3 172.8h1.6M91.5 161.4h1.6M64.6 135.7h1.6M61.9 177.7h1.6M52.3 190.6h1.6M97.0 191.8h1.6M14.3 179.3h1.6M5.7 153.7h1.6M143.7 151.8h1.6M73.3 130.8h1.6M74.6 170.6h1.6M98.5 96.5h1.6M56.6 133.9h1.6M158.5 169.1h1.6M68.4 152.0h1.6M134.0 179.6h1.6M63.2 186.8h1.6M82.3 161.2h1.6M57.4 136.3h1.6M35.7 211.9h1.6M87.4 178.3h1.6M62.2 126.2h1.6M56.0 144.0h1.6M33.3 177.1h1.6M47.3 176.4h1.6M70.3 146.3h1.6M36.6 165.0h1.6M114.7 171.5h1.6M104.1 124.9h1.6M40.9 176.2h1.6M74.1 175.3h1.6M72.2 121.3h1.6M90.3 191.8h1.6M65.4 159.8h1.6M58.3 122.7h1.6M97.5 160.7h1.6M94.4 136.4h1.6M36.0 144.2h1.6M64.4 160.9h1.6M81.4 130.3h1.6M34.0 142.2h1.6M59.4 186.0h1.6M100.4 149.3h1.6M111.9 155.8h1.6M59.7 180.6h1.6M19.8 159.0h1.6M76.9 157.5h1.6M44.1 160.5h1.6M25.8 155.1h1.6M168.7 139.5h1.6M113.0 175.7h1.6M22.5 196.5h1.6M32.1 136.1h1.6M51.4 169.3h1.6M116.0 171.6h1.6M85.2 186.6h1.6M1.0 182.3h1.6M111.6 209.1h1.6M60.0 156.2h1.6M85.8 148.1h1.6M33.2 161.1h1.6M100.2 213.9h1.6M58.3 151.3h1.6M12.7 167.5h1.6M50.4 169.9h1.6M85.2 143.1h1.6M83.7 134.3h1.6M52.3 174.4h1.6M61.2 181.1h1.6M92.6 135.0h1.6M148.9 148.9h1.6M38.2 139.7h1.6M64.2 162.4h1.6M94.4 159.1h1.6M78.7 116.9h1.6M48.5 165.3h1.6M95.2 146.8h1.6M69.3 133.2h1.6M109.9 146.7h1.6M21.1 169.7h1.6M62.0 166.2h1.6M126.7 107.2h1.6M104.8 114.1h1.6M56.3 134.4h1.6M76.4 185.9h1.6M136.6 158.8h1.6M71.7 180.6h1.6M15.8 174.9h1.6M26.5 119.3h1.6M47.9 133.2h1.6M102.6 123.4h1.6M108.3 139.0h1.6M111.3 160.8h1.6M108.9 121.2h1.6M25.9 180.0h1.6M162.0 158.1h1.6M81.2 183.8h1.6M70.5 164.4h1.6M115.1 151.4h1.6M66.3 163.6h1.6M121.4 174.8h1.6M126.8 151.2h1.6M42.9 192.3h1.6M52.5 144.5h1.6M59.9 143.9h1.6M26.3 177.5h1.6M45.1 191.7h1.6M70.4 126.1h1.6M88.4 163.3h1.6M36.0 192.9h1.6M53.4 157.7h1.6M76.1 99.9h1.6M57.1 182.5h1.6M95.1 188.1h1.6M90.1 153.9h1.6M108.7 141.3h1.6M75.2 89.2h1.6M28.4 202.9h1.6M111.7 158.0h1.6M90.8 106.0h1.6M74.0 122.6h1.6M44.5 147.5h1.6M100.2 127.0h1.6M109.7 165.0h1.6M85.4 164.6h1.6M113.8 149.6h1.6M99.4 162.2h1.6M87.8 150.9h1.6M84.0 129.6h1.6M54.3 134.0h1.6M74.7 186.5h1.6M16.0 152.0h1.6M82.9 137.5h1.6M153.1 105.7h1.6M110.2 145.8h1.6M95.1 178.3h1.6M149.8 166.5h1.6M93.0 148.2h1.6M105.4 169.5h1.6M61.0 139.8h1.6M26.1 137.5h1.6M92.2 180.6h1.6M87.7 147.3h1.6M35.9 184.1h1.6M181.3 160.8h1.6M80.1 193.9h1.6M70.8 159.3h1.6M62.9 126.8h1.6M122.3 128.6h1.6M77.0 163.7h1.6" stroke="#1a1a1a" stroke-width="1.6" opacity="0.33" fill="none"/>
<path d="M182.0 58.0h1.7M178.7 81.0h1.7M172.0 62.9h1.7M172.8 75.7h1.7M191.9 59.1h1.7M176.6 85.0h1.7M189.6 60.6h1.7M178.8 55.6h1.7M189.7 60.0h1.7M177.7 72.9h1.7M177.7 73.7h1.7M179.0 76.2h1.7M170.7 51.7h1.7M187.5 54.5h1.7M190.3 70.8h1.7M179.9 49.7h1.7M167.3 72.8h1.7M171.3 74.4h1.7M184.2 50.7h1.7M192.7 68.4h1.7M167.5 54.9h1.7M167.5 44.1h1.7M176.2 57.5h1.7M158.2 60.1h1.7M193.3 66.1h1.7M161.0 67.9h1.7M165.8 58.2h1.7M165.0 72.8h1.7M176.2 59.2h1.7M170.2 52.8h1.7M177.2 57.7h1.7M182.7 58.0h1.7M168.8 61.1h1.7M159.3 79.9h1.7M166.6 49.5h1.7M195.5 73.9h1.7M168.4 63.8h1.7M176.7 52.6h1.7M154.7 71.3h1.7M171.7 72.4h1.7M164.1 63.3h1.7M169.3 64.2h1.7M177.3 86.4h1.7M176.7 71.7h1.7M165.0 73.1h1.7M171.8 66.4h1.7M187.2 71.4h1.7M181.8 52.2h1.7M178.0 77.8h1.7M153.9 74.6h1.7M165.6 54.3h1.7M158.4 64.1h1.7M180.0 59.4h1.7M159.8 79.9h1.7M160.9 69.5h1.7M165.5 58.6h1.7M191.3 64.8h1.7M183.1 63.1h1.7M175.6 53.6h1.7M164.7 56.2h1.7M165.7 52.9h1.7M180.3 54.1h1.7M185.9 77.2h1.7M172.1 69.5h1.7M197.3 66.7h1.7M184.1 76.4h1.7M152.4 57.6h1.7M188.4 59.0h1.7M180.0 52.6h1.7M193.0 63.2h1.7M186.4 63.0h1.7M193.6 56.8h1.7M171.0 73.3h1.7M189.7 54.2h1.7M184.8 68.4h1.7M165.0 71.3h1.7M178.5 72.0h1.7M188.1 75.1h1.7M173.5 56.3h1.7M167.1 76.4h1.7M164.1 54.0h1.7M152.8 70.5h1.7M190.0 69.3h1.7M189.7 73.0h1.7M177.1 80.0h1.7M172.7 82.2h1.7M164.0 74.2h1.7M175.5 77.0h1.7M183.8 75.3h1.7M164.4 76.9h1.7M177.7 50.7h1.7M158.9 63.7h1.7M178.4 72.4h1.7M175.9 78.0h1.7M163.7 73.8h1.7M178.9 76.8h1.7M155.3 59.7h1.7M193.9 62.2h1.7M186.1 72.1h1.7M166.1 81.3h1.7M153.5 61.7h1.7M155.1 69.8h1.7M191.8 60.3h1.7M186.3 70.9h1.7M187.5 74.2h1.7M178.1 73.7h1.7M185.8 68.2h1.7M196.3 62.1h1.7M166.6 80.1h1.7M172.6 66.3h1.7M183.8 79.0h1.7M178.5 77.9h1.7M164.6 59.9h1.7M153.7 57.4h1.7M163.9 59.1h1.7M168.6 57.5h1.7M184.7 68.3h1.7M158.0 68.9h1.7M176.2 53.5h1.7M160.1 64.7h1.7M181.1 50.1h1.7M186.9 59.6h1.7M165.1 78.7h1.7M175.6 70.3h1.7M169.9 60.3h1.7M189.7 60.4h1.7M183.5 76.7h1.7M190.9 66.4h1.7M157.7 61.0h1.7M154.8 64.0h1.7" stroke="#1a1a1a" stroke-width="1.7" opacity="0.42" fill="none"/>
<path d="M127.6 108.1h1.6M204.9 108.0h1.6M110.5 71.7h1.6M186.5 54.2h1.6M141.1 105.2h1.6M163.5 77.6h1.6M134.9 95.8h1.6M131.9 137.9h1.6M139.7 110.0h1.6M141.6 128.1h1.6M191.0 56.7h1.6M150.4 97.9h1.6M181.0 66.3h1.6M182.4 88.9h1.6M166.6 75.4h1.6M126.0 104.6h1.6M171.1 83.7h1.6M189.0 121.1h1.6M96.3 100.0h1.6M125.7 94.2h1.6M149.4 67.8h1.6M125.2 109.8h1.6M149.3 102.4h1.6M129.1 66.3h1.6M141.1 117.6h1.6M162.1 103.8h1.6M112.2 101.7h1.6M100.3 120.1h1.6M132.0 127.8h1.6M155.1 128.7h1.6M207.5 73.8h1.6M145.0 67.3h1.6M105.9 56.0h1.6M160.2 159.2h1.6M181.3 117.7h1.6M139.8 96.9h1.6M147.4 87.8h1.6M169.7 106.0h1.6M88.8 75.5h1.6M140.5 98.8h1.6M120.0 136.2h1.6M190.4 91.0h1.6M115.0 124.7h1.6M136.4 134.9h1.6M161.8 102.3h1.6M178.8 100.0h1.6M198.5 31.7h1.6M162.9 115.7h1.6M136.2 31.8h1.6M170.7 73.5h1.6M144.0 152.1h1.6M154.2 118.5h1.6M171.3 103.9h1.6M180.7 91.2h1.6M182.1 80.9h1.6M143.5 143.7h1.6M160.1 115.1h1.6M80.3 67.1h1.6M155.6 103.5h1.6M172.7 50.2h1.6M130.2 118.1h1.6M183.6 87.8h1.6M172.8 109.7h1.6M122.3 69.9h1.6M100.7 119.0h1.6M126.8 115.8h1.6M116.5 53.1h1.6M181.9 98.6h1.6M110.8 84.5h1.6" stroke="#1a1a1a" stroke-width="1.6" opacity="0.28" fill="none"/>
</g>
<rect x="0" y="0" width="219.6" height="219.2" fill="none" stroke="#555" stroke-width="2.3"/>
<path d="M120.4 0V219.2M0 88.1H219.6" stroke="#555" stroke-width="2" fill="none"/>
<path d="M-5.5 14.8H0M-5.5 43.8H0M-5.5 78.6H0M-5.5 113.6H0M-5.5 149.4H0M-5.5 184.3H0M-5.5 215H0M-2.5 22H0M-2.5 27H0M-2.5 31H0M-2.5 35H0M-2.5 39H0M-2.5 52H0M-2.5 58H0M-2.5 64H0M-2.5 69H0M-2.5 74H0M-2.5 87H0M-2.5 93H0M-2.5 99H0M-2.5 104H0M-2.5 109H0M-2.5 122H0M-2.5 128H0M-2.5 134H0M-2.5 139H0M-2.5 144H0M-2.5 157H0M-2.5 163H0M-2.5 169H0M-2.5 174H0M-2.5 179H0M-2.5 192H0M-2.5 198H0M-2.5 203H0M-2.5 208H0M-2.5 211H0M10 219.2V224.7M37.5 219.2V224.7M76.7 219.2V224.7M115 219.2V224.7M155 219.2V224.7M192.5 219.2V224.7M18 219.2V221.7M24 219.2V221.7M29 219.2V221.7M33 219.2V221.7M49 219.2V221.7M57 219.2V221.7M63 219.2V221.7M68 219.2V221.7M72 219.2V221.7M88 219.2V221.7M96 219.2V221.7M102 219.2V221.7M107 219.2V221.7M111 219.2V221.7M127 219.2V221.7M135 219.2V221.7M141 219.2V221.7M146 219.2V221.7M150 219.2V221.7M166 219.2V221.7M173 219.2V221.7M179 219.2V221.7M184 219.2V221.7M188 219.2V221.7M200 219.2V221.7M206 219.2V221.7M211 219.2V221.7M215 219.2V221.7" stroke="#444" stroke-width="1.6" fill="none"/>
<path d="M-5.5 219.2H219.6M0 0V224.7" stroke="#555" stroke-width="1.8" fill="none"/>
<g font-size="10" font-weight="normal" fill="#222" stroke="#222" stroke-width="0.55"><text x="-27.5" y="19.3">10<tspan dy="-4.5" font-size="7.5">7</tspan></text><text x="-27.5" y="48.3">10<tspan dy="-4.5" font-size="7.5">6</tspan></text><text x="-27.5" y="83.1">10<tspan dy="-4.5" font-size="7.5">5</tspan></text><text x="-27.5" y="118.1">10<tspan dy="-4.5" font-size="7.5">4</tspan></text><text x="-27.5" y="153.9">10<tspan dy="-4.5" font-size="7.5">3</tspan></text><text x="-27.5" y="188.8">10<tspan dy="-4.5" font-size="7.5">2</tspan></text><text x="-27.5" y="219.5">10<tspan dy="-4.5" font-size="7.5">1</tspan></text><text x="3" y="240.2">10<tspan dy="-4.5" font-size="7.5">2</tspan></text><text x="30.5" y="240.2">10<tspan dy="-4.5" font-size="7.5">3</tspan></text><text x="69.7" y="240.2">10<tspan dy="-4.5" font-size="7.5">4</tspan></text><text x="108" y="240.2">10<tspan dy="-4.5" font-size="7.5">5</tspan></text><text x="148" y="240.2">10<tspan dy="-4.5" font-size="7.5">6</tspan></text><text x="185.5" y="240.2">10<tspan dy="-4.5" font-size="7.5">7</tspan></text><text x="3.8" y="12.3">Q1</text><text x="3.8" y="28">0.072%</text><text x="184.6" y="12.3">Q2</text><text x="184.6" y="28">1.39%</text><text x="4" y="201.6">Q4</text><text x="4" y="214.6">80.2%</text><text x="184.6" y="201.6">Q3</text><text x="184.6" y="214.6">18.3%</text></g>
</g>
<text x="1480.0" y="629.6" font-size="27" text-anchor="middle" textLength="167.5" lengthAdjust="spacingAndGlyphs">TRAF5+BBR</text>
<g transform="translate(1640.0 355.7)" filter="url(#bq)">
<rect x="2" y="2" width="50" height="32" fill="#fbfbfb"/>
<rect x="167.6" y="2" width="50" height="32" fill="#fbfbfb"/>
<rect x="2" y="185.2" width="50" height="32" fill="#fbfbfb"/>
<rect x="167.6" y="185.2" width="50" height="32" fill="#fbfbfb"/>
<ellipse cx="95" cy="139" rx="24" ry="9.5" transform="rotate(-40 95 139)" fill="#111" opacity="0.72" filter="url(#b2)"/>
<g filter="url(#bp)">
<path d="M113.3 125.7h1.7M87.2 136.5h1.7M93.2 154.3h1.7M85.6 146.5h1.7M88.9 142.3h1.7M85.2 158.2h1.7M99.2 142.4h1.7M81.7 148.3h1.7M118.6 118.5h1.7M83.0 136.1h1.7M88.9 148.8h1.7M86.1 140.4h1.7M115.3 136.3h1.7M105.3 154.5h1.7M88.1 140.9h1.7M70.7 150.2h1.7M96.2 159.6h1.7M80.4 150.3h1.7M98.5 140.1h1.7M66.1 161.2h1.7M79.4 150.8h1.7M68.7 156.8h1.7M85.8 135.9h1.7M97.9 139.7h1.7M98.9 124.7h1.7M78.3 152.8h1.7M92.4 135.5h1.7M74.1 156.1h1.7M103.5 123.1h1.7M95.4 127.0h1.7M96.4 125.0h1.7M106.7 128.2h1.7M106.0 125.6h1.7M73.1 148.2h1.7M83.2 150.9h1.7M88.9 148.8h1.7M90.6 137.9h1.7M86.6 143.2h1.7M106.1 141.2h1.7M88.6 144.5h1.7M113.1 136.1h1.7M78.3 141.9h1.7M92.8 151.7h1.7M93.1 148.9h1.7M95.0 144.0h1.7M99.2 134.1h1.7M86.8 146.2h1.7M119.0 109.6h1.7M102.9 129.9h1.7M77.6 152.4h1.7M99.6 123.6h1.7M84.1 154.6h1.7M82.9 159.6h1.7M105.1 124.1h1.7M101.7 143.7h1.7M96.6 119.2h1.7M76.8 154.8h1.7M115.2 136.0h1.7M98.8 134.6h1.7M87.1 151.9h1.7M103.5 149.4h1.7M121.6 123.7h1.7M84.4 147.0h1.7M109.3 129.4h1.7M98.6 130.5h1.7M69.7 166.7h1.7M115.3 118.1h1.7M89.2 127.1h1.7M123.2 137.1h1.7M107.2 119.4h1.7M97.1 138.6h1.7M96.6 132.3h1.7M101.3 135.2h1.7M76.1 145.8h1.7M116.4 123.3h1.7M109.5 145.3h1.7M92.4 152.3h1.7M105.6 123.5h1.7M94.3 142.6h1.7M68.3 146.1h1.7M93.2 152.4h1.7M98.9 150.0h1.7M72.5 155.0h1.7M104.1 141.5h1.7M109.1 136.8h1.7M104.3 132.8h1.7M117.7 127.4h1.7M91.0 150.3h1.7M103.4 133.7h1.7M101.1 131.5h1.7M83.1 134.6h1.7M96.1 150.7h1.7M61.7 163.5h1.7M105.4 136.2h1.7M75.6 155.0h1.7M102.7 142.3h1.7M93.2 134.7h1.7M102.5 133.9h1.7M81.4 150.7h1.7M98.0 135.8h1.7M89.4 143.5h1.7M99.1 142.0h1.7M79.2 147.8h1.7M100.6 130.4h1.7M78.1 141.8h1.7M73.1 148.6h1.7M96.8 143.2h1.7M97.4 138.4h1.7M102.0 132.5h1.7M79.4 153.0h1.7M106.0 148.6h1.7M104.4 150.2h1.7M87.0 133.5h1.7M90.4 140.6h1.7M92.1 138.5h1.7M124.8 116.8h1.7M92.7 140.7h1.7M99.2 145.2h1.7M99.0 144.2h1.7M84.1 150.3h1.7M94.5 141.2h1.7M77.4 148.1h1.7M77.8 157.4h1.7M110.1 126.1h1.7M76.2 151.7h1.7M100.9 119.5h1.7M91.2 143.2h1.7M90.2 145.5h1.7M101.7 136.7h1.7M110.3 135.6h1.7M70.8 149.8h1.7M92.5 142.0h1.7M92.2 131.2h1.7M87.2 161.4h1.7M98.2 139.5h1.7M107.7 111.6h1.7M96.6 135.7h1.7M99.5 147.7h1.7M87.2 132.7h1.7M74.9 144.3h1.7M106.0 124.3h1.7M79.9 150.0h1.7M80.0 155.6h1.7M97.1 139.3h1.7M106.9 125.5h1.7M98.5 121.2h1.7M114.2 139.2h1.7M88.1 151.9h1.7M83.0 150.2h1.7M98.8 131.2h1.7M81.0 149.9h1.7M95.7 142.0h1.7M88.1 129.5h1.7M110.2 130.6h1.7M75.9 153.7h1.7M116.8 139.6h1.7M90.6 137.9h1.7M109.8 126.2h1.7M87.5 131.2h1.7M83.8 152.1h1.7M119.2 122.2h1.7M91.2 139.0h1.7M75.4 144.9h1.7M112.2 141.2h1.7M87.1 138.1h1.7M73.6 153.1h1.7M100.3 120.0h1.7M96.6 148.7h1.7M111.1 119.4h1.7M100.1 139.1h1.7M96.5 137.2h1.7M98.0 138.2h1.7M91.8 140.1h1.7M100.5 155.0h1.7M99.7 145.0h1.7M90.3 156.2h1.7M108.5 129.1h1.7M128.6 118.2h1.7M113.9 115.5h1.7M70.8 166.1h1.7M92.7 135.3h1.7M84.6 152.7h1.7M110.2 136.3h1.7M92.6 137.4h1.7M73.7 148.3h1.7M105.7 118.3h1.7M91.4 137.8h1.7M80.7 139.6h1.7M92.0 145.9h1.7M92.8 143.8h1.7M81.9 140.9h1.7M104.1 130.3h1.7M94.0 144.7h1.7M104.3 126.3h1.7M94.6 137.4h1.7M105.5 118.4h1.7M85.5 146.4h1.7M58.2 156.3h1.7M105.6 140.1h1.7M113.7 120.7h1.7M101.6 134.0h1.7M86.4 148.4h1.7M99.8 146.5h1.7M85.5 134.5h1.7M95.3 133.5h1.7M98.0 140.1h1.7M65.6 148.6h1.7M102.6 140.0h1.7M87.2 145.2h1.7M98.1 131.2h1.7M91.4 137.5h1.7M107.1 128.7h1.7M83.9 150.5h1.7M84.4 145.1h1.7M78.4 151.0h1.7M107.5 134.8h1.7M98.2 128.7h1.7M94.2 139.3h1.7M90.4 140.3h1.7M84.6 164.5h1.7M86.1 147.7h1.7M92.2 131.6h1.7M88.8 147.5h1.7M96.6 142.4h1.7M81.9 149.3h1.7M83.1 149.2h1.7M84.4 143.4h1.7M106.7 139.1h1.7M94.9 141.3h1.7M80.9 146.5h1.7M91.2 145.8h1.7M107.6 111.9h1.7M114.9 134.7h1.7M100.4 131.5h1.7M97.5 124.0h1.7M78.9 154.0h1.7M90.6 149.3h1.7M75.7 138.8h1.7M95.3 144.0h1.7M76.9 154.9h1.7M97.7 140.5h1.7M105.8 132.4h1.7M80.6 139.4h1.7M101.2 131.5h1.7M111.3 136.1h1.7M84.8 142.7h1.7M111.2 127.3h1.7M80.3 149.8h1.7M95.3 149.8h1.7M76.3 148.9h1.7M108.5 135.3h1.7M95.3 134.3h1.7M72.0 135.3h1.7M104.3 133.7h1.7M89.9 131.9h1.7M71.1 155.4h1.7M94.7 150.0h1.7M117.4 108.1h1.7M89.0 151.5h1.7M110.2 133.4h1.7M90.8 138.1h1.7M83.3 136.6h1.7M82.9 142.3h1.7M114.9 134.9h1.7M91.4 128.2h1.7M90.3 138.3h1.7M105.2 121.7h1.7M99.5 134.8h1.7M102.5 127.6h1.7M116.3 124.1h1.7M91.7 139.8h1.7M93.8 149.8h1.7M103.6 129.6h1.7M131.2 112.9h1.7M113.4 137.9h1.7M110.5 130.1h1.7M78.9 144.4h1.7M104.1 130.6h1.7M96.9 148.7h1.7M110.0 139.4h1.7M87.0 137.1h1.7M97.4 145.0h1.7M81.6 150.0h1.7M103.3 134.1h1.7M89.7 121.4h1.7M105.6 139.0h1.7M85.1 150.3h1.7M94.5 139.3h1.7M134.0 103.5h1.7M76.1 148.0h1.7M86.8 146.5h1.7M97.6 132.5h1.7M126.6 116.8h1.7M93.6 137.0h1.7M93.8 132.3h1.7M90.2 138.3h1.7M101.0 127.0h1.7M78.9 148.8h1.7M110.0 129.9h1.7M89.3 143.0h1.7M81.4 143.1h1.7M95.6 132.5h1.7M82.7 146.2h1.7M97.8 141.5h1.7M89.7 145.3h1.7M107.6 144.0h1.7M86.7 126.2h1.7M94.0 130.5h1.7M99.9 136.2h1.7M71.6 137.7h1.7M97.5 129.6h1.7M101.4 121.0h1.7M72.3 144.7h1.7M104.3 144.3h1.7M91.8 130.8h1.7M95.4 125.6h1.7M102.0 146.6h1.7M87.5 132.3h1.7M96.2 141.1h1.7M77.8 157.7h1.7M85.4 126.5h1.7M96.3 128.4h1.7M94.0 150.1h1.7M100.1 129.6h1.7M112.6 142.3h1.7M111.2 120.5h1.7M115.8 119.1h1.7M76.7 145.6h1.7M68.4 155.8h1.7M100.9 150.0h1.7M86.6 137.2h1.7M100.1 135.3h1.7M104.1 121.6h1.7M99.2 126.1h1.7M93.2 149.0h1.7M90.0 147.5h1.7M93.4 148.8h1.7M100.8 138.3h1.7M109.9 115.9h1.7M105.0 132.4h1.7M81.7 149.5h1.7M93.8 129.7h1.7M94.4 150.9h1.7M84.5 135.4h1.7M131.7 123.4h1.7M90.7 146.3h1.7M92.8 144.4h1.7M113.3 143.5h1.7M115.2 140.2h1.7M94.4 133.1h1.7M97.9 134.7h1.7M69.2 173.1h1.7M94.4 156.1h1.7M75.9 151.1h1.7M112.4 117.8h1.7M102.8 146.2h1.7M86.9 154.5h1.7M94.4 132.6h1.7M97.9 141.7h1.7M128.0 132.8h1.7M96.6 133.2h1.7M100.6 136.9h1.7M75.9 143.0h1.7M85.0 146.6h1.7M97.2 143.9h1.7M91.2 141.5h1.7M104.0 120.2h1.7M79.3 164.9h1.7M103.6 124.4h1.7M111.7 127.9h1.7M93.9 154.9h1.7M72.1 151.2h1.7M99.6 142.0h1.7M100.4 143.1h1.7M80.6 148.9h1.7M110.9 122.9h1.7M85.3 141.7h1.7M93.8 137.9h1.7M58.4 153.6h1.7M119.6 130.2h1.7M97.7 145.0h1.7M88.9 149.8h1.7M105.2 126.3h1.7M93.2 143.3h1.7M106.3 125.2h1.7M103.6 131.5h1.7M92.6 151.2h1.7M107.5 117.4h1.7M95.8 135.4h1.7M80.9 151.8h1.7M91.5 136.4h1.7M82.0 156.9h1.7M108.7 128.1h1.7M72.2 164.1h1.7M114.9 121.6h1.7M69.3 149.3h1.7M91.9 137.9h1.7M90.9 142.2h1.7M110.5 140.1h1.7M99.4 133.3h1.7M81.3 136.2h1.7M111.0 122.4h1.7M87.1 133.1h1.7M99.5 134.5h1.7M87.2 149.7h1.7M122.5 113.4h1.7M95.1 144.2h1.7M85.1 144.5h1.7M112.5 122.0h1.7M93.0 132.4h1.7M78.0 150.6h1.7M88.1 134.0h1.7M89.9 146.4h1.7M104.9 145.9h1.7M80.4 140.6h1.7M98.4 132.7h1.7M99.0 128.9h1.7M80.4 167.8h1.7M91.9 147.1h1.7M112.1 120.5h1.7M78.7 155.0h1.7M105.3 135.0h1.7M72.6 155.0h1.7M116.2 109.9h1.7M104.1 117.9h1.7M81.6 138.9h1.7M112.8 132.9h1.7M97.9 128.9h1.7M103.1 136.4h1.7M108.8 116.0h1.7M95.9 143.7h1.7M88.4 135.3h1.7M99.6 154.4h1.7M110.4 136.3h1.7M100.1 133.8h1.7M89.7 141.3h1.7M90.1 140.7h1.7M77.7 149.5h1.7M91.8 132.6h1.7M119.7 132.7h1.7M78.6 142.1h1.7M66.9 162.6h1.7M85.4 145.4h1.7M76.9 156.5h1.7M83.0 150.8h1.7M94.4 146.3h1.7M90.7 149.0h1.7M83.7 137.0h1.7M106.7 129.6h1.7M114.4 122.7h1.7M101.7 151.1h1.7M79.1 141.4h1.7M93.2 128.7h1.7M85.5 131.1h1.7M114.6 128.4h1.7M97.4 131.2h1.7M83.4 161.3h1.7M101.7 130.5h1.7M80.9 151.0h1.7M86.3 143.3h1.7M83.1 161.0h1.7M105.7 148.1h1.7M99.5 134.5h1.7M101.3 129.9h1.7M108.5 134.8h1.7M111.4 125.1h1.7M98.6 147.9h1.7M90.4 137.5h1.7M105.9 126.1h1.7M111.1 136.1h1.7M84.8 147.3h1.7M96.1 137.0h1.7M97.5 149.1h1.7M97.4 138.6h1.7M93.0 135.6h1.7M103.6 140.2h1.7M84.6 152.2h1.7M117.1 127.9h1.7M112.9 125.0h1.7M86.3 141.8h1.7M103.7 152.4h1.7M90.1 135.8h1.7M116.1 131.1h1.7M102.4 136.8h1.7M84.2 136.9h1.7M91.4 138.1h1.7M87.9 167.6h1.7M87.3 137.3h1.7M94.5 143.1h1.7M102.3 145.5h1.7M100.4 148.7h1.7M94.8 139.9h1.7M98.2 136.9h1.7M76.9 138.9h1.7M72.5 152.7h1.7M87.4 143.6h1.7M100.6 143.0h1.7M70.8 152.5h1.7M97.4 129.1h1.7M96.2 131.0h1.7M75.4 148.4h1.7M82.2 135.7h1.7M89.0 137.3h1.7M101.4 121.7h1.7M97.0 131.0h1.7M88.8 149.4h1.7M98.4 126.7h1.7M72.0 144.5h1.7M88.9 152.3h1.7M84.7 148.2h1.7M78.3 152.2h1.7M111.9 130.8h1.7M92.5 146.0h1.7M76.1 139.4h1.7M78.1 137.2h1.7M104.8 139.2h1.7M97.3 140.5h1.7M89.4 139.3h1.7M97.8 127.3h1.7M75.6 161.7h1.7M93.2 157.6h1.7M84.2 135.0h1.7M95.8 128.3h1.7M87.0 155.9h1.7M110.7 138.9h1.7M122.9 128.6h1.7M103.2 129.4h1.7M91.2 154.1h1.7M107.0 125.9h1.7M82.9 152.7h1.7M119.2 130.0h1.7M77.4 142.0h1.7M96.1 134.0h1.7M96.5 151.3h1.7M107.0 139.4h1.7M84.4 147.3h1.7M111.9 130.6h1.7M115.5 131.4h1.7M97.6 133.1h1.7M80.6 141.1h1.7M84.4 143.5h1.7M106.2 151.4h1.7M93.6 135.9h1.7M102.1 141.6h1.7M90.1 144.9h1.7M105.8 121.2h1.7M94.6 147.8h1.7M102.3 138.8h1.7M104.6 149.9h1.7M90.0 142.3h1.7M101.2 129.0h1.7M116.5 124.4h1.7M86.6 129.7h1.7M121.0 130.1h1.7M109.0 138.5h1.7M113.6 122.3h1.7M85.6 155.4h1.7M76.6 152.7h1.7M65.9 154.0h1.7M90.9 133.4h1.7M88.5 130.6h1.7M101.2 147.7h1.7M87.0 143.3h1.7M78.7 148.3h1.7M71.5 156.8h1.7M77.8 134.9h1.7M115.0 138.0h1.7M95.6 137.7h1.7M76.5 162.7h1.7M99.8 155.9h1.7M119.1 125.1h1.7M111.1 124.2h1.7M79.6 151.6h1.7M89.2 148.9h1.7M88.9 135.0h1.7M90.9 140.6h1.7M127.3 110.7h1.7M99.2 150.5h1.7M72.7 153.3h1.7M110.5 142.3h1.7M79.4 154.3h1.7M91.9 139.6h1.7M74.8 154.7h1.7M106.4 137.5h1.7M86.4 145.0h1.7M93.4 133.4h1.7M80.6 153.2h1.7M113.3 137.7h1.7M102.2 133.0h1.7M91.3 128.9h1.7M80.1 132.8h1.7M80.6 135.6h1.7M113.5 144.5h1.7M87.8 136.5h1.7M94.2 133.0h1.7M96.4 125.0h1.7M118.0 134.2h1.7M88.0 134.9h1.7M94.1 129.8h1.7M97.0 135.7h1.7M114.7 129.1h1.7M80.5 151.4h1.7M93.7 152.6h1.7M108.3 127.1h1.7M92.7 131.8h1.7M81.6 152.5h1.7M97.1 130.0h1.7M117.4 124.5h1.7M108.7 112.8h1.7M92.5 145.6h1.7M104.8 133.9h1.7M83.6 145.9h1.7M80.8 156.8h1.7M84.4 149.5h1.7M114.4 137.7h1.7M110.5 127.7h1.7M67.2 161.1h1.7M86.5 155.3h1.7M72.4 156.7h1.7M63.9 161.9h1.7M88.3 143.1h1.7M99.2 133.9h1.7M107.5 131.1h1.7M80.2 140.9h1.7M112.8 130.7h1.7M82.7 135.9h1.7M83.5 144.2h1.7M101.5 135.5h1.7M108.2 135.7h1.7M81.2 141.6h1.7M86.0 139.0h1.7M106.9 140.2h1.7M96.6 129.8h1.7M118.3 136.4h1.7M113.0 132.4h1.7M87.6 151.2h1.7M99.7 131.1h1.7M96.6 118.9h1.7M102.3 109.7h1.7M94.3 135.9h1.7M94.4 143.1h1.7M96.8 147.5h1.7M78.1 163.8h1.7M111.4 121.1h1.7M69.3 158.2h1.7M98.8 137.0h1.7M102.8 125.1h1.7M101.4 123.0h1.7M82.2 147.1h1.7M83.2 126.9h1.7M85.5 145.7h1.7M88.7 148.6h1.7M97.1 130.1h1.7M81.8 147.3h1.7M123.9 124.0h1.7M78.8 139.9h1.7M91.9 162.0h1.7M83.8 150.2h1.7M114.9 126.6h1.7M79.4 141.4h1.7M107.8 135.5h1.7M92.5 141.7h1.7M110.7 127.9h1.7M113.6 132.1h1.7M106.7 145.4h1.7M93.7 147.9h1.7M88.5 156.1h1.7M69.2 149.9h1.7M93.4 158.5h1.7M107.8 145.6h1.7M97.7 124.1h1.7M97.4 140.8h1.7M92.9 149.5h1.7M103.4 130.8h1.7M85.1 138.5h1.7M132.5 121.5h1.7M97.8 141.1h1.7M98.3 138.2h1.7M93.1 139.7h1.7M91.3 135.8h1.7M96.2 154.8h1.7M114.6 134.9h1.7M116.7 118.6h1.7M95.9 143.7h1.7M96.0 135.1h1.7M87.9 154.2h1.7M96.6 126.6h1.7M84.5 148.1h1.7M82.3 135.6h1.7M95.7 129.3h1.7M91.6 132.7h1.7M109.4 137.2h1.7M102.4 134.4h1.7M106.3 129.3h1.7M120.8 109.5h1.7M90.5 159.3h1.7M111.3 117.9h1.7M96.2 147.8h1.7M80.3 138.4h1.7M104.0 126.3h1.7M92.8 137.8h1.7M98.5 130.0h1.7M93.8 138.4h1.7M86.3 152.2h1.7M80.7 152.0h1.7M118.0 118.4h1.7M93.0 142.9h1.7M109.2 143.2h1.7M86.2 135.4h1.7M91.4 135.8h1.7M82.2 151.3h1.7M92.5 150.1h1.7M110.5 134.3h1.7M81.2 141.5h1.7M91.8 124.4h1.7M82.7 141.6h1.7M90.6 148.9h1.7M98.3 134.7h1.7M106.0 136.8h1.7M108.0 140.3h1.7M111.6 122.0h1.7M79.3 148.9h1.7M87.7 152.3h1.7M88.5 136.5h1.7M99.9 140.7h1.7M111.6 127.1h1.7M89.1 138.6h1.7M80.4 146.5h1.7M101.1 137.6h1.7M88.2 124.3h1.7M96.4 149.6h1.7M83.5 153.2h1.7M93.3 150.4h1.7M103.2 137.9h1.7M107.1 138.4h1.7M79.2 144.3h1.7M94.3 151.6h1.7M73.7 165.7h1.7M92.9 144.7h1.7M87.0 148.9h1.7M97.7 123.5h1.7M106.8 126.0h1.7M90.1 129.9h1.7M100.4 136.5h1.7M111.7 111.7h1.7M92.9 143.0h1.7M108.9 143.8h1.7M87.0 156.7h1.7M88.5 137.2h1.7M103.2 135.1h1.7M97.6 143.6h1.7M76.6 155.1h1.7M85.1 146.6h1.7M96.6 136.5h1.7M94.7 130.2h1.7M94.7 138.5h1.7M127.0 116.4h1.7M81.6 151.8h1.7M121.8 122.1h1.7M86.2 163.4h1.7M106.8 134.4h1.7M103.8 115.8h1.7M97.1 135.0h1.7M90.3 125.6h1.7M103.6 121.4h1.7M106.0 139.6h1.7M97.5 138.5h1.7M76.7 148.4h1.7M97.2 134.7h1.7M98.5 127.1h1.7M90.8 135.0h1.7M76.0 156.3h1.7M94.4 141.7h1.7M95.3 151.8h1.7M136.1 117.5h1.7M79.2 151.1h1.7M116.7 129.1h1.7M81.8 146.3h1.7M93.3 135.6h1.7M106.8 147.8h1.7M118.1 139.5h1.7M98.5 111.0h1.7M95.6 126.8h1.7M108.3 143.7h1.7M89.8 121.6h1.7M93.2 137.2h1.7M99.9 122.6h1.7M90.8 141.4h1.7M97.5 140.2h1.7M109.0 128.9h1.7M115.0 124.7h1.7M127.0 120.2h1.7M92.0 132.1h1.7M88.6 140.2h1.7M109.6 124.1h1.7M96.4 141.9h1.7M97.6 143.7h1.7M84.5 141.1h1.7M96.1 147.2h1.7M73.3 138.3h1.7M93.5 135.4h1.7M98.6 134.0h1.7M115.3 125.0h1.7M87.9 142.7h1.7M111.8 119.2h1.7M106.4 144.7h1.7M108.3 136.7h1.7M83.1 150.8h1.7M115.7 128.3h1.7M78.3 164.0h1.7M106.0 131.4h1.7M99.5 126.5h1.7M119.7 130.9h1.7M109.1 136.0h1.7M79.4 150.7h1.7M98.2 143.0h1.7M80.0 152.8h1.7M105.9 121.7h1.7M117.6 125.1h1.7M84.8 139.7h1.7M112.3 120.1h1.7M85.4 146.2h1.7M114.0 134.5h1.7M81.9 131.9h1.7M113.2 124.6h1.7M91.5 142.7h1.7M82.0 164.3h1.7M110.0 145.4h1.7M74.0 148.5h1.7M82.1 161.8h1.7M88.1 146.7h1.7M80.0 140.9h1.7M87.8 147.7h1.7M87.0 141.6h1.7M93.4 135.2h1.7M89.1 133.6h1.7M70.3 147.7h1.7M84.9 154.3h1.7M70.1 148.1h1.7M124.2 110.5h1.7M104.4 122.6h1.7M88.9 141.8h1.7M91.3 146.5h1.7M101.1 144.0h1.7M92.8 143.5h1.7M89.4 154.2h1.7M72.8 144.8h1.7M82.9 143.1h1.7M66.6 146.7h1.7M83.1 150.2h1.7M110.9 119.1h1.7M83.7 149.3h1.7M110.8 137.9h1.7M100.7 128.0h1.7M94.5 118.8h1.7M105.6 145.0h1.7M115.7 142.6h1.7M89.7 144.6h1.7M96.8 145.0h1.7M108.7 127.1h1.7M104.4 134.7h1.7M90.9 130.0h1.7M101.4 141.6h1.7M80.8 136.3h1.7M114.3 137.6h1.7M96.8 147.0h1.7M83.9 160.0h1.7M96.6 148.4h1.7M82.0 152.7h1.7M78.2 135.9h1.7M77.6 158.6h1.7M91.3 149.1h1.7M103.3 139.2h1.7M87.6 139.3h1.7M93.7 143.8h1.7M87.4 150.3h1.7M95.1 139.1h1.7M115.7 130.3h1.7M67.6 151.6h1.7M128.2 125.3h1.7M93.5 132.0h1.7M85.7 149.6h1.7M107.7 123.7h1.7M105.3 135.1h1.7M90.5 151.3h1.7M70.6 157.7h1.7M95.8 153.7h1.7M83.4 137.0h1.7M78.1 136.0h1.7M94.3 127.6h1.7M100.9 135.6h1.7M98.3 137.3h1.7M104.3 139.4h1.7M83.6 153.3h1.7M75.4 152.6h1.7M86.1 157.9h1.7M97.5 132.7h1.7M86.7 136.5h1.7M99.0 127.7h1.7M107.6 140.0h1.7M78.3 169.3h1.7M111.6 137.2h1.7M76.4 139.5h1.7M89.1 141.0h1.7M90.9 131.5h1.7M127.1 117.9h1.7M101.1 136.0h1.7M74.5 163.0h1.7M79.9 136.4h1.7M81.3 147.8h1.7M118.9 133.2h1.7M87.1 153.7h1.7M98.6 143.0h1.7M92.3 136.0h1.7M80.6 155.7h1.7M80.8 143.7h1.7M113.3 143.5h1.7M112.5 119.1h1.7M109.2 110.9h1.7M104.4 133.3h1.7M93.2 143.3h1.7M76.1 146.7h1.7M69.8 149.7h1.7M76.7 148.4h1.7M87.9 129.3h1.7M97.9 135.8h1.7M86.5 142.7h1.7M96.5 122.4h1.7M94.0 137.1h1.7M101.7 137.8h1.7M118.2 117.8h1.7M99.0 123.3h1.7M73.7 148.7h1.7M71.8 164.5h1.7M86.6 137.5h1.7M101.6 145.8h1.7M85.6 147.7h1.7M118.8 134.1h1.7M103.9 128.8h1.7M100.2 134.8h1.7M79.8 141.6h1.7M89.9 128.4h1.7M77.0 144.9h1.7M101.2 125.4h1.7M84.4 139.3h1.7M99.4 142.7h1.7M128.6 121.4h1.7M92.6 130.8h1.7M98.9 113.4h1.7M114.6 122.6h1.7M86.9 151.9h1.7M103.9 136.2h1.7M82.8 133.3h1.7M109.4 130.3h1.7M86.9 147.0h1.7M114.3 123.7h1.7M69.0 155.6h1.7M112.3 133.8h1.7M88.4 146.6h1.7M89.0 148.3h1.7M100.2 141.3h1.7M95.2 137.5h1.7M97.3 141.3h1.7M95.6 119.9h1.7M94.4 148.0h1.7M86.9 149.9h1.7M102.7 137.9h1.7M99.0 131.6h1.7M104.9 119.5h1.7M104.0 124.2h1.7M96.5 146.4h1.7M90.7 142.8h1.7M93.1 132.3h1.7M85.7 127.1h1.7M85.1 144.5h1.7M101.7 130.7h1.7M77.3 151.6h1.7M115.2 122.6h1.7M99.7 134.8h1.7M89.5 135.7h1.7M95.0 139.8h1.7M86.9 154.1h1.7M103.4 145.3h1.7M99.4 143.0h1.7M81.4 154.9h1.7M91.4 139.1h1.7M85.8 156.4h1.7M101.9 142.3h1.7M104.1 123.0h1.7M72.4 158.2h1.7M85.7 135.8h1.7M90.0 139.0h1.7M84.5 147.7h1.7M87.7 145.0h1.7M112.9 130.7h1.7M105.3 142.2h1.7M96.5 138.9h1.7M87.6 130.1h1.7M89.5 132.0h1.7M115.3 124.6h1.7M89.6 152.0h1.7M91.6 133.8h1.7M111.2 131.7h1.7M108.5 139.3h1.7M72.9 148.1h1.7M91.5 142.9h1.7M80.6 145.9h1.7M112.1 146.0h1.7M96.6 124.7h1.7M109.6 130.4h1.7M96.3 132.5h1.7M78.3 144.2h1.7M122.2 124.7h1.7M82.0 149.5h1.7M77.0 148.2h1.7M105.8 146.8h1.7M83.0 163.2h1.7M100.1 122.6h1.7M89.5 155.1h1.7M123.5 122.6h1.7M100.7 139.4h1.7M83.9 142.8h1.7M82.4 147.5h1.7M89.9 144.5h1.7M94.3 150.1h1.7M84.1 156.3h1.7M102.8 143.2h1.7M101.7 149.3h1.7M97.8 152.7h1.7M86.0 152.3h1.7M97.8 134.7h1.7M98.0 135.6h1.7M100.9 137.2h1.7M78.4 152.9h1.7M98.8 126.8h1.7M103.2 137.1h1.7M107.0 129.3h1.7M81.2 145.3h1.7M92.7 150.3h1.7M111.1 129.7h1.7M93.2 150.5h1.7M85.6 158.2h1.7M91.1 143.6h1.7M86.5 154.7h1.7M107.7 140.3h1.7M99.7 155.1h1.7M65.5 165.0h1.7M103.4 138.8h1.7M87.7 147.1h1.7M90.8 148.1h1.7M93.4 132.9h1.7M98.6 121.1h1.7M93.1 146.1h1.7M64.9 153.7h1.7M120.7 126.9h1.7M81.4 150.2h1.7M111.3 151.5h1.7M99.6 141.6h1.7M96.0 133.6h1.7M93.5 139.1h1.7M91.6 141.8h1.7M82.1 141.5h1.7M100.1 140.8h1.7M124.7 134.2h1.7M91.4 141.9h1.7M101.7 138.6h1.7M87.0 141.5h1.7M130.3 109.4h1.7M72.2 152.7h1.7M101.2 134.0h1.7M79.6 145.6h1.7M117.6 108.5h1.7M109.5 128.3h1.7M112.4 126.7h1.7M105.3 128.5h1.7M96.0 148.5h1.7M74.9 140.8h1.7M103.2 134.4h1.7M90.5 146.7h1.7M90.7 133.9h1.7M95.2 146.4h1.7M93.7 162.2h1.7M87.5 135.2h1.7M111.3 126.7h1.7M107.2 144.9h1.7M95.0 138.5h1.7M119.5 119.7h1.7M86.9 144.6h1.7M108.7 139.6h1.7M84.6 141.8h1.7M101.5 138.7h1.7M90.4 139.1h1.7M80.5 158.4h1.7M86.2 132.3h1.7M106.5 130.0h1.7M84.5 155.2h1.7M112.2 130.8h1.7M124.8 110.4h1.7M84.8 151.1h1.7M103.9 141.4h1.7M89.3 134.7h1.7M89.9 154.9h1.7M94.9 138.7h1.7M103.6 124.7h1.7M96.3 124.1h1.7M93.3 135.9h1.7M109.1 135.0h1.7M95.6 139.3h1.7M72.0 153.5h1.7M112.4 146.5h1.7M123.9 130.6h1.7M90.2 135.2h1.7M79.2 149.8h1.7M85.6 158.0h1.7M82.5 134.3h1.7M89.5 159.2h1.7M106.7 132.9h1.7M81.1 143.7h1.7M116.6 129.4h1.7M95.4 126.9h1.7M110.8 141.4h1.7M79.2 135.7h1.7M80.1 150.1h1.7M78.7 155.7h1.7M94.0 144.8h1.7M89.6 144.4h1.7M110.3 141.6h1.7M119.0 121.3h1.7M75.7 137.6h1.7M83.4 137.8h1.7M100.1 139.4h1.7M102.6 119.2h1.7M114.5 145.3h1.7M77.1 140.4h1.7M91.9 133.4h1.7M89.3 148.0h1.7M108.5 137.7h1.7M85.2 159.4h1.7M94.7 143.2h1.7M110.1 129.0h1.7M118.9 116.4h1.7M77.0 141.1h1.7M117.2 123.0h1.7M86.1 142.9h1.7M114.6 125.4h1.7M110.4 130.6h1.7M113.2 126.0h1.7M127.3 117.2h1.7M94.0 136.9h1.7M126.2 114.2h1.7M98.0 122.3h1.7M74.0 158.9h1.7M85.0 130.4h1.7M95.9 142.0h1.7M79.9 153.8h1.7M104.7 124.7h1.7M96.5 139.8h1.7M118.6 138.8h1.7M113.0 124.3h1.7M105.9 125.6h1.7M101.7 123.9h1.7M87.5 150.3h1.7M104.0 133.7h1.7M114.9 127.9h1.7M94.7 139.1h1.7M92.5 142.3h1.7M84.1 143.3h1.7M87.6 142.1h1.7M107.2 122.0h1.7M85.8 129.3h1.7M91.9 142.7h1.7M77.5 148.1h1.7M89.5 131.9h1.7M86.5 145.2h1.7M99.2 139.3h1.7M89.9 155.6h1.7M109.1 131.0h1.7M89.5 141.2h1.7M130.8 125.5h1.7M93.4 135.4h1.7M107.8 127.3h1.7M111.4 142.9h1.7M90.1 147.4h1.7M61.0 164.2h1.7M101.3 146.0h1.7M92.1 141.0h1.7M105.7 134.7h1.7M88.8 130.0h1.7M112.6 131.5h1.7M94.9 133.8h1.7M78.8 152.0h1.7M86.2 142.8h1.7M83.9 137.4h1.7M102.7 131.3h1.7M98.8 140.6h1.7M84.5 139.6h1.7M75.3 151.9h1.7M109.8 137.6h1.7M113.9 132.1h1.7M97.6 132.5h1.7M88.0 142.2h1.7M88.4 135.2h1.7M103.1 139.9h1.7M80.9 134.7h1.7M97.1 150.6h1.7M86.3 155.1h1.7M86.4 145.7h1.7M96.6 138.8h1.7M102.4 130.0h1.7M75.3 139.1h1.7M83.8 158.5h1.7M103.5 145.2h1.7M79.6 145.2h1.7M95.3 135.0h1.7M84.4 157.1h1.7M90.6 138.6h1.7M93.6 141.8h1.7M91.7 141.8h1.7M106.5 122.7h1.7M96.5 134.6h1.7M90.3 145.7h1.7M85.8 154.1h1.7M100.1 113.0h1.7M89.4 157.3h1.7M99.7 117.4h1.7M102.9 148.1h1.7M112.3 129.2h1.7M101.2 130.1h1.7M90.2 153.0h1.7M90.2 154.1h1.7M100.4 137.0h1.7M103.6 134.1h1.7M85.4 145.3h1.7M87.4 160.9h1.7M80.3 131.0h1.7M102.2 129.2h1.7M107.8 138.7h1.7M94.6 133.9h1.7M92.8 143.5h1.7M96.3 131.0h1.7M79.1 157.0h1.7M108.9 130.4h1.7M90.1 159.5h1.7M114.2 128.7h1.7M85.4 145.0h1.7M102.2 115.1h1.7M86.9 166.3h1.7M74.9 149.8h1.7M89.4 147.1h1.7M114.1 126.2h1.7M83.3 151.6h1.7M74.0 160.7h1.7M112.3 140.7h1.7M83.3 148.8h1.7M83.2 158.9h1.7M81.8 147.6h1.7M100.6 144.5h1.7M82.2 145.0h1.7M86.4 152.8h1.7M76.6 155.9h1.7M96.6 146.1h1.7M96.5 141.3h1.7M93.2 132.0h1.7M121.6 128.8h1.7M97.4 141.9h1.7M69.5 145.4h1.7M89.8 144.5h1.7M90.0 134.7h1.7M88.8 127.8h1.7M106.6 129.4h1.7M95.7 123.1h1.7M102.5 150.7h1.7M92.9 151.0h1.7M85.7 146.5h1.7M86.0 146.0h1.7M97.8 166.0h1.7M84.6 157.2h1.7M94.4 149.4h1.7M89.7 141.9h1.7M83.1 140.1h1.7M92.2 137.5h1.7M97.3 142.6h1.7M94.9 156.5h1.7M94.6 132.8h1.7M94.6 145.8h1.7M96.3 136.4h1.7M70.3 139.4h1.7M91.9 155.8h1.7M92.4 148.0h1.7M93.9 145.0h1.7M93.4 140.9h1.7M102.3 120.0h1.7M101.3 128.9h1.7M91.2 141.6h1.7M133.1 131.2h1.7M101.5 148.5h1.7M97.8 130.7h1.7M97.1 124.2h1.7M97.6 132.1h1.7M62.4 160.3h1.7" stroke="#1a1a1a" stroke-width="1.7" opacity="0.58" fill="none"/>
<path d="M96.3 131.4h1.6M88.9 147.1h1.6M95.5 163.8h1.6M55.3 121.4h1.6M85.0 176.5h1.6M33.4 189.9h1.6M98.6 170.1h1.6M41.6 145.1h1.6M75.0 118.0h1.6M114.7 148.8h1.6M97.3 164.6h1.6M133.1 141.0h1.6M84.2 176.6h1.6M52.7 135.3h1.6M69.0 153.9h1.6M87.9 189.6h1.6M19.0 154.6h1.6M56.4 179.2h1.6M132.9 136.5h1.6M108.9 115.6h1.6M99.2 144.9h1.6M8.2 186.0h1.6M98.1 158.1h1.6M76.0 129.1h1.6M102.4 135.5h1.6M50.6 129.2h1.6M46.1 188.2h1.6M85.7 158.5h1.6M47.7 182.8h1.6M83.6 107.7h1.6M86.7 113.4h1.6M100.0 126.7h1.6M76.6 120.7h1.6M107.7 148.1h1.6M125.3 156.3h1.6M99.5 137.8h1.6M79.4 150.4h1.6M59.8 163.7h1.6M58.6 147.9h1.6M100.3 154.3h1.6M92.1 131.0h1.6M94.8 133.1h1.6M89.6 142.5h1.6M55.2 199.6h1.6M108.4 174.1h1.6M118.2 129.4h1.6M78.1 146.4h1.6M107.8 102.1h1.6M58.6 144.7h1.6M65.8 139.3h1.6M80.8 154.9h1.6M64.9 180.5h1.6M74.3 152.5h1.6M70.9 179.1h1.6M125.7 122.2h1.6M70.8 120.7h1.6M130.7 118.0h1.6M95.8 140.9h1.6M22.1 167.5h1.6M57.2 157.1h1.6M145.1 125.2h1.6M70.1 136.3h1.6M95.6 126.8h1.6M46.0 177.5h1.6M93.9 143.5h1.6M60.7 165.4h1.6M71.6 112.4h1.6M123.7 131.5h1.6M91.7 132.1h1.6M50.8 174.9h1.6M116.6 125.1h1.6M48.9 180.0h1.6M99.8 142.8h1.6M89.3 165.4h1.6M96.0 178.0h1.6M52.5 126.7h1.6M92.1 155.3h1.6M121.3 96.0h1.6M82.4 160.4h1.6M48.3 164.0h1.6M72.7 203.0h1.6M44.0 151.7h1.6M69.1 137.0h1.6M92.6 149.6h1.6M112.9 140.6h1.6M85.1 148.0h1.6M47.8 163.2h1.6M50.8 170.7h1.6M113.5 147.2h1.6M122.3 126.5h1.6M86.7 172.9h1.6M51.9 182.8h1.6M65.1 154.4h1.6M111.8 155.8h1.6M45.4 161.8h1.6M80.3 113.2h1.6M66.2 162.9h1.6M82.4 197.3h1.6M139.3 132.4h1.6M55.4 167.1h1.6M56.4 165.2h1.6M58.6 152.2h1.6M89.2 160.0h1.6M75.6 186.8h1.6M72.1 158.4h1.6M49.5 136.1h1.6M110.8 150.7h1.6M79.7 148.7h1.6M85.0 134.5h1.6M60.2 199.8h1.6M104.6 150.9h1.6M97.0 137.3h1.6M41.1 171.2h1.6M83.6 134.6h1.6M114.4 144.0h1.6M103.1 148.0h1.6M67.5 157.8h1.6M72.3 111.2h1.6M115.3 162.3h1.6M82.9 132.4h1.6M93.3 172.9h1.6M100.6 140.5h1.6M146.8 131.9h1.6M87.0 179.8h1.6M79.9 161.6h1.6M54.1 150.4h1.6M107.8 136.8h1.6M74.7 131.5h1.6M67.5 153.0h1.6M85.4 117.6h1.6M82.1 168.3h1.6M87.1 134.2h1.6M96.7 141.1h1.6M88.7 175.7h1.6M34.1 162.2h1.6M122.3 147.3h1.6M87.8 132.5h1.6M94.3 155.2h1.6M113.6 162.9h1.6M41.0 177.5h1.6M117.5 130.4h1.6M114.3 144.2h1.6M132.8 138.8h1.6M97.2 110.0h1.6M50.8 176.4h1.6M78.3 168.6h1.6M78.6 136.9h1.6M81.0 137.8h1.6M67.4 166.6h1.6M106.8 161.0h1.6M96.6 146.9h1.6M84.6 140.8h1.6M77.0 109.4h1.6M122.4 171.2h1.6M104.5 114.6h1.6M106.6 142.4h1.6M123.1 122.4h1.6M45.1 144.6h1.6M121.1 161.0h1.6M57.9 167.1h1.6M154.4 99.8h1.6M99.8 163.8h1.6M50.9 170.2h1.6M51.9 162.8h1.6M82.3 122.6h1.6M102.3 162.3h1.6M86.1 148.0h1.6M59.0 160.9h1.6M116.5 139.0h1.6M118.0 105.0h1.6M68.1 163.5h1.6M87.9 133.6h1.6M67.0 148.0h1.6M92.9 132.1h1.6M75.2 181.3h1.6M90.9 129.3h1.6M19.2 182.6h1.6M53.3 149.5h1.6M92.3 125.7h1.6M87.3 129.4h1.6M94.8 129.5h1.6M126.2 114.1h1.6M84.6 162.0h1.6M82.1 140.5h1.6M65.7 154.7h1.6M41.9 171.3h1.6M108.1 139.5h1.6M98.8 179.2h1.6M71.0 141.3h1.6M73.9 149.4h1.6M124.4 135.4h1.6M59.9 165.8h1.6M95.8 170.0h1.6M96.8 133.6h1.6M119.2 145.7h1.6M102.0 145.2h1.6M94.0 146.4h1.6M76.4 140.3h1.6M97.9 132.1h1.6M72.4 184.5h1.6M77.1 142.6h1.6M68.6 158.5h1.6M78.2 140.1h1.6M116.0 117.9h1.6M77.8 187.7h1.6M108.7 143.0h1.6M89.9 145.0h1.6M69.5 140.8h1.6M54.7 189.0h1.6M49.4 138.2h1.6M55.5 112.1h1.6M73.4 175.1h1.6M66.3 148.0h1.6M143.1 127.9h1.6M102.1 135.9h1.6M100.6 177.4h1.6M98.4 147.6h1.6M95.4 161.6h1.6M98.7 142.5h1.6M62.1 151.7h1.6M99.9 146.2h1.6M92.0 125.2h1.6M7.9 168.0h1.6M67.0 152.1h1.6M55.5 178.5h1.6M73.0 137.2h1.6M107.6 136.0h1.6M74.0 151.1h1.6M82.9 164.0h1.6M36.9 194.8h1.6M105.4 142.1h1.6M150.2 112.4h1.6M102.4 151.1h1.6M91.0 115.0h1.6M35.9 158.0h1.6M121.8 135.1h1.6M31.0 204.6h1.6M127.2 140.4h1.6M48.4 175.5h1.6M115.5 154.8h1.6M78.9 186.1h1.6M106.8 130.9h1.6M65.8 155.2h1.6M74.0 128.0h1.6M105.1 153.7h1.6M105.2 144.1h1.6M161.4 107.9h1.6M87.7 170.3h1.6M88.8 149.7h1.6M155.2 150.2h1.6M74.0 184.5h1.6M88.1 182.3h1.6M92.3 199.2h1.6M61.7 153.1h1.6M86.4 158.3h1.6M98.1 172.8h1.6M106.7 121.0h1.6M96.6 134.4h1.6M48.6 152.2h1.6M87.1 163.2h1.6M83.4 153.5h1.6M43.2 129.3h1.6M126.6 167.2h1.6M45.8 152.2h1.6M113.9 145.5h1.6M120.1 150.1h1.6M49.6 164.7h1.6M90.5 170.3h1.6M50.8 128.2h1.6M112.3 118.5h1.6M65.3 147.4h1.6M66.2 177.3h1.6M89.2 148.6h1.6M88.1 130.0h1.6M70.4 187.8h1.6M71.1 142.7h1.6M46.9 160.7h1.6M35.0 197.8h1.6M87.2 176.6h1.6M93.4 139.6h1.6M55.7 163.3h1.6M19.5 210.2h1.6M70.6 145.5h1.6M126.2 109.2h1.6M131.8 138.4h1.6M76.5 154.5h1.6M102.5 83.6h1.6M100.5 123.7h1.6M114.5 136.3h1.6M47.0 167.3h1.6M25.6 134.0h1.6M38.8 167.4h1.6M21.9 166.8h1.6M118.8 164.8h1.6M132.4 160.3h1.6M82.1 168.3h1.6M45.5 170.5h1.6M90.2 164.1h1.6M64.8 191.8h1.6M109.2 144.4h1.6M74.9 159.3h1.6M101.3 169.3h1.6M56.7 160.0h1.6M54.0 179.4h1.6M81.3 134.4h1.6M132.8 145.6h1.6M110.2 148.0h1.6M138.8 151.9h1.6M90.2 131.9h1.6M58.6 148.5h1.6M97.7 147.8h1.6M72.9 142.5h1.6M87.6 170.4h1.6M55.1 167.2h1.6M90.1 132.1h1.6M77.4 162.4h1.6M109.3 160.8h1.6M82.9 169.1h1.6M101.3 143.9h1.6M18.3 155.6h1.6M58.3 149.1h1.6M95.7 130.4h1.6M86.6 143.3h1.6M19.0 184.0h1.6M69.5 175.7h1.6M77.0 160.2h1.6M57.2 166.5h1.6M81.8 137.7h1.6M143.0 127.8h1.6M137.2 150.7h1.6M49.7 160.7h1.6M105.9 156.4h1.6M79.1 150.3h1.6M70.5 128.8h1.6M88.7 126.1h1.6M108.8 112.1h1.6M73.3 191.9h1.6M83.8 170.1h1.6M98.5 163.0h1.6M116.6 132.9h1.6M90.1 153.1h1.6M60.7 138.1h1.6M65.7 158.4h1.6M85.0 145.5h1.6M109.7 145.6h1.6M93.3 165.0h1.6M124.8 98.5h1.6M92.7 158.3h1.6M78.4 168.1h1.6M123.3 143.4h1.6M110.0 145.9h1.6M131.6 145.0h1.6M80.3 160.9h1.6M73.1 141.6h1.6M87.4 167.6h1.6M88.9 170.2h1.6M101.5 152.1h1.6M54.2 155.5h1.6M118.6 145.5h1.6M52.8 143.4h1.6M60.9 176.2h1.6M75.9 194.4h1.6M48.0 180.6h1.6M63.3 141.1h1.6M104.9 153.9h1.6M69.2 138.7h1.6M107.9 152.6h1.6M48.4 120.9h1.6M78.8 139.4h1.6M98.7 171.6h1.6M87.3 166.1h1.6M106.7 89.3h1.6M97.8 113.0h1.6M63.9 158.3h1.6M75.1 167.7h1.6M64.8 155.5h1.6M96.5 128.6h1.6M21.2 189.3h1.6M52.8 139.0h1.6M144.4 124.1h1.6M77.8 154.4h1.6M22.9 208.5h1.6M65.0 178.5h1.6M33.2 206.4h1.6M75.4 129.2h1.6M91.5 158.6h1.6M93.6 189.2h1.6M80.1 185.5h1.6M101.7 117.7h1.6M38.2 181.0h1.6M111.1 119.4h1.6M52.7 130.7h1.6M108.4 138.9h1.6M74.9 131.3h1.6M62.7 162.2h1.6M83.5 116.2h1.6M105.1 142.9h1.6M64.5 173.2h1.6M75.5 117.9h1.6M83.4 138.7h1.6M98.1 158.2h1.6M81.1 142.0h1.6M90.8 140.4h1.6M98.2 159.0h1.6M101.4 134.4h1.6M92.2 156.7h1.6M78.2 149.0h1.6M139.7 152.3h1.6M58.6 147.6h1.6M55.6 122.5h1.6M133.8 133.7h1.6M142.6 131.3h1.6M17.1 168.5h1.6M107.2 133.9h1.6M101.4 147.6h1.6M45.5 140.9h1.6M97.6 140.7h1.6M114.0 139.8h1.6M33.8 167.5h1.6M73.4 161.2h1.6M24.1 137.3h1.6M85.8 118.6h1.6M103.9 159.9h1.6M114.7 148.5h1.6M96.8 109.7h1.6M72.7 168.4h1.6M117.1 119.6h1.6M43.0 168.1h1.6M128.2 131.5h1.6M36.3 165.4h1.6M107.2 156.6h1.6M116.1 163.9h1.6M93.3 155.1h1.6M101.4 161.2h1.6M92.1 164.7h1.6M97.1 130.3h1.6M97.2 142.6h1.6M85.7 146.8h1.6M91.7 150.5h1.6M40.4 156.9h1.6M76.7 137.0h1.6M61.9 208.3h1.6M65.6 132.4h1.6M107.6 139.9h1.6M95.1 143.9h1.6M78.9 161.7h1.6M49.6 178.9h1.6M115.6 147.9h1.6M102.0 140.6h1.6M121.6 143.7h1.6M26.0 173.4h1.6M42.2 164.7h1.6M123.8 109.9h1.6M95.2 119.5h1.6M31.3 159.7h1.6M71.0 143.7h1.6M16.0 175.8h1.6M79.1 143.4h1.6M34.8 145.8h1.6M71.3 174.0h1.6M132.8 167.7h1.6M73.3 142.1h1.6M62.2 179.2h1.6M64.5 152.8h1.6M47.3 170.7h1.6M89.8 126.5h1.6M90.0 138.3h1.6M86.6 127.1h1.6M56.2 147.7h1.6M76.4 142.0h1.6M47.4 168.4h1.6M113.1 147.2h1.6M80.7 145.8h1.6M105.6 114.1h1.6M153.7 125.5h1.6M96.2 150.0h1.6M113.8 99.5h1.6M61.7 165.4h1.6M83.3 165.7h1.6M83.4 130.9h1.6M67.4 194.5h1.6M49.3 145.0h1.6M56.5 156.2h1.6M95.9 138.7h1.6M58.8 199.7h1.6M122.9 126.1h1.6M43.7 183.9h1.6M92.0 141.0h1.6M124.9 160.5h1.6M76.6 150.8h1.6M90.8 149.7h1.6M93.7 177.1h1.6M122.4 152.3h1.6M54.8 180.0h1.6M57.4 129.4h1.6M106.6 103.3h1.6M30.6 134.7h1.6M56.3 174.6h1.6M130.4 141.7h1.6M100.0 159.3h1.6M73.0 155.1h1.6M70.8 138.7h1.6M102.8 105.2h1.6M89.3 148.9h1.6M29.5 155.4h1.6M85.3 130.7h1.6M82.6 140.8h1.6M78.3 142.3h1.6M85.8 166.9h1.6M32.7 160.1h1.6M97.7 149.7h1.6M103.9 142.1h1.6M32.7 204.0h1.6M62.9 160.2h1.6M56.0 182.5h1.6M75.7 129.6h1.6M107.2 157.2h1.6M80.9 109.3h1.6M107.6 147.5h1.6M150.9 123.3h1.6M132.0 124.5h1.6M18.3 149.5h1.6M119.6 139.8h1.6M101.7 168.4h1.6M82.5 153.7h1.6M92.0 145.8h1.6M70.2 157.6h1.6M107.8 162.4h1.6M87.7 155.9h1.6M89.1 126.9h1.6M58.9 167.5h1.6M65.1 140.1h1.6M52.3 132.8h1.6M116.6 139.7h1.6M92.1 94.8h1.6M84.6 154.7h1.6M72.7 175.3h1.6M86.6 157.0h1.6M79.3 146.2h1.6M71.5 158.1h1.6M116.4 126.6h1.6M57.6 152.0h1.6M119.1 158.4h1.6M103.5 146.6h1.6M92.1 121.7h1.6M76.7 164.8h1.6M111.4 174.3h1.6M79.0 171.6h1.6M115.5 110.0h1.6M86.3 162.5h1.6M97.2 148.8h1.6M134.6 144.7h1.6M51.6 154.3h1.6M58.2 160.9h1.6M104.4 141.0h1.6M113.4 144.3h1.6M49.1 128.9h1.6M58.2 139.4h1.6M45.8 165.7h1.6M127.9 110.9h1.6M109.3 147.7h1.6M75.8 135.5h1.6M131.6 119.6h1.6M137.6 122.2h1.6M80.9 151.6h1.6M64.7 146.9h1.6M91.2 127.9h1.6M90.8 121.7h1.6M34.8 174.2h1.6M104.5 120.6h1.6M145.2 137.3h1.6M92.0 170.8h1.6M75.8 153.5h1.6M94.0 142.0h1.6M104.2 112.5h1.6M41.1 142.0h1.6M73.0 151.2h1.6M60.6 177.1h1.6M37.3 157.4h1.6M116.6 115.7h1.6M61.7 102.7h1.6M84.7 150.2h1.6M85.5 162.6h1.6M77.3 154.3h1.6M62.7 159.0h1.6M91.7 165.1h1.6M55.6 144.2h1.6M67.6 146.8h1.6M88.4 173.9h1.6M89.2 185.3h1.6M114.3 130.9h1.6M81.7 153.3h1.6M67.1 172.0h1.6M93.2 137.1h1.6M76.0 165.5h1.6M43.8 162.2h1.6M41.7 138.9h1.6M63.1 174.7h1.6M106.7 115.4h1.6M74.2 167.7h1.6M80.6 136.8h1.6M76.6 176.8h1.6M23.5 157.0h1.6M86.2 154.9h1.6M51.6 148.9h1.6M113.8 134.2h1.6M55.5 174.6h1.6M87.6 172.0h1.6M97.5 121.0h1.6M64.1 161.1h1.6M76.1 165.8h1.6M93.2 181.2h1.6M42.8 144.2h1.6M64.0 150.3h1.6M63.4 148.5h1.6M64.3 170.9h1.6M78.1 145.8h1.6M51.2 181.2h1.6M116.6 125.2h1.6M94.3 167.7h1.6M89.4 164.0h1.6M64.7 144.6h1.6M106.1 105.7h1.6M113.6 157.7h1.6M87.8 148.0h1.6M99.1 118.1h1.6M83.6 156.7h1.6M71.3 122.3h1.6M84.9 139.2h1.6M137.3 159.6h1.6M48.7 177.6h1.6M50.7 118.8h1.6M121.8 176.9h1.6M88.2 183.3h1.6M126.3 133.9h1.6M104.8 174.2h1.6M35.9 175.1h1.6M63.2 172.8h1.6M88.6 153.9h1.6M116.8 174.7h1.6M122.3 127.9h1.6M89.7 174.4h1.6M103.4 159.5h1.6M27.1 210.1h1.6M86.3 93.3h1.6M89.1 154.6h1.6M50.4 195.7h1.6M83.4 128.8h1.6M60.6 162.8h1.6M80.2 141.3h1.6M103.8 164.8h1.6M86.4 146.7h1.6M143.2 136.4h1.6M73.7 156.0h1.6M67.1 157.1h1.6M65.4 142.9h1.6M97.1 133.2h1.6M56.3 155.3h1.6M55.9 164.4h1.6M69.5 139.9h1.6M109.6 138.4h1.6M105.8 138.4h1.6M84.2 117.1h1.6M84.7 169.9h1.6M73.1 163.9h1.6M28.7 146.4h1.6M64.6 203.7h1.6M90.3 127.6h1.6M92.1 141.9h1.6M88.6 137.3h1.6M91.9 167.0h1.6M105.1 139.9h1.6M100.3 142.1h1.6M82.2 130.0h1.6M92.0 175.0h1.6M90.9 154.9h1.6M134.8 142.3h1.6M140.5 137.1h1.6M116.8 106.5h1.6M97.5 142.9h1.6M45.5 180.5h1.6M91.8 148.3h1.6M95.9 143.2h1.6M123.9 117.1h1.6M70.1 123.2h1.6M84.4 161.4h1.6M102.1 152.7h1.6M89.9 151.2h1.6M86.8 182.5h1.6M56.3 162.9h1.6M59.3 186.2h1.6M75.4 154.0h1.6M64.6 195.6h1.6M78.9 176.6h1.6M84.8 149.2h1.6M73.2 141.6h1.6M103.8 152.3h1.6M130.1 87.6h1.6M69.9 139.7h1.6M59.6 137.2h1.6M66.2 177.5h1.6M67.0 154.3h1.6M108.6 139.8h1.6M91.1 142.9h1.6M82.5 141.1h1.6M117.3 126.3h1.6M65.0 154.4h1.6M84.9 136.4h1.6M128.7 130.8h1.6M101.9 141.9h1.6M53.1 159.4h1.6M99.9 143.5h1.6M57.9 137.4h1.6M67.8 171.4h1.6M45.5 211.8h1.6M11.6 178.0h1.6M118.0 123.3h1.6M57.6 127.1h1.6M76.3 162.3h1.6M65.6 164.6h1.6M63.1 151.5h1.6M85.2 178.8h1.6M128.6 149.8h1.6M44.4 150.2h1.6M56.1 161.8h1.6M119.4 159.4h1.6M54.9 187.0h1.6M67.2 150.7h1.6M90.7 110.3h1.6M126.9 166.3h1.6M106.3 118.0h1.6M97.2 152.8h1.6M73.3 189.9h1.6M92.1 168.0h1.6M75.6 144.5h1.6M79.0 166.7h1.6M109.1 160.8h1.6M26.6 149.4h1.6M102.0 134.2h1.6M122.0 138.9h1.6M81.0 156.9h1.6M65.6 141.8h1.6M85.2 139.0h1.6M79.5 148.3h1.6M48.6 168.9h1.6M83.0 130.3h1.6M96.0 130.0h1.6M116.9 78.8h1.6M129.8 156.2h1.6M81.5 131.4h1.6M100.0 181.0h1.6M82.7 160.2h1.6M81.6 143.5h1.6M106.1 165.9h1.6M116.4 102.0h1.6M72.9 150.4h1.6M106.6 124.2h1.6M61.0 153.2h1.6M91.1 157.7h1.6M85.2 126.1h1.6M78.6 213.7h1.6M75.0 135.6h1.6M106.8 114.0h1.6M86.4 172.5h1.6M115.0 166.8h1.6M94.9 158.6h1.6M63.5 160.2h1.6M127.9 131.9h1.6M74.0 135.1h1.6M127.5 164.9h1.6M109.2 167.4h1.6M89.3 129.7h1.6M97.3 129.6h1.6M103.7 165.3h1.6M89.6 149.5h1.6M46.4 161.0h1.6M70.5 126.9h1.6M112.3 148.7h1.6M82.8 135.5h1.6M47.6 153.6h1.6M84.3 141.6h1.6M44.8 174.2h1.6M48.2 144.7h1.6M75.7 153.1h1.6M81.3 117.7h1.6M89.2 159.1h1.6M90.3 129.2h1.6M61.2 161.2h1.6M86.3 159.0h1.6M34.1 169.4h1.6M85.1 154.6h1.6M85.4 108.4h1.6M70.9 145.1h1.6M64.0 142.2h1.6M84.3 162.7h1.6M89.8 149.4h1.6M89.2 189.4h1.6M50.2 180.8h1.6M98.6 156.9h1.6M74.9 165.6h1.6M57.0 161.9h1.6M113.4 130.9h1.6M128.7 135.9h1.6M64.3 166.0h1.6M62.3 166.4h1.6M102.4 112.4h1.6M86.1 105.3h1.6M65.3 173.8h1.6M89.6 182.4h1.6M48.1 143.3h1.6M74.3 120.9h1.6M60.5 150.7h1.6M48.5 166.5h1.6M75.2 146.8h1.6M84.6 129.3h1.6M62.4 124.2h1.6M53.3 176.6h1.6M62.8 175.1h1.6M128.0 130.2h1.6M68.5 149.6h1.6M104.3 108.7h1.6M72.4 186.7h1.6M107.3 145.9h1.6M69.8 144.5h1.6M63.7 147.8h1.6M68.5 162.6h1.6M62.9 204.9h1.6M38.5 162.5h1.6M83.6 147.8h1.6M72.9 146.6h1.6M93.1 126.6h1.6M91.9 133.8h1.6M121.9 147.4h1.6M128.9 168.2h1.6M76.9 144.4h1.6M72.7 129.0h1.6M85.9 140.3h1.6M98.9 90.4h1.6M89.1 134.5h1.6M109.2 181.7h1.6M45.2 174.1h1.6M57.4 170.4h1.6M38.5 181.7h1.6M91.2 129.3h1.6M115.1 148.0h1.6M92.6 176.3h1.6M85.5 152.7h1.6M90.2 142.4h1.6M43.7 185.6h1.6M73.5 130.4h1.6M148.4 97.0h1.6M104.1 168.9h1.6M135.9 116.6h1.6M99.2 145.3h1.6M65.1 165.7h1.6M68.4 180.5h1.6M119.6 109.1h1.6M83.5 136.5h1.6M120.3 116.7h1.6M82.5 160.0h1.6M111.9 122.7h1.6M68.6 132.5h1.6M93.9 183.0h1.6M97.2 112.7h1.6M87.5 118.9h1.6M130.9 119.9h1.6M87.8 171.3h1.6M72.2 152.6h1.6M106.3 157.1h1.6M113.6 157.0h1.6M20.8 160.7h1.6M43.2 164.8h1.6M76.2 130.9h1.6M82.3 109.3h1.6M70.3 142.4h1.6M73.8 163.0h1.6M113.0 180.0h1.6M93.2 130.6h1.6M84.3 151.2h1.6M75.7 131.7h1.6M77.3 183.6h1.6M41.5 155.8h1.6M112.6 124.4h1.6M59.5 178.6h1.6M101.4 114.6h1.6M51.1 150.0h1.6M103.0 100.5h1.6M51.4 172.9h1.6M64.7 167.4h1.6M84.4 125.7h1.6M107.9 122.3h1.6M129.7 137.6h1.6M127.0 110.8h1.6M115.9 131.0h1.6M94.9 109.4h1.6M137.3 136.0h1.6M56.7 174.9h1.6M98.7 117.4h1.6M100.8 107.0h1.6M62.1 158.5h1.6M50.6 125.8h1.6M90.1 157.1h1.6M88.2 152.2h1.6M83.6 139.9h1.6M95.2 164.1h1.6M121.5 137.8h1.6M117.8 170.3h1.6M62.9 151.2h1.6M101.7 134.6h1.6M95.8 133.2h1.6M115.3 149.5h1.6M96.9 128.0h1.6M112.9 142.4h1.6M93.9 133.0h1.6M111.0 116.1h1.6M108.5 148.7h1.6M110.1 159.1h1.6M116.3 134.8h1.6M147.0 114.4h1.6M95.4 118.7h1.6M87.4 161.0h1.6M63.3 148.6h1.6M93.7 132.7h1.6M72.3 171.0h1.6M71.2 132.4h1.6M123.6 134.3h1.6M72.0 165.0h1.6M109.7 132.1h1.6M28.9 127.3h1.6M88.4 144.5h1.6M88.3 148.9h1.6M64.0 152.8h1.6M103.9 109.7h1.6M58.2 145.5h1.6M120.1 164.3h1.6M74.8 166.9h1.6M42.5 146.9h1.6M116.6 111.2h1.6M115.7 104.6h1.6M78.3 148.4h1.6M93.1 124.5h1.6M49.6 150.8h1.6M110.2 92.3h1.6M46.4 166.1h1.6M52.8 164.5h1.6M89.5 147.4h1.6M86.5 120.8h1.6M97.8 138.2h1.6M76.4 134.5h1.6M60.7 150.0h1.6M139.1 131.3h1.6M58.5 136.7h1.6M76.1 161.9h1.6M109.8 165.4h1.6M97.7 169.4h1.6M75.0 153.6h1.6M108.4 117.6h1.6M145.3 102.7h1.6M122.0 109.4h1.6M74.7 142.0h1.6M98.0 157.7h1.6M124.7 140.1h1.6M80.9 129.6h1.6M88.0 203.5h1.6M61.1 183.0h1.6M65.3 154.7h1.6M99.3 118.4h1.6M61.8 153.5h1.6M44.8 168.9h1.6M105.6 142.7h1.6M112.8 137.4h1.6M70.9 152.4h1.6M62.6 146.8h1.6M86.7 179.4h1.6M97.5 143.4h1.6M35.7 180.5h1.6M61.2 161.5h1.6M71.3 210.8h1.6M74.4 149.6h1.6M30.6 142.4h1.6M106.1 149.7h1.6M91.4 147.1h1.6M42.0 175.6h1.6M56.4 177.3h1.6M78.3 139.5h1.6M78.1 109.0h1.6M95.2 177.3h1.6M67.3 162.2h1.6M79.0 127.7h1.6M114.7 156.3h1.6M77.9 130.3h1.6M67.1 166.2h1.6M130.1 138.3h1.6M112.8 156.7h1.6M126.2 168.4h1.6M100.6 155.2h1.6M109.2 140.3h1.6M46.2 190.3h1.6M140.2 126.8h1.6M77.2 186.8h1.6M54.5 190.1h1.6M53.8 198.7h1.6M114.4 143.3h1.6M102.7 122.7h1.6M70.4 191.8h1.6M81.2 166.2h1.6M82.9 191.7h1.6M95.5 182.3h1.6M101.6 121.0h1.6M61.9 153.9h1.6M34.3 162.1h1.6M76.1 170.7h1.6M92.5 145.3h1.6M105.9 132.9h1.6M86.7 148.2h1.6M57.0 184.1h1.6M130.7 152.6h1.6M93.8 189.0h1.6M99.0 161.9h1.6M82.1 155.4h1.6M103.9 158.7h1.6M80.1 162.3h1.6M111.3 155.2h1.6M87.5 117.0h1.6M121.4 109.3h1.6M97.7 124.9h1.6M72.3 146.6h1.6M30.9 171.3h1.6M94.2 181.0h1.6M75.7 144.5h1.6M106.6 150.8h1.6M89.8 158.6h1.6M38.1 162.3h1.6M125.7 100.2h1.6M31.1 149.1h1.6M83.4 189.1h1.6M147.4 144.0h1.6M171.4 130.6h1.6M90.0 105.7h1.6M115.5 120.7h1.6M78.9 126.8h1.6M71.0 122.7h1.6M144.7 144.5h1.6M70.2 126.3h1.6M84.3 139.2h1.6M83.5 167.3h1.6M105.6 138.5h1.6M124.9 141.3h1.6M100.1 146.3h1.6M66.4 114.0h1.6M52.9 180.5h1.6M103.1 152.6h1.6M68.4 131.0h1.6M109.8 123.4h1.6M76.4 137.5h1.6M76.7 138.9h1.6M65.2 167.6h1.6M75.8 157.9h1.6M86.6 145.9h1.6M68.7 141.3h1.6M104.5 157.1h1.6M92.1 177.3h1.6M100.8 163.9h1.6M52.1 170.5h1.6M59.2 130.6h1.6M53.6 183.5h1.6M110.3 75.8h1.6M91.1 176.4h1.6M93.6 131.9h1.6M23.4 189.2h1.6M136.2 146.4h1.6M49.8 178.3h1.6M83.9 124.0h1.6M39.7 160.7h1.6M97.0 117.8h1.6M78.0 148.8h1.6M126.7 167.2h1.6M102.7 159.3h1.6M124.8 73.3h1.6M130.9 126.5h1.6M138.7 141.4h1.6M102.7 131.9h1.6M75.0 153.7h1.6M83.7 166.0h1.6M109.3 159.7h1.6M91.6 144.8h1.6M118.8 141.2h1.6M60.8 190.6h1.6M70.3 138.5h1.6M64.3 143.2h1.6M72.1 136.9h1.6M51.5 159.0h1.6M106.2 136.7h1.6M91.0 154.5h1.6M90.3 138.2h1.6M108.9 148.9h1.6M23.2 174.3h1.6M98.0 171.9h1.6M73.9 110.4h1.6M93.8 149.6h1.6M87.4 149.4h1.6M115.1 148.5h1.6M31.9 158.1h1.6M75.2 120.5h1.6M126.8 108.0h1.6M97.4 163.7h1.6M58.2 145.5h1.6M87.3 126.4h1.6M107.5 143.9h1.6M101.5 138.2h1.6M58.4 143.8h1.6M22.8 150.9h1.6M79.3 169.8h1.6M93.0 109.7h1.6M87.0 139.7h1.6M84.6 135.9h1.6M93.0 177.4h1.6M60.1 144.6h1.6M119.6 139.8h1.6M109.1 178.3h1.6M99.7 131.8h1.6M102.9 131.0h1.6M84.3 170.5h1.6M56.7 176.9h1.6M67.2 146.3h1.6M75.8 131.5h1.6M91.5 125.1h1.6M75.6 149.9h1.6M102.6 175.1h1.6M50.4 166.5h1.6M129.6 181.0h1.6M95.6 164.4h1.6M93.4 127.4h1.6M105.9 161.3h1.6M96.4 137.2h1.6M74.7 129.9h1.6M47.7 153.2h1.6M118.9 113.3h1.6M106.3 121.5h1.6M109.1 114.8h1.6M53.5 174.6h1.6M97.1 127.6h1.6M75.8 139.1h1.6M69.4 178.6h1.6M125.5 133.6h1.6M104.0 136.5h1.6M75.4 136.9h1.6M101.4 144.7h1.6M111.1 142.3h1.6M44.6 142.5h1.6M80.1 154.0h1.6M46.1 173.1h1.6M48.5 176.2h1.6M45.7 165.5h1.6M83.4 141.2h1.6M86.1 143.3h1.6M35.2 163.3h1.6M78.8 150.3h1.6M58.7 185.8h1.6M91.4 118.4h1.6M79.7 133.9h1.6M51.8 147.2h1.6M123.0 122.6h1.6M106.3 125.0h1.6M67.1 169.8h1.6M137.9 163.7h1.6M72.4 159.2h1.6M45.3 162.2h1.6M121.2 142.1h1.6M56.7 136.1h1.6M101.6 186.1h1.6M50.9 173.7h1.6M50.2 158.4h1.6M82.3 130.4h1.6M78.1 147.6h1.6M74.7 156.5h1.6M39.0 183.4h1.6M127.5 119.2h1.6M49.4 184.9h1.6M64.5 152.9h1.6M88.1 172.0h1.6M63.9 148.5h1.6M88.8 132.7h1.6M88.3 163.8h1.6M91.3 156.8h1.6M102.2 170.9h1.6M90.1 151.3h1.6M80.2 168.1h1.6M25.2 160.4h1.6M120.0 121.0h1.6M112.7 164.2h1.6M72.2 175.3h1.6M52.2 160.1h1.6M113.9 128.1h1.6M54.1 157.3h1.6M110.6 152.5h1.6M86.1 96.1h1.6M38.0 164.8h1.6M98.4 118.4h1.6M8.4 117.7h1.6M49.5 191.7h1.6M119.9 124.6h1.6M78.1 147.6h1.6M109.0 146.9h1.6M94.3 126.2h1.6M125.6 165.4h1.6M111.2 151.2h1.6M75.0 148.1h1.6M138.0 115.5h1.6M73.2 142.5h1.6M117.9 160.4h1.6M42.6 131.7h1.6M72.8 163.4h1.6M62.8 157.1h1.6M122.0 146.6h1.6M57.5 172.7h1.6M82.2 158.6h1.6M91.1 156.2h1.6M62.8 171.6h1.6M35.7 168.0h1.6M52.0 158.7h1.6M104.2 162.4h1.6M82.1 178.8h1.6M71.8 154.0h1.6M46.6 164.0h1.6M146.7 118.1h1.6M107.6 149.2h1.6M35.6 166.9h1.6M79.2 124.7h1.6M107.3 130.0h1.6M56.2 152.4h1.6M117.6 136.6h1.6M94.0 104.5h1.6M115.2 128.7h1.6M107.6 164.2h1.6M50.2 163.4h1.6M107.6 145.9h1.6M87.3 116.5h1.6M93.6 144.6h1.6M89.2 116.7h1.6M73.7 154.5h1.6M128.1 124.4h1.6M37.7 154.8h1.6M52.2 110.9h1.6M87.2 173.6h1.6M78.2 112.1h1.6M79.0 177.0h1.6M44.6 163.2h1.6M44.8 154.3h1.6M29.4 118.5h1.6M111.8 140.2h1.6M77.0 160.9h1.6M74.8 148.5h1.6M95.8 156.9h1.6M97.2 140.0h1.6M124.6 123.5h1.6M62.2 193.9h1.6M59.7 142.7h1.6M87.6 149.5h1.6M67.5 130.7h1.6M82.0 161.1h1.6M129.7 130.8h1.6M129.1 152.7h1.6M116.3 147.1h1.6M111.3 145.5h1.6M41.3 142.9h1.6M69.5 170.2h1.6M114.4 125.0h1.6M86.3 178.4h1.6M113.2 136.1h1.6M62.2 123.0h1.6M118.6 135.9h1.6M81.2 152.2h1.6M80.8 162.0h1.6M80.4 146.9h1.6M89.4 116.8h1.6M78.7 139.8h1.6M131.7 164.8h1.6M107.5 160.4h1.6M112.2 132.3h1.6M99.1 175.1h1.6M99.7 155.0h1.6M37.0 180.9h1.6M106.7 120.2h1.6M74.7 162.2h1.6M88.0 123.9h1.6M91.9 158.2h1.6M56.3 183.7h1.6M45.5 194.0h1.6M113.4 159.4h1.6M26.9 185.8h1.6M76.5 156.7h1.6M72.2 183.6h1.6M78.0 151.2h1.6M49.1 160.8h1.6M30.6 175.6h1.6M63.7 162.7h1.6M33.8 174.6h1.6M94.3 135.0h1.6M70.4 137.4h1.6M71.7 159.9h1.6M77.6 170.3h1.6M47.0 164.1h1.6M107.1 157.9h1.6M40.8 184.8h1.6M70.9 156.6h1.6M82.6 146.7h1.6M92.6 138.9h1.6M109.9 145.1h1.6M41.2 187.1h1.6M62.5 120.7h1.6M35.9 159.6h1.6M106.0 143.5h1.6M68.2 128.8h1.6M87.1 147.9h1.6M96.8 153.5h1.6M84.4 139.4h1.6M56.6 105.9h1.6M108.2 146.8h1.6M79.8 132.8h1.6M82.6 140.3h1.6M93.7 164.2h1.6M96.4 140.7h1.6M86.8 149.0h1.6M75.8 145.8h1.6M92.7 133.1h1.6M87.7 155.2h1.6M80.0 154.9h1.6M122.5 134.5h1.6M82.0 140.6h1.6M63.1 164.2h1.6M99.3 165.5h1.6M70.0 183.5h1.6M80.0 155.0h1.6M113.7 147.5h1.6M87.4 131.7h1.6M80.4 147.1h1.6M103.8 118.5h1.6M116.3 132.1h1.6M68.8 161.6h1.6M83.6 126.1h1.6M112.3 128.0h1.6M105.2 126.8h1.6M75.1 170.1h1.6M99.9 140.0h1.6M54.5 189.2h1.6M89.2 113.8h1.6M42.5 170.4h1.6M97.1 144.4h1.6M49.9 176.0h1.6M99.2 151.0h1.6M71.8 142.2h1.6M71.2 175.9h1.6M89.6 147.5h1.6M99.4 154.7h1.6M103.0 158.3h1.6M59.5 188.3h1.6M98.7 128.1h1.6M92.7 128.8h1.6M87.9 137.6h1.6M20.0 205.6h1.6M58.5 182.3h1.6M94.8 179.4h1.6M48.3 181.0h1.6M51.5 145.3h1.6M55.4 152.5h1.6M100.2 152.9h1.6M105.1 87.3h1.6M18.0 160.0h1.6M85.0 140.1h1.6M111.9 141.1h1.6M62.3 150.1h1.6M120.2 106.9h1.6M46.6 152.7h1.6M95.9 148.2h1.6M87.8 116.2h1.6M79.9 131.9h1.6M71.1 124.4h1.6M56.8 158.9h1.6M61.9 115.4h1.6M85.6 133.2h1.6M91.5 158.4h1.6M131.6 143.8h1.6M120.9 147.9h1.6M41.6 163.3h1.6M81.0 150.8h1.6M120.9 138.6h1.6M106.1 143.7h1.6M55.6 194.5h1.6M90.8 143.7h1.6M32.7 146.2h1.6M107.9 152.4h1.6M31.4 146.2h1.6M82.9 134.7h1.6M120.2 137.6h1.6M60.4 108.5h1.6M123.1 119.2h1.6M57.5 173.5h1.6M78.4 165.9h1.6M117.5 104.5h1.6M101.9 118.9h1.6M97.3 152.9h1.6M131.7 122.0h1.6M91.8 137.8h1.6M66.3 148.3h1.6M23.3 149.4h1.6M74.6 168.6h1.6M100.3 170.0h1.6M42.4 164.8h1.6M90.1 171.6h1.6M65.1 172.1h1.6M123.7 148.6h1.6M72.9 153.6h1.6M107.3 130.7h1.6M101.7 140.0h1.6M114.8 139.9h1.6M93.1 136.9h1.6M97.5 138.4h1.6M167.5 106.1h1.6M85.0 142.9h1.6M33.0 180.9h1.6M99.6 149.2h1.6M91.0 170.6h1.6M89.6 132.7h1.6M68.1 184.8h1.6M67.9 147.8h1.6M47.3 158.5h1.6M106.6 147.4h1.6M89.8 163.2h1.6M118.1 145.9h1.6M35.9 179.1h1.6M89.7 184.1h1.6M130.0 129.6h1.6M70.6 180.6h1.6M75.0 143.4h1.6M116.1 134.7h1.6M78.4 137.7h1.6M82.3 189.1h1.6M51.9 138.0h1.6M116.7 120.9h1.6M81.2 152.8h1.6M128.3 94.3h1.6M94.6 149.1h1.6M97.6 149.5h1.6M115.8 182.9h1.6M105.9 163.9h1.6M77.6 138.3h1.6M62.1 128.3h1.6M128.2 91.8h1.6M115.8 119.8h1.6M70.6 144.8h1.6M60.0 144.8h1.6M83.2 154.4h1.6M9.7 160.3h1.6M100.8 166.3h1.6M80.2 126.0h1.6M119.5 110.6h1.6M76.9 152.4h1.6M80.7 192.8h1.6M75.4 161.2h1.6M57.7 152.4h1.6M79.2 151.2h1.6M84.7 129.4h1.6M119.0 145.8h1.6M90.6 136.4h1.6M115.9 130.0h1.6M106.2 146.3h1.6M56.6 172.3h1.6M91.3 118.7h1.6M108.5 112.1h1.6M45.4 190.2h1.6M112.3 147.7h1.6M89.0 175.1h1.6M124.5 146.7h1.6M89.9 140.8h1.6M73.5 143.9h1.6M95.6 179.5h1.6M80.2 177.9h1.6M93.0 168.1h1.6M117.0 93.7h1.6M64.8 154.9h1.6M72.0 147.4h1.6M87.6 141.3h1.6M87.3 148.1h1.6M69.2 105.8h1.6M127.9 119.8h1.6M122.5 162.2h1.6M61.1 170.1h1.6M92.3 155.6h1.6M39.2 165.9h1.6M116.8 117.5h1.6M66.1 135.9h1.6M89.7 153.4h1.6M116.0 174.1h1.6M86.4 165.2h1.6M48.7 169.5h1.6M73.2 161.5h1.6M116.7 128.6h1.6M106.7 151.1h1.6M101.2 149.7h1.6M76.7 175.9h1.6M79.0 137.8h1.6M55.7 213.7h1.6M94.9 158.5h1.6M107.9 132.5h1.6M69.0 174.4h1.6M108.6 172.3h1.6M76.8 149.3h1.6M42.7 165.5h1.6M17.6 142.1h1.6M82.7 153.2h1.6M111.8 121.2h1.6M94.7 141.4h1.6M56.9 160.6h1.6M78.7 147.0h1.6M91.3 154.6h1.6M50.8 162.5h1.6M87.6 128.9h1.6M105.8 118.9h1.6M89.7 145.7h1.6M73.9 143.0h1.6M84.8 148.7h1.6M79.9 103.8h1.6M91.1 147.4h1.6M69.5 172.8h1.6M74.2 159.4h1.6M132.7 149.4h1.6M72.5 175.9h1.6M114.6 188.9h1.6M103.3 125.0h1.6M96.2 149.7h1.6M71.8 122.2h1.6M79.0 133.9h1.6M95.1 161.8h1.6M102.0 129.0h1.6M59.4 126.2h1.6M107.6 146.4h1.6M87.9 135.2h1.6M42.8 180.0h1.6M115.2 157.3h1.6M96.0 161.0h1.6M57.6 193.5h1.6M121.6 111.4h1.6M60.0 169.6h1.6M102.9 130.7h1.6M34.8 201.0h1.6M114.3 130.6h1.6M98.2 124.3h1.6M48.8 140.7h1.6M92.8 123.9h1.6M107.5 137.2h1.6M68.9 149.6h1.6M52.1 123.2h1.6M89.8 139.7h1.6M87.3 120.9h1.6M61.7 142.7h1.6M68.5 159.4h1.6M75.6 125.5h1.6M90.0 181.7h1.6M118.7 137.7h1.6M79.9 141.0h1.6M70.5 145.1h1.6M35.2 151.9h1.6M82.6 178.3h1.6M46.1 137.0h1.6M93.9 140.6h1.6M76.1 149.9h1.6M67.2 184.7h1.6M113.6 119.3h1.6M88.7 145.8h1.6M88.3 150.4h1.6M22.1 171.1h1.6M95.1 147.7h1.6M38.1 192.8h1.6M84.2 125.2h1.6M84.7 161.1h1.6M54.6 178.9h1.6M130.9 162.1h1.6M116.2 117.6h1.6M102.6 108.3h1.6M103.9 150.6h1.6M55.8 164.8h1.6M64.4 149.6h1.6M121.4 130.3h1.6M87.6 157.9h1.6M91.4 169.2h1.6M49.4 157.1h1.6M57.5 146.8h1.6M70.6 154.2h1.6M87.7 142.3h1.6M63.1 146.7h1.6M122.8 130.0h1.6M72.9 126.9h1.6M49.3 168.2h1.6M97.8 152.6h1.6M85.9 155.5h1.6M71.9 145.1h1.6" stroke="#1a1a1a" stroke-width="1.6" opacity="0.45" fill="none"/>
<path d="M51.6 158.7h1.6M101.1 187.5h1.6M65.0 169.0h1.6M89.4 102.8h1.6M71.6 160.0h1.6M64.9 149.0h1.6M44.0 173.7h1.6M31.6 173.4h1.6M75.2 145.3h1.6M51.6 159.9h1.6M90.5 139.1h1.6M48.3 183.8h1.6M103.0 123.5h1.6M105.9 119.5h1.6M122.1 170.2h1.6M90.4 178.4h1.6M97.9 184.2h1.6M85.9 175.7h1.6M107.2 141.5h1.6M48.0 192.7h1.6M112.1 121.4h1.6M82.7 128.2h1.6M94.5 168.6h1.6M60.1 168.5h1.6M98.1 183.8h1.6M80.2 133.1h1.6M14.6 164.9h1.6M15.8 143.9h1.6M135.4 156.7h1.6M26.7 174.6h1.6M76.0 138.9h1.6M24.3 174.2h1.6M92.3 182.4h1.6M22.2 156.0h1.6M93.3 156.9h1.6M19.8 179.2h1.6M59.4 183.3h1.6M106.4 156.8h1.6M69.7 159.6h1.6M74.4 155.3h1.6M28.5 162.9h1.6M77.5 175.5h1.6M99.7 186.1h1.6M18.7 138.1h1.6M63.8 179.7h1.6M97.5 104.1h1.6M5.4 135.3h1.6M59.3 169.4h1.6M118.0 179.6h1.6M34.2 183.2h1.6M46.1 144.0h1.6M74.0 118.9h1.6M33.2 183.9h1.6M22.3 168.7h1.6M59.1 169.8h1.6M85.4 133.5h1.6M65.4 199.1h1.6M78.3 176.5h1.6M37.4 147.3h1.6M83.2 153.4h1.6M15.4 138.9h1.6M27.8 166.6h1.6M47.0 172.4h1.6M1.0 157.1h1.6M111.6 168.0h1.6M105.2 172.5h1.6M111.9 149.0h1.6M96.7 189.4h1.6M104.3 101.1h1.6M81.5 175.1h1.6M23.3 184.9h1.6M106.7 161.6h1.6M87.7 92.5h1.6M44.3 168.7h1.6M48.7 159.1h1.6M122.6 141.7h1.6M100.9 167.0h1.6M102.7 159.9h1.6M114.7 140.9h1.6M104.3 170.4h1.6M41.8 176.6h1.6M95.9 135.9h1.6M99.9 144.4h1.6M118.2 182.7h1.6M108.2 191.7h1.6M39.3 180.3h1.6M1.0 142.6h1.6M96.9 115.9h1.6M31.3 167.6h1.6M92.5 161.9h1.6M102.1 172.0h1.6M69.7 154.5h1.6M101.8 161.6h1.6M69.5 142.5h1.6M75.7 99.8h1.6M23.4 173.8h1.6M66.7 183.9h1.6M106.9 105.4h1.6M80.8 155.9h1.6M133.8 171.7h1.6M119.7 139.9h1.6M61.7 203.1h1.6M97.8 154.5h1.6M114.4 159.1h1.6M39.4 153.0h1.6M66.9 130.1h1.6M42.0 167.8h1.6M46.8 152.2h1.6M57.5 162.8h1.6M98.4 158.5h1.6M80.6 157.3h1.6M90.2 140.0h1.6M114.9 153.9h1.6M86.4 140.9h1.6M52.7 177.6h1.6M92.0 163.0h1.6M1.0 185.0h1.6M103.2 139.7h1.6M75.8 168.3h1.6M58.5 104.3h1.6M65.7 167.8h1.6M85.4 114.2h1.6M21.0 192.5h1.6M54.4 144.5h1.6M33.7 88.9h1.6M152.2 175.1h1.6M54.3 162.8h1.6M84.3 170.6h1.6M54.9 138.8h1.6M74.5 128.1h1.6M71.9 150.2h1.6M58.0 190.7h1.6M56.1 184.7h1.6M105.9 172.0h1.6M18.5 182.6h1.6M79.8 159.3h1.6M90.5 156.4h1.6M95.9 202.2h1.6M72.4 135.6h1.6M131.0 173.8h1.6M8.6 215.2h1.6M39.1 171.3h1.6M60.1 167.9h1.6M97.9 188.3h1.6M48.0 173.2h1.6M88.4 147.9h1.6M20.3 204.8h1.6M52.4 192.5h1.6M30.5 217.2h1.6M27.3 159.6h1.6M87.0 152.2h1.6M64.0 193.2h1.6M138.5 184.7h1.6M74.3 148.3h1.6M75.1 153.1h1.6M61.6 201.9h1.6M75.4 169.1h1.6M113.3 179.5h1.6M81.0 196.8h1.6M92.2 144.7h1.6M95.4 162.8h1.6M64.6 131.5h1.6M20.5 135.3h1.6M29.7 173.8h1.6M73.4 161.5h1.6M50.6 130.7h1.6M103.7 189.8h1.6M39.7 171.2h1.6M74.3 146.1h1.6M86.4 126.0h1.6M99.2 119.1h1.6M99.5 156.4h1.6M41.1 184.4h1.6M70.4 135.3h1.6M78.7 119.6h1.6M58.9 154.3h1.6M71.6 154.6h1.6M62.6 199.7h1.6M84.2 159.8h1.6M31.7 146.1h1.6M76.7 185.5h1.6M95.1 156.5h1.6M18.7 164.5h1.6M83.6 192.6h1.6M58.3 200.3h1.6M107.6 169.7h1.6M71.4 160.9h1.6M45.5 179.0h1.6M114.5 152.6h1.6M74.9 125.9h1.6M87.5 132.0h1.6M17.4 191.3h1.6M79.4 101.9h1.6M13.5 197.3h1.6M108.6 158.2h1.6M112.6 187.3h1.6M108.1 165.5h1.6M53.0 187.0h1.6M85.9 162.1h1.6M89.7 156.9h1.6M59.3 124.5h1.6M50.0 142.9h1.6M60.6 140.3h1.6M27.9 191.0h1.6M121.4 130.0h1.6M43.7 192.3h1.6M87.5 163.9h1.6M98.7 153.0h1.6M115.4 157.2h1.6M66.0 173.5h1.6M126.6 180.5h1.6M90.7 217.2h1.6M46.3 127.9h1.6M13.2 139.2h1.6M74.9 146.8h1.6M59.1 140.2h1.6M66.6 140.2h1.6M68.0 186.2h1.6M72.1 178.6h1.6M4.3 130.1h1.6M89.3 150.5h1.6M31.1 120.5h1.6M51.4 162.7h1.6M72.8 118.4h1.6M5.7 177.4h1.6M64.7 180.0h1.6M66.1 164.2h1.6M34.8 134.8h1.6M64.7 149.6h1.6M91.4 150.6h1.6M70.5 188.2h1.6M55.3 120.6h1.6M8.3 189.7h1.6M60.1 147.8h1.6M19.7 186.4h1.6M96.2 140.7h1.6M83.2 153.1h1.6M54.8 194.7h1.6M47.6 155.9h1.6M143.5 146.4h1.6M69.4 173.5h1.6M86.2 172.8h1.6M94.3 173.5h1.6M99.7 143.5h1.6M13.9 134.6h1.6M108.4 98.8h1.6M75.1 151.8h1.6M109.7 119.2h1.6M45.7 212.6h1.6M63.2 189.9h1.6M94.3 137.3h1.6M100.2 114.0h1.6M106.3 115.8h1.6M98.5 200.1h1.6M31.8 147.8h1.6M14.5 175.9h1.6M69.3 205.4h1.6M139.4 165.9h1.6M89.9 155.4h1.6M1.0 199.6h1.6M93.9 130.8h1.6M20.9 179.5h1.6M40.5 173.4h1.6M88.5 203.1h1.6M33.9 212.3h1.6M61.4 122.6h1.6M50.4 137.5h1.6M11.4 154.1h1.6M19.2 192.4h1.6M169.7 150.8h1.6M44.3 144.6h1.6M43.0 164.8h1.6M35.3 119.8h1.6M128.3 127.4h1.6M74.5 186.3h1.6M49.8 144.5h1.6M41.7 110.0h1.6M103.6 115.8h1.6M40.4 142.0h1.6M1.0 150.4h1.6M32.5 159.1h1.6M71.7 130.7h1.6M39.2 176.5h1.6M96.4 169.9h1.6M61.0 173.3h1.6M19.5 207.6h1.6M27.8 110.6h1.6M73.2 167.7h1.6M86.5 173.8h1.6M83.8 172.2h1.6M64.0 193.1h1.6M143.7 169.5h1.6M66.3 170.9h1.6M38.9 163.2h1.6M78.0 192.8h1.6M66.0 189.2h1.6M13.7 162.6h1.6M16.4 159.4h1.6M66.7 158.5h1.6M28.7 166.1h1.6M66.3 179.0h1.6M64.1 190.1h1.6M80.3 182.3h1.6M111.7 138.1h1.6M112.4 140.6h1.6M44.6 173.7h1.6M148.5 150.8h1.6M128.7 141.1h1.6M71.7 136.6h1.6M73.6 185.9h1.6M48.5 177.8h1.6M13.8 159.6h1.6M74.9 201.6h1.6M90.5 171.8h1.6M41.4 127.6h1.6M52.1 189.2h1.6M98.9 121.7h1.6M1.0 191.4h1.6M62.4 148.2h1.6M154.6 145.6h1.6M83.6 149.5h1.6M86.5 175.6h1.6M59.5 150.2h1.6M54.4 148.2h1.6M66.6 144.4h1.6M118.4 183.6h1.6M107.7 147.6h1.6M39.2 186.8h1.6M94.2 159.0h1.6M37.6 160.0h1.6M113.5 141.7h1.6M104.0 163.4h1.6M53.2 180.8h1.6M60.4 189.2h1.6M62.2 156.4h1.6M47.1 151.7h1.6M13.9 161.7h1.6M90.4 163.7h1.6M59.0 153.5h1.6M84.0 124.7h1.6M37.1 133.3h1.6M84.1 192.5h1.6M10.6 152.9h1.6M102.1 133.8h1.6M100.3 144.3h1.6M57.5 151.8h1.6M57.9 143.4h1.6M73.2 142.1h1.6M67.9 177.8h1.6M52.4 128.8h1.6M74.6 171.6h1.6M58.4 177.4h1.6M106.8 138.3h1.6M69.4 155.7h1.6M64.5 128.1h1.6M68.7 178.7h1.6M114.1 181.0h1.6M23.6 113.6h1.6M72.3 148.6h1.6M93.1 121.2h1.6M56.1 133.4h1.6M77.0 197.5h1.6M109.6 159.3h1.6M98.4 159.1h1.6M72.9 197.7h1.6M104.9 153.4h1.6M105.9 157.5h1.6M94.0 108.9h1.6M31.5 162.2h1.6M69.6 148.9h1.6M71.8 144.1h1.6M104.6 208.0h1.6M42.1 161.3h1.6M38.2 191.9h1.6M28.2 201.7h1.6M52.0 147.3h1.6M125.3 130.8h1.6M111.6 194.6h1.6M18.4 167.0h1.6M108.6 158.6h1.6M86.3 168.5h1.6M56.7 112.2h1.6M120.5 160.9h1.6M103.3 170.1h1.6M63.9 144.8h1.6M77.6 152.7h1.6M81.1 121.3h1.6M119.5 175.3h1.6M16.7 132.6h1.6M65.4 148.2h1.6M53.6 147.4h1.6M19.1 195.0h1.6M16.3 188.8h1.6M61.2 138.6h1.6M64.9 168.8h1.6M87.8 161.6h1.6M84.0 107.3h1.6M20.8 125.6h1.6M39.0 171.8h1.6M79.8 146.5h1.6M23.3 196.6h1.6M72.1 188.1h1.6M116.4 157.4h1.6M83.6 181.9h1.6M120.3 134.0h1.6M53.6 198.2h1.6M79.0 132.8h1.6M95.1 132.5h1.6M103.9 150.4h1.6M30.6 175.1h1.6M59.2 161.3h1.6M76.6 169.3h1.6M92.2 164.9h1.6M60.9 198.5h1.6M96.8 160.8h1.6M77.7 159.8h1.6M35.3 140.7h1.6M96.7 183.0h1.6M77.4 141.0h1.6M75.9 166.3h1.6M38.7 179.5h1.6M125.4 123.9h1.6M30.1 165.6h1.6M64.8 151.7h1.6M78.4 145.4h1.6M77.7 165.0h1.6M8.8 152.3h1.6M17.0 146.7h1.6M91.9 137.1h1.6M122.3 172.7h1.6M42.8 142.3h1.6M58.0 195.3h1.6M118.2 128.2h1.6M102.1 177.1h1.6M82.3 172.2h1.6M89.2 165.8h1.6M25.9 208.2h1.6M109.4 134.3h1.6M30.5 179.0h1.6M72.7 174.4h1.6M69.5 163.0h1.6M42.9 200.0h1.6M69.7 188.6h1.6M65.5 126.2h1.6M90.8 168.7h1.6M61.8 165.5h1.6M49.8 167.2h1.6M77.4 146.0h1.6M59.7 188.7h1.6M29.5 166.7h1.6M138.8 160.5h1.6M45.9 153.5h1.6M25.8 198.4h1.6M103.6 203.8h1.6M73.4 178.7h1.6M83.1 138.2h1.6M135.7 166.1h1.6M104.7 130.5h1.6M60.2 154.3h1.6M79.3 173.3h1.6M57.0 128.3h1.6M102.0 160.3h1.6M67.0 182.3h1.6M41.7 167.6h1.6M106.1 175.6h1.6M76.9 146.4h1.6M83.4 158.0h1.6M64.8 196.5h1.6M15.2 180.7h1.6M103.7 81.6h1.6M123.7 164.0h1.6M52.3 111.6h1.6M83.6 147.3h1.6M71.6 178.8h1.6M62.1 147.0h1.6M165.2 172.0h1.6M64.9 190.8h1.6M116.3 153.5h1.6M104.4 175.3h1.6M83.9 183.7h1.6M66.1 198.0h1.6M15.8 213.6h1.6M23.0 170.8h1.6M121.0 188.5h1.6M107.5 158.5h1.6M95.8 163.3h1.6M62.4 169.4h1.6M109.8 148.6h1.6M107.4 162.3h1.6M70.7 167.8h1.6M121.4 160.1h1.6M56.8 146.8h1.6M67.6 148.9h1.6M140.0 136.6h1.6M49.0 152.1h1.6M69.0 140.2h1.6M87.9 107.2h1.6M36.1 145.1h1.6M54.4 201.9h1.6M100.0 102.8h1.6M113.7 179.8h1.6M75.1 177.1h1.6M56.8 148.7h1.6M55.8 157.0h1.6M103.7 188.9h1.6M30.2 177.5h1.6M112.1 191.8h1.6M78.9 122.3h1.6M79.7 147.9h1.6M59.8 156.2h1.6M84.2 168.3h1.6M26.5 164.6h1.6M97.7 122.2h1.6M89.7 154.2h1.6M54.6 181.5h1.6M70.9 130.6h1.6M53.1 165.4h1.6M64.4 192.9h1.6M65.5 160.4h1.6M74.6 204.0h1.6M85.4 141.1h1.6M85.4 187.6h1.6M48.7 171.5h1.6M31.1 177.0h1.6M59.1 142.3h1.6M125.0 137.5h1.6M87.2 199.6h1.6M55.7 126.0h1.6M85.9 142.8h1.6M56.2 179.3h1.6M106.9 179.9h1.6M130.6 160.2h1.6M50.9 205.2h1.6M109.6 143.6h1.6M100.7 110.3h1.6M89.0 129.9h1.6M7.2 174.1h1.6M42.1 161.0h1.6M91.5 126.6h1.6M32.5 140.0h1.6M48.8 137.8h1.6M65.6 175.5h1.6M45.4 195.0h1.6M72.2 159.8h1.6M31.4 119.2h1.6M91.6 177.9h1.6M25.6 156.9h1.6M105.4 141.4h1.6M96.6 125.9h1.6M9.5 178.4h1.6M36.3 165.4h1.6M27.2 147.9h1.6M54.8 182.3h1.6M67.9 184.9h1.6M25.5 166.9h1.6M12.6 170.3h1.6M131.0 140.9h1.6M73.8 140.1h1.6M63.0 122.8h1.6M128.7 75.2h1.6M91.4 141.4h1.6M69.5 153.7h1.6M102.3 140.0h1.6M77.1 145.1h1.6M127.5 133.3h1.6M77.3 172.4h1.6M111.3 130.0h1.6M39.4 134.8h1.6M66.3 171.2h1.6M134.4 105.0h1.6M60.0 137.0h1.6M67.1 156.0h1.6M93.6 152.9h1.6M4.2 213.5h1.6M64.4 176.4h1.6M83.7 142.5h1.6M99.7 133.4h1.6M26.3 153.1h1.6M46.6 185.6h1.6M87.7 136.1h1.6M87.7 171.0h1.6M94.1 145.7h1.6M50.5 177.3h1.6M96.8 145.8h1.6M132.5 134.5h1.6M105.8 125.9h1.6M61.5 194.3h1.6M38.8 163.6h1.6M86.3 122.7h1.6M76.3 157.8h1.6M89.0 105.7h1.6M48.6 146.1h1.6M6.8 174.8h1.6M89.5 189.3h1.6M54.9 170.5h1.6M133.8 107.9h1.6M10.8 165.2h1.6M73.0 149.2h1.6M23.0 156.5h1.6M34.4 165.4h1.6M114.1 155.8h1.6M137.7 143.9h1.6M137.4 197.7h1.6M76.1 144.0h1.6M1.0 147.6h1.6M99.3 152.3h1.6M84.6 217.2h1.6M87.1 129.7h1.6M91.9 192.3h1.6M8.7 158.3h1.6M69.6 135.6h1.6M100.3 183.5h1.6M78.4 170.8h1.6M60.3 161.5h1.6M170.9 96.6h1.6M74.0 146.5h1.6M69.1 184.6h1.6M81.5 194.8h1.6M51.3 171.4h1.6M112.3 121.3h1.6M29.4 156.8h1.6M81.1 193.0h1.6M65.4 184.5h1.6M51.5 169.4h1.6M2.7 140.3h1.6M81.5 137.8h1.6M91.3 144.7h1.6M57.1 176.3h1.6M68.7 132.1h1.6M10.6 154.9h1.6M72.0 176.8h1.6M82.8 150.8h1.6M29.3 84.7h1.6M34.0 189.4h1.6M87.5 133.9h1.6M29.5 205.2h1.6M76.4 143.9h1.6M13.5 171.0h1.6M32.3 166.6h1.6M40.5 143.8h1.6M103.7 145.0h1.6M26.5 157.0h1.6M118.7 142.9h1.6M93.0 157.2h1.6M100.8 136.5h1.6M63.0 140.2h1.6M7.4 205.2h1.6M86.0 163.6h1.6M81.0 142.5h1.6M41.5 147.0h1.6M90.6 121.0h1.6M18.4 193.5h1.6M100.4 173.6h1.6M45.8 169.6h1.6M107.3 96.5h1.6M92.1 159.2h1.6M58.9 120.8h1.6M82.2 172.9h1.6M141.5 155.6h1.6" stroke="#1a1a1a" stroke-width="1.6" opacity="0.33" fill="none"/>
<path d="M162.7 65.8h1.7M139.3 74.4h1.7M174.2 64.5h1.7M191.3 69.0h1.7M178.3 63.6h1.7M153.1 75.3h1.7M168.6 56.4h1.7M131.0 58.5h1.7M166.8 53.9h1.7M183.6 60.8h1.7M172.4 77.3h1.7M151.8 70.8h1.7M147.6 78.2h1.7M140.3 80.5h1.7M151.5 81.2h1.7M178.1 74.0h1.7M156.8 78.8h1.7M196.8 50.6h1.7M160.4 60.1h1.7M187.2 56.0h1.7M171.8 48.7h1.7M181.0 48.8h1.7M172.3 58.3h1.7M166.4 58.5h1.7M161.2 65.2h1.7M180.1 73.1h1.7M186.8 59.9h1.7M152.0 70.1h1.7M154.8 66.4h1.7M202.5 50.5h1.7M193.0 55.0h1.7M152.4 50.5h1.7M162.3 81.8h1.7M169.5 62.8h1.7M180.1 52.3h1.7M217.6 61.0h1.7M153.3 78.9h1.7M166.6 76.7h1.7M185.1 63.5h1.7M178.3 50.0h1.7M168.7 47.7h1.7M156.8 58.4h1.7M185.5 64.7h1.7M195.1 47.4h1.7M159.9 56.0h1.7M158.3 70.4h1.7M180.6 54.5h1.7M204.4 63.4h1.7M170.9 47.6h1.7M166.7 82.5h1.7M172.7 50.8h1.7M215.3 41.8h1.7M164.0 60.0h1.7M175.3 57.0h1.7M182.6 57.2h1.7M188.0 66.5h1.7M202.6 40.7h1.7M195.5 49.6h1.7M202.5 47.0h1.7M201.4 61.6h1.7M167.3 66.0h1.7M166.2 67.3h1.7M209.1 42.7h1.7M125.1 81.1h1.7M159.1 66.3h1.7M115.3 79.0h1.7M199.3 66.5h1.7M205.9 52.7h1.7M195.3 58.3h1.7M179.9 61.2h1.7M140.0 76.6h1.7M203.4 62.5h1.7M153.1 42.2h1.7M190.9 67.3h1.7M189.3 66.6h1.7M186.8 61.6h1.7M162.0 64.4h1.7M184.0 63.1h1.7M174.6 80.4h1.7M178.7 47.6h1.7M203.6 73.4h1.7M160.0 70.1h1.7M182.3 59.4h1.7M184.6 71.8h1.7M176.4 73.3h1.7M183.4 67.1h1.7M195.2 45.8h1.7M194.2 32.7h1.7M185.5 69.6h1.7M191.8 56.2h1.7M191.6 79.0h1.7M171.8 51.2h1.7M190.2 61.1h1.7M173.0 73.9h1.7M176.1 59.0h1.7M172.0 58.8h1.7M179.2 52.2h1.7M155.1 68.0h1.7M212.3 26.5h1.7M153.6 68.6h1.7M161.1 72.7h1.7M174.7 65.9h1.7M178.5 60.3h1.7M167.0 83.7h1.7M173.7 52.2h1.7M138.4 42.1h1.7M202.8 63.6h1.7M183.9 53.2h1.7M165.5 69.3h1.7M207.3 70.3h1.7M171.8 63.6h1.7M180.6 69.6h1.7M166.1 72.7h1.7M159.9 78.5h1.7M214.1 32.9h1.7M131.1 69.6h1.7M155.5 74.2h1.7M185.2 51.8h1.7M152.2 71.0h1.7M158.7 60.9h1.7M174.5 49.6h1.7M177.4 45.6h1.7M170.9 66.4h1.7M150.7 86.8h1.7M165.8 46.9h1.7M160.0 58.3h1.7M160.3 56.7h1.7M179.8 55.9h1.7M135.0 66.7h1.7M162.7 74.0h1.7M134.1 64.7h1.7M190.2 55.1h1.7M155.9 50.5h1.7M170.0 58.6h1.7M136.7 76.6h1.7M166.7 53.0h1.7M155.5 57.6h1.7M215.2 36.6h1.7M212.9 58.5h1.7M211.9 56.3h1.7M152.6 67.5h1.7M159.1 63.9h1.7M196.7 62.1h1.7M191.1 58.8h1.7M182.8 62.1h1.7M184.7 58.0h1.7M181.8 49.2h1.7M174.1 54.2h1.7M185.5 54.0h1.7M178.7 68.1h1.7M186.2 73.2h1.7M173.3 67.2h1.7M184.5 52.3h1.7M181.4 58.8h1.7M189.3 46.7h1.7M160.5 70.9h1.7M172.9 49.1h1.7M186.4 58.7h1.7M177.4 58.1h1.7M166.3 72.0h1.7M167.7 72.3h1.7M165.1 69.4h1.7M154.1 78.8h1.7M162.2 69.5h1.7M181.4 60.9h1.7M161.4 53.1h1.7M152.0 58.1h1.7M137.5 82.5h1.7M167.3 69.5h1.7M177.1 56.2h1.7M162.3 71.9h1.7M181.0 63.7h1.7M193.3 51.3h1.7M179.2 59.2h1.7M182.1 60.6h1.7M135.5 77.2h1.7M199.1 66.1h1.7M157.6 65.3h1.7M161.2 67.6h1.7M153.2 74.5h1.7M179.6 67.8h1.7M203.2 53.8h1.7M149.7 77.9h1.7M157.6 73.0h1.7M155.3 59.7h1.7M184.4 53.5h1.7M166.9 65.3h1.7" stroke="#1a1a1a" stroke-width="1.7" opacity="0.44" fill="none"/>
<path d="M142.9 79.9h1.6M141.4 91.1h1.6M191.8 107.1h1.6M120.7 91.5h1.6M129.0 155.5h1.6M187.7 85.2h1.6M116.6 106.4h1.6M171.8 128.9h1.6M95.0 143.1h1.6M163.5 113.7h1.6M154.7 83.6h1.6M137.7 90.8h1.6M121.6 89.1h1.6M148.8 119.8h1.6M189.3 83.1h1.6M119.9 111.4h1.6M128.4 95.9h1.6M125.7 60.4h1.6M126.3 96.1h1.6M189.6 88.6h1.6M128.6 88.5h1.6M106.7 119.2h1.6M170.7 111.5h1.6M109.4 118.6h1.6M157.5 100.7h1.6M111.0 133.1h1.6M139.7 101.6h1.6M144.8 122.2h1.6M171.9 98.3h1.6M118.9 125.3h1.6M138.9 117.5h1.6M159.7 77.6h1.6M110.6 123.5h1.6M133.7 75.0h1.6M134.0 92.4h1.6M152.6 70.7h1.6M113.6 92.6h1.6M154.5 107.4h1.6M153.2 113.5h1.6M114.8 89.6h1.6M121.1 114.8h1.6M193.7 76.3h1.6M150.8 98.8h1.6M98.0 159.3h1.6M152.4 81.9h1.6M176.5 79.6h1.6M152.0 64.3h1.6M130.7 95.7h1.6M132.0 63.4h1.6M140.8 119.0h1.6M162.1 81.5h1.6M164.9 103.1h1.6M166.3 87.3h1.6M124.5 125.5h1.6M116.6 102.1h1.6M107.3 146.1h1.6M114.6 106.9h1.6M124.0 94.6h1.6M141.3 103.4h1.6M152.2 83.0h1.6M171.1 101.5h1.6M113.4 114.2h1.6M112.1 97.6h1.6M97.7 143.8h1.6M119.7 146.1h1.6M145.3 84.7h1.6M110.1 61.0h1.6M142.2 104.7h1.6M157.6 81.8h1.6M99.8 105.3h1.6M122.5 100.4h1.6M106.6 101.7h1.6M103.5 108.1h1.6M148.6 90.4h1.6M137.2 111.4h1.6M184.7 93.5h1.6M133.9 116.8h1.6M166.1 94.5h1.6M194.3 52.8h1.6M136.4 113.3h1.6" stroke="#1a1a1a" stroke-width="1.6" opacity="0.28" fill="none"/>
</g>
<rect x="0" y="0" width="219.6" height="219.2" fill="none" stroke="#555" stroke-width="2.3"/>
<path d="M120.8 0V219.2M0 88.1H219.6" stroke="#555" stroke-width="2" fill="none"/>
<path d="M-5.5 14.8H0M-5.5 43.8H0M-5.5 78.6H0M-5.5 113.6H0M-5.5 149.4H0M-5.5 184.3H0M-5.5 215H0M-2.5 22H0M-2.5 27H0M-2.5 31H0M-2.5 35H0M-2.5 39H0M-2.5 52H0M-2.5 58H0M-2.5 64H0M-2.5 69H0M-2.5 74H0M-2.5 87H0M-2.5 93H0M-2.5 99H0M-2.5 104H0M-2.5 109H0M-2.5 122H0M-2.5 128H0M-2.5 134H0M-2.5 139H0M-2.5 144H0M-2.5 157H0M-2.5 163H0M-2.5 169H0M-2.5 174H0M-2.5 179H0M-2.5 192H0M-2.5 198H0M-2.5 203H0M-2.5 208H0M-2.5 211H0M10 219.2V224.7M37.5 219.2V224.7M76.7 219.2V224.7M115 219.2V224.7M155 219.2V224.7M192.5 219.2V224.7M18 219.2V221.7M24 219.2V221.7M29 219.2V221.7M33 219.2V221.7M49 219.2V221.7M57 219.2V221.7M63 219.2V221.7M68 219.2V221.7M72 219.2V221.7M88 219.2V221.7M96 219.2V221.7M102 219.2V221.7M107 219.2V221.7M111 219.2V221.7M127 219.2V221.7M135 219.2V221.7M141 219.2V221.7M146 219.2V221.7M150 219.2V221.7M166 219.2V221.7M173 219.2V221.7M179 219.2V221.7M184 219.2V221.7M188 219.2V221.7M200 219.2V221.7M206 219.2V221.7M211 219.2V221.7M215 219.2V221.7" stroke="#444" stroke-width="1.6" fill="none"/>
<path d="M-5.5 219.2H219.6M0 0V224.7" stroke="#555" stroke-width="1.8" fill="none"/>
<g font-size="10" font-weight="normal" fill="#222" stroke="#222" stroke-width="0.55"><text x="-27.5" y="19.3">10<tspan dy="-4.5" font-size="7.5">7</tspan></text><text x="-27.5" y="48.3">10<tspan dy="-4.5" font-size="7.5">6</tspan></text><text x="-27.5" y="83.1">10<tspan dy="-4.5" font-size="7.5">5</tspan></text><text x="-27.5" y="118.1">10<tspan dy="-4.5" font-size="7.5">4</tspan></text><text x="-27.5" y="153.9">10<tspan dy="-4.5" font-size="7.5">3</tspan></text><text x="-27.5" y="188.8">10<tspan dy="-4.5" font-size="7.5">2</tspan></text><text x="-27.5" y="219.5">10<tspan dy="-4.5" font-size="7.5">1</tspan></text><text x="3" y="240.2">10<tspan dy="-4.5" font-size="7.5">2</tspan></text><text x="30.5" y="240.2">10<tspan dy="-4.5" font-size="7.5">3</tspan></text><text x="69.7" y="240.2">10<tspan dy="-4.5" font-size="7.5">4</tspan></text><text x="108" y="240.2">10<tspan dy="-4.5" font-size="7.5">5</tspan></text><text x="148" y="240.2">10<tspan dy="-4.5" font-size="7.5">6</tspan></text><text x="185.5" y="240.2">10<tspan dy="-4.5" font-size="7.5">7</tspan></text><text x="3.8" y="12.3">Q1</text><text x="3.8" y="28">0.075%</text><text x="184.6" y="12.3">Q2</text><text x="184.6" y="28">1.66%</text><text x="4" y="201.6">Q4</text><text x="4" y="214.6">80.3%</text><text x="184.6" y="201.6">Q3</text><text x="184.6" y="214.6">17.9%</text></g>
</g>
<text x="1744.3" y="629.6" font-size="27" text-anchor="middle" textLength="186.6" lengthAdjust="spacingAndGlyphs">TRAF5+CAPE</text>
<text x="9.9" y="701.0" font-size="40.5">D</text>
<rect x="247.2" y="696.2" width="581.1" height="70.3" fill="#c3c3c3"/>
<clipPath id="cs0"><rect x="247.2" y="696.2" width="581.1" height="70.3"/></clipPath>
<g clip-path="url(#cs0)">
<g filter="url(#b1)">
<linearGradient id="bg0_0"><stop offset="0.15" stop-color="rgb(139,139,139)"/><stop offset="0.85" stop-color="rgb(110,110,110)"/></linearGradient>
<rect x="253.8" y="727.1" width="62.0" height="4.8" rx="2.4" fill="url(#bg0_0)"/>
<linearGradient id="bg0_1"><stop offset="0.15" stop-color="rgb(139,139,139)"/><stop offset="0.85" stop-color="rgb(124,124,124)"/></linearGradient>
<rect x="338.8" y="725.9" width="58.0" height="5.2" rx="2.6" fill="url(#bg0_1)"/>
<rect x="419.5" y="722.5" width="66.0" height="17.0" rx="8.5" fill="rgb(7,7,7)"/>
<linearGradient id="bg0_3"><stop offset="0.15" stop-color="rgb(139,139,139)"/><stop offset="0.85" stop-color="rgb(116,116,116)"/></linearGradient>
<rect x="503.5" y="727.4" width="64.0" height="5.2" rx="2.6" fill="url(#bg0_3)"/>
<linearGradient id="bg0_4"><stop offset="0.15" stop-color="rgb(35,35,35)"/><stop offset="0.85" stop-color="rgb(26,26,26)"/></linearGradient>
<rect x="587.0" y="723.7" width="66.0" height="9.6" rx="4.8" fill="url(#bg0_4)"/>
<linearGradient id="bg0_5"><stop offset="0.15" stop-color="rgb(101,101,101)"/><stop offset="0.85" stop-color="rgb(157,157,157)"/></linearGradient>
<rect x="672.0" y="727.1" width="60.0" height="4.8" rx="2.4" fill="url(#bg0_5)"/>
<linearGradient id="bg0_6"><stop offset="0.15" stop-color="rgb(35,35,35)"/><stop offset="0.85" stop-color="rgb(16,16,16)"/></linearGradient>
<rect x="753.3" y="724.5" width="66.0" height="10.0" rx="5.0" fill="url(#bg0_6)"/>
</g></g>
<text x="126.2" y="744.4" font-size="28.5" textLength="91.9" lengthAdjust="spacingAndGlyphs">TRAF5</text>
<rect x="247.2" y="778.6" width="581.1" height="72.4" fill="#c3c3c3"/>
<clipPath id="cs1"><rect x="247.2" y="778.6" width="581.1" height="72.4"/></clipPath>
<g clip-path="url(#cs1)">
<g filter="url(#b1)">
<rect x="250.8" y="815.3" width="68.0" height="6.4" rx="3.2" fill="rgb(73,73,73)"/>
<linearGradient id="bg1_1"><stop offset="0.15" stop-color="rgb(101,101,101)"/><stop offset="0.85" stop-color="rgb(73,73,73)"/></linearGradient>
<rect x="332.8" y="816.5" width="70.0" height="6.0" rx="3.0" fill="url(#bg1_1)"/>
<rect x="417.5" y="811.0" width="70.0" height="16.0" rx="8.0" fill="rgb(7,7,7)"/>
<linearGradient id="bg1_3"><stop offset="0.15" stop-color="rgb(154,154,154)"/><stop offset="0.85" stop-color="rgb(148,148,148)"/></linearGradient>
<rect x="503.5" y="817.1" width="64.0" height="4.8" rx="2.4" fill="url(#bg1_3)"/>
<linearGradient id="bg1_4"><stop offset="0.15" stop-color="rgb(16,16,16)"/><stop offset="0.85" stop-color="rgb(26,26,26)"/></linearGradient>
<rect x="586.0" y="816.2" width="68.0" height="9.6" rx="4.8" fill="url(#bg1_4)"/>
<linearGradient id="bg1_5"><stop offset="0.15" stop-color="rgb(167,167,167)"/><stop offset="0.85" stop-color="rgb(157,157,157)"/></linearGradient>
<rect x="670.0" y="818.8" width="64.0" height="4.4" rx="2.2" fill="url(#bg1_5)"/>
<rect x="751.3" y="815.6" width="70.0" height="8.8" rx="4.4" fill="rgb(26,26,26)"/>
</g></g>
<text x="68.8" y="832.0" font-size="28.5" textLength="159.1" lengthAdjust="spacingAndGlyphs">p-NF-<tspan font-size="23" font-family="Liberation Serif, serif">κ</tspan>Bp65</text>
<rect x="247.2" y="858.7" width="581.1" height="77.5" fill="#c3c3c3"/>
<clipPath id="cs2"><rect x="247.2" y="858.7" width="581.1" height="77.5"/></clipPath>
<g clip-path="url(#cs2)">
<g filter="url(#b3)">
<rect x="257.8" y="890.8" width="54" height="55.4" fill="#a8a8a8" opacity="0.3"/>
<rect x="340.8" y="890.8" width="54" height="55.4" fill="#a8a8a8" opacity="0.3"/>
<rect x="425.5" y="890.8" width="54" height="55.4" fill="#a8a8a8" opacity="0.3"/>
<rect x="508.5" y="890.8" width="54" height="55.4" fill="#a8a8a8" opacity="0.3"/>
<rect x="593.0" y="890.8" width="54" height="55.4" fill="#a8a8a8" opacity="0.3"/>
<rect x="675.0" y="890.8" width="54" height="55.4" fill="#a8a8a8" opacity="0.3"/>
<rect x="759.3" y="890.8" width="54" height="55.4" fill="#a8a8a8" opacity="0.3"/>
</g>
<g filter="url(#b1)">
<rect x="251.3" y="885.3" width="67.0" height="15.0" rx="7.5" fill="rgb(7,7,7)"/>
<rect x="334.3" y="886.3" width="67.0" height="15.0" rx="7.5" fill="rgb(7,7,7)"/>
<rect x="419.5" y="886.8" width="66.0" height="14.0" rx="7.0" fill="rgb(13,13,13)"/>
<rect x="502.0" y="887.8" width="67.0" height="14.0" rx="7.0" fill="rgb(13,13,13)"/>
<rect x="586.5" y="887.3" width="67.0" height="15.0" rx="7.5" fill="rgb(7,7,7)"/>
<rect x="668.5" y="887.3" width="67.0" height="15.0" rx="7.5" fill="rgb(7,7,7)"/>
<rect x="752.8" y="883.8" width="67.0" height="15.0" rx="7.5" fill="rgb(7,7,7)"/>
</g></g>
<text x="96.4" y="919.3" font-size="28.5" textLength="131.5" lengthAdjust="spacingAndGlyphs">NF-<tspan font-size="23" font-family="Liberation Serif, serif">κ</tspan>Bp65</text>
<rect x="247.2" y="943.9" width="581.1" height="69.0" fill="#c3c3c3"/>
<clipPath id="cs3"><rect x="247.2" y="943.9" width="581.1" height="69.0"/></clipPath>
<g clip-path="url(#cs3)">
<g filter="url(#b1)">
<linearGradient id="bg3_0"><stop offset="0.15" stop-color="rgb(45,45,45)"/><stop offset="0.85" stop-color="rgb(26,26,26)"/></linearGradient>
<rect x="253.3" y="974.1" width="63.0" height="6.4" rx="3.2" fill="url(#bg3_0)"/>
<rect x="336.8" y="972.2" width="62.0" height="7.2" rx="3.6" fill="rgb(26,26,26)"/>
<linearGradient id="bg3_2"><stop offset="0.15" stop-color="rgb(129,129,129)"/><stop offset="0.85" stop-color="rgb(139,139,139)"/></linearGradient>
<rect x="423.5" y="976.3" width="58.0" height="4.0" rx="2.0" fill="url(#bg3_2)"/>
<linearGradient id="bg3_3"><stop offset="0.15" stop-color="rgb(45,45,45)"/><stop offset="0.85" stop-color="rgb(7,7,7)"/></linearGradient>
<rect x="503.5" y="975.6" width="64.0" height="8.4" rx="4.2" fill="url(#bg3_3)"/>
<linearGradient id="bg3_4"><stop offset="0.15" stop-color="rgb(54,54,54)"/><stop offset="0.85" stop-color="rgb(45,45,45)"/></linearGradient>
<rect x="587.5" y="977.3" width="65.0" height="6.0" rx="3.0" fill="url(#bg3_4)"/>
<linearGradient id="bg3_5"><stop offset="0.15" stop-color="rgb(26,26,26)"/><stop offset="0.85" stop-color="rgb(16,16,16)"/></linearGradient>
<rect x="670.0" y="976.7" width="64.0" height="7.2" rx="3.6" fill="url(#bg3_5)"/>
<linearGradient id="bg3_6"><stop offset="0.15" stop-color="rgb(54,54,54)"/><stop offset="0.85" stop-color="rgb(82,82,82)"/></linearGradient>
<rect x="754.3" y="976.0" width="64.0" height="5.6" rx="2.8" fill="url(#bg3_6)"/>
</g></g>
<text x="145.0" y="991.9" font-size="28.5" textLength="67.9" lengthAdjust="spacingAndGlyphs">Bcl-2</text>
<rect x="247.2" y="1023.6" width="581.1" height="65.2" fill="#c3c3c3"/>
<clipPath id="cs4"><rect x="247.2" y="1023.6" width="581.1" height="65.2"/></clipPath>
<g clip-path="url(#cs4)">
<g filter="url(#b1)">
<linearGradient id="bg4_0"><stop offset="0.15" stop-color="rgb(101,101,101)"/><stop offset="0.85" stop-color="rgb(110,110,110)"/></linearGradient>
<rect x="254.8" y="1050.2" width="60.0" height="6.0" rx="3.0" fill="url(#bg4_0)"/>
<rect x="337.3" y="1052.2" width="61.0" height="6.0" rx="3.0" fill="rgb(110,110,110)"/>
<rect x="419.5" y="1050.0" width="66.0" height="12.4" rx="6.2" fill="rgb(7,7,7)"/>
<rect x="504.5" y="1052.4" width="62.0" height="5.6" rx="2.8" fill="rgb(120,120,120)"/>
<linearGradient id="bg4_4"><stop offset="0.15" stop-color="rgb(35,35,35)"/><stop offset="0.85" stop-color="rgb(45,45,45)"/></linearGradient>
<rect x="589.0" y="1050.5" width="62.0" height="8.4" rx="4.2" fill="url(#bg4_4)"/>
<linearGradient id="bg4_5"><stop offset="0.15" stop-color="rgb(110,110,110)"/><stop offset="0.85" stop-color="rgb(101,101,101)"/></linearGradient>
<rect x="671.0" y="1051.7" width="62.0" height="6.0" rx="3.0" fill="url(#bg4_5)"/>
<linearGradient id="bg4_6"><stop offset="0.15" stop-color="rgb(35,35,35)"/><stop offset="0.85" stop-color="rgb(63,63,63)"/></linearGradient>
<rect x="753.3" y="1048.5" width="66.0" height="8.4" rx="4.2" fill="url(#bg4_6)"/>
</g></g>
<text x="72.6" y="1068.1" font-size="28.5" textLength="139.2" lengthAdjust="spacingAndGlyphs">caspase-3</text>
<rect x="247.2" y="1103.2" width="581.1" height="70.6" fill="#c3c3c3"/>
<clipPath id="cs5"><rect x="247.2" y="1103.2" width="581.1" height="70.6"/></clipPath>
<g clip-path="url(#cs5)">
<g filter="url(#b1)">
<linearGradient id="bg5_0"><stop offset="0.15" stop-color="rgb(101,101,101)"/><stop offset="0.85" stop-color="rgb(139,139,139)"/></linearGradient>
<rect x="253.8" y="1131.5" width="62.0" height="6.0" rx="3.0" fill="url(#bg5_0)"/>
<rect x="336.8" y="1132.5" width="62.0" height="6.0" rx="3.0" fill="rgb(110,110,110)"/>
<rect x="419.5" y="1129.5" width="66.0" height="12.0" rx="6.0" fill="rgb(7,7,7)"/>
<linearGradient id="bg5_3"><stop offset="0.15" stop-color="rgb(92,92,92)"/><stop offset="0.85" stop-color="rgb(167,167,167)"/></linearGradient>
<rect x="506.5" y="1132.0" width="58.0" height="6.0" rx="3.0" fill="url(#bg5_3)"/>
<linearGradient id="bg5_4"><stop offset="0.15" stop-color="rgb(7,7,7)"/><stop offset="0.85" stop-color="rgb(35,35,35)"/></linearGradient>
<rect x="587.5" y="1130.5" width="65.0" height="10.0" rx="5.0" fill="url(#bg5_4)"/>
<linearGradient id="bg5_5"><stop offset="0.15" stop-color="rgb(157,157,157)"/><stop offset="0.85" stop-color="rgb(45,45,45)"/></linearGradient>
<rect x="669.5" y="1133.1" width="65.0" height="6.8" rx="3.4" fill="url(#bg5_5)"/>
<linearGradient id="bg5_6"><stop offset="0.15" stop-color="rgb(16,16,16)"/><stop offset="0.85" stop-color="rgb(7,7,7)"/></linearGradient>
<rect x="753.8" y="1131.3" width="65.0" height="10.4" rx="5.2" fill="url(#bg5_6)"/>
</g></g>
<text x="158.9" y="1149.7" font-size="28.5" textLength="51.1" lengthAdjust="spacingAndGlyphs">Bax</text>
<rect x="247.2" y="1185.8" width="581.1" height="71.8" fill="#c3c3c3"/>
<clipPath id="cs6"><rect x="247.2" y="1185.8" width="581.1" height="71.8"/></clipPath>
<g clip-path="url(#cs6)">
<g filter="url(#b1)">
<rect x="252.8" y="1215.8" width="64.0" height="8.4" rx="4.2" fill="rgb(22,22,22)"/>
<linearGradient id="bg6_1"><stop offset="0.15" stop-color="rgb(35,35,35)"/><stop offset="0.85" stop-color="rgb(26,26,26)"/></linearGradient>
<rect x="337.8" y="1216.3" width="60.0" height="8.4" rx="4.2" fill="url(#bg6_1)"/>
<linearGradient id="bg6_2"><stop offset="0.15" stop-color="rgb(110,110,110)"/><stop offset="0.85" stop-color="rgb(101,101,101)"/></linearGradient>
<rect x="421.0" y="1220.0" width="63.0" height="6.0" rx="3.0" fill="url(#bg6_2)"/>
<rect x="503.0" y="1219.2" width="65.0" height="9.6" rx="4.8" fill="rgb(16,16,16)"/>
<linearGradient id="bg6_4"><stop offset="0.15" stop-color="rgb(63,63,63)"/><stop offset="0.85" stop-color="rgb(45,45,45)"/></linearGradient>
<rect x="589.0" y="1220.2" width="62.0" height="7.6" rx="3.8" fill="url(#bg6_4)"/>
<rect x="669.5" y="1216.4" width="65.0" height="9.2" rx="4.6" fill="rgb(16,16,16)"/>
<linearGradient id="bg6_6"><stop offset="0.15" stop-color="rgb(101,101,101)"/><stop offset="0.85" stop-color="rgb(82,82,82)"/></linearGradient>
<rect x="753.3" y="1217.8" width="66.0" height="6.4" rx="3.2" fill="url(#bg6_6)"/>
</g></g>
<text x="112.0" y="1231.5" font-size="28.5" textLength="108.6" lengthAdjust="spacingAndGlyphs">Nephrin</text>
<rect x="247.2" y="1270.3" width="581.1" height="72.1" fill="#c3c3c3"/>
<clipPath id="cs7"><rect x="247.2" y="1270.3" width="581.1" height="72.1"/></clipPath>
<g clip-path="url(#cs7)">
<g filter="url(#b3)">
<rect x="257.8" y="1303.5" width="54" height="48.9" fill="#a8a8a8" opacity="0.3"/>
<rect x="340.8" y="1303.5" width="54" height="48.9" fill="#a8a8a8" opacity="0.3"/>
<rect x="425.5" y="1303.5" width="54" height="48.9" fill="#a8a8a8" opacity="0.3"/>
<rect x="508.5" y="1303.5" width="54" height="48.9" fill="#a8a8a8" opacity="0.3"/>
<rect x="593.0" y="1303.5" width="54" height="48.9" fill="#a8a8a8" opacity="0.3"/>
<rect x="675.0" y="1303.5" width="54" height="48.9" fill="#a8a8a8" opacity="0.3"/>
<rect x="759.3" y="1303.5" width="54" height="48.9" fill="#a8a8a8" opacity="0.3"/>
</g>
<g filter="url(#b1)">
<rect x="252.3" y="1300.9" width="65.0" height="9.2" rx="4.6" fill="rgb(26,26,26)"/>
<rect x="334.8" y="1301.1" width="66.0" height="8.8" rx="4.4" fill="rgb(26,26,26)"/>
<linearGradient id="bg7_2"><stop offset="0.15" stop-color="rgb(101,101,101)"/><stop offset="0.85" stop-color="rgb(110,110,110)"/></linearGradient>
<rect x="421.5" y="1301.3" width="62.0" height="6.4" rx="3.2" fill="url(#bg7_2)"/>
<rect x="503.0" y="1300.5" width="65.0" height="10.0" rx="5.0" fill="rgb(16,16,16)"/>
<rect x="587.5" y="1302.7" width="65.0" height="7.6" rx="3.8" fill="rgb(73,73,73)"/>
<linearGradient id="bg7_5"><stop offset="0.15" stop-color="rgb(35,35,35)"/><stop offset="0.85" stop-color="rgb(11,11,11)"/></linearGradient>
<rect x="669.0" y="1300.5" width="66.0" height="10.0" rx="5.0" fill="url(#bg7_5)"/>
<rect x="754.3" y="1300.3" width="64.0" height="6.4" rx="3.2" fill="rgb(101,101,101)"/>
</g></g>
<text x="108.6" y="1321.8" font-size="28.5" textLength="112.0" lengthAdjust="spacingAndGlyphs">Podocin</text>
<rect x="247.2" y="1355.9" width="581.1" height="76.9" fill="#c3c3c3"/>
<clipPath id="cs8"><rect x="247.2" y="1355.9" width="581.1" height="76.9"/></clipPath>
<g clip-path="url(#cs8)">
<g filter="url(#b1)">
<rect x="245.1" y="1382.7" width="76.0" height="22.0" rx="11.0" fill="rgb(7,7,7)"/>
<rect x="329.1" y="1383.2" width="76.0" height="22.0" rx="11.0" fill="rgb(7,7,7)"/>
<rect x="413.4" y="1383.7" width="76.0" height="22.0" rx="11.0" fill="rgb(7,7,7)"/>
<rect x="496.7" y="1383.7" width="77.0" height="22.0" rx="11.0" fill="rgb(7,7,7)"/>
<rect x="581.9" y="1382.7" width="77.0" height="22.0" rx="11.0" fill="rgb(7,7,7)"/>
<rect x="665.1" y="1382.2" width="77.0" height="21.0" rx="10.5" fill="rgb(7,7,7)"/>
<rect x="749.5" y="1380.7" width="76.0" height="22.0" rx="11.0" fill="rgb(7,7,7)"/>
</g></g>
<text x="118.0" y="1406.0" font-size="28.5" textLength="101.4" lengthAdjust="spacingAndGlyphs">GAPDH</text>
<text x="291.0" y="1463.0" font-size="29" text-anchor="end" transform="rotate(-45 291.0 1463.0)">Control</text>
<text x="373.0" y="1469.0" font-size="29" text-anchor="end" transform="rotate(-45 373.0 1469.0)">NC</text>
<text x="455.0" y="1471.0" font-size="29" text-anchor="end" transform="rotate(-45 455.0 1471.0)">TRAF5</text>
<text x="542.0" y="1465.0" font-size="29" text-anchor="end" transform="rotate(-45 542.0 1465.0)">NC+BBR</text>
<text x="622.0" y="1468.0" font-size="29" text-anchor="end" transform="rotate(-45 622.0 1468.0)">TRAF5+BBR</text>
<text x="704.0" y="1468.0" font-size="29" text-anchor="end" transform="rotate(-45 704.0 1468.0)">NC+CAPE</text>
<text x="798.0" y="1466.0" font-size="29" text-anchor="end" transform="rotate(-45 798.0 1466.0)">TRAF5+CAPE</text>
<line x1="828.6" y1="1013.0" x2="828.6" y2="1434.0" stroke="#dcdcdc" stroke-width="1.2"/>
<text x="863.0" y="704.8" font-size="40.5">E</text>
<line x1="1007.5" y1="718.3" x2="1007.5" y2="1046.8" stroke="#0b0b0b" stroke-width="3.9"/>
<line x1="996.6" y1="1044.9" x2="1794.5" y2="1044.9" stroke="#0b0b0b" stroke-width="3.8"/>
<line x1="996.6" y1="722.3" x2="1007.5" y2="722.3" stroke="#0b0b0b" stroke-width="3.6"/>
<text x="990.8" y="731.9" font-size="27" text-anchor="end" textLength="37.8" lengthAdjust="spacingAndGlyphs">1.0</text>
<line x1="996.6" y1="786.9" x2="1007.5" y2="786.9" stroke="#0b0b0b" stroke-width="3.6"/>
<text x="990.8" y="796.5" font-size="27" text-anchor="end" textLength="37.8" lengthAdjust="spacingAndGlyphs">0.8</text>
<line x1="996.6" y1="851.6" x2="1007.5" y2="851.6" stroke="#0b0b0b" stroke-width="3.6"/>
<text x="990.8" y="861.2" font-size="27" text-anchor="end" textLength="37.8" lengthAdjust="spacingAndGlyphs">0.6</text>
<line x1="996.6" y1="916.2" x2="1007.5" y2="916.2" stroke="#0b0b0b" stroke-width="3.6"/>
<text x="990.8" y="925.8" font-size="27" text-anchor="end" textLength="37.8" lengthAdjust="spacingAndGlyphs">0.4</text>
<line x1="996.6" y1="980.8" x2="1007.5" y2="980.8" stroke="#0b0b0b" stroke-width="3.6"/>
<text x="990.8" y="990.4" font-size="27" text-anchor="end" textLength="37.8" lengthAdjust="spacingAndGlyphs">0.2</text>
<line x1="996.6" y1="1044.9" x2="1007.5" y2="1044.9" stroke="#0b0b0b" stroke-width="3.6"/>
<text x="990.8" y="1054.5" font-size="27" text-anchor="end" textLength="37.8" lengthAdjust="spacingAndGlyphs">0.0</text>
<text x="933.2" y="882.5" font-size="27.5" text-anchor="middle" transform="rotate(-90 933.2 882.5)" textLength="273.0" lengthAdjust="spacing">Protein expression</text>
<line x1="1053.1" y1="1019.0" x2="1053.1" y2="1016.2" stroke="#0b0b0b" stroke-width="3.1"/>
<line x1="1042.6" y1="1016.2" x2="1063.6" y2="1016.2" stroke="#0b0b0b" stroke-width="3.1"/>
<rect x="1033.1" y="1018.7" width="39.9" height="26.2" fill="#fff" stroke="#0b0b0b" stroke-width="3.4"/>
<line x1="1103.1" y1="1017.4" x2="1103.1" y2="1014.7" stroke="#0b0b0b" stroke-width="3.1"/>
<line x1="1092.6" y1="1014.7" x2="1113.6" y2="1014.7" stroke="#0b0b0b" stroke-width="3.1"/>
<rect x="1083.2" y="1017.1" width="39.9" height="27.8" fill="#888" stroke="#0b0b0b" stroke-width="3.4"/>
<line x1="1153.2" y1="882.6" x2="1153.2" y2="871.9" stroke="#0b0b0b" stroke-width="3.1"/>
<line x1="1142.7" y1="871.9" x2="1163.7" y2="871.9" stroke="#0b0b0b" stroke-width="3.1"/>
<rect x="1133.2" y="882.3" width="39.9" height="162.6" fill="#050505" stroke="#0b0b0b" stroke-width="3.4"/>
<line x1="1203.2" y1="1014.2" x2="1203.2" y2="1011.3" stroke="#0b0b0b" stroke-width="3.1"/>
<line x1="1192.7" y1="1011.3" x2="1213.7" y2="1011.3" stroke="#0b0b0b" stroke-width="3.1"/>
<rect x="1183.2" y="1013.9" width="39.9" height="31.0" fill="url(#pDots)" stroke="#0b0b0b" stroke-width="3.4"/>
<line x1="1253.2" y1="948.2" x2="1253.2" y2="942.2" stroke="#0b0b0b" stroke-width="3.1"/>
<line x1="1242.8" y1="942.2" x2="1263.8" y2="942.2" stroke="#0b0b0b" stroke-width="3.1"/>
<rect x="1233.3" y="947.9" width="39.9" height="97.0" fill="url(#pChk)" stroke="#0b0b0b" stroke-width="3.4"/>
<line x1="1303.3" y1="1017.4" x2="1303.3" y2="1014.6" stroke="#0b0b0b" stroke-width="3.1"/>
<line x1="1292.8" y1="1014.6" x2="1313.8" y2="1014.6" stroke="#0b0b0b" stroke-width="3.1"/>
<rect x="1283.3" y="1017.1" width="39.9" height="27.8" fill="url(#pBs)" stroke="#0b0b0b" stroke-width="3.4"/>
<line x1="1353.3" y1="943.8" x2="1353.3" y2="937.3" stroke="#0b0b0b" stroke-width="3.1"/>
<line x1="1342.8" y1="937.3" x2="1363.8" y2="937.3" stroke="#0b0b0b" stroke-width="3.1"/>
<rect x="1333.4" y="943.5" width="39.9" height="101.4" fill="url(#pFs)" stroke="#0b0b0b" stroke-width="3.4"/>
<line x1="1203.3" y1="1044.9" x2="1203.3" y2="1056.4" stroke="#0b0b0b" stroke-width="3.6"/>
<text x="1204.5" y="1083.7" font-size="26.5" text-anchor="middle" textLength="86.7" lengthAdjust="spacingAndGlyphs">TRAF5</text>
<line x1="1444.0" y1="984.9" x2="1444.0" y2="980.2" stroke="#0b0b0b" stroke-width="3.1"/>
<line x1="1433.5" y1="980.2" x2="1454.5" y2="980.2" stroke="#0b0b0b" stroke-width="3.1"/>
<rect x="1424.0" y="984.6" width="40.0" height="60.3" fill="#fff" stroke="#0b0b0b" stroke-width="3.4"/>
<line x1="1494.1" y1="989.2" x2="1494.1" y2="985.8" stroke="#0b0b0b" stroke-width="3.1"/>
<line x1="1483.6" y1="985.8" x2="1504.6" y2="985.8" stroke="#0b0b0b" stroke-width="3.1"/>
<rect x="1474.1" y="988.9" width="40.0" height="56.0" fill="#888" stroke="#0b0b0b" stroke-width="3.4"/>
<line x1="1544.2" y1="785.6" x2="1544.2" y2="769.1" stroke="#0b0b0b" stroke-width="3.1"/>
<line x1="1533.7" y1="769.1" x2="1554.7" y2="769.1" stroke="#0b0b0b" stroke-width="3.1"/>
<rect x="1524.2" y="785.3" width="40.0" height="259.6" fill="#050505" stroke="#0b0b0b" stroke-width="3.4"/>
<line x1="1594.3" y1="1004.0" x2="1594.3" y2="1000.6" stroke="#0b0b0b" stroke-width="3.1"/>
<line x1="1583.8" y1="1000.6" x2="1604.8" y2="1000.6" stroke="#0b0b0b" stroke-width="3.1"/>
<rect x="1574.3" y="1003.7" width="40.0" height="41.2" fill="url(#pDots)" stroke="#0b0b0b" stroke-width="3.4"/>
<line x1="1644.4" y1="910.4" x2="1644.4" y2="901.0" stroke="#0b0b0b" stroke-width="3.1"/>
<line x1="1633.9" y1="901.0" x2="1654.9" y2="901.0" stroke="#0b0b0b" stroke-width="3.1"/>
<rect x="1624.4" y="910.1" width="40.0" height="134.8" fill="url(#pChk)" stroke="#0b0b0b" stroke-width="3.4"/>
<line x1="1694.5" y1="1014.4" x2="1694.5" y2="1010.2" stroke="#0b0b0b" stroke-width="3.1"/>
<line x1="1684.0" y1="1010.2" x2="1705.0" y2="1010.2" stroke="#0b0b0b" stroke-width="3.1"/>
<rect x="1674.5" y="1014.1" width="40.0" height="30.8" fill="url(#pBs)" stroke="#0b0b0b" stroke-width="3.4"/>
<line x1="1744.6" y1="905.6" x2="1744.6" y2="895.4" stroke="#0b0b0b" stroke-width="3.1"/>
<line x1="1734.1" y1="895.4" x2="1755.1" y2="895.4" stroke="#0b0b0b" stroke-width="3.1"/>
<rect x="1724.6" y="905.3" width="40.0" height="139.6" fill="url(#pFs)" stroke="#0b0b0b" stroke-width="3.4"/>
<line x1="1594.2" y1="1044.9" x2="1594.2" y2="1056.4" stroke="#0b0b0b" stroke-width="3.6"/>
<text x="1594.2" y="1083.7" font-size="26.5" text-anchor="middle" textLength="312" lengthAdjust="spacingAndGlyphs">p-NF-<tspan font-size="24" dy="3" font-family="Liberation Serif, serif">κ</tspan><tspan dy="-3">Bp65/NF-</tspan><tspan font-size="24" dy="3" font-family="Liberation Serif, serif">κ</tspan><tspan dy="-3">Bp65</tspan></text>
<text x="1151.0" y="868.6" font-size="31" text-anchor="middle" textLength="39.5" lengthAdjust="spacingAndGlyphs">***</text>
<text x="1543.0" y="768.2" font-size="31" text-anchor="middle" textLength="39.5" lengthAdjust="spacingAndGlyphs">***</text>
<text x="1253.6" y="927.2" font-size="21.5" text-anchor="middle" font-weight="normal" textLength="36.3" lengthAdjust="spacingAndGlyphs" stroke="#0b0b0b" stroke-width="0.8">###</text>
<text x="1352.0" y="925.8" font-size="21.5" text-anchor="middle" font-weight="normal" textLength="36.3" lengthAdjust="spacingAndGlyphs" stroke="#0b0b0b" stroke-width="0.8">###</text>
<text x="1645.9" y="887.6" font-size="21.5" text-anchor="middle" font-weight="normal" textLength="36.3" lengthAdjust="spacingAndGlyphs" stroke="#0b0b0b" stroke-width="0.8">###</text>
<text x="1743.0" y="883.2" font-size="21.5" text-anchor="middle" font-weight="normal" textLength="36.3" lengthAdjust="spacingAndGlyphs" stroke="#0b0b0b" stroke-width="0.8">###</text>
<rect x="1837.1" y="739.1" width="44.2" height="16.2" fill="#fff" stroke="#0b0b0b" stroke-width="3.6" stroke-linejoin="round"/>
<text x="1907.0" y="756.6" font-size="28" textLength="107.0" lengthAdjust="spacingAndGlyphs">Control</text>
<rect x="1837.1" y="785.5" width="44.2" height="16.2" fill="#888" stroke="#0b0b0b" stroke-width="3.6" stroke-linejoin="round"/>
<text x="1907.0" y="803.0" font-size="28" textLength="39.8" lengthAdjust="spacingAndGlyphs">NC</text>
<rect x="1837.1" y="832.3" width="44.2" height="16.2" fill="#050505" stroke="#0b0b0b" stroke-width="3.6" stroke-linejoin="round"/>
<text x="1907.0" y="849.8" font-size="28" textLength="89.8" lengthAdjust="spacingAndGlyphs">TRAF5</text>
<rect x="1837.1" y="879.2" width="44.2" height="16.2" fill="url(#pDots)" stroke="#0b0b0b" stroke-width="3.6" stroke-linejoin="round"/>
<text x="1907.0" y="896.7" font-size="28" textLength="118.5" lengthAdjust="spacingAndGlyphs">NC+BBR</text>
<rect x="1837.1" y="925.8" width="44.2" height="16.2" fill="url(#pChk)" stroke="#0b0b0b" stroke-width="3.6" stroke-linejoin="round"/>
<text x="1907.0" y="943.3" font-size="28" textLength="169.0" lengthAdjust="spacingAndGlyphs">TRAF5+BBR</text>
<rect x="1837.1" y="972.6" width="44.2" height="16.2" fill="url(#pBs)" stroke="#0b0b0b" stroke-width="3.6" stroke-linejoin="round"/>
<text x="1907.0" y="990.1" font-size="28" textLength="133.3" lengthAdjust="spacingAndGlyphs">NC+CAPE</text>
<rect x="1837.1" y="1019.6" width="44.2" height="16.2" fill="url(#pFs)" stroke="#0b0b0b" stroke-width="3.6" stroke-linejoin="round"/>
<text x="1907.0" y="1037.1" font-size="28" textLength="183.5" lengthAdjust="spacingAndGlyphs">TRAF5+CAPE</text>
<text x="846.2" y="1141.5" font-size="40.5">F</text>
<line x1="1006.5" y1="1139.0" x2="1006.5" y2="1468.6" stroke="#0b0b0b" stroke-width="3.9"/>
<line x1="995.3" y1="1466.7" x2="1787.4" y2="1466.7" stroke="#0b0b0b" stroke-width="3.8"/>
<line x1="995.3" y1="1143.5" x2="1006.5" y2="1143.5" stroke="#0b0b0b" stroke-width="3.6"/>
<text x="988.3" y="1153.1" font-size="27" text-anchor="end" textLength="37.8" lengthAdjust="spacingAndGlyphs">0.6</text>
<line x1="995.3" y1="1251.3" x2="1006.5" y2="1251.3" stroke="#0b0b0b" stroke-width="3.6"/>
<text x="988.3" y="1260.9" font-size="27" text-anchor="end" textLength="37.8" lengthAdjust="spacingAndGlyphs">0.4</text>
<line x1="995.3" y1="1359.0" x2="1006.5" y2="1359.0" stroke="#0b0b0b" stroke-width="3.6"/>
<text x="988.3" y="1368.6" font-size="27" text-anchor="end" textLength="37.8" lengthAdjust="spacingAndGlyphs">0.2</text>
<line x1="995.3" y1="1466.7" x2="1006.5" y2="1466.7" stroke="#0b0b0b" stroke-width="3.6"/>
<text x="988.3" y="1476.3" font-size="27" text-anchor="end" textLength="37.8" lengthAdjust="spacingAndGlyphs">0.0</text>
<text x="931.0" y="1308.2" font-size="27.5" text-anchor="middle" transform="rotate(-90 931.0 1308.2)" textLength="272.4" lengthAdjust="spacing">Protein expression</text>
<line x1="1051.8" y1="1298.3" x2="1051.8" y2="1285.4" stroke="#0b0b0b" stroke-width="3.1"/>
<line x1="1041.3" y1="1285.4" x2="1062.3" y2="1285.4" stroke="#0b0b0b" stroke-width="3.1"/>
<rect x="1032.0" y="1298.0" width="39.5" height="168.7" fill="#fff" stroke="#0b0b0b" stroke-width="3.4"/>
<line x1="1101.9" y1="1315.7" x2="1101.9" y2="1304.5" stroke="#0b0b0b" stroke-width="3.1"/>
<line x1="1091.4" y1="1304.5" x2="1112.4" y2="1304.5" stroke="#0b0b0b" stroke-width="3.1"/>
<rect x="1082.1" y="1315.4" width="39.5" height="151.3" fill="#888" stroke="#0b0b0b" stroke-width="3.4"/>
<line x1="1152.0" y1="1405.6" x2="1152.0" y2="1401.8" stroke="#0b0b0b" stroke-width="3.1"/>
<line x1="1141.5" y1="1401.8" x2="1162.5" y2="1401.8" stroke="#0b0b0b" stroke-width="3.1"/>
<rect x="1132.2" y="1405.3" width="39.5" height="61.4" fill="#050505" stroke="#0b0b0b" stroke-width="3.4"/>
<line x1="1202.1" y1="1314.7" x2="1202.1" y2="1305.2" stroke="#0b0b0b" stroke-width="3.1"/>
<line x1="1191.6" y1="1305.2" x2="1212.6" y2="1305.2" stroke="#0b0b0b" stroke-width="3.1"/>
<rect x="1182.3" y="1314.4" width="39.5" height="152.3" fill="url(#pDots)" stroke="#0b0b0b" stroke-width="3.4"/>
<line x1="1252.2" y1="1356.0" x2="1252.2" y2="1348.3" stroke="#0b0b0b" stroke-width="3.1"/>
<line x1="1241.7" y1="1348.3" x2="1262.7" y2="1348.3" stroke="#0b0b0b" stroke-width="3.1"/>
<rect x="1232.4" y="1355.7" width="39.5" height="111.0" fill="url(#pChk)" stroke="#0b0b0b" stroke-width="3.4"/>
<line x1="1302.3" y1="1307.7" x2="1302.3" y2="1297.1" stroke="#0b0b0b" stroke-width="3.1"/>
<line x1="1291.8" y1="1297.1" x2="1312.8" y2="1297.1" stroke="#0b0b0b" stroke-width="3.1"/>
<rect x="1282.5" y="1307.4" width="39.5" height="159.3" fill="url(#pBs)" stroke="#0b0b0b" stroke-width="3.4"/>
<line x1="1352.4" y1="1370.4" x2="1352.4" y2="1363.9" stroke="#0b0b0b" stroke-width="3.1"/>
<line x1="1341.9" y1="1363.9" x2="1362.9" y2="1363.9" stroke="#0b0b0b" stroke-width="3.1"/>
<rect x="1332.6" y="1370.1" width="39.5" height="96.6" fill="url(#pFs)" stroke="#0b0b0b" stroke-width="3.4"/>
<line x1="1201.5" y1="1466.7" x2="1201.5" y2="1478.2" stroke="#0b0b0b" stroke-width="3.6"/>
<text x="1201.5" y="1505.1" font-size="26.5" text-anchor="middle" textLength="105.2" lengthAdjust="spacingAndGlyphs">Nephrin</text>
<line x1="1441.4" y1="1238.9" x2="1441.4" y2="1222.8" stroke="#0b0b0b" stroke-width="3.1"/>
<line x1="1430.9" y1="1222.8" x2="1451.9" y2="1222.8" stroke="#0b0b0b" stroke-width="3.1"/>
<rect x="1421.5" y="1238.6" width="39.8" height="228.1" fill="#fff" stroke="#0b0b0b" stroke-width="3.4"/>
<line x1="1491.4" y1="1245.3" x2="1491.4" y2="1232.7" stroke="#0b0b0b" stroke-width="3.1"/>
<line x1="1480.9" y1="1232.7" x2="1501.9" y2="1232.7" stroke="#0b0b0b" stroke-width="3.1"/>
<rect x="1471.5" y="1245.0" width="39.8" height="221.7" fill="#888" stroke="#0b0b0b" stroke-width="3.4"/>
<line x1="1541.3" y1="1361.7" x2="1541.3" y2="1355.3" stroke="#0b0b0b" stroke-width="3.1"/>
<line x1="1530.8" y1="1355.3" x2="1551.8" y2="1355.3" stroke="#0b0b0b" stroke-width="3.1"/>
<rect x="1521.5" y="1361.4" width="39.8" height="105.3" fill="#050505" stroke="#0b0b0b" stroke-width="3.4"/>
<line x1="1591.3" y1="1232.9" x2="1591.3" y2="1216.1" stroke="#0b0b0b" stroke-width="3.1"/>
<line x1="1580.8" y1="1216.1" x2="1601.8" y2="1216.1" stroke="#0b0b0b" stroke-width="3.1"/>
<rect x="1571.4" y="1232.6" width="39.8" height="234.1" fill="url(#pDots)" stroke="#0b0b0b" stroke-width="3.4"/>
<line x1="1641.2" y1="1292.4" x2="1641.2" y2="1281.5" stroke="#0b0b0b" stroke-width="3.1"/>
<line x1="1630.8" y1="1281.5" x2="1651.8" y2="1281.5" stroke="#0b0b0b" stroke-width="3.1"/>
<rect x="1621.4" y="1292.1" width="39.8" height="174.6" fill="url(#pChk)" stroke="#0b0b0b" stroke-width="3.4"/>
<line x1="1691.2" y1="1235.4" x2="1691.2" y2="1222.3" stroke="#0b0b0b" stroke-width="3.1"/>
<line x1="1680.7" y1="1222.3" x2="1701.7" y2="1222.3" stroke="#0b0b0b" stroke-width="3.1"/>
<rect x="1671.3" y="1235.1" width="39.8" height="231.6" fill="url(#pBs)" stroke="#0b0b0b" stroke-width="3.4"/>
<line x1="1741.2" y1="1334.5" x2="1741.2" y2="1326.0" stroke="#0b0b0b" stroke-width="3.1"/>
<line x1="1730.7" y1="1326.0" x2="1751.7" y2="1326.0" stroke="#0b0b0b" stroke-width="3.1"/>
<rect x="1721.3" y="1334.2" width="39.8" height="132.5" fill="url(#pFs)" stroke="#0b0b0b" stroke-width="3.4"/>
<line x1="1591.0" y1="1466.7" x2="1591.0" y2="1478.2" stroke="#0b0b0b" stroke-width="3.6"/>
<text x="1591.7" y="1505.1" font-size="26.5" text-anchor="middle" textLength="110.5" lengthAdjust="spacingAndGlyphs">Podocin</text>
<text x="1148.9" y="1404.8" font-size="31" text-anchor="middle" textLength="39.5" lengthAdjust="spacingAndGlyphs">***</text>
<text x="1540.1" y="1353.8" font-size="31" text-anchor="middle" textLength="39.5" lengthAdjust="spacingAndGlyphs">***</text>
<text x="1252.9" y="1339.6" font-size="21.5" text-anchor="middle" font-weight="normal" textLength="36.3" lengthAdjust="spacingAndGlyphs" stroke="#0b0b0b" stroke-width="0.8">###</text>
<text x="1351.7" y="1353.9" font-size="21.5" text-anchor="middle" font-weight="normal" textLength="36.3" lengthAdjust="spacingAndGlyphs" stroke="#0b0b0b" stroke-width="0.8">###</text>
<text x="1639.7" y="1269.7" font-size="21.5" text-anchor="middle" font-weight="normal" textLength="36.3" lengthAdjust="spacingAndGlyphs" stroke="#0b0b0b" stroke-width="0.8">###</text>
<text x="1740.7" y="1313.9" font-size="21.5" text-anchor="middle" font-weight="normal" textLength="36.3" lengthAdjust="spacingAndGlyphs" stroke="#0b0b0b" stroke-width="0.8">###</text>
<rect x="1794.9" y="1159.8" width="44.2" height="16.2" fill="#fff" stroke="#0b0b0b" stroke-width="3.6" stroke-linejoin="round"/>
<text x="1865.4" y="1177.3" font-size="28" textLength="107.0" lengthAdjust="spacingAndGlyphs">Control</text>
<rect x="1794.9" y="1206.9" width="44.2" height="16.2" fill="#888" stroke="#0b0b0b" stroke-width="3.6" stroke-linejoin="round"/>
<text x="1865.4" y="1224.4" font-size="28" textLength="39.8" lengthAdjust="spacingAndGlyphs">NC</text>
<rect x="1794.9" y="1254.3" width="44.2" height="16.2" fill="#050505" stroke="#0b0b0b" stroke-width="3.6" stroke-linejoin="round"/>
<text x="1865.4" y="1271.8" font-size="28" textLength="89.8" lengthAdjust="spacingAndGlyphs">TRAF5</text>
<rect x="1794.9" y="1301.3" width="44.2" height="16.2" fill="url(#pDots)" stroke="#0b0b0b" stroke-width="3.6" stroke-linejoin="round"/>
<text x="1865.4" y="1318.8" font-size="28" textLength="118.5" lengthAdjust="spacingAndGlyphs">NC+BBR</text>
<rect x="1794.9" y="1348.4" width="44.2" height="16.2" fill="url(#pChk)" stroke="#0b0b0b" stroke-width="3.6" stroke-linejoin="round"/>
<text x="1865.4" y="1365.9" font-size="28" textLength="169.0" lengthAdjust="spacingAndGlyphs">TRAF5+BBR</text>
<rect x="1794.9" y="1395.4" width="44.2" height="16.2" fill="url(#pBs)" stroke="#0b0b0b" stroke-width="3.6" stroke-linejoin="round"/>
<text x="1865.4" y="1412.9" font-size="28" textLength="133.3" lengthAdjust="spacingAndGlyphs">NC+CAPE</text>
<rect x="1794.9" y="1442.5" width="44.2" height="16.2" fill="url(#pFs)" stroke="#0b0b0b" stroke-width="3.6" stroke-linejoin="round"/>
<text x="1865.4" y="1460.0" font-size="28" textLength="183.5" lengthAdjust="spacingAndGlyphs">TRAF5+CAPE</text>
<text x="826.8" y="1545.5" font-size="40.5">G</text>
<line x1="1004.5" y1="1552.8" x2="1004.5" y2="1883.1" stroke="#0b0b0b" stroke-width="3.9"/>
<line x1="993.6" y1="1881.2" x2="1978.1" y2="1881.2" stroke="#0b0b0b" stroke-width="3.8"/>
<line x1="993.6" y1="1556.0" x2="1004.5" y2="1556.0" stroke="#0b0b0b" stroke-width="3.6"/>
<text x="987.0" y="1565.6" font-size="27" text-anchor="end" textLength="37.8" lengthAdjust="spacingAndGlyphs">0.8</text>
<line x1="993.6" y1="1637.2" x2="1004.5" y2="1637.2" stroke="#0b0b0b" stroke-width="3.6"/>
<text x="987.0" y="1646.8" font-size="27" text-anchor="end" textLength="37.8" lengthAdjust="spacingAndGlyphs">0.6</text>
<line x1="993.6" y1="1718.7" x2="1004.5" y2="1718.7" stroke="#0b0b0b" stroke-width="3.6"/>
<text x="987.0" y="1728.3" font-size="27" text-anchor="end" textLength="37.8" lengthAdjust="spacingAndGlyphs">0.4</text>
<line x1="993.6" y1="1799.9" x2="1004.5" y2="1799.9" stroke="#0b0b0b" stroke-width="3.6"/>
<text x="987.0" y="1809.5" font-size="27" text-anchor="end" textLength="37.8" lengthAdjust="spacingAndGlyphs">0.2</text>
<line x1="993.6" y1="1881.2" x2="1004.5" y2="1881.2" stroke="#0b0b0b" stroke-width="3.6"/>
<text x="987.0" y="1890.8" font-size="27" text-anchor="end" textLength="37.8" lengthAdjust="spacingAndGlyphs">0.0</text>
<text x="927.7" y="1719.4" font-size="27.5" text-anchor="middle" transform="rotate(-90 927.7 1719.4)" textLength="272.5" lengthAdjust="spacing">Protein expression</text>
<line x1="1042.2" y1="1747.0" x2="1042.2" y2="1740.5" stroke="#0b0b0b" stroke-width="3.1"/>
<line x1="1032.9" y1="1740.5" x2="1051.4" y2="1740.5" stroke="#0b0b0b" stroke-width="3.1"/>
<rect x="1026.2" y="1746.7" width="31.9" height="134.5" fill="#fff" stroke="#0b0b0b" stroke-width="3.4"/>
<line x1="1083.5" y1="1738.0" x2="1083.5" y2="1729.4" stroke="#0b0b0b" stroke-width="3.1"/>
<line x1="1074.2" y1="1729.4" x2="1092.7" y2="1729.4" stroke="#0b0b0b" stroke-width="3.1"/>
<rect x="1067.5" y="1737.7" width="31.9" height="143.5" fill="#888" stroke="#0b0b0b" stroke-width="3.4"/>
<line x1="1124.7" y1="1841.1" x2="1124.7" y2="1837.8" stroke="#0b0b0b" stroke-width="3.1"/>
<line x1="1115.5" y1="1837.8" x2="1134.0" y2="1837.8" stroke="#0b0b0b" stroke-width="3.1"/>
<rect x="1108.8" y="1840.8" width="31.9" height="40.4" fill="#050505" stroke="#0b0b0b" stroke-width="3.4"/>
<line x1="1166.0" y1="1745.0" x2="1166.0" y2="1736.8" stroke="#0b0b0b" stroke-width="3.1"/>
<line x1="1156.8" y1="1736.8" x2="1175.2" y2="1736.8" stroke="#0b0b0b" stroke-width="3.1"/>
<rect x="1150.0" y="1744.7" width="31.9" height="136.5" fill="url(#pDots)" stroke="#0b0b0b" stroke-width="3.4"/>
<line x1="1207.3" y1="1786.6" x2="1207.3" y2="1780.1" stroke="#0b0b0b" stroke-width="3.1"/>
<line x1="1198.0" y1="1780.1" x2="1216.5" y2="1780.1" stroke="#0b0b0b" stroke-width="3.1"/>
<rect x="1191.3" y="1786.3" width="31.9" height="94.9" fill="url(#pChk)" stroke="#0b0b0b" stroke-width="3.4"/>
<line x1="1248.5" y1="1741.3" x2="1248.5" y2="1733.8" stroke="#0b0b0b" stroke-width="3.1"/>
<line x1="1239.3" y1="1733.8" x2="1257.8" y2="1733.8" stroke="#0b0b0b" stroke-width="3.1"/>
<rect x="1232.6" y="1741.0" width="31.9" height="140.2" fill="url(#pBs)" stroke="#0b0b0b" stroke-width="3.4"/>
<line x1="1289.8" y1="1800.2" x2="1289.8" y2="1795.5" stroke="#0b0b0b" stroke-width="3.1"/>
<line x1="1280.6" y1="1795.5" x2="1299.1" y2="1795.5" stroke="#0b0b0b" stroke-width="3.1"/>
<rect x="1273.9" y="1799.9" width="31.9" height="81.3" fill="url(#pFs)" stroke="#0b0b0b" stroke-width="3.4"/>
<line x1="1166.2" y1="1881.2" x2="1166.2" y2="1892.7" stroke="#0b0b0b" stroke-width="3.6"/>
<text x="1166.2" y="1918.8" font-size="26.5" text-anchor="middle" textLength="66.9" lengthAdjust="spacingAndGlyphs">Bcl-2</text>
<line x1="1364.3" y1="1796.5" x2="1364.3" y2="1790.5" stroke="#0b0b0b" stroke-width="3.1"/>
<line x1="1355.0" y1="1790.5" x2="1373.5" y2="1790.5" stroke="#0b0b0b" stroke-width="3.1"/>
<rect x="1348.0" y="1796.2" width="32.5" height="85.0" fill="#fff" stroke="#0b0b0b" stroke-width="3.4"/>
<line x1="1405.7" y1="1796.5" x2="1405.7" y2="1789.5" stroke="#0b0b0b" stroke-width="3.1"/>
<line x1="1396.5" y1="1789.5" x2="1415.0" y2="1789.5" stroke="#0b0b0b" stroke-width="3.1"/>
<rect x="1389.5" y="1796.2" width="32.5" height="85.0" fill="#888" stroke="#0b0b0b" stroke-width="3.4"/>
<line x1="1447.1" y1="1637.2" x2="1447.1" y2="1619.6" stroke="#0b0b0b" stroke-width="3.1"/>
<line x1="1437.8" y1="1619.6" x2="1456.3" y2="1619.6" stroke="#0b0b0b" stroke-width="3.1"/>
<rect x="1430.8" y="1636.9" width="32.5" height="244.3" fill="#050505" stroke="#0b0b0b" stroke-width="3.4"/>
<line x1="1488.5" y1="1803.9" x2="1488.5" y2="1798.7" stroke="#0b0b0b" stroke-width="3.1"/>
<line x1="1479.2" y1="1798.7" x2="1497.8" y2="1798.7" stroke="#0b0b0b" stroke-width="3.1"/>
<rect x="1472.2" y="1803.6" width="32.5" height="77.6" fill="url(#pDots)" stroke="#0b0b0b" stroke-width="3.4"/>
<line x1="1529.9" y1="1735.1" x2="1529.9" y2="1727.6" stroke="#0b0b0b" stroke-width="3.1"/>
<line x1="1520.7" y1="1727.6" x2="1539.2" y2="1727.6" stroke="#0b0b0b" stroke-width="3.1"/>
<rect x="1513.7" y="1734.8" width="32.5" height="146.4" fill="url(#pChk)" stroke="#0b0b0b" stroke-width="3.4"/>
<line x1="1571.3" y1="1784.1" x2="1571.3" y2="1775.7" stroke="#0b0b0b" stroke-width="3.1"/>
<line x1="1562.0" y1="1775.7" x2="1580.5" y2="1775.7" stroke="#0b0b0b" stroke-width="3.1"/>
<rect x="1555.0" y="1783.8" width="32.5" height="97.4" fill="url(#pBs)" stroke="#0b0b0b" stroke-width="3.4"/>
<line x1="1612.7" y1="1709.1" x2="1612.7" y2="1698.9" stroke="#0b0b0b" stroke-width="3.1"/>
<line x1="1603.5" y1="1698.9" x2="1622.0" y2="1698.9" stroke="#0b0b0b" stroke-width="3.1"/>
<rect x="1596.5" y="1708.8" width="32.5" height="172.4" fill="url(#pFs)" stroke="#0b0b0b" stroke-width="3.4"/>
<line x1="1488.5" y1="1881.2" x2="1488.5" y2="1892.7" stroke="#0b0b0b" stroke-width="3.6"/>
<text x="1486.4" y="1918.8" font-size="26.5" text-anchor="middle" textLength="140.4" lengthAdjust="spacingAndGlyphs">Caspase-3</text>
<line x1="1686.5" y1="1808.9" x2="1686.5" y2="1804.4" stroke="#0b0b0b" stroke-width="3.1"/>
<line x1="1677.2" y1="1804.4" x2="1695.8" y2="1804.4" stroke="#0b0b0b" stroke-width="3.1"/>
<rect x="1670.4" y="1808.6" width="32.2" height="72.6" fill="#fff" stroke="#0b0b0b" stroke-width="3.4"/>
<line x1="1727.9" y1="1806.4" x2="1727.9" y2="1801.2" stroke="#0b0b0b" stroke-width="3.1"/>
<line x1="1718.7" y1="1801.2" x2="1737.2" y2="1801.2" stroke="#0b0b0b" stroke-width="3.1"/>
<rect x="1711.8" y="1806.1" width="32.2" height="75.1" fill="#888" stroke="#0b0b0b" stroke-width="3.4"/>
<line x1="1769.3" y1="1657.1" x2="1769.3" y2="1640.2" stroke="#0b0b0b" stroke-width="3.1"/>
<line x1="1760.0" y1="1640.2" x2="1778.5" y2="1640.2" stroke="#0b0b0b" stroke-width="3.1"/>
<rect x="1753.2" y="1656.8" width="32.2" height="224.4" fill="#050505" stroke="#0b0b0b" stroke-width="3.4"/>
<line x1="1810.7" y1="1816.3" x2="1810.7" y2="1810.6" stroke="#0b0b0b" stroke-width="3.1"/>
<line x1="1801.5" y1="1810.6" x2="1820.0" y2="1810.6" stroke="#0b0b0b" stroke-width="3.1"/>
<rect x="1794.6" y="1816.0" width="32.2" height="65.2" fill="url(#pDots)" stroke="#0b0b0b" stroke-width="3.4"/>
<line x1="1852.1" y1="1711.5" x2="1852.1" y2="1701.6" stroke="#0b0b0b" stroke-width="3.1"/>
<line x1="1842.9" y1="1701.6" x2="1861.4" y2="1701.6" stroke="#0b0b0b" stroke-width="3.1"/>
<rect x="1836.0" y="1711.2" width="32.2" height="170.0" fill="url(#pChk)" stroke="#0b0b0b" stroke-width="3.4"/>
<line x1="1893.5" y1="1805.2" x2="1893.5" y2="1798.2" stroke="#0b0b0b" stroke-width="3.1"/>
<line x1="1884.2" y1="1798.2" x2="1902.8" y2="1798.2" stroke="#0b0b0b" stroke-width="3.1"/>
<rect x="1877.4" y="1804.9" width="32.2" height="76.3" fill="url(#pBs)" stroke="#0b0b0b" stroke-width="3.4"/>
<line x1="1934.9" y1="1680.1" x2="1934.9" y2="1667.0" stroke="#0b0b0b" stroke-width="3.1"/>
<line x1="1925.7" y1="1667.0" x2="1944.2" y2="1667.0" stroke="#0b0b0b" stroke-width="3.1"/>
<rect x="1918.8" y="1679.8" width="32.2" height="201.4" fill="url(#pFs)" stroke="#0b0b0b" stroke-width="3.4"/>
<line x1="1811.0" y1="1881.2" x2="1811.0" y2="1892.7" stroke="#0b0b0b" stroke-width="3.6"/>
<text x="1811.2" y="1918.8" font-size="26.5" text-anchor="middle" textLength="49.0" lengthAdjust="spacingAndGlyphs">Bax</text>
<text x="1124.7" y="1838.7" font-size="31" text-anchor="middle" textLength="39.5" lengthAdjust="spacingAndGlyphs">***</text>
<text x="1445.5" y="1618.3" font-size="31" text-anchor="middle" textLength="39.5" lengthAdjust="spacingAndGlyphs">***</text>
<text x="1768.4" y="1639.4" font-size="31" text-anchor="middle" textLength="39.5" lengthAdjust="spacingAndGlyphs">***</text>
<text x="1207.1" y="1767.6" font-size="21.5" text-anchor="middle" font-weight="normal" textLength="36.3" lengthAdjust="spacingAndGlyphs" stroke="#0b0b0b" stroke-width="0.8">###</text>
<text x="1291.9" y="1785.0" font-size="21.5" text-anchor="middle" font-weight="normal" textLength="36.3" lengthAdjust="spacingAndGlyphs" stroke="#0b0b0b" stroke-width="0.8">###</text>
<text x="1530.0" y="1717.8" font-size="21.5" text-anchor="middle" font-weight="normal" textLength="36.3" lengthAdjust="spacingAndGlyphs" stroke="#0b0b0b" stroke-width="0.8">###</text>
<text x="1612.7" y="1688.3" font-size="21.5" text-anchor="middle" font-weight="normal" textLength="36.3" lengthAdjust="spacingAndGlyphs" stroke="#0b0b0b" stroke-width="0.8">###</text>
<text x="1852.6" y="1690.8" font-size="21.5" text-anchor="middle" font-weight="normal" textLength="24.2" lengthAdjust="spacingAndGlyphs" stroke="#0b0b0b" stroke-width="0.8">##</text>
<text x="1934.8" y="1655.1" font-size="21.5" text-anchor="middle" font-weight="normal" textLength="12.1" lengthAdjust="spacingAndGlyphs" stroke="#0b0b0b" stroke-width="0.8">#</text>
</svg>
</body></html>
